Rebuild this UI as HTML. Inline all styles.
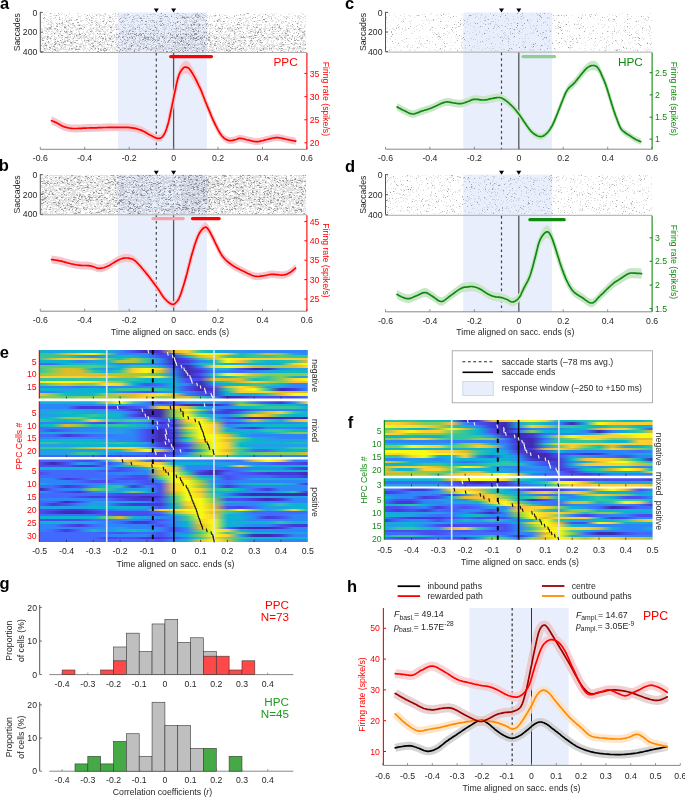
<!DOCTYPE html>
<html><head><meta charset="utf-8"><style>
html,body{margin:0;padding:0;background:#fff;width:685px;height:797px;overflow:hidden}
svg{display:block;font-family:"Liberation Sans",sans-serif;opacity:0.999}
</style></head><body><svg width="685" height="797" viewBox="0 0 685 797" font-family="Liberation Sans, sans-serif"><filter id="rb" x="-2%" y="-5%" width="104%" height="110%"><feGaussianBlur stdDeviation="0.4"/></filter><rect x="118.0" y="12.4" width="88.9" height="136.9" fill="#e8eefc"/><path d="M44 13.5h1m5 0h2m2 0h1m7 0h1m6 0h1m7 0h2m13 0h1m5 0h1m5 0h2m7 0h1m4 0h1m8 0h1m25 0h1m6 0h1m0 0h1m12 0h1m1 0h1m1 0h1m3 0h1m0 0h1m10 0h2m8 0h1m10 0h1m30 0h1m14 0h1m9 0h1m2 0h1m1 0h1m12 0h1m2 0h1m8 0h2M43 14.5h1m1 0h1m13 0h1m1 0h1m2 0h1m19 0h1m0 0h1m3 0h1m5 0h1m0 0h2m1 0h2m11 0h1m4 0h1m0 0h1m4 0h2m0 0h1m1 0h2m8 0h1m8 0h2m3 0h1m1 0h1m0 0h1m0 0h1m8 0h1m6 0h1m2 0h1m4 0h1m8 0h1m3 0h2m1 0h1m1 0h2m0 0h1m2 0h2m15 0h1m2 0h1m20 0h1m15 0h1m3 0h1m1 0h1m3 0h1m2 0h1m0 0h1m7 0h1m6 0h1m14 0h1M44 15.5h1m1 0h1m6 0h2m0 0h1m1 0h2m18 0h1m3 0h1m5 0h1m1 0h1m2 0h1m6 0h1m0 0h1m0 0h1m0 0h2m4 0h1m0 0h1m5 0h1m5 0h1m2 0h1m1 0h1m0 0h1m4 0h1m2 0h1m0 0h1m0 0h2m4 0h1m13 0h1m0 0h1m3 0h2m7 0h1m4 0h1m2 0h2m0 0h2m3 0h1m4 0h1m0 0h1m2 0h1m0 0h1m0 0h1m0 0h1m0 0h1m0 0h1m2 0h2m0 0h1m1 0h1m2 0h1m2 0h1m0 0h1m0 0h2m7 0h2m0 0h1m7 0h1m3 0h1m1 0h1m1 0h2m14 0h1m0 0h1m7 0h1m0 0h1m3 0h1m1 0h1m5 0h1m13 0h2m2 0h2m5 0h1M49 16.5h1m0 0h2m13 0h1m2 0h1m9 0h1m0 0h2m4 0h1m4 0h1m2 0h1m0 0h1m4 0h1m3 0h1m0 0h1m4 0h1m0 0h1m1 0h1m1 0h2m1 0h1m1 0h1m2 0h1m1 0h1m5 0h1m2 0h2m4 0h1m3 0h2m7 0h1m6 0h2m3 0h1m6 0h1m6 0h1m4 0h1m0 0h1m1 0h1m0 0h2m1 0h2m4 0h1m0 0h1m0 0h1m1 0h2m3 0h1m0 0h1m2 0h1m1 0h2m1 0h2m4 0h1m1 0h1m6 0h1m20 0h1m6 0h1m10 0h1m0 0h2m0 0h1m6 0h1m4 0h1m0 0h1m1 0h1m0 0h1m1 0h1m2 0h1m2 0h1m1 0h1m0 0h1m1 0h2m2 0h2M67 17.5h1m3 0h1m0 0h1m5 0h1m9 0h1m3 0h1m14 0h1m3 0h1m9 0h1m1 0h2m1 0h1m11 0h2m0 0h1m0 0h1m17 0h1m4 0h1m3 0h1m5 0h1m5 0h2m0 0h2m0 0h1m0 0h1m3 0h2m0 0h1m0 0h1m0 0h1m0 0h1m1 0h1m0 0h1m2 0h1m1 0h1m0 0h1m0 0h1m2 0h1m1 0h1m9 0h1m6 0h1m4 0h1m0 0h1m10 0h1m1 0h1m2 0h1m0 0h2m4 0h1m4 0h1m1 0h1m5 0h1m2 0h1m2 0h2m8 0h2m1 0h2m8 0h1m0 0h2m2 0h2M44 18.5h2m4 0h1m0 0h1m1 0h2m4 0h1m2 0h1m2 0h1m3 0h1m10 0h1m4 0h1m1 0h1m3 0h1m0 0h2m1 0h1m0 0h1m5 0h1m0 0h2m5 0h1m1 0h1m0 0h1m1 0h1m0 0h1m4 0h1m2 0h1m2 0h1m6 0h2m0 0h1m0 0h1m1 0h2m0 0h1m1 0h2m1 0h1m1 0h1m0 0h1m8 0h1m3 0h1m4 0h1m1 0h1m8 0h2m1 0h1m0 0h1m6 0h1m3 0h1m4 0h1m1 0h1m2 0h1m5 0h1m2 0h1m7 0h1m0 0h1m1 0h2m3 0h2m0 0h1m2 0h1m2 0h1m1 0h1m4 0h1m1 0h2m0 0h1m9 0h1m3 0h1m3 0h2m2 0h1m5 0h1m7 0h1m5 0h1m7 0h1m1 0h2m4 0h1M47 19.5h1m2 0h1m5 0h1m2 0h1m0 0h1m4 0h1m3 0h2m0 0h1m15 0h1m12 0h1m3 0h1m2 0h1m1 0h1m2 0h1m20 0h2m25 0h1m2 0h1m5 0h1m16 0h1m3 0h1m2 0h1m0 0h1m2 0h1m1 0h1m0 0h2m1 0h2m30 0h1m1 0h1m3 0h1m0 0h1m7 0h1m12 0h2m6 0h1m4 0h2m2 0h1m5 0h1m12 0h1m3 0h1M44 20.5h1m3 0h1m0 0h1m1 0h1m10 0h1m1 0h1m1 0h1m0 0h1m0 0h1m1 0h1m3 0h2m0 0h1m3 0h2m0 0h1m0 0h1m1 0h1m0 0h1m2 0h1m0 0h1m1 0h1m2 0h1m0 0h1m6 0h1m0 0h1m3 0h1m4 0h1m4 0h1m3 0h1m0 0h1m2 0h1m0 0h1m4 0h1m3 0h2m10 0h2m0 0h1m0 0h1m1 0h1m0 0h1m2 0h1m2 0h2m0 0h1m2 0h1m1 0h1m0 0h1m3 0h1m7 0h1m2 0h1m1 0h1m0 0h1m0 0h1m1 0h1m1 0h1m2 0h1m0 0h1m2 0h1m2 0h1m0 0h2m0 0h1m0 0h1m0 0h1m2 0h1m4 0h1m1 0h1m0 0h2m0 0h2m7 0h1m2 0h1m5 0h1m1 0h1m0 0h2m4 0h1m0 0h1m3 0h1m5 0h2m1 0h1m1 0h1m1 0h1m5 0h1m1 0h2m4 0h1m0 0h1m11 0h1m6 0h1M50 21.5h1m0 0h2m9 0h1m3 0h1m0 0h2m11 0h2m5 0h1m6 0h2m4 0h1m2 0h1m3 0h1m1 0h1m1 0h1m1 0h1m0 0h1m4 0h2m2 0h2m6 0h1m0 0h1m0 0h1m3 0h2m1 0h1m1 0h1m3 0h1m3 0h1m1 0h2m2 0h1m11 0h1m0 0h1m14 0h1m0 0h1m0 0h1m2 0h1m0 0h2m0 0h1m0 0h2m1 0h2m7 0h1m2 0h1m4 0h1m3 0h2m1 0h2m1 0h1m3 0h1m12 0h1m4 0h2m1 0h1m3 0h2m1 0h2m5 0h1m4 0h2m2 0h2m3 0h1m1 0h1m2 0h1m0 0h2m2 0h1m5 0h2m6 0h1m0 0h1m3 0h1M42 22.5h1m0 0h1m4 0h1m1 0h1m0 0h1m3 0h1m1 0h1m6 0h1m2 0h2m0 0h1m7 0h1m10 0h1m8 0h1m1 0h1m11 0h1m8 0h1m2 0h1m4 0h1m2 0h1m1 0h2m5 0h1m7 0h1m2 0h1m1 0h1m0 0h1m10 0h1m9 0h1m0 0h2m2 0h1m3 0h1m0 0h2m5 0h1m0 0h1m0 0h1m10 0h1m16 0h1m11 0h1m3 0h1m0 0h1m3 0h1m1 0h1m2 0h1m8 0h1m4 0h2m1 0h2m8 0h1m0 0h1m4 0h1m1 0h1m4 0h1m0 0h1m7 0h2m2 0h2M48 23.5h1m2 0h2m0 0h1m4 0h1m0 0h1m9 0h2m17 0h1m0 0h1m5 0h1m1 0h1m0 0h1m1 0h1m2 0h1m9 0h1m28 0h1m3 0h1m10 0h1m2 0h1m1 0h1m4 0h2m1 0h1m3 0h1m9 0h1m1 0h1m5 0h1m0 0h1m0 0h1m2 0h1m0 0h1m0 0h1m5 0h1m0 0h1m4 0h1m4 0h1m3 0h1m2 0h2m0 0h1m2 0h1m5 0h1m2 0h1m5 0h1m5 0h1m2 0h1m3 0h1m12 0h1m11 0h1m0 0h1m5 0h2m6 0h1m1 0h1M47 24.5h1m0 0h2m0 0h2m1 0h1m5 0h2m1 0h1m0 0h1m0 0h1m0 0h1m2 0h1m1 0h1m0 0h1m0 0h1m0 0h1m4 0h1m0 0h2m2 0h2m1 0h1m0 0h1m2 0h2m0 0h1m5 0h2m8 0h1m3 0h1m0 0h1m1 0h1m0 0h1m0 0h1m2 0h1m0 0h1m2 0h1m0 0h1m1 0h2m1 0h1m1 0h1m1 0h1m3 0h1m1 0h1m0 0h1m0 0h1m1 0h1m0 0h2m1 0h1m0 0h1m4 0h1m1 0h2m1 0h1m0 0h1m0 0h1m2 0h1m0 0h1m2 0h1m4 0h1m1 0h1m4 0h1m0 0h1m0 0h1m1 0h2m1 0h1m0 0h1m1 0h1m0 0h1m1 0h2m0 0h1m0 0h1m0 0h1m0 0h1m0 0h1m0 0h1m1 0h1m0 0h2m1 0h1m0 0h2m0 0h1m1 0h1m4 0h1m5 0h1m0 0h1m4 0h1m1 0h1m5 0h2m5 0h1m0 0h1m2 0h1m5 0h1m1 0h2m0 0h2m0 0h1m0 0h1m0 0h1m2 0h2m3 0h1m3 0h2m0 0h1m0 0h2m1 0h1m7 0h1m4 0h1m4 0h1m2 0h1m0 0h1m3 0h1M43 25.5h1m6 0h1m0 0h1m4 0h1m0 0h1m3 0h2m2 0h1m1 0h1m4 0h1m0 0h1m3 0h1m1 0h2m0 0h1m0 0h1m2 0h1m3 0h1m0 0h1m0 0h1m3 0h1m0 0h2m1 0h2m0 0h1m2 0h1m2 0h1m1 0h2m1 0h1m2 0h1m0 0h1m0 0h1m5 0h1m1 0h1m3 0h1m1 0h1m5 0h1m0 0h1m0 0h1m6 0h1m2 0h1m1 0h1m0 0h1m5 0h1m2 0h2m0 0h1m0 0h1m1 0h1m0 0h2m1 0h1m0 0h2m2 0h1m0 0h1m2 0h1m2 0h1m1 0h1m0 0h1m1 0h2m1 0h1m0 0h2m0 0h1m0 0h1m1 0h1m0 0h1m0 0h1m0 0h1m0 0h1m4 0h1m0 0h1m1 0h1m1 0h1m4 0h1m0 0h1m0 0h1m8 0h1m0 0h1m1 0h1m2 0h2m1 0h1m0 0h1m2 0h1m0 0h1m2 0h1m0 0h1m0 0h1m0 0h1m0 0h1m1 0h1m1 0h1m5 0h1m1 0h1m1 0h1m4 0h1m0 0h1m1 0h1m0 0h1m2 0h1m0 0h1m0 0h1m1 0h2m0 0h1m6 0h1m0 0h1m0 0h1m1 0h1m2 0h1m6 0h1m3 0h1M44 26.5h1m6 0h1m1 0h1m3 0h1m1 0h1m2 0h1m2 0h1m0 0h1m1 0h2m4 0h2m6 0h2m0 0h1m1 0h1m12 0h1m2 0h1m0 0h2m0 0h1m0 0h1m1 0h1m0 0h2m0 0h1m3 0h2m1 0h1m3 0h1m6 0h2m0 0h1m1 0h1m5 0h1m6 0h1m0 0h1m2 0h1m1 0h1m1 0h1m0 0h1m8 0h1m4 0h1m5 0h1m2 0h1m0 0h2m5 0h1m0 0h1m3 0h1m13 0h1m0 0h2m0 0h1m1 0h1m9 0h1m0 0h1m0 0h1m3 0h1m5 0h1m0 0h1m13 0h1m8 0h1m0 0h1m6 0h1m0 0h1m6 0h1m2 0h1m3 0h1m3 0h1m3 0h2m1 0h1m0 0h2m1 0h1m2 0h1m3 0h1m2 0h2M45 27.5h1m0 0h1m1 0h1m2 0h1m8 0h2m2 0h2m0 0h1m3 0h1m0 0h2m0 0h2m0 0h1m4 0h2m2 0h1m5 0h1m2 0h1m0 0h1m1 0h1m1 0h2m1 0h1m0 0h2m0 0h1m0 0h1m1 0h1m2 0h1m0 0h1m0 0h1m1 0h1m0 0h1m0 0h2m6 0h2m2 0h1m3 0h1m0 0h2m2 0h1m5 0h1m2 0h1m0 0h1m1 0h1m4 0h1m0 0h1m0 0h2m4 0h1m0 0h1m1 0h1m0 0h1m2 0h1m2 0h1m3 0h1m0 0h1m2 0h1m4 0h2m2 0h1m0 0h2m0 0h1m2 0h1m0 0h1m1 0h1m0 0h2m1 0h2m7 0h1m1 0h1m5 0h1m2 0h1m1 0h1m3 0h2m4 0h2m1 0h1m1 0h1m0 0h1m2 0h1m2 0h1m0 0h1m1 0h1m1 0h1m1 0h1m0 0h1m0 0h1m0 0h1m4 0h1m3 0h1m4 0h1m0 0h2m0 0h1m1 0h1m10 0h1m6 0h1m3 0h2m5 0h1M41 28.5h1m2 0h2m0 0h1m1 0h1m1 0h2m4 0h1m7 0h1m0 0h1m0 0h1m1 0h1m2 0h2m3 0h1m0 0h1m0 0h2m1 0h1m1 0h1m6 0h2m0 0h1m3 0h2m2 0h1m0 0h1m2 0h1m6 0h1m5 0h2m5 0h1m0 0h1m6 0h1m0 0h1m5 0h1m1 0h2m4 0h2m1 0h2m8 0h1m3 0h1m0 0h1m0 0h1m2 0h1m3 0h1m0 0h1m0 0h1m0 0h1m0 0h1m2 0h1m0 0h1m3 0h1m1 0h1m0 0h1m0 0h1m0 0h1m0 0h2m0 0h1m0 0h1m0 0h1m0 0h2m0 0h1m0 0h1m0 0h1m1 0h1m1 0h1m1 0h1m0 0h1m1 0h1m0 0h1m0 0h1m0 0h1m1 0h2m1 0h1m0 0h1m0 0h1m1 0h1m2 0h1m0 0h1m1 0h1m0 0h1m0 0h2m0 0h2m1 0h1m3 0h1m0 0h2m0 0h1m4 0h1m8 0h1m3 0h1m0 0h1m0 0h1m1 0h1m0 0h2m0 0h1m0 0h2m1 0h1m1 0h1m3 0h1m1 0h1m0 0h1m0 0h1m0 0h1m0 0h1m3 0h1m0 0h1m0 0h2m0 0h2m1 0h1m1 0h1m3 0h1m1 0h1m0 0h1m0 0h1M41 29.5h1m0 0h1m5 0h1m0 0h2m0 0h1m0 0h1m1 0h2m1 0h1m1 0h1m1 0h1m1 0h1m2 0h1m0 0h2m1 0h1m4 0h2m0 0h1m0 0h1m0 0h2m1 0h2m2 0h1m1 0h1m0 0h1m0 0h2m3 0h1m0 0h1m0 0h1m0 0h1m2 0h1m3 0h1m1 0h2m1 0h2m1 0h2m1 0h1m0 0h2m0 0h2m1 0h1m4 0h1m2 0h1m0 0h2m0 0h1m0 0h1m3 0h1m0 0h1m2 0h1m2 0h1m2 0h2m0 0h1m3 0h1m1 0h2m4 0h1m0 0h1m0 0h2m8 0h1m0 0h1m0 0h1m1 0h1m2 0h1m2 0h1m0 0h1m2 0h2m2 0h1m0 0h1m0 0h1m7 0h1m1 0h1m5 0h1m4 0h1m0 0h1m0 0h2m0 0h1m7 0h1m0 0h1m0 0h1m1 0h1m0 0h1m1 0h1m3 0h1m3 0h1m4 0h1m2 0h1m1 0h1m1 0h1m0 0h1m7 0h1m0 0h2m3 0h1m0 0h1m1 0h1m1 0h1m5 0h1m6 0h1m5 0h1m0 0h1m0 0h2m1 0h1M42 30.5h1m1 0h2m0 0h1m1 0h1m7 0h1m0 0h2m2 0h1m0 0h1m1 0h1m2 0h1m2 0h1m2 0h1m2 0h1m1 0h1m8 0h1m1 0h1m1 0h2m3 0h1m0 0h1m0 0h1m0 0h1m0 0h1m2 0h1m2 0h1m0 0h1m3 0h1m0 0h2m9 0h2m1 0h1m12 0h1m3 0h1m1 0h2m6 0h2m2 0h2m0 0h1m4 0h1m3 0h1m2 0h1m4 0h1m0 0h1m2 0h1m1 0h1m0 0h1m0 0h2m1 0h1m0 0h1m1 0h1m0 0h1m1 0h1m1 0h1m4 0h1m5 0h1m2 0h1m3 0h1m1 0h1m2 0h1m1 0h2m6 0h1m0 0h1m0 0h2m0 0h1m0 0h1m5 0h1m8 0h1m0 0h1m2 0h1m1 0h1m0 0h1m2 0h1m0 0h1m0 0h1m0 0h1m2 0h2m1 0h1m0 0h1m0 0h1m3 0h1m3 0h1m1 0h2m2 0h2m0 0h1m1 0h1m0 0h1m0 0h1m2 0h1m6 0h2m0 0h1m2 0h1M42 31.5h1m2 0h1m0 0h1m1 0h1m0 0h1m1 0h1m0 0h1m3 0h1m0 0h1m0 0h1m1 0h1m0 0h1m2 0h2m0 0h1m0 0h1m0 0h1m2 0h2m5 0h2m3 0h1m2 0h1m0 0h1m2 0h1m1 0h1m2 0h1m0 0h1m1 0h1m1 0h1m0 0h1m1 0h1m0 0h1m0 0h1m1 0h1m2 0h1m1 0h1m8 0h1m0 0h1m0 0h1m1 0h2m0 0h1m0 0h1m3 0h1m2 0h1m3 0h1m0 0h1m0 0h1m2 0h1m3 0h2m4 0h2m5 0h1m2 0h1m7 0h1m0 0h1m0 0h1m0 0h1m0 0h1m1 0h1m0 0h1m5 0h1m0 0h1m1 0h1m2 0h1m0 0h1m0 0h1m0 0h1m2 0h1m0 0h2m0 0h1m2 0h1m0 0h2m1 0h1m1 0h1m2 0h1m3 0h1m3 0h1m1 0h1m2 0h1m0 0h1m1 0h1m1 0h2m0 0h1m4 0h1m0 0h2m2 0h1m3 0h1m0 0h1m4 0h2m1 0h1m0 0h1m1 0h1m1 0h1m0 0h1m2 0h1m6 0h2m0 0h2m0 0h2m1 0h1m4 0h1m1 0h1m0 0h1m1 0h1m0 0h1m7 0h1m1 0h1m0 0h1m0 0h1m0 0h2m1 0h1M42 32.5h1m4 0h1m5 0h1m1 0h1m1 0h1m2 0h1m6 0h1m1 0h2m0 0h1m0 0h1m3 0h1m2 0h1m3 0h1m2 0h1m0 0h2m2 0h1m1 0h1m10 0h2m3 0h1m1 0h1m4 0h1m3 0h1m0 0h1m4 0h1m1 0h1m5 0h1m16 0h1m2 0h1m3 0h1m4 0h1m0 0h1m3 0h2m1 0h1m1 0h1m1 0h1m0 0h1m3 0h1m5 0h1m2 0h1m0 0h1m2 0h1m3 0h2m2 0h2m0 0h2m0 0h1m0 0h1m2 0h2m0 0h1m6 0h2m1 0h1m2 0h2m7 0h2m0 0h2m11 0h1m0 0h2m2 0h1m0 0h1m2 0h2m2 0h2m2 0h1m5 0h2m9 0h1m1 0h2m1 0h1m1 0h2m3 0h1m5 0h1m3 0h1M43 33.5h1m1 0h1m0 0h2m3 0h1m0 0h1m1 0h1m0 0h2m1 0h1m0 0h1m0 0h1m2 0h1m0 0h1m1 0h2m4 0h1m1 0h2m5 0h1m2 0h2m2 0h2m0 0h1m1 0h1m0 0h1m3 0h1m1 0h1m3 0h2m0 0h1m2 0h1m1 0h1m5 0h1m2 0h1m0 0h1m0 0h1m0 0h1m3 0h1m0 0h1m2 0h1m0 0h1m1 0h1m0 0h1m1 0h1m2 0h1m0 0h1m2 0h1m1 0h1m0 0h1m1 0h1m1 0h1m0 0h1m0 0h1m0 0h2m0 0h1m0 0h2m2 0h1m0 0h1m2 0h1m1 0h2m0 0h1m5 0h1m3 0h1m1 0h1m1 0h1m1 0h1m0 0h1m0 0h2m0 0h1m1 0h1m0 0h1m0 0h1m2 0h2m1 0h1m0 0h1m3 0h1m0 0h2m0 0h2m0 0h1m10 0h1m1 0h1m7 0h1m0 0h1m3 0h2m3 0h1m0 0h1m2 0h1m1 0h1m0 0h1m1 0h1m0 0h2m3 0h1m0 0h1m5 0h1m2 0h2m0 0h2m2 0h1m1 0h1m1 0h1m1 0h1m0 0h1m1 0h1m1 0h1m2 0h2m7 0h1m0 0h1m3 0h1m4 0h2m0 0h1M42 34.5h1m5 0h1m1 0h1m0 0h1m2 0h1m4 0h1m0 0h1m0 0h1m5 0h1m0 0h1m0 0h1m0 0h1m1 0h1m0 0h1m0 0h1m0 0h1m0 0h1m0 0h1m0 0h1m0 0h1m0 0h1m4 0h1m3 0h2m2 0h2m3 0h1m0 0h1m0 0h2m0 0h1m0 0h1m0 0h1m0 0h1m0 0h1m0 0h1m0 0h1m4 0h2m4 0h2m1 0h1m0 0h1m3 0h1m1 0h2m1 0h1m1 0h2m0 0h1m1 0h1m0 0h1m0 0h2m2 0h1m2 0h1m0 0h2m0 0h1m4 0h1m2 0h1m1 0h1m1 0h1m0 0h1m0 0h1m5 0h1m0 0h2m0 0h2m3 0h1m1 0h1m0 0h1m0 0h1m0 0h2m0 0h1m0 0h1m0 0h2m0 0h1m1 0h1m2 0h1m0 0h2m0 0h1m2 0h1m2 0h1m4 0h2m0 0h1m3 0h1m0 0h1m0 0h2m0 0h1m1 0h1m2 0h1m0 0h1m0 0h1m0 0h1m0 0h1m1 0h1m4 0h2m2 0h1m0 0h1m1 0h1m0 0h1m1 0h1m7 0h1m1 0h1m3 0h1m1 0h1m5 0h1m1 0h1m0 0h1m0 0h1m0 0h1m0 0h1m8 0h1m3 0h1m0 0h1m0 0h1m0 0h1m1 0h1m7 0h1m3 0h1m0 0h1m0 0h1M41 35.5h1m5 0h1m4 0h1m5 0h1m2 0h2m3 0h1m1 0h1m5 0h1m1 0h2m0 0h2m1 0h1m0 0h1m0 0h1m3 0h2m0 0h1m5 0h1m11 0h1m1 0h1m0 0h1m1 0h1m3 0h1m1 0h1m7 0h1m4 0h1m4 0h2m0 0h1m11 0h1m2 0h1m0 0h1m1 0h2m2 0h1m0 0h1m1 0h2m1 0h2m2 0h1m0 0h2m4 0h1m7 0h1m5 0h1m0 0h2m0 0h1m4 0h1m0 0h1m1 0h1m1 0h1m0 0h2m3 0h1m0 0h1m0 0h1m0 0h1m5 0h1m1 0h2m3 0h1m4 0h1m2 0h1m1 0h1m0 0h1m2 0h1m2 0h1m2 0h1m4 0h2m2 0h1m1 0h1m4 0h2m3 0h1m4 0h1m0 0h1m3 0h1m1 0h1m0 0h1m1 0h2m0 0h1m0 0h2m13 0h2m0 0h1m0 0h1m0 0h1m0 0h1M41 36.5h1m1 0h1m0 0h1m0 0h1m0 0h1m7 0h1m3 0h2m2 0h1m1 0h1m2 0h1m0 0h1m0 0h2m1 0h1m3 0h1m0 0h1m0 0h1m1 0h1m0 0h1m1 0h2m0 0h1m3 0h1m3 0h1m1 0h1m0 0h1m4 0h1m2 0h2m1 0h1m1 0h1m2 0h1m1 0h1m0 0h1m6 0h1m0 0h1m0 0h1m0 0h1m0 0h1m2 0h1m3 0h1m2 0h1m2 0h1m2 0h1m2 0h1m0 0h1m0 0h1m1 0h1m0 0h1m0 0h1m1 0h1m2 0h2m1 0h1m0 0h2m0 0h1m2 0h2m2 0h1m2 0h1m0 0h1m0 0h1m2 0h1m0 0h2m0 0h1m0 0h1m1 0h1m0 0h2m0 0h1m2 0h1m0 0h1m0 0h1m0 0h1m1 0h1m4 0h1m1 0h1m0 0h2m4 0h1m0 0h2m0 0h1m1 0h1m1 0h2m2 0h1m1 0h1m1 0h1m3 0h1m0 0h2m4 0h1m0 0h1m2 0h2m0 0h1m5 0h1m0 0h1m0 0h1m0 0h1m2 0h1m0 0h1m5 0h1m0 0h2m0 0h1m4 0h2m1 0h1m2 0h1m0 0h2m1 0h1m1 0h1m0 0h1m0 0h1m2 0h1m0 0h1m0 0h1m4 0h1m2 0h1m0 0h1m0 0h1m3 0h1m1 0h2m0 0h2M41 37.5h1m0 0h1m0 0h1m0 0h2m1 0h1m0 0h2m0 0h1m3 0h1m0 0h1m0 0h1m2 0h1m0 0h2m0 0h1m3 0h1m1 0h1m0 0h2m2 0h1m0 0h1m1 0h1m0 0h1m1 0h1m1 0h1m0 0h1m0 0h1m0 0h1m0 0h1m0 0h1m0 0h1m1 0h1m0 0h1m0 0h1m0 0h1m0 0h1m1 0h1m2 0h1m0 0h2m1 0h1m0 0h1m1 0h1m2 0h1m0 0h2m0 0h1m1 0h2m0 0h1m1 0h1m0 0h1m1 0h1m1 0h1m0 0h1m3 0h1m1 0h2m0 0h1m0 0h1m1 0h2m2 0h1m0 0h1m0 0h1m0 0h2m0 0h1m4 0h2m0 0h1m0 0h1m0 0h1m0 0h2m1 0h1m0 0h2m0 0h1m2 0h1m0 0h2m0 0h1m0 0h1m0 0h1m1 0h1m0 0h1m0 0h1m0 0h2m1 0h1m0 0h1m1 0h2m0 0h1m0 0h1m0 0h1m0 0h2m0 0h1m1 0h1m0 0h2m0 0h1m0 0h1m0 0h1m0 0h1m0 0h1m0 0h1m0 0h1m0 0h1m0 0h1m1 0h1m1 0h1m0 0h1m1 0h2m1 0h1m0 0h1m2 0h1m0 0h1m0 0h1m1 0h1m0 0h2m2 0h2m0 0h1m0 0h1m0 0h2m0 0h1m0 0h1m0 0h1m2 0h2m0 0h1m0 0h1m4 0h2m2 0h1m0 0h1m1 0h1m0 0h1m0 0h2m2 0h1m0 0h1m0 0h1m0 0h1m0 0h1m0 0h1m2 0h1m1 0h1m0 0h1m0 0h1m0 0h1m1 0h1m0 0h1m1 0h1m0 0h1m0 0h1m0 0h1m0 0h1m0 0h2m0 0h1m1 0h1m0 0h1m0 0h1m1 0h1m0 0h1m0 0h1m2 0h1m0 0h1m1 0h1m1 0h1m1 0h1m0 0h1m0 0h1m0 0h2m0 0h2M43 38.5h2m1 0h1m0 0h2m0 0h1m0 0h2m2 0h1m1 0h1m1 0h1m2 0h1m2 0h1m0 0h1m1 0h1m0 0h1m2 0h2m2 0h1m1 0h2m2 0h1m1 0h2m2 0h2m2 0h1m0 0h1m2 0h1m0 0h1m0 0h1m2 0h2m0 0h2m2 0h1m1 0h1m1 0h1m1 0h2m2 0h2m5 0h2m2 0h1m0 0h1m1 0h1m0 0h1m0 0h1m6 0h1m3 0h1m1 0h2m0 0h1m2 0h1m6 0h2m0 0h1m3 0h1m0 0h1m1 0h1m6 0h1m0 0h1m0 0h1m0 0h1m0 0h2m0 0h1m0 0h1m0 0h1m0 0h1m0 0h1m0 0h2m0 0h1m0 0h1m0 0h1m3 0h1m1 0h1m0 0h1m0 0h1m1 0h1m0 0h2m0 0h1m0 0h1m3 0h1m0 0h2m0 0h1m0 0h1m7 0h1m0 0h1m2 0h2m0 0h2m1 0h1m0 0h2m0 0h1m0 0h1m1 0h2m0 0h1m0 0h2m1 0h1m0 0h1m2 0h1m1 0h1m3 0h1m1 0h1m0 0h2m0 0h1m4 0h1m0 0h1m2 0h1m0 0h2m0 0h1m1 0h1m2 0h2m2 0h1m0 0h1m0 0h2m1 0h1m6 0h1m0 0h2m0 0h2m2 0h1m5 0h1m0 0h1m3 0h1M41 39.5h1m0 0h1m3 0h1m3 0h1m2 0h1m0 0h2m8 0h1m2 0h2m3 0h1m5 0h1m2 0h1m2 0h1m3 0h1m0 0h1m0 0h2m1 0h1m1 0h1m2 0h1m3 0h1m0 0h1m1 0h2m2 0h1m1 0h2m2 0h1m0 0h2m7 0h1m1 0h1m0 0h2m3 0h1m0 0h2m3 0h2m2 0h1m1 0h1m0 0h1m2 0h2m0 0h1m3 0h1m0 0h1m0 0h2m0 0h1m3 0h1m1 0h1m3 0h1m0 0h1m4 0h1m1 0h2m1 0h1m0 0h2m2 0h1m6 0h1m2 0h1m2 0h1m0 0h1m3 0h1m2 0h1m0 0h1m7 0h1m1 0h1m0 0h1m2 0h1m4 0h1m3 0h2m4 0h1m7 0h1m6 0h1m7 0h1m2 0h1m1 0h1m0 0h1m1 0h2m7 0h1m4 0h2m0 0h1m7 0h1m2 0h1m5 0h1m0 0h1M42 40.5h1m0 0h1m7 0h1m2 0h1m2 0h1m2 0h2m2 0h1m0 0h1m0 0h1m1 0h1m1 0h1m2 0h1m0 0h2m5 0h1m2 0h1m3 0h1m0 0h1m0 0h1m0 0h1m1 0h2m0 0h1m1 0h1m7 0h2m0 0h1m0 0h2m4 0h1m1 0h1m4 0h1m1 0h1m1 0h1m0 0h1m0 0h1m0 0h1m2 0h1m0 0h1m0 0h1m0 0h1m2 0h1m1 0h2m0 0h1m0 0h1m1 0h1m3 0h2m0 0h1m1 0h2m1 0h1m2 0h1m0 0h1m9 0h1m1 0h1m0 0h1m0 0h1m2 0h1m0 0h1m3 0h1m0 0h1m2 0h1m3 0h1m1 0h1m0 0h1m1 0h1m0 0h2m0 0h1m1 0h1m1 0h2m0 0h1m1 0h1m0 0h1m0 0h1m2 0h1m1 0h1m0 0h1m3 0h1m1 0h1m0 0h1m2 0h1m1 0h1m2 0h2m1 0h2m2 0h1m1 0h1m2 0h1m0 0h2m5 0h1m2 0h1m0 0h1m1 0h1m1 0h1m2 0h1m0 0h2m1 0h1m2 0h1m1 0h1m2 0h1m1 0h2m2 0h1m3 0h1m2 0h1m0 0h1m1 0h1m1 0h1m5 0h1m3 0h1m1 0h1m0 0h1m0 0h1m0 0h1M46 41.5h1m3 0h1m4 0h1m1 0h1m4 0h2m4 0h2m0 0h1m1 0h1m0 0h1m8 0h1m1 0h1m0 0h1m3 0h1m6 0h1m0 0h2m1 0h1m3 0h1m0 0h2m1 0h1m1 0h1m0 0h1m0 0h1m3 0h1m1 0h1m6 0h1m3 0h1m3 0h1m0 0h1m0 0h1m2 0h1m3 0h1m0 0h2m1 0h2m3 0h1m4 0h1m0 0h1m5 0h2m0 0h1m1 0h1m3 0h1m1 0h1m0 0h2m1 0h1m2 0h1m0 0h1m0 0h1m0 0h1m0 0h1m0 0h1m0 0h1m1 0h2m0 0h1m1 0h1m0 0h1m1 0h1m6 0h1m6 0h2m0 0h2m3 0h2m0 0h1m0 0h1m4 0h1m1 0h1m0 0h1m0 0h1m1 0h1m0 0h1m1 0h1m2 0h1m2 0h1m0 0h2m3 0h1m3 0h1m0 0h1m0 0h2m2 0h1m3 0h1m0 0h1m6 0h1m3 0h1m1 0h1m14 0h1m0 0h1m0 0h1m12 0h2m0 0h1M45 42.5h1m1 0h1m1 0h1m5 0h1m0 0h1m2 0h1m0 0h1m0 0h1m0 0h1m1 0h2m4 0h1m1 0h1m0 0h1m8 0h1m2 0h1m0 0h1m0 0h1m4 0h1m0 0h1m3 0h1m0 0h2m1 0h1m0 0h2m0 0h2m1 0h1m4 0h2m4 0h1m0 0h2m0 0h2m1 0h1m2 0h1m2 0h1m4 0h1m1 0h1m0 0h1m0 0h1m1 0h1m4 0h1m3 0h1m5 0h1m6 0h1m4 0h2m0 0h1m1 0h1m1 0h1m1 0h1m3 0h1m2 0h2m0 0h1m0 0h1m0 0h1m0 0h1m1 0h1m0 0h2m2 0h1m4 0h1m3 0h2m5 0h1m8 0h1m1 0h1m0 0h1m1 0h1m2 0h1m0 0h1m1 0h1m1 0h1m0 0h1m0 0h1m0 0h1m2 0h1m0 0h1m1 0h2m6 0h2m1 0h1m4 0h2m7 0h1m3 0h2m7 0h2m0 0h1m10 0h1m0 0h1m0 0h1m4 0h1m1 0h1m0 0h1m1 0h1M42 43.5h2m0 0h2m2 0h1m2 0h2m5 0h2m2 0h1m0 0h1m6 0h1m1 0h1m0 0h1m1 0h2m0 0h2m1 0h1m0 0h2m2 0h1m2 0h2m3 0h1m1 0h1m1 0h2m1 0h1m1 0h1m1 0h1m2 0h1m3 0h1m4 0h1m0 0h2m3 0h1m3 0h1m4 0h1m2 0h1m0 0h1m0 0h1m4 0h2m0 0h1m0 0h1m2 0h1m0 0h1m3 0h1m4 0h1m4 0h1m1 0h2m11 0h2m0 0h1m1 0h1m2 0h1m2 0h1m1 0h1m1 0h1m1 0h1m0 0h1m2 0h1m0 0h1m0 0h1m0 0h1m0 0h1m0 0h1m1 0h1m2 0h1m2 0h1m0 0h1m0 0h1m4 0h2m3 0h2m0 0h1m2 0h1m0 0h2m2 0h1m0 0h1m0 0h1m2 0h1m5 0h1m0 0h2m0 0h1m5 0h1m8 0h1m4 0h1m0 0h1m5 0h1m2 0h1m2 0h1m0 0h1m0 0h1m8 0h1m0 0h2m1 0h1m2 0h1m1 0h1m0 0h1m2 0h2M42 44.5h1m1 0h1m0 0h1m0 0h1m2 0h1m0 0h2m0 0h1m1 0h1m0 0h1m1 0h1m0 0h2m0 0h1m1 0h1m0 0h2m1 0h1m1 0h1m0 0h1m1 0h1m0 0h1m5 0h1m0 0h2m0 0h2m2 0h1m2 0h1m0 0h1m0 0h1m1 0h1m7 0h1m0 0h1m1 0h1m0 0h1m1 0h1m0 0h1m0 0h1m2 0h1m1 0h1m1 0h1m0 0h1m1 0h1m2 0h1m0 0h1m1 0h1m0 0h1m3 0h2m1 0h1m0 0h2m1 0h1m0 0h1m0 0h1m2 0h1m0 0h1m0 0h1m0 0h1m2 0h1m0 0h1m0 0h1m0 0h1m2 0h1m0 0h2m3 0h1m0 0h1m1 0h1m2 0h1m1 0h1m0 0h2m2 0h1m1 0h2m1 0h1m0 0h1m0 0h1m0 0h2m0 0h1m0 0h1m0 0h1m0 0h1m0 0h1m0 0h1m0 0h1m0 0h1m0 0h1m0 0h1m0 0h1m0 0h1m0 0h1m0 0h2m0 0h1m0 0h1m0 0h1m0 0h1m0 0h2m0 0h1m0 0h2m0 0h1m0 0h1m1 0h1m0 0h1m0 0h2m0 0h1m0 0h1m0 0h1m1 0h2m0 0h1m0 0h1m1 0h1m0 0h1m0 0h2m1 0h1m1 0h1m0 0h1m0 0h1m0 0h1m6 0h1m0 0h1m2 0h1m0 0h1m0 0h1m2 0h1m2 0h1m0 0h1m1 0h2m1 0h1m1 0h1m0 0h1m1 0h1m2 0h1m2 0h1m0 0h1m0 0h2m0 0h1m0 0h1m3 0h1m1 0h1m0 0h1m0 0h1m1 0h2m0 0h2m0 0h2m0 0h1m2 0h1m0 0h1m3 0h2m3 0h1m0 0h1m0 0h1m0 0h1M43 45.5h1m0 0h1m0 0h1m0 0h1m0 0h1m3 0h1m1 0h2m2 0h1m1 0h2m0 0h1m0 0h1m2 0h2m0 0h2m0 0h1m0 0h1m0 0h1m0 0h1m2 0h1m0 0h1m3 0h1m3 0h1m0 0h1m0 0h1m2 0h1m0 0h1m2 0h1m0 0h1m0 0h1m1 0h1m1 0h2m0 0h1m0 0h1m5 0h1m1 0h1m0 0h1m0 0h1m4 0h1m1 0h2m0 0h2m3 0h1m2 0h1m0 0h1m0 0h1m1 0h1m4 0h2m3 0h1m0 0h1m6 0h2m3 0h1m0 0h1m0 0h1m0 0h1m0 0h1m3 0h1m1 0h1m0 0h1m1 0h1m1 0h1m1 0h1m1 0h1m0 0h2m0 0h1m0 0h1m0 0h1m1 0h1m0 0h2m0 0h1m0 0h1m0 0h1m0 0h1m1 0h1m1 0h1m1 0h2m0 0h1m0 0h1m0 0h1m3 0h1m0 0h1m1 0h1m0 0h1m3 0h1m0 0h1m2 0h1m0 0h1m0 0h1m2 0h1m0 0h1m1 0h2m1 0h2m0 0h1m0 0h1m0 0h1m1 0h1m5 0h2m0 0h1m4 0h1m6 0h1m2 0h2m4 0h1m0 0h1m1 0h1m0 0h1m1 0h2m3 0h2m0 0h2m0 0h1m0 0h2m3 0h1m0 0h1m0 0h2m8 0h1m0 0h1m7 0h1m0 0h2m0 0h1M42 46.5h1m0 0h1m0 0h1m1 0h1m2 0h1m1 0h1m0 0h1m0 0h1m6 0h2m0 0h1m1 0h2m4 0h2m1 0h1m2 0h1m0 0h1m3 0h1m1 0h1m7 0h1m0 0h2m2 0h1m0 0h2m2 0h2m0 0h1m0 0h1m6 0h1m0 0h1m2 0h1m0 0h2m8 0h1m1 0h2m0 0h2m1 0h1m1 0h2m0 0h1m0 0h2m0 0h1m2 0h1m1 0h2m3 0h1m0 0h1m4 0h1m1 0h1m0 0h1m0 0h1m2 0h1m2 0h1m4 0h1m0 0h1m0 0h2m0 0h2m1 0h1m3 0h1m1 0h1m2 0h1m2 0h1m0 0h1m0 0h1m1 0h1m6 0h1m5 0h1m2 0h1m0 0h1m1 0h1m3 0h1m1 0h1m0 0h1m0 0h2m2 0h2m1 0h1m5 0h1m2 0h1m0 0h1m1 0h1m0 0h2m1 0h2m1 0h1m0 0h1m0 0h1m2 0h1m0 0h2m0 0h1m5 0h2m0 0h1m0 0h1m3 0h1m0 0h1m2 0h2m4 0h2m3 0h1m3 0h2m1 0h1m5 0h1m0 0h1m1 0h1M43 47.5h1m2 0h1m2 0h1m0 0h1m3 0h1m0 0h1m0 0h1m0 0h1m5 0h1m0 0h1m0 0h1m3 0h1m3 0h1m0 0h1m0 0h1m0 0h1m2 0h2m0 0h1m1 0h1m0 0h2m3 0h1m0 0h1m2 0h2m0 0h1m1 0h1m4 0h1m1 0h1m1 0h2m0 0h1m1 0h1m0 0h1m1 0h1m0 0h1m1 0h2m0 0h1m0 0h1m2 0h2m0 0h1m1 0h1m2 0h1m1 0h1m7 0h1m0 0h1m1 0h1m1 0h1m0 0h1m0 0h1m0 0h2m2 0h2m0 0h1m0 0h1m0 0h1m0 0h1m1 0h1m0 0h1m0 0h1m0 0h1m0 0h1m1 0h1m0 0h1m1 0h2m0 0h1m4 0h1m0 0h1m0 0h2m1 0h2m0 0h1m0 0h2m0 0h1m0 0h1m0 0h2m0 0h1m0 0h1m0 0h1m0 0h1m0 0h2m0 0h1m0 0h2m1 0h1m0 0h1m1 0h1m0 0h1m0 0h1m0 0h1m0 0h1m0 0h1m3 0h1m0 0h2m0 0h1m2 0h2m0 0h1m1 0h2m1 0h1m1 0h1m1 0h1m2 0h1m0 0h1m3 0h1m0 0h2m4 0h1m0 0h1m2 0h1m2 0h1m1 0h1m2 0h1m1 0h1m0 0h1m2 0h1m2 0h1m0 0h1m0 0h1m0 0h1m2 0h1m1 0h1m0 0h1m0 0h1m4 0h1m8 0h2m0 0h1m3 0h1m0 0h2m1 0h2m0 0h1m0 0h1m0 0h1m1 0h1M41 48.5h1m2 0h2m0 0h1m0 0h1m3 0h1m0 0h1m0 0h1m1 0h1m0 0h1m0 0h1m0 0h1m1 0h1m0 0h1m0 0h2m1 0h1m5 0h1m1 0h1m0 0h1m0 0h1m0 0h1m1 0h1m0 0h1m2 0h1m1 0h1m0 0h1m1 0h1m2 0h1m1 0h1m1 0h2m1 0h1m0 0h1m1 0h1m0 0h1m1 0h2m0 0h1m1 0h1m2 0h1m1 0h1m1 0h1m0 0h1m2 0h2m2 0h1m0 0h1m3 0h1m1 0h1m0 0h1m3 0h2m2 0h1m3 0h1m0 0h2m3 0h1m0 0h1m1 0h1m0 0h1m0 0h1m0 0h2m1 0h1m0 0h1m0 0h2m1 0h1m1 0h2m0 0h1m1 0h1m1 0h1m1 0h1m1 0h1m0 0h1m1 0h1m0 0h1m0 0h2m0 0h2m0 0h1m0 0h1m0 0h1m0 0h1m0 0h1m2 0h1m0 0h1m2 0h1m0 0h1m0 0h1m0 0h1m0 0h1m0 0h2m0 0h1m0 0h1m0 0h1m0 0h1m0 0h1m1 0h1m1 0h1m2 0h1m3 0h1m1 0h1m0 0h2m0 0h1m1 0h1m0 0h1m0 0h1m0 0h1m1 0h2m2 0h1m0 0h2m0 0h2m2 0h1m1 0h1m0 0h1m0 0h1m2 0h1m2 0h2m0 0h1m0 0h2m0 0h1m1 0h2m1 0h1m1 0h1m0 0h1m0 0h1m0 0h1m0 0h1m0 0h1m0 0h1m1 0h1m0 0h1m0 0h1m1 0h2m0 0h1m0 0h1m0 0h1m1 0h1m0 0h2m6 0h1m0 0h1m0 0h1m0 0h1m0 0h1m3 0h1m0 0h1m0 0h1m0 0h2m0 0h1m0 0h2m0 0h2M43 49.5h1m0 0h2m0 0h1m0 0h1m0 0h1m3 0h1m0 0h1m0 0h1m2 0h1m1 0h1m0 0h1m0 0h1m1 0h1m0 0h1m0 0h1m0 0h1m0 0h1m0 0h1m0 0h1m0 0h1m0 0h2m2 0h1m0 0h1m3 0h1m2 0h1m0 0h1m1 0h1m1 0h1m1 0h1m1 0h1m1 0h2m5 0h2m3 0h2m0 0h1m0 0h1m2 0h1m1 0h1m0 0h1m0 0h1m3 0h1m0 0h1m2 0h1m1 0h1m0 0h1m1 0h1m0 0h1m0 0h2m1 0h1m0 0h1m0 0h2m0 0h2m0 0h2m1 0h1m2 0h1m0 0h1m0 0h1m0 0h2m0 0h1m0 0h1m0 0h1m1 0h1m1 0h1m1 0h1m1 0h2m0 0h2m0 0h2m1 0h1m2 0h1m0 0h1m0 0h2m1 0h1m0 0h2m0 0h1m1 0h1m0 0h1m0 0h1m1 0h1m2 0h1m1 0h1m0 0h1m1 0h1m2 0h1m0 0h1m0 0h1m0 0h1m0 0h1m0 0h1m1 0h1m0 0h1m0 0h2m0 0h1m0 0h1m1 0h1m0 0h1m0 0h2m0 0h1m1 0h1m1 0h1m1 0h1m1 0h2m0 0h1m2 0h1m0 0h1m0 0h1m1 0h1m1 0h1m0 0h2m1 0h2m0 0h2m1 0h1m0 0h1m0 0h2m0 0h1m0 0h1m2 0h1m1 0h1m0 0h1m0 0h1m1 0h1m0 0h1m0 0h1m0 0h1m0 0h1m1 0h1m1 0h1m0 0h2m0 0h1m1 0h1m0 0h1m0 0h1m4 0h1m0 0h1m0 0h1m1 0h1m1 0h1m0 0h2m0 0h1m0 0h1m1 0h1m0 0h1m2 0h1m0 0h1m0 0h1m1 0h1m1 0h1m2 0h2m0 0h1m0 0h1M44 50.5h2m4 0h1m2 0h1m0 0h1m0 0h2m0 0h1m0 0h1m0 0h1m8 0h1m0 0h1m1 0h1m3 0h1m7 0h1m9 0h1m15 0h1m3 0h1m5 0h2m1 0h1m0 0h1m1 0h1m0 0h1m2 0h2m3 0h1m4 0h1m6 0h1m4 0h1m4 0h1m0 0h1m0 0h1m4 0h1m9 0h1m0 0h1m2 0h1m0 0h1m5 0h2m1 0h2m3 0h2m0 0h1m0 0h1m3 0h1m2 0h1m3 0h2m2 0h1m0 0h1m1 0h1m3 0h1m0 0h2m2 0h1m1 0h1m1 0h2m2 0h1m6 0h1m2 0h1m3 0h2m0 0h1m4 0h1m3 0h1m3 0h1m0 0h1m1 0h1m0 0h1m3 0h1m1 0h1m1 0h1m5 0h2m1 0h1m1 0h1m9 0h1m0 0h1m1 0h1m6 0h1M41 51.5h1m4 0h1m1 0h1m7 0h1m0 0h2m6 0h2m0 0h1m4 0h1m0 0h1m3 0h2m7 0h1m11 0h1m11 0h1m1 0h1m1 0h1m2 0h1m7 0h1m0 0h1m0 0h1m5 0h1m0 0h1m1 0h1m2 0h1m6 0h1m6 0h1m5 0h2m0 0h1m0 0h1m0 0h1m2 0h1m0 0h1m1 0h2m0 0h1m2 0h1m0 0h1m0 0h1m5 0h1m0 0h1m2 0h1m1 0h1m2 0h1m0 0h1m2 0h2m0 0h1m1 0h1m3 0h1m1 0h1m5 0h1m0 0h1m0 0h1m1 0h1m0 0h1m2 0h1m4 0h1m0 0h1m3 0h2m1 0h1m0 0h1m3 0h2m0 0h1m1 0h2m2 0h1m2 0h1m1 0h1m1 0h1m0 0h1m0 0h1m2 0h1m6 0h1m0 0h1m14 0h1m2 0h1m0 0h2m2 0h1m1 0h1m0 0h1m0 0h1m2 0h2m6 0h1" stroke="#000" stroke-opacity="0.12" stroke-width="1" fill="none" filter="url(#rb)"/><path d="M50 13.5h1m7 0h1m56 0h1m45 0h1m15 0h1m19 0h1m3 0h1m45 0h2M105 14.5h1m22 0h1m21 0h1m14 0h1m19 0h1m10 0h1m43 0h1m3 0h1m9 0h1m10 0h1M56 15.5h1m9 0h1m20 0h1m8 0h1m98 0h1m2 0h1m16 0h1m3 0h1m16 0h1M147 16.5h1m13 0h1m3 0h2m0 0h1m3 0h1m10 0h1m12 0h1m3 0h1m34 0h1m27 0h1M44 17.5h1m10 0h1m3 0h1m31 0h1m17 0h2m18 0h1m3 0h1m42 0h1m5 0h1m0 0h2m1 0h1m0 0h2m8 0h1m0 0h1m3 0h1m23 0h1m0 0h1m25 0h1m1 0h1M43 18.5h1m42 0h1m33 0h1m4 0h1m14 0h2m18 0h2m15 0h1m6 0h1m0 0h1m6 0h1m46 0h2m11 0h1m18 0h1m14 0h1m5 0h1M59 19.5h1m16 0h2m11 0h1m29 0h1m12 0h1m85 0h2m43 0h2M69 20.5h1m1 0h1m19 0h1m49 0h2m9 0h1m43 0h1m9 0h1m10 0h1m41 0h1M46 21.5h1m19 0h1m35 0h2m5 0h2m11 0h1m22 0h2m12 0h1m0 0h1m0 0h1m15 0h2m17 0h1m17 0h1m2 0h1m5 0h2m29 0h1m10 0h2m18 0h1m9 0h1M62 22.5h1m14 0h2m12 0h2m3 0h1m9 0h1m14 0h1m32 0h1m1 0h1m13 0h1m2 0h1m3 0h1m2 0h1m13 0h2m35 0h1m6 0h1M56 23.5h1m2 0h1m1 0h2m9 0h2m32 0h1m55 0h1m12 0h1m31 0h1m33 0h1m55 0h1M57 24.5h1m38 0h1m8 0h1m39 0h1m17 0h1m18 0h2m7 0h1m1 0h2m4 0h1m6 0h1m3 0h1m10 0h1m15 0h1m0 0h1m0 0h1m37 0h1m14 0h1M68 25.5h1m5 0h1m3 0h2m74 0h1m5 0h2m10 0h1m18 0h1m7 0h1m2 0h1m9 0h1m35 0h1M51 26.5h1m4 0h2m6 0h1m34 0h1m98 0h1m16 0h1m6 0h1m30 0h1m25 0h1m17 0h1M49 27.5h2m13 0h2m18 0h1m25 0h1m0 0h1m11 0h1m13 0h1m1 0h1m15 0h1m32 0h1m14 0h1m14 0h1m11 0h1m6 0h1m3 0h1m14 0h2m14 0h1m1 0h1m3 0h2M47 28.5h1m1 0h2m3 0h2m23 0h1m0 0h2m11 0h1m41 0h1m20 0h1m19 0h1m1 0h1m7 0h1m19 0h1m12 0h1m0 0h1m1 0h1m4 0h1m10 0h1m8 0h1m32 0h1m18 0h2M47 29.5h1m9 0h1m44 0h1m13 0h1m18 0h1m14 0h1m20 0h1m10 0h2m8 0h2m1 0h1m25 0h1m13 0h2m14 0h1m7 0h1m0 0h1m11 0h1m2 0h1m10 0h1m7 0h1m3 0h2M129 30.5h2m21 0h2m2 0h1m39 0h1m1 0h1m33 0h1m36 0h1m17 0h1M60 31.5h1m3 0h1m1 0h1m3 0h1m0 0h1m18 0h2m7 0h1m22 0h1m6 0h1m2 0h2m11 0h1m0 0h1m11 0h1m21 0h1m12 0h2m3 0h1m17 0h2m2 0h1m13 0h1m5 0h1m9 0h1m0 0h1m6 0h1m5 0h1m13 0h1m8 0h1m16 0h1M65 32.5h1m0 0h1m43 0h1m0 0h1m11 0h1m80 0h1m1 0h1m36 0h1m11 0h1m1 0h2m1 0h1m35 0h1m5 0h2M54 33.5h1m16 0h1m7 0h1m2 0h1m14 0h1m2 0h1m18 0h1m8 0h1m1 0h1m1 0h1m3 0h1m3 0h1m1 0h1m0 0h1m6 0h1m6 0h1m3 0h1m6 0h1m1 0h1m12 0h1m10 0h2m0 0h1m12 0h1m2 0h1m21 0h1m22 0h1m15 0h1m8 0h1m2 0h1m0 0h1m11 0h1M69 34.5h1m0 0h1m8 0h2m4 0h1m18 0h1m11 0h1m0 0h1m7 0h1m2 0h1m5 0h1m0 0h1m3 0h1m1 0h1m11 0h1m16 0h1m5 0h1m1 0h1m1 0h1m4 0h2m1 0h1m2 0h1m2 0h2m0 0h1m64 0h1m42 0h1M58 35.5h1m2 0h2m13 0h1m7 0h1m29 0h1m21 0h1m1 0h1m1 0h1m0 0h1m2 0h1m9 0h1m17 0h1m3 0h2m8 0h1m3 0h1m1 0h1m9 0h1m4 0h1m20 0h1m0 0h1m24 0h1m0 0h1m0 0h1m5 0h2m15 0h1m7 0h1m0 0h1m3 0h1m4 0h1M47 36.5h1m0 0h1m2 0h1m22 0h1m11 0h1m12 0h1m1 0h1m9 0h1m6 0h2m3 0h1m7 0h1m2 0h1m9 0h1m17 0h2m12 0h1m0 0h1m10 0h1m1 0h1m6 0h2m5 0h1m9 0h1m26 0h1m1 0h1m5 0h2m0 0h1m40 0h1m6 0h1M47 37.5h1m17 0h1m0 0h1m0 0h1m12 0h1m35 0h1m1 0h1m3 0h1m4 0h1m1 0h1m2 0h1m11 0h2m0 0h2m0 0h1m2 0h1m10 0h1m8 0h2m1 0h1m6 0h2m10 0h1m2 0h1m3 0h2m2 0h1m3 0h1m0 0h1m6 0h1m4 0h1m19 0h1m0 0h1m0 0h2m10 0h1m8 0h1m4 0h1m0 0h1m10 0h1m2 0h1m17 0h1M42 38.5h1m7 0h1m22 0h1m5 0h1m12 0h1m9 0h2m1 0h1m3 0h2m21 0h1m2 0h1m8 0h2m2 0h1m3 0h2m5 0h1m4 0h1m5 0h1m4 0h1m5 0h2m7 0h1m0 0h1m1 0h2m0 0h1m0 0h1m3 0h1m1 0h1m3 0h1m7 0h2m0 0h1m6 0h1m27 0h1m1 0h1m22 0h1m5 0h1m2 0h1m8 0h1m6 0h2M47 39.5h1m7 0h1m6 0h1m6 0h1m35 0h1m4 0h1m9 0h1m3 0h1m17 0h2m3 0h1m0 0h1m4 0h2m30 0h1m4 0h1m2 0h1m3 0h2m2 0h1m6 0h2m14 0h1m8 0h2m23 0h1m18 0h2m8 0h1m3 0h1m4 0h1M42 40.5h2m16 0h1m6 0h1m8 0h1m0 0h1m6 0h1m1 0h1m0 0h1m0 0h1m13 0h1m24 0h1m17 0h1m6 0h1m2 0h1m1 0h2m5 0h1m3 0h2m9 0h1m1 0h1m1 0h1m4 0h1m6 0h1m0 0h1m11 0h1m0 0h1m16 0h1m11 0h1m0 0h1m4 0h1m0 0h1m4 0h1m0 0h1m5 0h1m2 0h1m27 0h1m5 0h2m1 0h1m0 0h1M48 41.5h1m6 0h1m1 0h2m5 0h1m0 0h1m1 0h1m20 0h1m5 0h1m0 0h1m4 0h1m11 0h2m8 0h1m16 0h1m14 0h1m6 0h1m6 0h1m11 0h2m18 0h1m14 0h2m18 0h1m21 0h1M48 42.5h1m5 0h1m6 0h1m1 0h1m6 0h1m0 0h1m2 0h2m23 0h1m15 0h1m10 0h1m6 0h1m19 0h1m11 0h1m1 0h1m5 0h1m0 0h1m0 0h1m1 0h2m4 0h1m18 0h1m1 0h1m5 0h1m9 0h1m4 0h1m7 0h1m10 0h1m15 0h1m0 0h2m19 0h1m2 0h1M45 43.5h1m9 0h1m0 0h1m14 0h1m19 0h2m31 0h2m5 0h1m8 0h1m17 0h1m0 0h1m15 0h1m3 0h1m6 0h2m16 0h1m2 0h1m6 0h2m12 0h2m11 0h1m8 0h1m2 0h1m2 0h1m34 0h1m3 0h2M54 44.5h2m3 0h1m4 0h2m33 0h2m6 0h1m1 0h1m72 0h1m5 0h2m11 0h1m3 0h1m4 0h1m21 0h2m18 0h1m29 0h2m10 0h1m5 0h1m4 0h1M41 45.5h1m3 0h1m0 0h1m36 0h1m9 0h1m17 0h1m5 0h1m13 0h2m4 0h1m8 0h1m14 0h1m0 0h1m25 0h1m5 0h1m19 0h2m24 0h1m7 0h2m19 0h1M53 46.5h2m21 0h1m2 0h2m11 0h1m0 0h1m37 0h1m8 0h1m14 0h1m4 0h1m1 0h2m9 0h1m29 0h1m0 0h1m4 0h1m18 0h1m0 0h1m2 0h1m18 0h1m15 0h1m6 0h1m5 0h1m0 0h1m17 0h2M49 47.5h2m10 0h1m56 0h1m26 0h2m37 0h1m0 0h1m7 0h1m36 0h1m6 0h1m51 0h1M44 48.5h1m5 0h1m18 0h1m1 0h2m18 0h1m3 0h1m2 0h1m5 0h2m18 0h2m2 0h1m1 0h1m8 0h1m3 0h1m3 0h1m8 0h1m12 0h1m1 0h1m13 0h1m3 0h1m7 0h1m18 0h1m14 0h2m2 0h1m4 0h2m1 0h1m19 0h1m5 0h1m1 0h1m7 0h1m1 0h2m10 0h2m10 0h1M49 49.5h1m4 0h2m19 0h1m0 0h2m0 0h2m18 0h1m1 0h1m2 0h1m2 0h1m13 0h1m7 0h1m22 0h1m24 0h1m44 0h1m4 0h1m12 0h1m23 0h1M55 50.5h1m33 0h1m10 0h2m1 0h2m0 0h1m0 0h1m9 0h2m4 0h1m11 0h1m3 0h1m11 0h1m4 0h1m7 0h1m8 0h1m7 0h1m1 0h1m2 0h1m1 0h1m8 0h1m5 0h1m0 0h1m5 0h1m2 0h1m13 0h2m1 0h2m4 0h1m5 0h1m18 0h2m19 0h1m6 0h1m11 0h1M41 51.5h1m0 0h2m8 0h1m44 0h2m5 0h1m14 0h1m14 0h1m20 0h1m10 0h2m3 0h1m6 0h2m3 0h1m13 0h1m4 0h1m5 0h1m5 0h1m13 0h1m28 0h1m14 0h1m24 0h1m2 0h1m0 0h1" stroke="#000" stroke-opacity="0.30" stroke-width="1" fill="none" filter="url(#rb)"/><line x1="40.3" y1="11.9" x2="40.3" y2="52.0" stroke="#555" stroke-width="1.00" /><line x1="40.3" y1="52.5" x2="306.9" y2="52.5" stroke="#aaa" stroke-width="1.00" /><line x1="40.3" y1="12.4" x2="42.8" y2="12.4" stroke="#555" stroke-width="1.00" /><text x="37.3" y="15.5" font-size="8.70" text-anchor="end" fill="#262626" >0</text><line x1="40.3" y1="32.2" x2="42.8" y2="32.2" stroke="#555" stroke-width="1.00" /><text x="37.3" y="35.3" font-size="8.70" text-anchor="end" fill="#262626" >200</text><line x1="40.3" y1="52.0" x2="42.8" y2="52.0" stroke="#555" stroke-width="1.00" /><text x="37.3" y="55.1" font-size="8.70" text-anchor="end" fill="#262626" >400</text><text transform="translate(19.8 32.2) rotate(-90)" font-size="8.70" text-anchor="middle" fill="#262626">Saccades</text><path d="M153.8 8.6 h5 l-2.5 4z" fill="#000"/><path d="M171.1 8.6 h5 l-2.5 4z" fill="#000"/><line x1="156.3" y1="53.0" x2="156.3" y2="149.3" stroke="#444" stroke-width="1.20" stroke-dasharray="2.6 3"/><line x1="173.6" y1="53.0" x2="173.6" y2="149.3" stroke="#555" stroke-width="1.30" /><line x1="40.3" y1="149.3" x2="306.9" y2="149.3" stroke="#888" stroke-width="1.00" /><line x1="40.3" y1="149.3" x2="40.3" y2="146.8" stroke="#777" stroke-width="0.80" /><text x="40.3" y="161.0" font-size="8.70" text-anchor="middle" fill="#262626" >-0.6</text><line x1="84.7" y1="149.3" x2="84.7" y2="146.8" stroke="#777" stroke-width="0.80" /><text x="84.7" y="161.0" font-size="8.70" text-anchor="middle" fill="#262626" >-0.4</text><line x1="129.2" y1="149.3" x2="129.2" y2="146.8" stroke="#777" stroke-width="0.80" /><text x="129.2" y="161.0" font-size="8.70" text-anchor="middle" fill="#262626" >-0.2</text><line x1="173.6" y1="149.3" x2="173.6" y2="146.8" stroke="#777" stroke-width="0.80" /><text x="173.6" y="161.0" font-size="8.70" text-anchor="middle" fill="#262626" >0</text><line x1="218.0" y1="149.3" x2="218.0" y2="146.8" stroke="#777" stroke-width="0.80" /><text x="218.0" y="161.0" font-size="8.70" text-anchor="middle" fill="#262626" >0.2</text><line x1="262.5" y1="149.3" x2="262.5" y2="146.8" stroke="#777" stroke-width="0.80" /><text x="262.5" y="161.0" font-size="8.70" text-anchor="middle" fill="#262626" >0.4</text><line x1="306.9" y1="149.3" x2="306.9" y2="146.8" stroke="#777" stroke-width="0.80" /><text x="306.9" y="161.0" font-size="8.70" text-anchor="middle" fill="#262626" >0.6</text><line x1="306.9" y1="53.0" x2="306.9" y2="149.3" stroke="#ff0000" stroke-width="1.10" /><line x1="304.4" y1="73.4" x2="306.9" y2="73.4" stroke="#ff0000" stroke-width="1.00" /><text x="309.7" y="76.5" font-size="8.70" text-anchor="start" fill="#ff0000" >35</text><line x1="304.4" y1="96.7" x2="306.9" y2="96.7" stroke="#ff0000" stroke-width="1.00" /><text x="309.7" y="99.8" font-size="8.70" text-anchor="start" fill="#ff0000" >30</text><line x1="304.4" y1="119.8" x2="306.9" y2="119.8" stroke="#ff0000" stroke-width="1.00" /><text x="309.7" y="122.9" font-size="8.70" text-anchor="start" fill="#ff0000" >25</text><line x1="304.4" y1="142.8" x2="306.9" y2="142.8" stroke="#ff0000" stroke-width="1.00" /><text x="309.7" y="145.9" font-size="8.70" text-anchor="start" fill="#ff0000" >20</text><text transform="translate(323.0 98.9) rotate(90)" font-size="8.70" text-anchor="middle" fill="#ff0000">Firing rate (spike/s)</text><line x1="170.7" y1="56.6" x2="211.5" y2="56.6" stroke="#ff0000" stroke-width="3.20" stroke-linecap="round"/><path d="M51.5 116.4 L51.9 116.6 L52.5 116.8 L53.1 117.1 L53.9 117.4 L54.7 117.8 L55.5 118.2 L56.3 118.5 L57.0 118.9 L57.7 119.3 L58.4 119.7 L59.2 120.2 L59.9 120.6 L60.7 121.1 L61.4 121.6 L62.2 122.0 L63.0 122.3 L63.8 122.7 L64.7 123.0 L65.6 123.3 L66.4 123.5 L67.3 123.8 L68.2 124.0 L69.1 124.2 L70.0 124.3 L70.9 124.4 L71.7 124.5 L72.6 124.6 L73.4 124.6 L74.3 124.6 L75.2 124.6 L76.1 124.6 L77.0 124.6 L77.9 124.6 L78.9 124.6 L79.8 124.5 L80.8 124.5 L81.8 124.4 L82.8 124.3 L83.9 124.3 L85.0 124.2 L86.1 124.2 L87.2 124.1 L88.4 124.1 L89.6 124.0 L90.8 124.0 L92.1 124.0 L93.5 123.9 L95.0 123.9 L96.6 123.8 L98.3 123.8 L100.0 123.7 L101.9 123.7 L103.8 123.6 L105.8 123.5 L107.9 123.5 L110.0 123.5 L112.3 123.5 L114.8 123.4 L117.5 123.4 L120.2 123.4 L122.9 123.4 L125.5 123.4 L127.9 123.5 L130.0 123.7 L131.9 123.9 L133.5 124.2 L135.1 124.5 L136.5 124.9 L137.8 125.2 L139.0 125.7 L140.3 126.1 L141.5 126.6 L142.7 127.1 L143.9 127.7 L145.0 128.3 L146.0 129.0 L147.0 129.6 L148.0 130.2 L149.0 130.8 L150.0 131.4 L151.0 131.9 L152.0 132.5 L153.0 133.0 L153.9 133.5 L154.9 134.0 L155.8 134.4 L156.7 134.7 L157.5 134.8 L158.3 134.8 L159.0 134.8 L159.7 134.8 L160.4 134.6 L161.1 134.3 L161.7 133.9 L162.4 133.2 L163.0 132.4 L163.6 131.4 L164.3 130.4 L164.9 129.1 L165.5 127.7 L166.1 126.1 L166.7 124.3 L167.3 122.3 L168.0 119.9 L168.7 117.2 L169.4 114.1 L170.1 110.6 L170.8 106.9 L171.6 103.2 L172.3 99.6 L173.0 96.1 L173.6 92.9 L174.2 89.9 L174.8 87.0 L175.4 84.1 L175.9 81.4 L176.4 78.7 L177.0 76.3 L177.5 74.1 L178.0 72.1 L178.5 70.4 L179.0 68.9 L179.5 67.6 L180.0 66.5 L180.5 65.6 L181.0 64.7 L181.5 64.0 L182.0 63.3 L182.5 62.6 L183.0 62.1 L183.5 61.6 L183.9 61.3 L184.4 61.0 L184.9 60.9 L185.5 60.8 L186.0 60.9 L186.5 61.0 L187.1 61.1 L187.6 61.3 L188.2 61.6 L188.8 62.1 L189.4 62.7 L190.2 63.6 L191.0 64.8 L191.9 66.4 L193.0 68.3 L194.2 70.4 L195.4 72.8 L196.6 75.2 L197.8 77.7 L198.9 80.2 L200.0 82.5 L201.0 84.7 L201.9 87.0 L202.7 89.2 L203.6 91.5 L204.4 93.8 L205.2 96.1 L206.1 98.4 L207.0 100.7 L208.0 103.1 L209.0 105.6 L210.0 108.1 L211.0 110.7 L212.0 113.2 L213.0 115.6 L214.0 117.9 L215.0 119.9 L215.9 121.9 L216.8 123.7 L217.7 125.5 L218.6 127.1 L219.4 128.6 L220.3 130.0 L221.1 131.3 L222.0 132.4 L222.9 133.4 L223.8 134.3 L224.6 135.0 L225.5 135.6 L226.4 136.0 L227.2 136.4 L228.1 136.8 L229.0 137.0 L229.9 137.1 L230.8 137.1 L231.8 137.0 L232.7 136.9 L233.6 136.6 L234.5 136.4 L235.3 136.2 L236.0 136.0 L236.6 135.8 L237.1 135.6 L237.5 135.4 L237.9 135.2 L238.3 135.0 L238.8 134.9 L239.3 134.8 L240.0 134.8 L240.8 134.9 L241.7 135.0 L242.7 135.2 L243.7 135.5 L244.8 135.7 L245.8 136.0 L246.9 136.3 L248.0 136.5 L249.1 136.7 L250.2 137.0 L251.3 137.3 L252.4 137.6 L253.5 137.8 L254.7 138.0 L255.8 138.2 L257.0 138.2 L258.2 138.1 L259.4 137.9 L260.7 137.6 L261.9 137.3 L263.2 137.0 L264.5 136.6 L265.7 136.3 L267.0 136.0 L268.2 135.7 L269.5 135.4 L270.8 135.1 L272.0 134.8 L273.2 134.5 L274.5 134.3 L275.8 134.1 L277.0 134.1 L278.3 134.1 L279.5 134.3 L280.8 134.5 L282.1 134.8 L283.3 135.1 L284.6 135.4 L285.8 135.7 L287.0 136.0 L288.2 136.2 L289.5 136.5 L290.8 136.7 L292.0 137.0 L293.2 137.2 L294.2 137.4 L295.1 137.6 L295.8 137.7 L295.8 144.7 L295.1 144.6 L294.2 144.4 L293.2 144.2 L292.0 144.0 L290.8 143.7 L289.5 143.5 L288.2 143.2 L287.0 143.0 L285.8 142.7 L284.6 142.4 L283.3 142.1 L282.1 141.8 L280.8 141.5 L279.5 141.3 L278.3 141.2 L277.0 141.1 L275.8 141.2 L274.5 141.3 L273.2 141.5 L272.0 141.8 L270.8 142.1 L269.5 142.4 L268.2 142.7 L267.0 143.0 L265.7 143.3 L264.5 143.6 L263.2 144.0 L261.9 144.3 L260.7 144.6 L259.4 144.9 L258.2 145.1 L257.0 145.2 L255.8 145.2 L254.7 145.0 L253.5 144.8 L252.4 144.6 L251.3 144.3 L250.2 144.0 L249.1 143.7 L248.0 143.5 L246.9 143.3 L245.8 143.0 L244.8 142.7 L243.7 142.5 L242.7 142.2 L241.7 142.0 L240.8 141.9 L240.0 141.8 L239.3 141.8 L238.8 141.9 L238.3 142.0 L237.9 142.2 L237.5 142.4 L237.1 142.6 L236.6 142.8 L236.0 143.0 L235.3 143.2 L234.5 143.4 L233.6 143.6 L232.7 143.9 L231.8 144.0 L230.8 144.1 L229.9 144.1 L229.0 144.0 L228.1 143.8 L227.2 143.4 L226.4 143.0 L225.5 142.6 L224.6 142.0 L223.8 141.3 L222.9 140.5 L222.0 139.6 L221.1 138.5 L220.3 137.4 L219.4 136.1 L218.6 134.7 L217.7 133.2 L216.8 131.5 L215.9 129.8 L215.0 128.1 L214.0 126.1 L213.0 124.0 L212.0 121.8 L211.0 119.5 L210.0 117.2 L209.0 114.8 L208.0 112.5 L207.0 110.3 L206.1 108.2 L205.2 106.0 L204.4 103.9 L203.6 101.8 L202.7 99.7 L201.9 97.6 L201.0 95.6 L200.0 93.5 L198.9 91.4 L197.8 89.1 L196.6 86.8 L195.4 84.5 L194.2 82.4 L193.0 80.4 L191.9 78.6 L191.0 77.2 L190.2 76.1 L189.4 75.2 L188.8 74.6 L188.2 74.2 L187.6 73.9 L187.1 73.7 L186.5 73.6 L186.0 73.5 L185.5 73.5 L184.9 73.5 L184.4 73.7 L183.9 73.9 L183.5 74.2 L183.0 74.6 L182.5 75.1 L182.0 75.7 L181.5 76.4 L181.0 77.1 L180.5 77.9 L180.0 78.8 L179.5 79.8 L179.0 80.9 L178.5 82.3 L178.0 83.9 L177.5 85.7 L177.0 87.8 L176.4 90.0 L175.9 92.5 L175.4 95.0 L174.8 97.6 L174.2 100.3 L173.6 103.1 L173.0 106.0 L172.3 109.2 L171.6 112.6 L170.8 116.1 L170.1 119.4 L169.4 122.6 L168.7 125.5 L168.0 128.1 L167.3 130.2 L166.7 132.1 L166.1 133.8 L165.5 135.2 L164.9 136.5 L164.3 137.7 L163.6 138.7 L163.0 139.6 L162.4 140.3 L161.7 140.9 L161.1 141.3 L160.4 141.6 L159.7 141.8 L159.0 141.8 L158.3 141.8 L157.5 141.8 L156.7 141.7 L155.8 141.4 L154.9 141.0 L153.9 140.6 L153.0 140.1 L152.0 139.6 L151.0 139.1 L150.0 138.6 L149.0 138.1 L148.0 137.6 L147.0 137.0 L146.0 136.4 L145.0 135.8 L143.9 135.2 L142.7 134.7 L141.5 134.2 L140.3 133.8 L139.0 133.4 L137.8 133.0 L136.5 132.6 L135.1 132.3 L133.5 132.0 L131.9 131.7 L130.0 131.5 L127.9 131.4 L125.5 131.3 L122.9 131.2 L120.2 131.2 L117.5 131.2 L114.8 131.3 L112.3 131.3 L110.0 131.3 L107.9 131.3 L105.8 131.4 L103.8 131.4 L101.9 131.5 L100.0 131.5 L98.3 131.6 L96.6 131.7 L95.0 131.7 L93.5 131.7 L92.1 131.8 L90.8 131.8 L89.6 131.9 L88.4 131.9 L87.2 131.9 L86.1 132.0 L85.0 132.0 L83.9 132.0 L82.8 132.1 L81.8 132.2 L80.8 132.2 L79.8 132.3 L78.9 132.3 L77.9 132.4 L77.0 132.4 L76.1 132.4 L75.2 132.4 L74.3 132.4 L73.4 132.4 L72.6 132.3 L71.7 132.3 L70.9 132.2 L70.0 132.1 L69.1 131.9 L68.2 131.8 L67.3 131.6 L66.4 131.4 L65.6 131.1 L64.7 130.9 L63.8 130.6 L63.0 130.3 L62.2 129.9 L61.4 129.6 L60.7 129.1 L59.9 128.7 L59.2 128.3 L58.4 127.9 L57.7 127.5 L57.0 127.1 L56.3 126.8 L55.5 126.4 L54.7 126.1 L53.9 125.7 L53.1 125.5 L52.5 125.2 L51.9 125.0 L51.5 124.8 Z" fill="#f7c5cb" fill-opacity="1.00"/><path d="M51.5 120.6 L51.9 120.8 L52.5 121.0 L53.1 121.3 L53.9 121.6 L54.7 121.9 L55.5 122.3 L56.3 122.6 L57.0 123.0 L57.7 123.4 L58.4 123.8 L59.2 124.2 L59.9 124.7 L60.7 125.1 L61.4 125.6 L62.2 125.9 L63.0 126.3 L63.8 126.6 L64.7 126.9 L65.6 127.2 L66.4 127.4 L67.3 127.7 L68.2 127.9 L69.1 128.0 L70.0 128.2 L70.9 128.3 L71.7 128.4 L72.6 128.5 L73.4 128.5 L74.3 128.5 L75.2 128.5 L76.1 128.5 L77.0 128.5 L77.9 128.5 L78.9 128.4 L79.8 128.4 L80.8 128.3 L81.8 128.3 L82.8 128.2 L83.9 128.2 L85.0 128.1 L86.1 128.1 L87.2 128.0 L88.4 128.0 L89.6 127.9 L90.8 127.9 L92.1 127.9 L93.5 127.8 L95.0 127.8 L96.6 127.8 L98.3 127.7 L100.0 127.6 L101.9 127.6 L103.8 127.5 L105.8 127.5 L107.9 127.4 L110.0 127.4 L112.3 127.4 L114.8 127.3 L117.5 127.3 L120.2 127.3 L122.9 127.3 L125.5 127.4 L127.9 127.4 L130.0 127.6 L131.9 127.8 L133.5 128.1 L135.1 128.4 L136.5 128.7 L137.8 129.1 L139.0 129.5 L140.3 129.9 L141.5 130.4 L142.7 130.9 L143.9 131.5 L145.0 132.1 L146.0 132.7 L147.0 133.3 L148.0 133.9 L149.0 134.5 L150.0 135.0 L151.0 135.5 L152.0 136.0 L153.0 136.6 L153.9 137.1 L154.9 137.5 L155.8 137.9 L156.7 138.2 L157.5 138.3 L158.3 138.3 L159.0 138.3 L159.7 138.3 L160.4 138.1 L161.1 137.8 L161.7 137.4 L162.4 136.8 L163.0 136.0 L163.6 135.1 L164.3 134.0 L164.9 132.8 L165.5 131.5 L166.1 130.0 L166.7 128.2 L167.3 126.2 L168.0 124.0 L168.7 121.4 L169.4 118.3 L170.1 115.0 L170.8 111.5 L171.6 107.9 L172.3 104.4 L173.0 101.1 L173.6 98.0 L174.2 95.1 L174.8 92.3 L175.4 89.6 L175.9 86.9 L176.4 84.4 L177.0 82.1 L177.5 79.9 L178.0 78.0 L178.5 76.3 L179.0 74.9 L179.5 73.7 L180.0 72.6 L180.5 71.7 L181.0 70.9 L181.5 70.2 L182.0 69.5 L182.5 68.9 L183.0 68.3 L183.5 67.9 L183.9 67.6 L184.4 67.3 L184.9 67.2 L185.5 67.2 L186.0 67.2 L186.5 67.3 L187.1 67.4 L187.6 67.6 L188.2 67.9 L188.8 68.3 L189.4 69.0 L190.2 69.9 L191.0 71.0 L191.9 72.5 L193.0 74.3 L194.2 76.4 L195.4 78.6 L196.6 81.0 L197.8 83.4 L198.9 85.8 L200.0 88.0 L201.0 90.2 L201.9 92.3 L202.7 94.5 L203.6 96.7 L204.4 98.8 L205.2 101.0 L206.1 103.3 L207.0 105.5 L208.0 107.8 L209.0 110.2 L210.0 112.6 L211.0 115.1 L212.0 117.5 L213.0 119.8 L214.0 122.0 L215.0 124.0 L215.9 125.9 L216.8 127.6 L217.7 129.3 L218.6 130.9 L219.4 132.3 L220.3 133.7 L221.1 134.9 L222.0 136.0 L222.9 137.0 L223.8 137.8 L224.6 138.5 L225.5 139.1 L226.4 139.5 L227.2 139.9 L228.1 140.3 L229.0 140.5 L229.9 140.6 L230.8 140.6 L231.8 140.5 L232.7 140.4 L233.6 140.1 L234.5 139.9 L235.3 139.7 L236.0 139.5 L236.6 139.3 L237.1 139.1 L237.5 138.9 L237.9 138.7 L238.3 138.5 L238.8 138.4 L239.3 138.3 L240.0 138.3 L240.8 138.4 L241.7 138.5 L242.7 138.7 L243.7 139.0 L244.8 139.2 L245.8 139.5 L246.9 139.8 L248.0 140.0 L249.1 140.2 L250.2 140.5 L251.3 140.8 L252.4 141.1 L253.5 141.3 L254.7 141.5 L255.8 141.7 L257.0 141.7 L258.2 141.6 L259.4 141.4 L260.7 141.1 L261.9 140.8 L263.2 140.5 L264.5 140.1 L265.7 139.8 L267.0 139.5 L268.2 139.2 L269.5 138.9 L270.8 138.6 L272.0 138.3 L273.2 138.0 L274.5 137.8 L275.8 137.7 L277.0 137.6 L278.3 137.7 L279.5 137.8 L280.8 138.0 L282.1 138.3 L283.3 138.6 L284.6 138.9 L285.8 139.2 L287.0 139.5 L288.2 139.7 L289.5 140.0 L290.8 140.2 L292.0 140.5 L293.2 140.7 L294.2 140.9 L295.1 141.1 L295.8 141.2" fill="none" stroke="#f7c5cb" stroke-opacity="1.00" stroke-width="4.00" stroke-linejoin="round"/><path d="M51.5 120.6 L51.9 120.8 L52.5 121.0 L53.1 121.3 L53.9 121.6 L54.7 121.9 L55.5 122.3 L56.3 122.6 L57.0 123.0 L57.7 123.4 L58.4 123.8 L59.2 124.2 L59.9 124.7 L60.7 125.1 L61.4 125.6 L62.2 125.9 L63.0 126.3 L63.8 126.6 L64.7 126.9 L65.6 127.2 L66.4 127.4 L67.3 127.7 L68.2 127.9 L69.1 128.0 L70.0 128.2 L70.9 128.3 L71.7 128.4 L72.6 128.5 L73.4 128.5 L74.3 128.5 L75.2 128.5 L76.1 128.5 L77.0 128.5 L77.9 128.5 L78.9 128.4 L79.8 128.4 L80.8 128.3 L81.8 128.3 L82.8 128.2 L83.9 128.2 L85.0 128.1 L86.1 128.1 L87.2 128.0 L88.4 128.0 L89.6 127.9 L90.8 127.9 L92.1 127.9 L93.5 127.8 L95.0 127.8 L96.6 127.8 L98.3 127.7 L100.0 127.6 L101.9 127.6 L103.8 127.5 L105.8 127.5 L107.9 127.4 L110.0 127.4 L112.3 127.4 L114.8 127.3 L117.5 127.3 L120.2 127.3 L122.9 127.3 L125.5 127.4 L127.9 127.4 L130.0 127.6 L131.9 127.8 L133.5 128.1 L135.1 128.4 L136.5 128.7 L137.8 129.1 L139.0 129.5 L140.3 129.9 L141.5 130.4 L142.7 130.9 L143.9 131.5 L145.0 132.1 L146.0 132.7 L147.0 133.3 L148.0 133.9 L149.0 134.5 L150.0 135.0 L151.0 135.5 L152.0 136.0 L153.0 136.6 L153.9 137.1 L154.9 137.5 L155.8 137.9 L156.7 138.2 L157.5 138.3 L158.3 138.3 L159.0 138.3 L159.7 138.3 L160.4 138.1 L161.1 137.8 L161.7 137.4 L162.4 136.8 L163.0 136.0 L163.6 135.1 L164.3 134.0 L164.9 132.8 L165.5 131.5 L166.1 130.0 L166.7 128.2 L167.3 126.2 L168.0 124.0 L168.7 121.4 L169.4 118.3 L170.1 115.0 L170.8 111.5 L171.6 107.9 L172.3 104.4 L173.0 101.1 L173.6 98.0 L174.2 95.1 L174.8 92.3 L175.4 89.6 L175.9 86.9 L176.4 84.4 L177.0 82.1 L177.5 79.9 L178.0 78.0 L178.5 76.3 L179.0 74.9 L179.5 73.7 L180.0 72.6 L180.5 71.7 L181.0 70.9 L181.5 70.2 L182.0 69.5 L182.5 68.9 L183.0 68.3 L183.5 67.9 L183.9 67.6 L184.4 67.3 L184.9 67.2 L185.5 67.2 L186.0 67.2 L186.5 67.3 L187.1 67.4 L187.6 67.6 L188.2 67.9 L188.8 68.3 L189.4 69.0 L190.2 69.9 L191.0 71.0 L191.9 72.5 L193.0 74.3 L194.2 76.4 L195.4 78.6 L196.6 81.0 L197.8 83.4 L198.9 85.8 L200.0 88.0 L201.0 90.2 L201.9 92.3 L202.7 94.5 L203.6 96.7 L204.4 98.8 L205.2 101.0 L206.1 103.3 L207.0 105.5 L208.0 107.8 L209.0 110.2 L210.0 112.6 L211.0 115.1 L212.0 117.5 L213.0 119.8 L214.0 122.0 L215.0 124.0 L215.9 125.9 L216.8 127.6 L217.7 129.3 L218.6 130.9 L219.4 132.3 L220.3 133.7 L221.1 134.9 L222.0 136.0 L222.9 137.0 L223.8 137.8 L224.6 138.5 L225.5 139.1 L226.4 139.5 L227.2 139.9 L228.1 140.3 L229.0 140.5 L229.9 140.6 L230.8 140.6 L231.8 140.5 L232.7 140.4 L233.6 140.1 L234.5 139.9 L235.3 139.7 L236.0 139.5 L236.6 139.3 L237.1 139.1 L237.5 138.9 L237.9 138.7 L238.3 138.5 L238.8 138.4 L239.3 138.3 L240.0 138.3 L240.8 138.4 L241.7 138.5 L242.7 138.7 L243.7 139.0 L244.8 139.2 L245.8 139.5 L246.9 139.8 L248.0 140.0 L249.1 140.2 L250.2 140.5 L251.3 140.8 L252.4 141.1 L253.5 141.3 L254.7 141.5 L255.8 141.7 L257.0 141.7 L258.2 141.6 L259.4 141.4 L260.7 141.1 L261.9 140.8 L263.2 140.5 L264.5 140.1 L265.7 139.8 L267.0 139.5 L268.2 139.2 L269.5 138.9 L270.8 138.6 L272.0 138.3 L273.2 138.0 L274.5 137.8 L275.8 137.7 L277.0 137.6 L278.3 137.7 L279.5 137.8 L280.8 138.0 L282.1 138.3 L283.3 138.6 L284.6 138.9 L285.8 139.2 L287.0 139.5 L288.2 139.7 L289.5 140.0 L290.8 140.2 L292.0 140.5 L293.2 140.7 L294.2 140.9 L295.1 141.1 L295.8 141.2" fill="none" stroke="#ff0000" stroke-width="1.70" stroke-linejoin="round" stroke-linecap="round"/><text x="297.7" y="65.8" font-size="11.80" text-anchor="end" fill="#ff0000" >PPC</text><text x="0.0" y="9.0" font-size="16.50" text-anchor="start" fill="#000" font-weight="bold">a</text><rect x="118.0" y="174.6" width="88.9" height="136.6" fill="#e8eefc"/><path d="M41 175.5h1m1 0h1m1 0h1m0 0h2m1 0h1m0 0h2m0 0h2m0 0h2m0 0h2m0 0h1m0 0h2m0 0h2m1 0h1m1 0h1m0 0h1m0 0h1m0 0h1m1 0h1m0 0h2m0 0h1m0 0h1m0 0h1m1 0h1m0 0h2m4 0h1m1 0h2m1 0h1m1 0h1m2 0h2m0 0h1m1 0h2m0 0h1m0 0h1m0 0h2m0 0h1m0 0h1m0 0h1m1 0h2m0 0h1m1 0h2m1 0h1m0 0h2m1 0h1m0 0h1m0 0h1m1 0h2m5 0h2m0 0h2m0 0h2m0 0h2m0 0h1m0 0h1m0 0h1m0 0h2m1 0h1m0 0h2m0 0h2m0 0h2m1 0h2m0 0h2m1 0h2m0 0h1m1 0h1m2 0h2m2 0h1m1 0h2m0 0h1m1 0h1m0 0h2m0 0h2m0 0h2m0 0h2m0 0h1m0 0h1m0 0h2m1 0h2m0 0h2m0 0h1m0 0h1m0 0h2m0 0h1m0 0h2m1 0h2m1 0h1m0 0h1m0 0h2m0 0h2m0 0h1m1 0h2m0 0h1m0 0h2m1 0h1m0 0h2m1 0h1m0 0h2m1 0h1m4 0h1m0 0h2m1 0h1m0 0h2m1 0h1m2 0h1m0 0h1m0 0h1m0 0h1m0 0h1m1 0h1m0 0h1m0 0h1m0 0h1m0 0h1m0 0h1m1 0h2m0 0h1m0 0h1m1 0h2m0 0h1m0 0h2m0 0h1m0 0h1m0 0h1m1 0h2m0 0h1m0 0h1m1 0h1m0 0h2m0 0h2m0 0h2m2 0h2m0 0h1m0 0h1m3 0h1m3 0h1m0 0h1m0 0h2m0 0h2m0 0h1m0 0h1m0 0h2m0 0h2M44 176.5h1m0 0h2m2 0h1m3 0h1m5 0h1m0 0h2m0 0h1m2 0h2m2 0h1m0 0h2m0 0h1m2 0h1m0 0h2m2 0h2m0 0h1m1 0h2m0 0h1m0 0h1m2 0h1m0 0h1m6 0h2m4 0h1m1 0h2m0 0h1m3 0h2m0 0h2m1 0h1m2 0h2m0 0h2m0 0h2m2 0h1m0 0h1m1 0h1m9 0h2m2 0h1m2 0h2m0 0h2m5 0h1m3 0h1m0 0h1m0 0h1m2 0h1m8 0h1m2 0h2m0 0h1m1 0h2m0 0h2m0 0h1m1 0h1m0 0h2m1 0h2m1 0h1m1 0h2m2 0h1m0 0h1m0 0h2m3 0h1m1 0h2m2 0h1m0 0h1m0 0h2m3 0h2m0 0h2m5 0h2m7 0h1m0 0h1m3 0h1m2 0h1m2 0h1m0 0h1m1 0h1m0 0h1m0 0h2m0 0h2m2 0h1m12 0h2m1 0h2m2 0h1m8 0h1m2 0h1m2 0h1m1 0h1m0 0h1m1 0h1m1 0h1M41 177.5h1m0 0h1m3 0h1m0 0h1m2 0h2m0 0h2m1 0h2m1 0h1m0 0h1m1 0h2m0 0h1m0 0h1m1 0h2m1 0h2m0 0h1m3 0h2m0 0h2m0 0h2m1 0h1m0 0h1m1 0h2m0 0h1m0 0h2m0 0h1m0 0h1m3 0h1m0 0h1m3 0h2m0 0h1m0 0h2m1 0h2m1 0h2m0 0h1m0 0h1m0 0h1m0 0h1m0 0h2m0 0h1m1 0h1m1 0h1m0 0h2m1 0h1m0 0h1m1 0h1m0 0h2m2 0h1m0 0h1m1 0h1m2 0h2m0 0h2m0 0h2m0 0h1m1 0h1m1 0h1m0 0h1m1 0h2m2 0h1m0 0h1m0 0h1m2 0h2m0 0h2m1 0h1m0 0h2m0 0h2m1 0h1m0 0h2m3 0h2m0 0h1m0 0h2m0 0h2m0 0h2m1 0h2m1 0h1m1 0h2m0 0h2m0 0h2m1 0h1m1 0h2m0 0h1m1 0h1m1 0h1m0 0h1m1 0h2m0 0h1m2 0h1m1 0h1m2 0h2m0 0h2m3 0h2m1 0h1m0 0h2m2 0h1m0 0h2m0 0h2m0 0h1m0 0h1m0 0h1m0 0h1m1 0h2m1 0h1m1 0h1m0 0h2m0 0h2m0 0h1m0 0h1m0 0h2m0 0h2m1 0h1m0 0h1m0 0h1m1 0h1m0 0h2m0 0h2m0 0h2m0 0h1m4 0h1m1 0h2m0 0h2m0 0h2m4 0h2m1 0h1m4 0h1m0 0h1m1 0h2m0 0h2M41 178.5h2m0 0h2m1 0h2m1 0h2m1 0h1m1 0h2m2 0h1m0 0h1m1 0h1m0 0h1m0 0h2m0 0h1m0 0h1m0 0h1m0 0h1m0 0h2m3 0h1m0 0h2m0 0h1m1 0h2m3 0h1m0 0h2m0 0h1m3 0h1m1 0h1m2 0h2m0 0h2m1 0h1m2 0h1m2 0h1m1 0h2m3 0h2m1 0h1m0 0h2m0 0h2m4 0h2m3 0h1m2 0h2m1 0h1m0 0h1m0 0h1m0 0h1m1 0h1m2 0h2m0 0h1m3 0h2m0 0h1m0 0h1m1 0h2m5 0h1m0 0h2m0 0h1m0 0h1m0 0h1m0 0h1m2 0h1m1 0h1m4 0h2m1 0h1m0 0h2m0 0h1m0 0h1m0 0h2m1 0h1m0 0h1m0 0h1m1 0h1m0 0h1m1 0h1m0 0h2m1 0h2m2 0h1m0 0h2m0 0h2m0 0h2m1 0h1m3 0h1m0 0h1m0 0h1m1 0h2m1 0h1m0 0h2m0 0h2m0 0h1m0 0h2m2 0h2m0 0h1m2 0h1m2 0h1m0 0h1m1 0h2m0 0h1m0 0h2m0 0h2m0 0h1m0 0h1m0 0h1m0 0h1m3 0h1m5 0h2m0 0h2m3 0h1m1 0h1m0 0h1m1 0h2m0 0h2m0 0h2m0 0h1m1 0h1m0 0h1m3 0h2m2 0h1m0 0h2m1 0h2m0 0h2m0 0h2M41 179.5h1m1 0h1m6 0h1m0 0h1m4 0h1m1 0h2m3 0h1m0 0h2m0 0h1m0 0h2m1 0h2m0 0h2m4 0h1m0 0h1m1 0h1m3 0h1m1 0h2m1 0h1m1 0h1m3 0h1m0 0h2m0 0h1m0 0h2m0 0h1m0 0h1m0 0h1m0 0h1m0 0h2m1 0h1m0 0h1m0 0h2m0 0h2m6 0h2m0 0h1m0 0h1m2 0h1m0 0h1m2 0h2m4 0h1m0 0h1m0 0h2m0 0h2m1 0h1m1 0h1m3 0h2m1 0h2m3 0h1m3 0h1m0 0h1m0 0h1m0 0h2m5 0h2m1 0h1m4 0h1m0 0h1m1 0h2m3 0h2m0 0h1m0 0h2m0 0h2m1 0h1m2 0h1m3 0h1m2 0h2m3 0h2m6 0h1m0 0h2m3 0h2m1 0h2m4 0h1m0 0h1m0 0h1m1 0h1m0 0h1m1 0h1m0 0h2m2 0h1m0 0h1m0 0h2m3 0h1m1 0h1m0 0h1m1 0h1m0 0h1m2 0h1m0 0h2m4 0h1m0 0h1m1 0h1m1 0h2m1 0h1m1 0h1m8 0h1m1 0h1m1 0h1m1 0h2m1 0h1m1 0h2m0 0h2m2 0h1M43 180.5h1m2 0h2m0 0h1m2 0h2m0 0h1m0 0h1m0 0h2m0 0h1m1 0h2m0 0h2m1 0h1m1 0h2m3 0h2m0 0h1m3 0h2m1 0h2m0 0h1m0 0h2m0 0h1m1 0h1m1 0h1m0 0h2m0 0h1m0 0h1m2 0h1m2 0h2m0 0h2m0 0h1m0 0h2m1 0h2m5 0h1m0 0h1m3 0h1m0 0h1m1 0h1m2 0h2m0 0h2m1 0h1m1 0h1m0 0h1m1 0h1m2 0h2m0 0h1m1 0h1m4 0h1m1 0h1m3 0h1m2 0h1m3 0h1m0 0h2m0 0h1m3 0h1m0 0h1m0 0h1m0 0h1m0 0h1m0 0h2m3 0h1m3 0h1m0 0h1m0 0h2m1 0h2m0 0h1m0 0h2m0 0h2m0 0h1m0 0h1m0 0h1m0 0h1m0 0h2m0 0h2m0 0h1m0 0h2m1 0h1m0 0h1m0 0h2m2 0h2m1 0h2m0 0h1m1 0h1m0 0h2m0 0h1m1 0h1m0 0h2m2 0h2m3 0h2m0 0h2m2 0h2m0 0h2m3 0h1m0 0h2m2 0h2m1 0h1m0 0h2m0 0h1m0 0h1m0 0h1m3 0h2m0 0h2m4 0h2m0 0h1m0 0h1m0 0h1m3 0h1m2 0h1m0 0h1m0 0h1m2 0h2m0 0h1m1 0h2m0 0h2m1 0h2m0 0h1m0 0h1m0 0h1m0 0h2m0 0h1m0 0h2M41 181.5h1m0 0h2m0 0h2m4 0h1m0 0h1m1 0h1m1 0h1m0 0h1m1 0h1m1 0h1m3 0h1m2 0h1m2 0h1m0 0h2m1 0h1m1 0h1m0 0h2m0 0h2m0 0h1m0 0h2m2 0h1m1 0h1m0 0h2m2 0h1m3 0h2m0 0h2m0 0h2m0 0h1m4 0h1m0 0h1m0 0h1m0 0h2m1 0h2m0 0h2m0 0h1m2 0h1m4 0h2m1 0h1m1 0h2m0 0h2m1 0h2m1 0h1m2 0h2m0 0h1m4 0h2m2 0h2m0 0h2m0 0h2m2 0h2m0 0h2m0 0h2m1 0h2m0 0h2m1 0h2m2 0h2m0 0h2m0 0h2m1 0h2m1 0h2m2 0h1m0 0h2m2 0h2m0 0h2m2 0h2m0 0h1m2 0h1m0 0h1m0 0h1m0 0h1m1 0h2m0 0h2m0 0h1m0 0h1m2 0h1m1 0h1m1 0h2m1 0h2m0 0h1m2 0h1m0 0h1m1 0h1m0 0h1m3 0h1m0 0h2m0 0h2m0 0h1m3 0h1m0 0h1m3 0h2m1 0h1m2 0h1m0 0h1m1 0h1m2 0h1m3 0h2m0 0h1m2 0h2m0 0h1m2 0h1m0 0h2m0 0h2m0 0h1m0 0h2m0 0h2m0 0h1m3 0h1m0 0h1m0 0h1m3 0h1m1 0h1m0 0h2M43 182.5h2m0 0h1m3 0h2m0 0h2m4 0h1m0 0h2m0 0h1m1 0h2m0 0h2m0 0h1m0 0h1m1 0h1m0 0h1m0 0h2m0 0h1m0 0h1m0 0h1m0 0h2m0 0h2m0 0h2m0 0h1m0 0h2m0 0h2m0 0h2m1 0h2m2 0h1m3 0h1m0 0h2m1 0h1m1 0h2m1 0h1m0 0h1m0 0h1m0 0h2m1 0h1m2 0h1m0 0h2m0 0h1m0 0h1m0 0h1m0 0h1m0 0h2m0 0h1m0 0h1m1 0h2m0 0h1m0 0h1m1 0h1m3 0h2m0 0h1m0 0h2m0 0h2m0 0h2m0 0h2m0 0h2m0 0h1m0 0h1m0 0h1m3 0h2m0 0h1m0 0h1m0 0h1m3 0h2m0 0h1m0 0h2m0 0h2m3 0h1m1 0h2m0 0h1m1 0h1m0 0h1m3 0h2m1 0h1m0 0h1m0 0h2m0 0h2m1 0h1m0 0h1m0 0h1m1 0h1m0 0h1m1 0h1m1 0h1m1 0h1m0 0h2m0 0h1m0 0h2m0 0h1m0 0h2m1 0h2m0 0h2m0 0h1m1 0h2m0 0h2m1 0h2m0 0h1m0 0h2m0 0h2m0 0h1m0 0h1m1 0h1m3 0h1m0 0h1m0 0h1m1 0h2m1 0h1m1 0h1m0 0h2m0 0h1m2 0h1m1 0h2m2 0h2m0 0h2m0 0h1m0 0h2m2 0h1m1 0h2m0 0h1m0 0h2m0 0h2m0 0h1m1 0h1m1 0h2m0 0h2m0 0h1m0 0h1m0 0h1m0 0h2m1 0h1m0 0h1m1 0h1m0 0h2m0 0h1m0 0h2m2 0h1M45 183.5h1m1 0h2m3 0h2m0 0h1m1 0h1m2 0h1m0 0h1m0 0h1m0 0h1m0 0h1m0 0h1m0 0h1m1 0h1m1 0h1m1 0h1m1 0h2m0 0h1m2 0h2m0 0h1m2 0h1m2 0h1m0 0h1m3 0h1m2 0h2m0 0h1m0 0h2m2 0h1m0 0h1m1 0h2m2 0h1m0 0h2m1 0h2m0 0h2m0 0h1m0 0h2m2 0h1m0 0h1m3 0h2m1 0h2m2 0h1m1 0h1m0 0h1m6 0h2m1 0h2m4 0h2m0 0h2m2 0h1m0 0h2m0 0h1m1 0h2m1 0h2m3 0h2m2 0h2m6 0h1m0 0h1m1 0h1m0 0h1m0 0h2m1 0h2m0 0h2m0 0h2m1 0h1m0 0h2m0 0h1m0 0h1m0 0h2m1 0h2m0 0h2m0 0h2m0 0h1m0 0h2m0 0h2m0 0h2m0 0h2m0 0h1m0 0h1m4 0h1m6 0h1m0 0h1m0 0h2m0 0h1m0 0h1m0 0h1m0 0h2m0 0h2m1 0h1m2 0h1m0 0h2m0 0h1m0 0h1m0 0h1m1 0h2m1 0h2m0 0h2m2 0h2m1 0h2m1 0h1m1 0h1m1 0h1m3 0h1m0 0h2m1 0h2m0 0h2m0 0h2m0 0h1m0 0h2m1 0h1m2 0h2m0 0h2m0 0h2m3 0h1M45 184.5h1m7 0h2m1 0h1m1 0h2m5 0h2m5 0h1m0 0h2m3 0h1m0 0h1m8 0h1m0 0h2m0 0h1m4 0h2m0 0h1m0 0h1m1 0h2m0 0h1m2 0h1m0 0h2m1 0h2m1 0h1m1 0h2m0 0h1m1 0h2m1 0h2m0 0h1m0 0h1m1 0h2m0 0h1m0 0h1m5 0h1m0 0h1m0 0h1m2 0h1m6 0h1m0 0h2m0 0h1m0 0h2m0 0h1m3 0h1m4 0h2m4 0h2m0 0h1m0 0h1m1 0h2m3 0h1m0 0h1m0 0h2m0 0h2m0 0h1m0 0h1m2 0h1m0 0h2m0 0h1m0 0h1m2 0h1m0 0h1m0 0h1m0 0h1m1 0h2m0 0h2m0 0h1m2 0h2m0 0h1m0 0h2m0 0h1m0 0h2m0 0h2m0 0h2m4 0h1m1 0h1m2 0h1m2 0h1m0 0h1m1 0h1m0 0h2m0 0h2m0 0h1m0 0h1m1 0h2m0 0h1m2 0h1m0 0h1m4 0h1m2 0h2m4 0h1m0 0h1m4 0h2m1 0h2m2 0h2m2 0h1m1 0h2m1 0h2m0 0h1m0 0h1m1 0h1m1 0h1m0 0h1m2 0h2m2 0h1m4 0h1M41 185.5h2m0 0h1m1 0h1m0 0h2m1 0h1m0 0h1m2 0h2m0 0h2m0 0h1m0 0h2m5 0h1m0 0h2m2 0h2m0 0h1m1 0h1m3 0h2m1 0h2m0 0h1m0 0h2m0 0h2m2 0h1m0 0h2m0 0h1m0 0h1m0 0h2m0 0h2m1 0h1m0 0h2m0 0h1m0 0h1m0 0h1m3 0h2m0 0h2m2 0h1m3 0h1m0 0h1m0 0h1m1 0h1m2 0h2m1 0h1m0 0h1m2 0h1m1 0h1m0 0h1m1 0h2m1 0h2m2 0h1m1 0h2m1 0h2m0 0h1m0 0h1m1 0h2m0 0h2m3 0h1m7 0h2m2 0h1m1 0h1m2 0h2m0 0h1m0 0h1m0 0h2m0 0h1m0 0h1m0 0h1m0 0h2m0 0h2m1 0h2m1 0h1m0 0h2m0 0h2m0 0h1m0 0h1m2 0h1m0 0h1m1 0h1m2 0h2m1 0h2m2 0h2m5 0h1m2 0h2m0 0h2m1 0h2m0 0h1m3 0h1m6 0h1m2 0h2m1 0h1m1 0h2m0 0h2m0 0h2m1 0h2m2 0h1m2 0h1m3 0h1m4 0h1m1 0h1m0 0h1m1 0h1m0 0h2m0 0h2m4 0h2m0 0h1m1 0h2m1 0h2m1 0h1m3 0h1M41 186.5h2m1 0h2m0 0h1m2 0h2m0 0h1m1 0h1m1 0h1m0 0h1m1 0h1m0 0h2m0 0h1m0 0h2m0 0h1m1 0h2m0 0h2m0 0h1m0 0h1m0 0h1m0 0h2m0 0h2m0 0h2m0 0h2m1 0h2m2 0h1m0 0h2m2 0h2m0 0h1m2 0h2m0 0h1m1 0h1m1 0h1m0 0h1m0 0h2m0 0h1m0 0h1m1 0h1m0 0h1m4 0h1m0 0h1m0 0h2m0 0h1m0 0h1m0 0h2m0 0h2m0 0h1m0 0h2m1 0h1m1 0h2m0 0h2m0 0h1m0 0h1m0 0h1m0 0h1m0 0h2m0 0h1m0 0h1m0 0h1m0 0h1m0 0h2m2 0h1m0 0h2m0 0h2m0 0h2m0 0h1m1 0h1m1 0h2m0 0h1m0 0h2m0 0h1m1 0h2m0 0h2m1 0h2m0 0h1m0 0h1m0 0h1m0 0h1m0 0h1m0 0h2m0 0h2m0 0h2m0 0h1m0 0h2m0 0h1m0 0h1m0 0h2m0 0h1m2 0h2m0 0h1m1 0h2m0 0h1m0 0h1m1 0h1m0 0h2m0 0h2m0 0h1m0 0h2m1 0h2m0 0h1m0 0h1m1 0h2m2 0h2m0 0h2m0 0h1m0 0h2m0 0h1m0 0h1m0 0h1m0 0h1m0 0h1m0 0h2m0 0h2m1 0h2m0 0h2m0 0h1m0 0h2m0 0h1m0 0h2m0 0h2m0 0h2m1 0h1m0 0h2m2 0h1m0 0h1m0 0h2m0 0h2m0 0h1m0 0h1m1 0h2m3 0h1m0 0h1m0 0h1m0 0h2m0 0h2m2 0h2m0 0h1m0 0h1m1 0h2m1 0h2m0 0h2m0 0h1m1 0h1m0 0h2m0 0h1m0 0h2m1 0h1m1 0h1M41 187.5h1m0 0h1m0 0h2m3 0h2m0 0h2m1 0h1m7 0h1m0 0h2m0 0h2m2 0h2m3 0h1m2 0h2m1 0h2m1 0h2m1 0h1m1 0h2m0 0h1m0 0h1m1 0h2m1 0h1m5 0h2m0 0h2m2 0h1m0 0h1m0 0h1m0 0h2m2 0h2m0 0h2m0 0h1m1 0h1m0 0h1m3 0h2m0 0h1m0 0h1m0 0h1m1 0h2m0 0h1m1 0h2m0 0h1m0 0h2m0 0h1m1 0h1m2 0h2m0 0h1m7 0h2m1 0h1m4 0h2m1 0h1m3 0h1m3 0h2m0 0h1m0 0h1m2 0h2m2 0h2m1 0h1m0 0h1m0 0h1m0 0h1m0 0h2m0 0h1m0 0h2m0 0h1m0 0h2m3 0h2m0 0h1m0 0h1m0 0h1m0 0h1m1 0h2m2 0h1m4 0h1m2 0h1m1 0h2m0 0h2m0 0h1m1 0h1m0 0h1m2 0h1m1 0h1m1 0h2m0 0h1m1 0h1m0 0h2m1 0h2m1 0h2m0 0h1m1 0h1m1 0h1m1 0h1m2 0h1m0 0h2m1 0h1m1 0h1m0 0h1m1 0h1m0 0h1m1 0h1m3 0h1m0 0h1m0 0h1m0 0h2m1 0h2m1 0h1m1 0h1m1 0h2m0 0h1m1 0h2m4 0h2m0 0h1m0 0h2m0 0h2M44 188.5h2m0 0h2m0 0h2m0 0h1m1 0h1m0 0h2m3 0h1m2 0h2m0 0h2m5 0h2m0 0h1m3 0h2m5 0h2m2 0h1m0 0h2m0 0h2m0 0h1m0 0h1m3 0h1m0 0h2m6 0h1m0 0h2m5 0h1m0 0h2m0 0h1m0 0h2m0 0h1m0 0h1m0 0h2m1 0h1m2 0h1m8 0h1m0 0h1m3 0h1m4 0h1m6 0h2m0 0h2m4 0h2m0 0h2m0 0h1m1 0h1m2 0h1m2 0h2m6 0h2m0 0h2m0 0h1m0 0h2m0 0h1m0 0h1m1 0h2m2 0h1m0 0h2m0 0h2m1 0h2m1 0h2m0 0h2m3 0h2m0 0h2m0 0h2m3 0h2m1 0h1m4 0h1m2 0h2m2 0h1m1 0h2m0 0h2m0 0h2m3 0h1m5 0h1m8 0h1m1 0h1m1 0h1m0 0h2m2 0h1m0 0h2m0 0h2m3 0h1m0 0h2m2 0h2m0 0h2m0 0h2m0 0h2m0 0h1m5 0h1m1 0h1m0 0h2m0 0h1m0 0h1M42 189.5h1m1 0h2m0 0h1m1 0h1m1 0h2m0 0h1m0 0h1m0 0h1m0 0h2m3 0h1m0 0h2m1 0h2m0 0h2m0 0h1m0 0h1m1 0h1m0 0h2m1 0h2m0 0h2m2 0h1m4 0h2m0 0h1m3 0h2m1 0h1m0 0h1m0 0h1m0 0h1m1 0h2m1 0h2m3 0h2m2 0h2m3 0h2m1 0h2m0 0h1m0 0h1m0 0h1m1 0h1m1 0h2m0 0h1m2 0h2m2 0h1m0 0h2m0 0h1m0 0h1m0 0h1m1 0h1m0 0h1m0 0h1m1 0h1m1 0h1m0 0h2m0 0h2m0 0h1m0 0h1m2 0h2m0 0h2m0 0h1m0 0h2m5 0h2m0 0h2m0 0h2m1 0h1m0 0h2m0 0h1m1 0h2m0 0h1m1 0h2m0 0h2m3 0h1m0 0h2m1 0h1m2 0h2m0 0h2m0 0h2m0 0h1m0 0h2m0 0h1m3 0h1m0 0h1m0 0h2m2 0h1m0 0h2m0 0h1m6 0h2m3 0h1m0 0h2m0 0h2m0 0h1m0 0h1m1 0h1m0 0h2m1 0h1m2 0h2m1 0h1m1 0h1m0 0h1m0 0h1m0 0h2m0 0h1m2 0h1m0 0h1m3 0h1m0 0h1m0 0h1m0 0h1m1 0h2m0 0h2m3 0h2m0 0h2m2 0h2m0 0h2m0 0h2m0 0h2m0 0h2m0 0h2m0 0h2m0 0h2m2 0h2M44 190.5h2m0 0h1m0 0h2m0 0h2m0 0h1m0 0h2m0 0h2m0 0h2m2 0h1m0 0h2m0 0h2m0 0h1m0 0h1m0 0h1m0 0h1m1 0h2m0 0h2m0 0h2m0 0h1m0 0h1m1 0h2m0 0h1m0 0h1m0 0h1m0 0h1m1 0h2m1 0h1m0 0h2m0 0h1m2 0h2m0 0h1m1 0h1m0 0h2m1 0h1m0 0h1m0 0h1m1 0h1m0 0h1m1 0h2m0 0h1m0 0h2m1 0h2m1 0h1m1 0h1m0 0h2m0 0h1m0 0h2m1 0h1m0 0h1m0 0h2m0 0h1m0 0h1m1 0h1m0 0h2m0 0h1m0 0h1m0 0h2m0 0h1m0 0h2m0 0h2m0 0h1m0 0h1m0 0h1m0 0h1m0 0h1m0 0h2m1 0h1m1 0h2m1 0h2m0 0h1m4 0h1m3 0h1m0 0h1m0 0h1m3 0h1m1 0h1m0 0h1m0 0h2m0 0h1m0 0h2m0 0h2m0 0h1m0 0h1m1 0h1m0 0h2m0 0h1m1 0h2m0 0h1m0 0h2m0 0h2m0 0h2m0 0h2m1 0h1m0 0h2m0 0h2m0 0h1m0 0h2m2 0h1m0 0h1m0 0h1m0 0h1m0 0h2m0 0h2m0 0h1m0 0h1m0 0h2m2 0h1m0 0h2m1 0h1m0 0h2m0 0h1m0 0h1m1 0h2m1 0h2m0 0h2m0 0h1m0 0h1m2 0h2m0 0h2m0 0h1m1 0h2m1 0h1m2 0h2m0 0h2m1 0h1m0 0h1m2 0h1m0 0h2m0 0h1m0 0h1m0 0h2m1 0h2m0 0h1m1 0h2m0 0h1m0 0h1m0 0h2m0 0h1m0 0h1m0 0h1m2 0h1m0 0h1m0 0h2m1 0h1m0 0h1m1 0h1M45 191.5h1m0 0h1m2 0h1m4 0h2m1 0h1m5 0h2m0 0h2m5 0h1m0 0h1m0 0h2m5 0h2m2 0h2m0 0h2m1 0h1m1 0h2m1 0h2m4 0h1m2 0h1m1 0h1m2 0h1m0 0h1m3 0h1m1 0h2m1 0h2m0 0h2m1 0h2m5 0h2m0 0h2m1 0h2m2 0h2m4 0h2m3 0h1m4 0h1m7 0h2m7 0h1m0 0h2m6 0h1m2 0h2m3 0h1m1 0h1m2 0h2m1 0h2m2 0h2m4 0h2m6 0h1m1 0h2m3 0h2m0 0h2m3 0h2m0 0h1m1 0h2m1 0h1m3 0h1m0 0h2m2 0h1m0 0h2m3 0h2m2 0h1m2 0h1m6 0h2m0 0h1m0 0h1m11 0h2m2 0h2m0 0h2m2 0h1m3 0h1m0 0h1m2 0h2M41 192.5h1m0 0h1m0 0h1m0 0h1m1 0h1m4 0h1m0 0h2m2 0h2m0 0h2m1 0h2m0 0h2m2 0h2m1 0h1m1 0h1m0 0h1m0 0h2m1 0h2m0 0h1m2 0h2m0 0h2m7 0h2m1 0h1m0 0h1m0 0h2m1 0h1m2 0h2m0 0h2m0 0h1m0 0h1m1 0h1m1 0h1m1 0h2m0 0h1m0 0h1m1 0h2m0 0h1m0 0h2m0 0h2m0 0h1m5 0h2m4 0h1m0 0h1m0 0h1m4 0h2m3 0h1m0 0h2m1 0h1m1 0h1m4 0h2m0 0h1m4 0h2m3 0h1m2 0h1m3 0h1m0 0h1m0 0h1m0 0h1m1 0h2m0 0h1m1 0h1m0 0h2m1 0h2m1 0h1m0 0h2m0 0h1m0 0h2m0 0h2m1 0h1m0 0h2m1 0h2m2 0h1m0 0h1m1 0h1m0 0h1m1 0h2m0 0h1m0 0h2m2 0h1m1 0h2m2 0h2m0 0h1m6 0h1m1 0h1m0 0h1m0 0h1m1 0h1m0 0h2m1 0h2m0 0h1m0 0h1m0 0h2m0 0h1m0 0h2m2 0h1m0 0h2m1 0h1m0 0h2m1 0h1m1 0h2m1 0h1m0 0h2m1 0h1m1 0h2m1 0h1m0 0h1m1 0h1m0 0h2m0 0h2m1 0h1m0 0h1m0 0h2m1 0h2m2 0h1m1 0h1M41 193.5h1m0 0h1m0 0h2m1 0h2m0 0h2m1 0h2m0 0h1m1 0h1m2 0h1m0 0h2m5 0h1m1 0h2m1 0h1m0 0h1m0 0h1m0 0h2m1 0h1m1 0h2m13 0h1m1 0h1m1 0h2m0 0h2m2 0h1m0 0h2m1 0h2m0 0h1m1 0h2m1 0h2m0 0h1m0 0h2m3 0h2m5 0h2m0 0h1m2 0h1m1 0h1m0 0h1m0 0h2m0 0h1m1 0h2m0 0h1m1 0h2m0 0h1m0 0h1m0 0h2m1 0h1m1 0h2m3 0h2m0 0h1m9 0h2m1 0h2m3 0h2m0 0h1m0 0h2m1 0h1m0 0h1m0 0h1m0 0h1m1 0h1m0 0h2m0 0h2m3 0h1m0 0h2m0 0h2m0 0h1m1 0h1m1 0h1m0 0h1m1 0h1m0 0h1m1 0h1m0 0h1m1 0h2m1 0h2m0 0h1m2 0h1m7 0h2m0 0h1m0 0h1m3 0h1m0 0h2m0 0h1m0 0h2m3 0h2m3 0h1m2 0h2m4 0h1m6 0h2m1 0h1m0 0h2m1 0h2m0 0h1m1 0h1m0 0h1m5 0h1m2 0h2m0 0h2m0 0h2m3 0h1m0 0h1m2 0h1M41 194.5h2m0 0h2m4 0h2m0 0h2m0 0h1m0 0h2m1 0h1m6 0h1m0 0h1m0 0h1m0 0h2m1 0h1m0 0h2m0 0h2m1 0h2m3 0h2m0 0h1m5 0h2m1 0h2m1 0h1m7 0h1m0 0h1m8 0h2m0 0h1m0 0h1m1 0h2m0 0h1m0 0h2m3 0h1m4 0h2m1 0h1m0 0h1m1 0h2m1 0h1m0 0h2m2 0h1m1 0h2m0 0h1m2 0h1m1 0h2m3 0h2m0 0h2m5 0h1m6 0h2m1 0h2m0 0h1m0 0h1m1 0h1m0 0h1m2 0h2m0 0h1m0 0h2m1 0h1m1 0h1m0 0h2m5 0h1m0 0h1m2 0h1m1 0h2m2 0h2m1 0h2m1 0h2m5 0h1m7 0h2m0 0h2m0 0h2m1 0h2m2 0h1m2 0h1m1 0h1m1 0h2m1 0h1m0 0h2m1 0h2m0 0h1m0 0h1m0 0h1m0 0h1m1 0h1m0 0h2m1 0h2m5 0h2m2 0h1m0 0h1m5 0h1m3 0h2m7 0h1m2 0h2M44 195.5h2m1 0h1m5 0h2m0 0h2m0 0h2m0 0h1m0 0h2m1 0h1m0 0h1m0 0h2m1 0h2m1 0h2m0 0h1m0 0h2m0 0h2m3 0h2m0 0h2m2 0h2m0 0h1m0 0h1m0 0h1m0 0h1m0 0h1m0 0h2m0 0h1m0 0h1m0 0h2m0 0h1m0 0h1m1 0h1m5 0h2m1 0h1m1 0h1m0 0h2m0 0h1m0 0h2m0 0h2m1 0h1m3 0h1m2 0h2m2 0h2m0 0h2m1 0h1m0 0h1m0 0h1m2 0h1m0 0h2m2 0h1m2 0h1m0 0h1m0 0h2m1 0h1m0 0h2m0 0h2m0 0h1m0 0h1m1 0h2m1 0h2m0 0h1m2 0h2m0 0h2m1 0h2m1 0h1m0 0h2m1 0h1m2 0h1m0 0h2m0 0h2m1 0h1m0 0h1m2 0h2m0 0h1m0 0h1m0 0h1m0 0h2m0 0h2m0 0h2m0 0h1m0 0h1m0 0h2m2 0h2m0 0h1m0 0h2m1 0h2m0 0h2m1 0h2m0 0h1m0 0h2m0 0h1m0 0h1m3 0h1m1 0h2m0 0h2m0 0h1m0 0h2m0 0h2m1 0h1m0 0h1m0 0h1m1 0h2m0 0h1m1 0h1m2 0h1m0 0h1m1 0h1m1 0h2m0 0h1m0 0h2m1 0h1m0 0h1m1 0h1m1 0h1m0 0h1m0 0h1m0 0h1m0 0h1m1 0h1m2 0h2m0 0h1m0 0h2m0 0h2m0 0h1m1 0h2m1 0h1m0 0h1m1 0h2m1 0h1m0 0h2m0 0h1M43 196.5h2m0 0h1m1 0h2m1 0h1m0 0h2m1 0h2m1 0h1m1 0h1m0 0h2m0 0h2m6 0h2m1 0h2m3 0h1m0 0h1m2 0h2m4 0h2m0 0h1m2 0h1m1 0h2m0 0h1m1 0h1m2 0h1m1 0h1m4 0h2m1 0h2m3 0h1m1 0h2m2 0h2m1 0h2m2 0h2m3 0h1m1 0h1m3 0h1m0 0h2m3 0h2m0 0h1m1 0h1m0 0h1m1 0h2m0 0h1m0 0h2m9 0h2m3 0h2m0 0h1m3 0h1m1 0h2m0 0h2m0 0h2m1 0h1m0 0h2m0 0h1m3 0h1m1 0h2m2 0h1m1 0h1m0 0h2m0 0h2m2 0h2m1 0h2m4 0h1m3 0h1m0 0h1m0 0h1m3 0h1m0 0h2m0 0h1m0 0h2m0 0h2m2 0h1m0 0h2m0 0h2m0 0h2m0 0h2m0 0h2m1 0h1m2 0h1m0 0h1m0 0h1m1 0h2m3 0h1m0 0h2m1 0h1m1 0h2m0 0h1m1 0h2m0 0h1m2 0h1m1 0h1m1 0h2m0 0h2m1 0h1m0 0h2m0 0h1m4 0h2m0 0h1m3 0h1m3 0h1M41 197.5h2m0 0h1m0 0h1m1 0h1m1 0h2m0 0h1m1 0h2m0 0h2m0 0h2m0 0h1m2 0h2m0 0h1m0 0h1m0 0h1m0 0h2m0 0h1m0 0h2m0 0h1m0 0h1m0 0h2m0 0h2m1 0h1m0 0h1m1 0h1m0 0h2m0 0h2m1 0h2m1 0h2m0 0h2m0 0h1m1 0h1m1 0h2m0 0h2m0 0h1m0 0h2m0 0h1m1 0h1m1 0h1m2 0h1m1 0h2m0 0h2m1 0h1m1 0h1m1 0h2m0 0h2m1 0h2m1 0h1m0 0h1m0 0h2m1 0h1m0 0h1m0 0h1m0 0h1m0 0h2m0 0h2m0 0h2m0 0h2m1 0h1m1 0h2m5 0h2m1 0h2m1 0h1m0 0h2m3 0h1m0 0h1m1 0h1m0 0h2m0 0h1m1 0h1m2 0h2m1 0h1m0 0h1m0 0h1m0 0h1m0 0h1m0 0h1m0 0h2m0 0h1m1 0h2m0 0h1m0 0h2m0 0h2m0 0h2m0 0h2m0 0h2m0 0h2m0 0h1m0 0h2m0 0h2m0 0h1m1 0h2m0 0h1m0 0h1m0 0h1m0 0h2m0 0h2m0 0h2m1 0h2m0 0h2m1 0h1m0 0h1m0 0h1m0 0h1m1 0h2m2 0h1m2 0h1m3 0h2m1 0h1m0 0h2m0 0h1m0 0h1m0 0h2m0 0h1m0 0h1m0 0h2m1 0h1m0 0h1m0 0h2m0 0h1m1 0h1m0 0h1m0 0h2m0 0h1m1 0h1m0 0h2m1 0h1m0 0h1m0 0h1m0 0h2m0 0h2m0 0h2m0 0h1m0 0h1m0 0h1m1 0h2m0 0h1m1 0h1m0 0h2m1 0h2m1 0h1m0 0h1M42 198.5h2m0 0h2m0 0h2m0 0h2m2 0h1m0 0h2m1 0h2m4 0h1m2 0h2m1 0h2m0 0h1m0 0h1m2 0h2m0 0h1m1 0h2m1 0h2m2 0h1m3 0h1m1 0h2m3 0h1m0 0h1m0 0h1m4 0h2m1 0h1m4 0h2m1 0h2m1 0h2m4 0h1m4 0h2m0 0h1m0 0h1m3 0h1m1 0h1m4 0h2m0 0h1m2 0h2m6 0h2m0 0h1m0 0h2m4 0h2m0 0h2m2 0h1m4 0h2m0 0h1m1 0h2m1 0h2m0 0h1m1 0h2m0 0h1m1 0h2m0 0h2m0 0h2m0 0h1m2 0h2m0 0h1m0 0h1m0 0h1m1 0h1m0 0h2m0 0h1m3 0h2m1 0h1m0 0h1m4 0h1m0 0h2m2 0h1m0 0h1m0 0h2m0 0h2m2 0h2m0 0h2m0 0h2m0 0h2m1 0h1m2 0h1m1 0h1m1 0h2m0 0h1m1 0h1m4 0h2m0 0h1m1 0h2m3 0h2m1 0h1m1 0h1m0 0h2m3 0h1m1 0h1m0 0h2m0 0h2m0 0h2m0 0h2m2 0h1m0 0h1m1 0h1m4 0h1m0 0h1m1 0h2M41 199.5h1m0 0h2m1 0h1m0 0h1m1 0h2m1 0h1m1 0h2m2 0h1m0 0h2m0 0h1m0 0h1m3 0h1m0 0h1m1 0h1m0 0h2m2 0h2m0 0h2m3 0h2m0 0h2m0 0h2m0 0h2m2 0h2m0 0h1m2 0h1m0 0h1m0 0h1m1 0h1m0 0h1m0 0h2m0 0h1m0 0h2m0 0h1m3 0h2m0 0h2m3 0h1m1 0h1m0 0h2m0 0h1m2 0h1m0 0h2m0 0h1m0 0h2m1 0h2m0 0h2m0 0h1m0 0h1m0 0h1m1 0h1m0 0h1m3 0h1m1 0h1m0 0h1m2 0h1m2 0h1m2 0h1m1 0h1m2 0h1m2 0h2m0 0h2m0 0h2m1 0h2m0 0h1m1 0h1m0 0h2m0 0h1m2 0h1m0 0h1m0 0h2m0 0h2m0 0h1m0 0h2m0 0h1m0 0h1m0 0h2m0 0h1m1 0h1m0 0h1m0 0h2m0 0h1m0 0h2m0 0h2m0 0h2m2 0h1m1 0h2m0 0h1m0 0h2m0 0h1m0 0h2m0 0h2m1 0h2m1 0h1m0 0h2m0 0h1m4 0h2m0 0h2m0 0h2m1 0h2m1 0h2m0 0h1m0 0h2m0 0h1m0 0h2m1 0h1m0 0h2m1 0h2m0 0h1m0 0h2m0 0h1m0 0h2m0 0h2m2 0h1m0 0h1m0 0h1m0 0h1m0 0h1m0 0h2m0 0h1m1 0h1m3 0h2m0 0h1m1 0h2m3 0h1m0 0h2m0 0h1m1 0h1m0 0h1m0 0h2m1 0h1m0 0h1m1 0h1M41 200.5h1m0 0h1m0 0h1m0 0h1m1 0h2m2 0h2m0 0h1m0 0h1m0 0h1m0 0h1m3 0h2m0 0h2m0 0h1m0 0h1m0 0h2m0 0h2m0 0h2m0 0h2m0 0h2m0 0h1m0 0h2m0 0h1m2 0h2m0 0h2m0 0h1m0 0h1m0 0h2m0 0h2m1 0h1m1 0h2m0 0h1m0 0h1m0 0h2m0 0h2m0 0h1m1 0h1m1 0h1m0 0h1m1 0h2m0 0h1m1 0h2m1 0h2m1 0h1m0 0h1m1 0h2m1 0h2m0 0h1m0 0h1m1 0h1m0 0h1m0 0h2m0 0h1m1 0h1m0 0h2m0 0h1m0 0h2m0 0h2m1 0h2m1 0h1m1 0h2m1 0h2m0 0h1m0 0h1m0 0h1m0 0h2m3 0h1m0 0h1m3 0h1m2 0h1m3 0h1m1 0h1m1 0h1m0 0h2m1 0h2m0 0h1m0 0h2m0 0h2m0 0h2m1 0h1m0 0h2m0 0h2m0 0h2m0 0h1m1 0h2m0 0h2m0 0h1m0 0h1m0 0h2m0 0h1m1 0h1m1 0h1m0 0h2m0 0h1m1 0h1m0 0h1m0 0h2m0 0h1m3 0h1m0 0h2m3 0h1m1 0h2m0 0h1m1 0h1m0 0h1m0 0h2m1 0h1m0 0h1m0 0h2m0 0h1m0 0h1m0 0h2m0 0h1m0 0h2m1 0h2m1 0h1m3 0h2m1 0h1m0 0h1m0 0h1m2 0h1m0 0h1m0 0h2m1 0h1m0 0h2m1 0h1m1 0h2m0 0h1m1 0h1m1 0h2m1 0h2m0 0h1m1 0h1m0 0h2m0 0h1m0 0h2m0 0h1m0 0h1m0 0h2m0 0h1M41 201.5h1m3 0h2m1 0h1m0 0h2m4 0h1m0 0h1m1 0h1m0 0h1m0 0h1m1 0h2m1 0h1m0 0h1m1 0h2m0 0h1m0 0h1m0 0h2m1 0h1m1 0h1m0 0h1m0 0h1m0 0h1m1 0h1m3 0h1m0 0h2m1 0h1m4 0h1m0 0h1m0 0h1m0 0h1m2 0h1m0 0h1m4 0h2m0 0h1m0 0h1m0 0h1m1 0h2m0 0h2m1 0h2m0 0h1m0 0h1m2 0h1m0 0h1m2 0h2m5 0h1m0 0h2m0 0h1m0 0h2m2 0h2m2 0h1m0 0h1m1 0h1m0 0h1m0 0h2m1 0h2m0 0h2m5 0h1m1 0h2m2 0h1m4 0h1m1 0h1m3 0h2m0 0h1m0 0h2m0 0h2m2 0h1m0 0h1m0 0h2m0 0h2m0 0h1m1 0h1m0 0h2m0 0h1m1 0h1m0 0h2m0 0h2m0 0h2m1 0h1m4 0h2m0 0h1m0 0h1m1 0h2m1 0h2m2 0h1m0 0h2m1 0h1m1 0h2m0 0h2m0 0h1m0 0h1m0 0h2m5 0h1m1 0h1m1 0h1m1 0h1m0 0h1m0 0h1m0 0h2m1 0h1m0 0h1m0 0h1m0 0h2m0 0h2m0 0h2m0 0h2m1 0h2m1 0h1m0 0h1m1 0h2m1 0h1m0 0h1m0 0h1m0 0h1m0 0h2m0 0h1m2 0h1m0 0h2m0 0h1m0 0h1m1 0h2m2 0h2m0 0h2m0 0h2M41 202.5h1m1 0h2m0 0h2m0 0h1m0 0h2m0 0h2m0 0h2m0 0h1m1 0h2m0 0h2m0 0h2m0 0h2m0 0h2m1 0h2m3 0h1m1 0h1m0 0h1m0 0h2m0 0h1m3 0h2m0 0h2m0 0h2m0 0h1m1 0h1m0 0h1m0 0h1m4 0h2m1 0h2m1 0h2m1 0h2m0 0h2m0 0h1m2 0h1m1 0h1m0 0h2m0 0h1m0 0h1m1 0h1m2 0h2m1 0h1m1 0h2m0 0h2m1 0h1m5 0h1m2 0h2m0 0h1m1 0h2m1 0h1m6 0h2m1 0h1m1 0h2m2 0h2m10 0h1m4 0h1m0 0h2m0 0h2m2 0h2m1 0h1m1 0h2m0 0h1m0 0h2m0 0h2m2 0h2m0 0h2m0 0h2m1 0h2m1 0h2m1 0h1m0 0h2m2 0h2m0 0h1m2 0h2m1 0h1m2 0h2m2 0h1m1 0h2m2 0h1m0 0h2m3 0h1m0 0h2m4 0h1m3 0h1m3 0h1m1 0h1m1 0h1m1 0h1m0 0h1m3 0h1m3 0h2m1 0h1m0 0h2m4 0h2m2 0h1m1 0h1m0 0h1m0 0h1m0 0h1m1 0h2m0 0h2m1 0h1M41 203.5h2m0 0h1m3 0h1m3 0h1m0 0h1m0 0h2m0 0h2m1 0h2m0 0h1m1 0h1m1 0h1m1 0h1m0 0h2m2 0h1m2 0h1m0 0h1m0 0h1m0 0h1m0 0h2m1 0h1m0 0h1m0 0h2m1 0h1m2 0h2m2 0h2m1 0h2m0 0h1m0 0h2m0 0h2m1 0h1m0 0h2m0 0h2m0 0h2m0 0h1m0 0h1m0 0h1m3 0h2m3 0h2m0 0h1m0 0h1m0 0h2m0 0h1m0 0h1m1 0h2m0 0h1m0 0h1m0 0h2m0 0h1m2 0h2m1 0h1m0 0h1m0 0h1m0 0h2m1 0h2m0 0h2m3 0h2m3 0h1m0 0h2m0 0h2m0 0h1m0 0h2m4 0h1m1 0h1m0 0h2m0 0h1m2 0h2m0 0h2m1 0h1m0 0h1m2 0h1m0 0h2m0 0h2m0 0h2m0 0h1m1 0h1m0 0h1m2 0h1m0 0h2m0 0h1m0 0h1m0 0h1m0 0h2m0 0h1m2 0h2m0 0h1m0 0h1m1 0h1m2 0h1m1 0h1m0 0h2m1 0h1m2 0h1m0 0h1m2 0h1m0 0h2m0 0h1m0 0h2m0 0h2m1 0h1m0 0h2m0 0h2m0 0h1m2 0h1m1 0h1m0 0h1m0 0h1m0 0h2m0 0h2m0 0h1m1 0h1m0 0h1m1 0h1m0 0h1m0 0h2m0 0h1m0 0h1m2 0h1m0 0h1m0 0h2m0 0h1m1 0h1m1 0h1m2 0h2m2 0h2m1 0h2m1 0h1m1 0h1m0 0h1m0 0h1m0 0h2m1 0h2m0 0h1M41 204.5h2m1 0h2m2 0h1m0 0h1m0 0h2m0 0h2m0 0h2m0 0h1m1 0h1m0 0h2m0 0h1m0 0h1m3 0h1m0 0h1m1 0h1m0 0h1m0 0h1m1 0h1m1 0h2m1 0h1m1 0h2m4 0h2m1 0h1m0 0h1m0 0h2m1 0h1m1 0h2m0 0h1m1 0h1m1 0h1m2 0h1m0 0h2m0 0h1m1 0h1m0 0h2m0 0h1m0 0h2m0 0h2m1 0h1m1 0h2m0 0h1m0 0h1m0 0h2m1 0h2m2 0h2m0 0h1m2 0h2m2 0h2m0 0h1m0 0h2m0 0h2m10 0h1m3 0h1m0 0h1m4 0h2m0 0h2m3 0h1m1 0h2m0 0h1m2 0h1m0 0h1m1 0h1m0 0h1m2 0h1m1 0h1m0 0h2m1 0h1m0 0h1m4 0h2m5 0h2m0 0h1m0 0h2m1 0h1m2 0h1m1 0h1m0 0h1m3 0h1m0 0h1m0 0h1m0 0h1m0 0h1m0 0h2m1 0h1m1 0h2m1 0h1m1 0h2m0 0h1m0 0h1m0 0h2m2 0h1m0 0h1m3 0h2m1 0h1m0 0h2m0 0h2m0 0h1m0 0h1m0 0h1m1 0h1m0 0h1m1 0h2m0 0h1m0 0h1m2 0h2m0 0h1m0 0h2m2 0h1m1 0h2m3 0h2m0 0h2m2 0h2m0 0h2m2 0h1m1 0h2m0 0h1M41 205.5h1m0 0h2m2 0h1m0 0h1m0 0h1m2 0h2m1 0h1m0 0h2m1 0h2m0 0h1m2 0h2m0 0h1m0 0h2m1 0h2m0 0h2m1 0h1m1 0h2m0 0h2m1 0h1m3 0h2m0 0h1m2 0h1m0 0h1m2 0h1m2 0h2m2 0h1m1 0h2m0 0h2m1 0h1m0 0h2m2 0h1m0 0h1m4 0h2m0 0h1m0 0h2m3 0h2m4 0h1m3 0h1m3 0h1m0 0h1m5 0h1m1 0h2m5 0h2m0 0h2m0 0h1m2 0h1m0 0h2m4 0h1m6 0h2m0 0h1m1 0h1m1 0h1m0 0h2m0 0h2m0 0h1m1 0h1m0 0h1m0 0h2m0 0h2m0 0h1m2 0h2m3 0h1m1 0h2m1 0h2m1 0h1m1 0h2m0 0h2m0 0h1m0 0h1m0 0h2m2 0h1m3 0h1m1 0h1m1 0h2m1 0h2m6 0h1m0 0h2m0 0h2m1 0h2m1 0h1m0 0h2m0 0h1m0 0h1m1 0h2m0 0h1m0 0h1m0 0h1m1 0h2m6 0h1m1 0h2m1 0h2m5 0h1m0 0h1m1 0h1m1 0h1m5 0h2m0 0h2m1 0h1m0 0h1m1 0h1M42 206.5h1m7 0h1m2 0h2m1 0h2m0 0h2m0 0h2m1 0h1m1 0h2m2 0h1m0 0h2m0 0h1m4 0h1m4 0h2m3 0h1m0 0h1m1 0h1m0 0h1m3 0h1m1 0h1m1 0h1m0 0h1m0 0h1m1 0h1m0 0h2m0 0h1m3 0h1m1 0h2m2 0h2m6 0h2m0 0h1m0 0h2m1 0h1m1 0h2m2 0h2m3 0h2m2 0h2m14 0h1m1 0h2m0 0h2m8 0h1m1 0h1m4 0h2m0 0h1m0 0h2m0 0h2m0 0h2m4 0h2m2 0h2m1 0h2m5 0h1m1 0h1m5 0h1m1 0h1m0 0h1m2 0h1m4 0h2m1 0h1m1 0h2m0 0h1m0 0h2m0 0h2m1 0h1m4 0h2m2 0h2m0 0h1m0 0h2m0 0h1m4 0h2m0 0h1m0 0h1m0 0h2m1 0h2m0 0h1m4 0h1m2 0h2m0 0h1m1 0h1m5 0h1m0 0h2m1 0h1m9 0h1m0 0h2m1 0h1M42 207.5h1m3 0h2m1 0h2m0 0h1m0 0h1m5 0h2m0 0h2m2 0h1m2 0h1m0 0h2m0 0h1m1 0h2m0 0h2m0 0h1m0 0h1m0 0h1m6 0h1m0 0h1m4 0h2m2 0h1m0 0h1m1 0h2m3 0h1m3 0h1m1 0h2m10 0h2m1 0h2m0 0h1m1 0h1m0 0h2m3 0h1m1 0h1m1 0h2m0 0h2m3 0h1m2 0h1m1 0h2m4 0h1m0 0h1m0 0h2m0 0h2m8 0h1m0 0h1m0 0h1m0 0h2m2 0h2m0 0h1m2 0h2m1 0h2m0 0h1m3 0h1m0 0h2m3 0h2m0 0h1m1 0h1m2 0h1m0 0h1m1 0h2m0 0h2m3 0h2m1 0h2m2 0h2m3 0h1m2 0h1m0 0h1m3 0h1m3 0h2m0 0h2m2 0h2m3 0h2m3 0h1m0 0h2m0 0h1m2 0h1m1 0h2m1 0h2m1 0h1m2 0h1m4 0h2m1 0h1m0 0h2m1 0h1m4 0h2m2 0h2m0 0h2m1 0h1m0 0h2m4 0h1M41 208.5h1m1 0h2m0 0h2m3 0h1m1 0h1m0 0h2m0 0h1m0 0h1m1 0h2m1 0h2m0 0h1m0 0h2m0 0h2m1 0h1m0 0h1m1 0h1m0 0h2m1 0h1m1 0h2m0 0h2m1 0h2m0 0h1m0 0h2m0 0h1m0 0h1m0 0h2m0 0h2m0 0h2m0 0h2m0 0h2m2 0h2m0 0h2m1 0h1m0 0h2m1 0h2m0 0h2m0 0h1m1 0h1m0 0h1m0 0h2m0 0h2m1 0h1m0 0h2m2 0h2m0 0h1m0 0h1m1 0h2m1 0h2m0 0h1m0 0h1m0 0h2m2 0h2m3 0h1m1 0h2m2 0h1m0 0h2m0 0h1m0 0h2m0 0h1m0 0h1m1 0h1m1 0h1m0 0h1m0 0h1m1 0h2m0 0h2m0 0h2m5 0h2m0 0h2m0 0h2m0 0h1m0 0h1m0 0h1m1 0h2m0 0h2m0 0h2m0 0h2m0 0h2m0 0h2m0 0h2m0 0h1m0 0h2m0 0h2m0 0h2m0 0h2m0 0h1m0 0h2m2 0h2m0 0h1m0 0h1m3 0h1m1 0h1m1 0h2m0 0h1m0 0h1m0 0h2m0 0h2m0 0h2m0 0h2m0 0h1m0 0h2m2 0h1m1 0h1m0 0h2m1 0h1m0 0h2m0 0h1m1 0h2m0 0h1m2 0h1m0 0h2m0 0h2m0 0h1m1 0h1m2 0h2m0 0h2m0 0h1m0 0h2m2 0h1m0 0h2m1 0h1m0 0h2m1 0h1m1 0h1m0 0h1m1 0h2m0 0h1m0 0h2m0 0h1m1 0h2m0 0h1M41 209.5h1m0 0h1m2 0h1m2 0h2m2 0h1m0 0h2m1 0h2m0 0h2m1 0h1m4 0h2m0 0h1m0 0h1m2 0h1m2 0h2m1 0h1m0 0h2m3 0h1m0 0h2m2 0h1m0 0h1m0 0h2m1 0h1m0 0h2m2 0h2m0 0h1m0 0h1m1 0h2m0 0h2m0 0h1m0 0h1m0 0h1m1 0h2m0 0h2m0 0h1m0 0h2m0 0h2m1 0h2m0 0h1m1 0h2m0 0h2m3 0h1m0 0h2m0 0h2m4 0h2m0 0h1m0 0h1m0 0h2m0 0h2m1 0h1m0 0h1m1 0h1m0 0h2m0 0h1m1 0h2m0 0h2m0 0h1m0 0h2m2 0h1m2 0h1m0 0h1m0 0h1m1 0h2m0 0h1m1 0h1m0 0h2m0 0h1m1 0h1m3 0h2m1 0h1m0 0h1m0 0h1m0 0h2m0 0h2m0 0h2m0 0h2m0 0h1m3 0h2m0 0h2m2 0h1m0 0h1m2 0h1m3 0h2m1 0h2m0 0h1m1 0h1m1 0h2m0 0h2m3 0h2m0 0h1m1 0h2m0 0h2m1 0h1m0 0h1m3 0h1m4 0h1m1 0h1m1 0h2m1 0h1m1 0h1m2 0h2m0 0h2m1 0h1m2 0h2m1 0h1m1 0h1m1 0h1m0 0h1m1 0h1m0 0h1m2 0h1m1 0h2m0 0h2m0 0h2m2 0h1m0 0h2m1 0h1m1 0h1M41 210.5h1m0 0h1m9 0h2m2 0h2m0 0h1m1 0h1m1 0h2m1 0h1m0 0h1m1 0h2m1 0h2m2 0h2m2 0h2m2 0h1m1 0h1m3 0h1m8 0h1m4 0h1m1 0h2m3 0h1m0 0h1m0 0h1m1 0h1m0 0h1m0 0h2m1 0h1m10 0h1m7 0h1m0 0h1m2 0h1m0 0h2m2 0h2m0 0h2m1 0h1m2 0h1m0 0h1m7 0h1m0 0h1m1 0h2m0 0h1m2 0h1m1 0h2m1 0h2m2 0h2m2 0h1m0 0h1m1 0h1m2 0h2m5 0h1m0 0h1m2 0h1m0 0h1m0 0h2m1 0h1m1 0h1m1 0h1m1 0h1m0 0h1m0 0h2m3 0h2m2 0h1m3 0h1m0 0h1m2 0h1m2 0h1m3 0h2m3 0h1m5 0h1m1 0h1m0 0h1m1 0h1m10 0h2m2 0h1m3 0h2m0 0h1m0 0h1m5 0h2m1 0h1m0 0h1m1 0h1m0 0h2m3 0h2m0 0h1m3 0h1m0 0h2m1 0h1M41 211.5h1m2 0h1m0 0h1m0 0h1m3 0h2m0 0h1m2 0h2m0 0h1m1 0h1m3 0h2m0 0h1m6 0h2m2 0h1m0 0h1m0 0h1m11 0h1m3 0h1m2 0h1m0 0h2m2 0h2m1 0h2m2 0h1m1 0h2m0 0h1m3 0h1m1 0h1m4 0h1m3 0h2m0 0h2m0 0h2m0 0h2m1 0h2m0 0h1m0 0h1m1 0h1m1 0h1m7 0h2m2 0h1m2 0h1m7 0h1m1 0h2m0 0h2m0 0h2m1 0h2m2 0h1m2 0h1m0 0h2m2 0h2m1 0h1m0 0h1m1 0h1m0 0h1m2 0h1m1 0h1m0 0h1m0 0h2m1 0h2m1 0h1m0 0h2m3 0h1m2 0h1m1 0h1m1 0h2m1 0h1m1 0h1m0 0h1m1 0h2m4 0h2m5 0h1m2 0h1m0 0h1m3 0h2m1 0h1m2 0h2m1 0h1m11 0h1m1 0h1m2 0h2m3 0h1m2 0h2m1 0h2m0 0h2m0 0h1m2 0h2m1 0h1m1 0h1m1 0h2m0 0h2M41 212.5h2m1 0h1m0 0h1m0 0h1m3 0h1m0 0h1m0 0h1m1 0h2m0 0h1m6 0h1m2 0h1m0 0h1m2 0h2m0 0h2m0 0h2m1 0h2m0 0h2m4 0h1m0 0h2m3 0h1m0 0h2m1 0h1m2 0h1m4 0h1m0 0h2m0 0h1m0 0h1m1 0h1m8 0h1m0 0h1m4 0h1m4 0h1m0 0h1m0 0h2m0 0h1m4 0h1m1 0h1m2 0h2m1 0h1m11 0h2m4 0h1m3 0h1m2 0h2m0 0h2m5 0h2m1 0h2m1 0h1m1 0h1m1 0h2m0 0h2m10 0h2m0 0h1m6 0h2m1 0h1m4 0h1m2 0h2m0 0h1m1 0h1m0 0h2m1 0h2m4 0h1m5 0h2m1 0h1m4 0h2m2 0h1m0 0h2m3 0h2m2 0h1m2 0h1m0 0h2m0 0h2m3 0h1m1 0h1m4 0h2m2 0h2m2 0h1m5 0h1m1 0h2m3 0h1M42 213.5h1m0 0h2m0 0h1m0 0h2m2 0h1m1 0h1m3 0h1m0 0h1m0 0h2m1 0h1m0 0h2m1 0h2m6 0h1m1 0h2m1 0h1m0 0h2m4 0h1m0 0h1m3 0h2m0 0h1m0 0h2m0 0h1m0 0h2m1 0h2m0 0h1m3 0h1m2 0h2m0 0h1m0 0h1m0 0h2m3 0h2m2 0h1m5 0h1m0 0h1m0 0h1m2 0h1m0 0h2m2 0h1m0 0h2m0 0h2m0 0h1m0 0h1m1 0h2m0 0h1m4 0h1m1 0h2m0 0h1m0 0h1m0 0h1m7 0h2m1 0h1m2 0h1m0 0h1m5 0h1m0 0h2m0 0h2m0 0h2m2 0h2m0 0h2m0 0h1m0 0h1m0 0h1m3 0h1m0 0h1m1 0h2m1 0h1m1 0h1m1 0h2m1 0h1m0 0h2m2 0h2m0 0h1m1 0h1m0 0h1m0 0h2m0 0h2m1 0h1m0 0h1m3 0h2m1 0h1m1 0h1m1 0h1m0 0h1m2 0h1m1 0h2m0 0h1m3 0h1m2 0h1m0 0h2m0 0h1m2 0h2m5 0h1m0 0h1m0 0h1m4 0h1m0 0h1m5 0h2m0 0h2m2 0h1m0 0h1m0 0h1m0 0h1m0 0h2m0 0h2m0 0h1m8 0h2" stroke="#000" stroke-opacity="0.12" stroke-width="1" fill="none" filter="url(#rb)"/><path d="M47 175.5h1m23 0h2m38 0h2m0 0h1m3 0h1m12 0h1m6 0h2m4 0h1m2 0h1m2 0h2m1 0h1m4 0h1m1 0h1m22 0h2m5 0h1m0 0h2m3 0h1m3 0h2m0 0h1m20 0h2m0 0h1m0 0h1m3 0h2m9 0h1m1 0h2m3 0h1m0 0h2m9 0h2m3 0h1m7 0h1m17 0h2m11 0h1m1 0h1M78 176.5h2m5 0h2m4 0h1m1 0h1m4 0h2m19 0h2m3 0h1m13 0h2m4 0h1m30 0h1m12 0h1m7 0h2m11 0h2m13 0h2m0 0h1m13 0h2m18 0h1m4 0h1m10 0h1m9 0h1M45 177.5h1m9 0h2m2 0h2m13 0h1m0 0h1m12 0h1m28 0h2m3 0h2m3 0h1m1 0h2m1 0h2m13 0h1m26 0h1m0 0h1m2 0h2m8 0h2m10 0h2m4 0h1m7 0h2m0 0h1m21 0h1m10 0h1m2 0h1m12 0h1m1 0h2M59 178.5h1m7 0h2m4 0h2m12 0h1m1 0h1m7 0h1m15 0h1m20 0h1m6 0h2m16 0h2m17 0h1m5 0h2m26 0h1m5 0h1m21 0h1m1 0h1m4 0h1m20 0h2m4 0h2m9 0h2m8 0h1M51 179.5h1m12 0h2m11 0h2m13 0h1m13 0h2m6 0h2m6 0h1m1 0h1m23 0h1m35 0h2m2 0h1m1 0h2m3 0h2m0 0h1m3 0h1m2 0h1m2 0h2m6 0h1m17 0h2m3 0h1m37 0h1m9 0h1m7 0h1m0 0h1M44 180.5h1m21 0h1m0 0h1m2 0h2m7 0h1m1 0h1m3 0h1m22 0h1m5 0h1m19 0h1m0 0h1m9 0h2m29 0h1m19 0h1m0 0h1m5 0h1m0 0h1m0 0h2m0 0h1m8 0h2m6 0h2m11 0h1m8 0h2m1 0h2m11 0h1m11 0h1m4 0h2m1 0h1m0 0h1m2 0h2m2 0h1m0 0h2m5 0h1m0 0h2M41 181.5h2m4 0h2m12 0h2m4 0h1m34 0h1m8 0h2m2 0h1m20 0h2m34 0h1m0 0h1m0 0h1m8 0h2m0 0h1m3 0h1m2 0h1m10 0h2m1 0h1m1 0h1m8 0h2m13 0h2m1 0h2m1 0h1m15 0h1m1 0h2m7 0h1m11 0h1m5 0h1m17 0h2m1 0h1m0 0h1M46 182.5h2m9 0h1m4 0h2m13 0h2m1 0h1m9 0h1m0 0h2m1 0h1m0 0h1m12 0h1m0 0h2m2 0h1m3 0h2m10 0h1m3 0h1m15 0h1m1 0h1m5 0h1m2 0h1m13 0h1m6 0h1m7 0h1m11 0h2m5 0h2m33 0h2m6 0h1m1 0h2m4 0h1m5 0h1m12 0h1m7 0h1m4 0h2m3 0h2M42 183.5h2m0 0h2m1 0h2m1 0h2m2 0h2m1 0h1m9 0h2m10 0h1m25 0h1m0 0h2m9 0h1m3 0h1m0 0h2m22 0h1m6 0h1m0 0h2m2 0h2m1 0h1m33 0h2m2 0h1m4 0h1m12 0h2m2 0h1m2 0h1m11 0h2m10 0h1m10 0h2M46 184.5h1m2 0h1m18 0h2m1 0h2m2 0h1m11 0h1m24 0h2m1 0h1m2 0h1m6 0h1m5 0h2m2 0h1m6 0h1m8 0h1m4 0h2m15 0h2m15 0h1m0 0h1m2 0h2m5 0h1m4 0h2m4 0h1m0 0h2m5 0h2m0 0h2m5 0h2m4 0h1m15 0h1m20 0h1m3 0h1m4 0h1m3 0h1m2 0h1m2 0h1M73 185.5h1m6 0h2m6 0h1m8 0h1m17 0h1m5 0h2m13 0h1m1 0h1m2 0h2m1 0h1m25 0h2m1 0h2m0 0h1m3 0h2m1 0h2m3 0h2m9 0h1m5 0h1m2 0h2m8 0h2m4 0h1m4 0h1m1 0h2m1 0h1m10 0h2m4 0h1m6 0h1m0 0h2m10 0h2m1 0h1m2 0h2m3 0h1m4 0h1m6 0h1m2 0h1m7 0h2M52 186.5h1m24 0h1m9 0h1m52 0h1m11 0h1m7 0h1m7 0h1m23 0h2m2 0h1m0 0h1m16 0h2m11 0h1m13 0h1m24 0h1m4 0h2m6 0h1m16 0h1M84 187.5h2m0 0h1m0 0h2m5 0h2m12 0h2m12 0h2m9 0h2m15 0h1m7 0h2m33 0h2m2 0h2m4 0h2m6 0h2m0 0h1m14 0h1m4 0h1m2 0h1m0 0h1m2 0h1m0 0h2m6 0h1m9 0h2m0 0h1m21 0h1m15 0h1m0 0h2M59 188.5h2m3 0h2m1 0h2m0 0h2m0 0h1m6 0h2m1 0h1m0 0h1m18 0h2m6 0h2m4 0h1m25 0h1m2 0h1m4 0h2m7 0h1m5 0h2m3 0h2m20 0h1m1 0h1m7 0h1m1 0h1m5 0h2m9 0h1m31 0h1m0 0h2m9 0h2m4 0h2m22 0h2m8 0h1M59 189.5h2m7 0h1m36 0h1m36 0h1m7 0h2m28 0h2m11 0h2m2 0h2m4 0h2m13 0h2m81 0h2M45 190.5h2m9 0h1m26 0h2m14 0h2m4 0h2m8 0h1m3 0h1m13 0h1m9 0h2m2 0h2m7 0h1m3 0h1m8 0h2m2 0h1m9 0h1m3 0h1m12 0h2m1 0h1m4 0h1m18 0h1m14 0h2m8 0h1m14 0h2m36 0h1M42 191.5h2m6 0h2m11 0h2m31 0h1m11 0h1m0 0h1m15 0h2m5 0h1m12 0h2m12 0h2m3 0h1m3 0h2m0 0h1m30 0h2m0 0h1m1 0h1m0 0h2m2 0h1m4 0h2m1 0h2m0 0h1m4 0h2m5 0h2m0 0h2m2 0h1m3 0h2m8 0h1m3 0h2m6 0h2m4 0h2m2 0h1m8 0h2m17 0h2m1 0h1M45 192.5h1m3 0h1m19 0h1m20 0h1m2 0h2m20 0h1m11 0h1m0 0h2m2 0h1m0 0h2m1 0h1m9 0h1m4 0h1m6 0h2m9 0h2m17 0h2m14 0h1m2 0h1m17 0h1m3 0h1m5 0h2m15 0h2m9 0h1m5 0h1m4 0h2m14 0h2m5 0h2m2 0h1M42 193.5h2m8 0h1m10 0h1m29 0h1m4 0h1m0 0h1m1 0h2m4 0h1m12 0h1m3 0h1m7 0h2m13 0h1m29 0h1m7 0h2m10 0h2m4 0h1m13 0h1m10 0h1m8 0h1m2 0h1m1 0h2m4 0h1m2 0h1m4 0h1m7 0h1m1 0h2m1 0h2m6 0h2m5 0h1m17 0h1M48 194.5h2m2 0h2m7 0h2m1 0h1m11 0h1m2 0h2m7 0h2m20 0h1m0 0h2m3 0h1m1 0h1m3 0h2m12 0h2m2 0h2m16 0h2m3 0h2m5 0h1m0 0h1m5 0h1m3 0h2m3 0h2m4 0h2m0 0h1m3 0h1m0 0h1m6 0h1m4 0h1m2 0h2m0 0h1m6 0h1m1 0h2m11 0h2m3 0h2m7 0h2m10 0h1m2 0h1m0 0h1m5 0h1m3 0h1m2 0h1m0 0h1m6 0h2m11 0h2M66 195.5h1m10 0h1m1 0h2m20 0h2m17 0h1m1 0h1m18 0h2m0 0h2m17 0h1m26 0h2m2 0h2m9 0h1m25 0h1m42 0h1m15 0h1m4 0h1M42 196.5h1m4 0h1m31 0h1m1 0h2m1 0h2m2 0h2m9 0h2m24 0h2m50 0h1m14 0h1m10 0h1m34 0h1m9 0h1m21 0h1m11 0h2m7 0h1m7 0h1m0 0h2M45 197.5h2m9 0h2m3 0h2m10 0h2m0 0h1m5 0h1m7 0h2m0 0h2m2 0h1m2 0h2m4 0h2m7 0h2m16 0h1m16 0h2m13 0h1m4 0h1m2 0h1m6 0h1m14 0h1m14 0h2m1 0h2m1 0h2m2 0h1m15 0h2m0 0h2m12 0h1m8 0h1m3 0h2m2 0h1m11 0h1m1 0h1m7 0h1m0 0h2m13 0h1M44 198.5h2m9 0h2m21 0h1m6 0h2m2 0h1m16 0h2m8 0h1m44 0h2m7 0h1m25 0h2m18 0h1m2 0h2m4 0h2m5 0h1m0 0h2m1 0h1m1 0h2m8 0h2m10 0h1m12 0h2m9 0h1m13 0h2M41 199.5h2m0 0h2m19 0h1m3 0h1m4 0h2m4 0h2m7 0h2m6 0h2m3 0h1m10 0h2m7 0h1m1 0h2m11 0h1m12 0h2m14 0h2m1 0h2m12 0h1m4 0h1m15 0h2m0 0h2m2 0h2m6 0h2m8 0h1m1 0h2m9 0h2m12 0h2m2 0h2m2 0h1m14 0h2m15 0h1M42 200.5h1m16 0h1m18 0h1m7 0h2m2 0h2m1 0h1m15 0h1m5 0h2m2 0h1m0 0h1m0 0h2m13 0h1m33 0h1m1 0h1m25 0h1m4 0h2m4 0h1m9 0h1m3 0h2m8 0h1m6 0h1m1 0h2m15 0h1m10 0h2m5 0h2m2 0h1m19 0h2M45 201.5h1m26 0h2m3 0h1m10 0h1m12 0h2m17 0h2m6 0h2m26 0h1m28 0h1m1 0h1m3 0h1m7 0h2m8 0h1m4 0h1m12 0h2m29 0h2m2 0h2m4 0h1m1 0h1m12 0h2m13 0h1M43 202.5h1m9 0h2m0 0h1m2 0h1m17 0h1m38 0h1m2 0h2m2 0h2m5 0h2m46 0h1m7 0h2m7 0h1m0 0h2m1 0h1m12 0h1m2 0h2m3 0h1m4 0h1m11 0h1m14 0h2m7 0h1m9 0h2m0 0h2m22 0h1m0 0h2M41 203.5h2m4 0h1m10 0h2m2 0h1m6 0h1m11 0h2m17 0h1m6 0h2m8 0h1m0 0h2m9 0h2m17 0h2m15 0h1m2 0h1m4 0h1m18 0h1m3 0h1m0 0h1m1 0h1m5 0h2m11 0h2m11 0h1m2 0h1m42 0h1m1 0h2m15 0h2m2 0h2M56 204.5h1m10 0h1m2 0h2m29 0h1m15 0h1m11 0h1m1 0h1m1 0h2m8 0h1m6 0h2m6 0h1m7 0h1m0 0h2m3 0h2m2 0h2m0 0h2m5 0h1m11 0h2m3 0h1m7 0h1m18 0h2m8 0h1m1 0h1m5 0h1m5 0h2m3 0h2m1 0h1m3 0h1m13 0h2m21 0h1M57 205.5h1m0 0h1m4 0h1m3 0h2m38 0h1m6 0h1m18 0h1m8 0h1m36 0h2m2 0h2m4 0h1m45 0h2m3 0h2m24 0h1m14 0h2m15 0h1m3 0h1M47 206.5h1m22 0h2m0 0h2m20 0h2m10 0h1m1 0h1m5 0h1m0 0h2m11 0h1m5 0h2m1 0h1m1 0h2m5 0h2m1 0h1m11 0h2m7 0h2m0 0h2m25 0h2m7 0h2m1 0h1m13 0h2m7 0h1m14 0h1m0 0h2m23 0h2m15 0h2M50 207.5h1m9 0h1m4 0h1m5 0h1m3 0h1m7 0h2m2 0h1m35 0h1m6 0h1m5 0h2m10 0h2m1 0h1m2 0h2m22 0h2m2 0h2m0 0h1m0 0h2m5 0h2m15 0h1m22 0h1m25 0h1m10 0h2m14 0h2m5 0h2M64 208.5h2m10 0h2m5 0h1m35 0h1m9 0h2m0 0h2m2 0h1m2 0h2m36 0h2m1 0h2m5 0h1m0 0h2m2 0h1m6 0h2m3 0h2m4 0h2m2 0h1m9 0h1m10 0h2m7 0h1m14 0h2m0 0h1m10 0h1m2 0h1m2 0h1m3 0h1m4 0h2M41 209.5h1m4 0h1m2 0h1m0 0h1m10 0h2m6 0h1m2 0h1m3 0h1m7 0h1m1 0h1m5 0h1m10 0h2m4 0h1m10 0h1m0 0h1m0 0h1m5 0h1m4 0h1m14 0h1m14 0h1m1 0h2m2 0h2m11 0h2m1 0h2m0 0h1m4 0h1m1 0h1m12 0h2m2 0h2m9 0h1m3 0h2m1 0h1m1 0h2m2 0h1m21 0h1m2 0h2m6 0h2m3 0h1m3 0h1m20 0h2m0 0h1m0 0h1M63 210.5h1m11 0h1m25 0h2m0 0h2m22 0h2m4 0h1m1 0h1m10 0h1m8 0h1m5 0h2m3 0h2m0 0h1m5 0h2m5 0h1m10 0h1m1 0h1m0 0h2m1 0h1m0 0h1m4 0h1m25 0h1m28 0h1m3 0h1m10 0h2m10 0h2m6 0h2m0 0h2m2 0h2M55 211.5h1m24 0h1m9 0h1m9 0h2m7 0h2m5 0h2m5 0h1m10 0h2m4 0h1m8 0h2m4 0h1m8 0h1m24 0h1m8 0h1m6 0h2m2 0h1m11 0h2m2 0h1m12 0h1m3 0h1m6 0h1m23 0h1m9 0h1m17 0h1M78 212.5h2m9 0h1m6 0h2m0 0h2m8 0h1m5 0h1m22 0h2m19 0h1m32 0h2m0 0h2m20 0h2m5 0h1m35 0h1m36 0h2M74 213.5h1m0 0h2m14 0h1m37 0h2m7 0h2m23 0h2m11 0h1m0 0h1m21 0h1m2 0h1m15 0h1m20 0h1m12 0h1m2 0h2m11 0h1m3 0h1m30 0h2" stroke="#000" stroke-opacity="0.30" stroke-width="1" fill="none" filter="url(#rb)"/><line x1="40.3" y1="174.1" x2="40.3" y2="214.3" stroke="#555" stroke-width="1.00" /><line x1="40.3" y1="214.8" x2="306.9" y2="214.8" stroke="#aaa" stroke-width="1.00" /><line x1="40.3" y1="174.6" x2="42.8" y2="174.6" stroke="#555" stroke-width="1.00" /><text x="37.3" y="177.7" font-size="8.70" text-anchor="end" fill="#262626" >0</text><line x1="40.3" y1="194.4" x2="42.8" y2="194.4" stroke="#555" stroke-width="1.00" /><text x="37.3" y="197.5" font-size="8.70" text-anchor="end" fill="#262626" >200</text><line x1="40.3" y1="214.3" x2="42.8" y2="214.3" stroke="#555" stroke-width="1.00" /><text x="37.3" y="217.4" font-size="8.70" text-anchor="end" fill="#262626" >400</text><text transform="translate(19.8 194.4) rotate(-90)" font-size="8.70" text-anchor="middle" fill="#262626">Saccades</text><path d="M153.8 170.8 h5 l-2.5 4z" fill="#000"/><path d="M171.1 170.8 h5 l-2.5 4z" fill="#000"/><line x1="156.3" y1="215.3" x2="156.3" y2="311.2" stroke="#444" stroke-width="1.20" stroke-dasharray="2.6 3"/><line x1="173.6" y1="215.3" x2="173.6" y2="311.2" stroke="#555" stroke-width="1.30" /><line x1="40.3" y1="311.2" x2="306.9" y2="311.2" stroke="#888" stroke-width="1.00" /><line x1="40.3" y1="311.2" x2="40.3" y2="308.7" stroke="#777" stroke-width="0.80" /><text x="40.3" y="322.9" font-size="8.70" text-anchor="middle" fill="#262626" >-0.6</text><line x1="84.7" y1="311.2" x2="84.7" y2="308.7" stroke="#777" stroke-width="0.80" /><text x="84.7" y="322.9" font-size="8.70" text-anchor="middle" fill="#262626" >-0.4</text><line x1="129.2" y1="311.2" x2="129.2" y2="308.7" stroke="#777" stroke-width="0.80" /><text x="129.2" y="322.9" font-size="8.70" text-anchor="middle" fill="#262626" >-0.2</text><line x1="173.6" y1="311.2" x2="173.6" y2="308.7" stroke="#777" stroke-width="0.80" /><text x="173.6" y="322.9" font-size="8.70" text-anchor="middle" fill="#262626" >0</text><line x1="218.0" y1="311.2" x2="218.0" y2="308.7" stroke="#777" stroke-width="0.80" /><text x="218.0" y="322.9" font-size="8.70" text-anchor="middle" fill="#262626" >0.2</text><line x1="262.5" y1="311.2" x2="262.5" y2="308.7" stroke="#777" stroke-width="0.80" /><text x="262.5" y="322.9" font-size="8.70" text-anchor="middle" fill="#262626" >0.4</text><line x1="306.9" y1="311.2" x2="306.9" y2="308.7" stroke="#777" stroke-width="0.80" /><text x="306.9" y="322.9" font-size="8.70" text-anchor="middle" fill="#262626" >0.6</text><text x="170.1" y="334.7" font-size="8.70" text-anchor="middle" fill="#262626" >Time aligned on sacc. ends (s)</text><line x1="306.9" y1="215.3" x2="306.9" y2="311.2" stroke="#ff0000" stroke-width="1.10" /><line x1="304.4" y1="221.6" x2="306.9" y2="221.6" stroke="#ff0000" stroke-width="1.00" /><text x="309.7" y="224.7" font-size="8.70" text-anchor="start" fill="#ff0000" >45</text><line x1="304.4" y1="240.8" x2="306.9" y2="240.8" stroke="#ff0000" stroke-width="1.00" /><text x="309.7" y="243.9" font-size="8.70" text-anchor="start" fill="#ff0000" >40</text><line x1="304.4" y1="260.2" x2="306.9" y2="260.2" stroke="#ff0000" stroke-width="1.00" /><text x="309.7" y="263.3" font-size="8.70" text-anchor="start" fill="#ff0000" >35</text><line x1="304.4" y1="279.6" x2="306.9" y2="279.6" stroke="#ff0000" stroke-width="1.00" /><text x="309.7" y="282.7" font-size="8.70" text-anchor="start" fill="#ff0000" >30</text><line x1="304.4" y1="299.0" x2="306.9" y2="299.0" stroke="#ff0000" stroke-width="1.00" /><text x="309.7" y="302.1" font-size="8.70" text-anchor="start" fill="#ff0000" >25</text><text transform="translate(323.0 260.5) rotate(90)" font-size="8.70" text-anchor="middle" fill="#ff0000">Firing rate (spike/s)</text><line x1="152.9" y1="218.6" x2="183.2" y2="218.6" stroke="#f4a3a8" stroke-width="3.20" stroke-linecap="round"/><line x1="192.5" y1="218.6" x2="219.2" y2="218.6" stroke="#ff0000" stroke-width="3.20" stroke-linecap="round"/><path d="M51.5 255.5 L52.1 255.6 L53.0 255.7 L54.0 255.8 L55.1 256.0 L56.3 256.2 L57.6 256.4 L58.8 256.6 L60.0 256.8 L61.2 257.1 L62.4 257.4 L63.6 257.8 L64.9 258.2 L66.2 258.5 L67.5 258.9 L68.7 259.3 L70.0 259.6 L71.2 259.9 L72.5 260.1 L73.8 260.4 L75.0 260.6 L76.2 260.9 L77.5 261.1 L78.8 261.2 L80.0 261.4 L81.3 261.5 L82.5 261.6 L83.8 261.6 L85.0 261.6 L86.3 261.6 L87.5 261.7 L88.8 261.8 L90.0 261.9 L91.2 262.2 L92.4 262.5 L93.6 263.0 L94.8 263.4 L96.0 263.9 L97.1 264.2 L98.3 264.5 L99.4 264.6 L100.5 264.5 L101.6 264.4 L102.6 264.2 L103.7 263.9 L104.7 263.5 L105.8 263.1 L106.9 262.6 L108.0 262.1 L109.2 261.5 L110.5 260.8 L111.8 260.0 L113.1 259.1 L114.4 258.3 L115.7 257.5 L116.9 256.8 L118.0 256.2 L119.0 255.7 L120.0 255.3 L120.8 255.0 L121.7 254.6 L122.5 254.4 L123.3 254.2 L124.1 254.1 L125.0 254.0 L125.9 253.9 L126.8 253.9 L127.7 254.0 L128.6 254.1 L129.5 254.3 L130.4 254.5 L131.2 254.7 L132.0 255.0 L132.7 255.3 L133.3 255.5 L133.8 255.9 L134.4 256.2 L134.9 256.7 L135.5 257.2 L136.2 257.8 L137.0 258.7 L137.9 259.6 L138.9 260.7 L140.0 262.0 L141.1 263.3 L142.3 264.7 L143.5 266.2 L144.8 267.7 L146.0 269.3 L147.3 270.9 L148.6 272.6 L150.0 274.5 L151.4 276.4 L152.8 278.3 L154.2 280.1 L155.5 281.9 L156.7 283.6 L157.9 285.3 L159.0 286.9 L160.0 288.6 L161.0 290.2 L162.0 291.7 L163.0 293.1 L163.9 294.4 L164.9 295.6 L165.9 296.6 L166.8 297.6 L167.7 298.4 L168.7 299.1 L169.5 299.8 L170.4 300.3 L171.2 300.7 L171.9 301.0 L172.6 301.2 L173.1 301.2 L173.7 301.1 L174.1 300.9 L174.6 300.6 L175.1 300.2 L175.5 299.8 L176.0 299.3 L176.5 298.8 L177.0 298.3 L177.4 297.8 L177.9 297.1 L178.4 296.4 L178.9 295.4 L179.4 294.2 L180.0 292.7 L180.7 290.9 L181.4 288.9 L182.1 286.6 L182.9 284.1 L183.7 281.5 L184.5 278.8 L185.2 276.0 L186.0 273.3 L186.8 270.6 L187.5 267.6 L188.2 264.6 L189.0 261.5 L189.8 258.5 L190.5 255.5 L191.2 252.6 L192.0 249.9 L192.8 247.3 L193.5 244.7 L194.2 242.2 L195.0 239.8 L195.8 237.5 L196.5 235.3 L197.2 233.3 L198.0 231.5 L198.8 229.9 L199.5 228.5 L200.3 227.2 L201.1 226.1 L201.9 225.1 L202.6 224.3 L203.3 223.6 L204.0 223.1 L204.6 222.7 L205.1 222.5 L205.6 222.5 L206.1 222.6 L206.5 222.9 L207.0 223.3 L207.5 223.8 L208.0 224.4 L208.5 225.1 L209.1 225.9 L209.6 226.9 L210.2 227.9 L210.8 229.1 L211.4 230.5 L212.2 231.9 L213.0 233.6 L213.9 235.4 L214.9 237.6 L216.0 240.0 L217.2 242.5 L218.4 244.9 L219.6 247.3 L220.8 249.5 L222.0 251.4 L223.2 253.0 L224.4 254.5 L225.5 255.8 L226.8 256.9 L228.0 258.0 L229.3 259.0 L230.6 260.1 L232.0 261.1 L233.5 262.1 L235.1 263.1 L236.8 264.1 L238.5 265.0 L240.2 265.9 L241.9 266.7 L243.5 267.5 L245.0 268.2 L246.4 269.0 L247.8 269.7 L249.1 270.3 L250.4 270.9 L251.7 271.5 L252.9 272.0 L254.2 272.3 L255.4 272.6 L256.7 272.8 L257.9 272.8 L259.2 272.7 L260.4 272.6 L261.6 272.4 L262.8 272.2 L263.9 272.0 L265.0 271.8 L266.0 271.7 L266.8 271.5 L267.6 271.3 L268.4 271.1 L269.2 270.9 L270.0 270.8 L271.0 270.6 L272.0 270.6 L273.2 270.6 L274.6 270.7 L276.0 270.9 L277.5 271.0 L279.0 271.2 L280.4 271.3 L281.8 271.4 L283.0 271.3 L284.1 271.2 L285.1 270.9 L286.0 270.7 L286.8 270.4 L287.7 270.0 L288.4 269.6 L289.2 269.2 L290.0 268.8 L290.8 268.2 L291.6 267.6 L292.4 267.0 L293.2 266.3 L294.0 265.6 L294.6 265.0 L295.2 264.5 L295.6 264.2 L295.6 271.8 L295.2 272.2 L294.6 272.7 L294.0 273.3 L293.2 273.9 L292.4 274.5 L291.6 275.2 L290.8 275.8 L290.0 276.2 L289.2 276.7 L288.4 277.1 L287.7 277.5 L286.8 277.8 L286.0 278.1 L285.1 278.4 L284.1 278.6 L283.0 278.7 L281.8 278.8 L280.4 278.7 L279.0 278.6 L277.5 278.4 L276.0 278.3 L274.6 278.1 L273.2 278.0 L272.0 278.0 L271.0 278.1 L270.0 278.2 L269.2 278.3 L268.4 278.5 L267.6 278.7 L266.8 278.9 L266.0 279.0 L265.0 279.2 L263.9 279.3 L262.8 279.5 L261.6 279.7 L260.4 279.9 L259.2 280.1 L257.9 280.1 L256.7 280.1 L255.4 280.0 L254.2 279.7 L252.9 279.3 L251.7 278.9 L250.4 278.3 L249.1 277.8 L247.8 277.1 L246.4 276.4 L245.0 275.8 L243.5 275.0 L241.9 274.3 L240.2 273.5 L238.5 272.6 L236.8 271.8 L235.1 270.8 L233.5 269.9 L232.0 268.9 L230.6 267.9 L229.3 266.9 L228.0 265.9 L226.8 264.9 L225.5 263.8 L224.4 262.5 L223.2 261.1 L222.0 259.6 L220.8 257.8 L219.6 255.7 L218.4 253.4 L217.2 251.0 L216.0 248.6 L214.9 246.3 L213.9 244.2 L213.0 242.4 L212.2 240.9 L211.4 239.5 L210.8 238.2 L210.2 237.0 L209.6 236.0 L209.1 235.1 L208.5 234.3 L208.0 233.6 L207.5 233.0 L207.0 232.6 L206.5 232.2 L206.1 231.9 L205.6 231.8 L205.1 231.8 L204.6 232.0 L204.0 232.3 L203.3 232.8 L202.6 233.5 L201.9 234.3 L201.1 235.2 L200.3 236.3 L199.5 237.6 L198.8 238.9 L198.0 240.5 L197.2 242.2 L196.5 244.1 L195.8 246.2 L195.0 248.4 L194.2 250.7 L193.5 253.1 L192.8 255.6 L192.0 258.1 L191.2 260.7 L190.5 263.5 L189.8 266.4 L189.0 269.3 L188.2 272.3 L187.5 275.2 L186.8 278.0 L186.0 280.7 L185.2 283.3 L184.5 285.9 L183.7 288.5 L182.9 291.0 L182.1 293.4 L181.4 295.6 L180.7 297.6 L180.0 299.3 L179.4 300.7 L178.9 301.8 L178.4 302.8 L177.9 303.5 L177.4 304.2 L177.0 304.7 L176.5 305.2 L176.0 305.7 L175.5 306.2 L175.1 306.6 L174.6 307.0 L174.1 307.3 L173.7 307.5 L173.1 307.6 L172.6 307.6 L171.9 307.4 L171.2 307.1 L170.4 306.7 L169.5 306.2 L168.7 305.5 L167.7 304.8 L166.8 304.0 L165.9 303.0 L164.9 302.0 L163.9 300.9 L163.0 299.6 L162.0 298.3 L161.0 296.8 L160.0 295.3 L159.0 293.7 L157.9 292.1 L156.7 290.6 L155.5 288.9 L154.2 287.2 L152.8 285.4 L151.4 283.6 L150.0 281.8 L148.6 280.0 L147.3 278.3 L146.0 276.7 L144.8 275.2 L143.5 273.8 L142.3 272.4 L141.1 271.0 L140.0 269.7 L138.9 268.5 L137.9 267.5 L137.0 266.5 L136.2 265.8 L135.5 265.1 L134.9 264.6 L134.4 264.2 L133.8 263.9 L133.3 263.6 L132.7 263.3 L132.0 263.0 L131.2 262.8 L130.4 262.5 L129.5 262.3 L128.6 262.2 L127.7 262.1 L126.8 262.0 L125.9 262.0 L125.0 262.0 L124.1 262.1 L123.3 262.3 L122.5 262.5 L121.7 262.7 L120.8 263.0 L120.0 263.3 L119.0 263.7 L118.0 264.2 L116.9 264.8 L115.7 265.4 L114.4 266.2 L113.1 267.0 L111.8 267.8 L110.5 268.6 L109.2 269.3 L108.0 269.9 L106.9 270.4 L105.8 270.8 L104.7 271.2 L103.7 271.6 L102.6 271.9 L101.6 272.1 L100.5 272.2 L99.4 272.2 L98.3 272.1 L97.1 271.9 L96.0 271.5 L94.8 271.1 L93.6 270.7 L92.4 270.3 L91.2 269.9 L90.0 269.7 L88.8 269.5 L87.5 269.4 L86.3 269.4 L85.0 269.4 L83.8 269.4 L82.5 269.4 L81.3 269.3 L80.0 269.2 L78.8 269.0 L77.5 268.9 L76.2 268.7 L75.0 268.4 L73.8 268.2 L72.5 268.0 L71.2 267.7 L70.0 267.4 L68.7 267.1 L67.5 266.8 L66.2 266.4 L64.9 266.1 L63.6 265.7 L62.4 265.4 L61.2 265.1 L60.0 264.8 L58.8 264.6 L57.6 264.3 L56.3 264.1 L55.1 264.0 L54.0 263.8 L53.0 263.7 L52.1 263.6 L51.5 263.5 Z" fill="#f7c5cb" fill-opacity="1.00"/><path d="M51.5 259.5 L52.1 259.6 L53.0 259.7 L54.0 259.8 L55.1 260.0 L56.3 260.2 L57.6 260.3 L58.8 260.6 L60.0 260.8 L61.2 261.1 L62.4 261.4 L63.6 261.7 L64.9 262.1 L66.2 262.5 L67.5 262.9 L68.7 263.2 L70.0 263.5 L71.2 263.8 L72.5 264.0 L73.8 264.3 L75.0 264.5 L76.2 264.8 L77.5 265.0 L78.8 265.1 L80.0 265.3 L81.3 265.4 L82.5 265.5 L83.8 265.5 L85.0 265.5 L86.3 265.5 L87.5 265.6 L88.8 265.6 L90.0 265.8 L91.2 266.1 L92.4 266.4 L93.6 266.8 L94.8 267.3 L96.0 267.7 L97.1 268.1 L98.3 268.3 L99.4 268.4 L100.5 268.4 L101.6 268.2 L102.6 268.0 L103.7 267.7 L104.7 267.4 L105.8 267.0 L106.9 266.5 L108.0 266.0 L109.2 265.4 L110.5 264.7 L111.8 263.9 L113.1 263.1 L114.4 262.3 L115.7 261.5 L116.9 260.8 L118.0 260.2 L119.0 259.7 L120.0 259.3 L120.8 259.0 L121.7 258.7 L122.5 258.4 L123.3 258.2 L124.1 258.1 L125.0 258.0 L125.9 258.0 L126.8 258.0 L127.7 258.0 L128.6 258.1 L129.5 258.3 L130.4 258.5 L131.2 258.7 L132.0 259.0 L132.7 259.3 L133.3 259.6 L133.8 259.9 L134.4 260.2 L134.9 260.6 L135.5 261.2 L136.2 261.8 L137.0 262.6 L137.9 263.5 L138.9 264.6 L140.0 265.8 L141.1 267.1 L142.3 268.5 L143.5 270.0 L144.8 271.5 L146.0 273.0 L147.3 274.6 L148.6 276.3 L150.0 278.1 L151.4 280.0 L152.8 281.8 L154.2 283.7 L155.5 285.4 L156.7 287.1 L157.9 288.7 L159.0 290.3 L160.0 291.9 L161.0 293.5 L162.0 295.0 L163.0 296.4 L163.9 297.7 L164.9 298.8 L165.9 299.8 L166.8 300.8 L167.7 301.6 L168.7 302.3 L169.5 303.0 L170.4 303.5 L171.2 303.9 L171.9 304.2 L172.6 304.4 L173.1 304.4 L173.7 304.3 L174.1 304.1 L174.6 303.8 L175.1 303.4 L175.5 303.0 L176.0 302.5 L176.5 302.0 L177.0 301.5 L177.4 301.0 L177.9 300.3 L178.4 299.6 L178.9 298.6 L179.4 297.4 L180.0 296.0 L180.7 294.3 L181.4 292.2 L182.1 290.0 L182.9 287.5 L183.7 285.0 L184.5 282.3 L185.2 279.7 L186.0 277.0 L186.8 274.3 L187.5 271.4 L188.2 268.4 L189.0 265.4 L189.8 262.4 L190.5 259.5 L191.2 256.7 L192.0 254.0 L192.8 251.4 L193.5 248.9 L194.2 246.5 L195.0 244.1 L195.8 241.8 L196.5 239.7 L197.2 237.8 L198.0 236.0 L198.8 234.4 L199.5 233.0 L200.3 231.8 L201.1 230.6 L201.9 229.7 L202.6 228.9 L203.3 228.2 L204.0 227.7 L204.6 227.4 L205.1 227.2 L205.6 227.1 L206.1 227.3 L206.5 227.5 L207.0 227.9 L207.5 228.4 L208.0 229.0 L208.5 229.7 L209.1 230.5 L209.6 231.4 L210.2 232.5 L210.8 233.7 L211.4 235.0 L212.2 236.4 L213.0 238.0 L213.9 239.8 L214.9 242.0 L216.0 244.3 L217.2 246.7 L218.4 249.1 L219.6 251.5 L220.8 253.6 L222.0 255.5 L223.2 257.1 L224.4 258.5 L225.5 259.8 L226.8 260.9 L228.0 262.0 L229.3 263.0 L230.6 264.0 L232.0 265.0 L233.5 266.0 L235.1 267.0 L236.8 267.9 L238.5 268.8 L240.2 269.7 L241.9 270.5 L243.5 271.3 L245.0 272.0 L246.4 272.7 L247.8 273.4 L249.1 274.0 L250.4 274.6 L251.7 275.2 L252.9 275.6 L254.2 276.0 L255.4 276.3 L256.7 276.4 L257.9 276.5 L259.2 276.4 L260.4 276.2 L261.6 276.1 L262.8 275.8 L263.9 275.7 L265.0 275.5 L266.0 275.4 L266.8 275.2 L267.6 275.0 L268.4 274.8 L269.2 274.6 L270.0 274.5 L271.0 274.4 L272.0 274.3 L273.2 274.3 L274.6 274.4 L276.0 274.6 L277.5 274.7 L279.0 274.9 L280.4 275.0 L281.8 275.1 L283.0 275.0 L284.1 274.9 L285.1 274.6 L286.0 274.4 L286.8 274.1 L287.7 273.7 L288.4 273.3 L289.2 272.9 L290.0 272.5 L290.8 272.0 L291.6 271.4 L292.4 270.8 L293.2 270.1 L294.0 269.4 L294.6 268.9 L295.2 268.4 L295.6 268.0" fill="none" stroke="#f7c5cb" stroke-opacity="1.00" stroke-width="4.00" stroke-linejoin="round"/><path d="M51.5 259.5 L52.1 259.6 L53.0 259.7 L54.0 259.8 L55.1 260.0 L56.3 260.2 L57.6 260.3 L58.8 260.6 L60.0 260.8 L61.2 261.1 L62.4 261.4 L63.6 261.7 L64.9 262.1 L66.2 262.5 L67.5 262.9 L68.7 263.2 L70.0 263.5 L71.2 263.8 L72.5 264.0 L73.8 264.3 L75.0 264.5 L76.2 264.8 L77.5 265.0 L78.8 265.1 L80.0 265.3 L81.3 265.4 L82.5 265.5 L83.8 265.5 L85.0 265.5 L86.3 265.5 L87.5 265.6 L88.8 265.6 L90.0 265.8 L91.2 266.1 L92.4 266.4 L93.6 266.8 L94.8 267.3 L96.0 267.7 L97.1 268.1 L98.3 268.3 L99.4 268.4 L100.5 268.4 L101.6 268.2 L102.6 268.0 L103.7 267.7 L104.7 267.4 L105.8 267.0 L106.9 266.5 L108.0 266.0 L109.2 265.4 L110.5 264.7 L111.8 263.9 L113.1 263.1 L114.4 262.3 L115.7 261.5 L116.9 260.8 L118.0 260.2 L119.0 259.7 L120.0 259.3 L120.8 259.0 L121.7 258.7 L122.5 258.4 L123.3 258.2 L124.1 258.1 L125.0 258.0 L125.9 258.0 L126.8 258.0 L127.7 258.0 L128.6 258.1 L129.5 258.3 L130.4 258.5 L131.2 258.7 L132.0 259.0 L132.7 259.3 L133.3 259.6 L133.8 259.9 L134.4 260.2 L134.9 260.6 L135.5 261.2 L136.2 261.8 L137.0 262.6 L137.9 263.5 L138.9 264.6 L140.0 265.8 L141.1 267.1 L142.3 268.5 L143.5 270.0 L144.8 271.5 L146.0 273.0 L147.3 274.6 L148.6 276.3 L150.0 278.1 L151.4 280.0 L152.8 281.8 L154.2 283.7 L155.5 285.4 L156.7 287.1 L157.9 288.7 L159.0 290.3 L160.0 291.9 L161.0 293.5 L162.0 295.0 L163.0 296.4 L163.9 297.7 L164.9 298.8 L165.9 299.8 L166.8 300.8 L167.7 301.6 L168.7 302.3 L169.5 303.0 L170.4 303.5 L171.2 303.9 L171.9 304.2 L172.6 304.4 L173.1 304.4 L173.7 304.3 L174.1 304.1 L174.6 303.8 L175.1 303.4 L175.5 303.0 L176.0 302.5 L176.5 302.0 L177.0 301.5 L177.4 301.0 L177.9 300.3 L178.4 299.6 L178.9 298.6 L179.4 297.4 L180.0 296.0 L180.7 294.3 L181.4 292.2 L182.1 290.0 L182.9 287.5 L183.7 285.0 L184.5 282.3 L185.2 279.7 L186.0 277.0 L186.8 274.3 L187.5 271.4 L188.2 268.4 L189.0 265.4 L189.8 262.4 L190.5 259.5 L191.2 256.7 L192.0 254.0 L192.8 251.4 L193.5 248.9 L194.2 246.5 L195.0 244.1 L195.8 241.8 L196.5 239.7 L197.2 237.8 L198.0 236.0 L198.8 234.4 L199.5 233.0 L200.3 231.8 L201.1 230.6 L201.9 229.7 L202.6 228.9 L203.3 228.2 L204.0 227.7 L204.6 227.4 L205.1 227.2 L205.6 227.1 L206.1 227.3 L206.5 227.5 L207.0 227.9 L207.5 228.4 L208.0 229.0 L208.5 229.7 L209.1 230.5 L209.6 231.4 L210.2 232.5 L210.8 233.7 L211.4 235.0 L212.2 236.4 L213.0 238.0 L213.9 239.8 L214.9 242.0 L216.0 244.3 L217.2 246.7 L218.4 249.1 L219.6 251.5 L220.8 253.6 L222.0 255.5 L223.2 257.1 L224.4 258.5 L225.5 259.8 L226.8 260.9 L228.0 262.0 L229.3 263.0 L230.6 264.0 L232.0 265.0 L233.5 266.0 L235.1 267.0 L236.8 267.9 L238.5 268.8 L240.2 269.7 L241.9 270.5 L243.5 271.3 L245.0 272.0 L246.4 272.7 L247.8 273.4 L249.1 274.0 L250.4 274.6 L251.7 275.2 L252.9 275.6 L254.2 276.0 L255.4 276.3 L256.7 276.4 L257.9 276.5 L259.2 276.4 L260.4 276.2 L261.6 276.1 L262.8 275.8 L263.9 275.7 L265.0 275.5 L266.0 275.4 L266.8 275.2 L267.6 275.0 L268.4 274.8 L269.2 274.6 L270.0 274.5 L271.0 274.4 L272.0 274.3 L273.2 274.3 L274.6 274.4 L276.0 274.6 L277.5 274.7 L279.0 274.9 L280.4 275.0 L281.8 275.1 L283.0 275.0 L284.1 274.9 L285.1 274.6 L286.0 274.4 L286.8 274.1 L287.7 273.7 L288.4 273.3 L289.2 272.9 L290.0 272.5 L290.8 272.0 L291.6 271.4 L292.4 270.8 L293.2 270.1 L294.0 269.4 L294.6 268.9 L295.2 268.4 L295.6 268.0" fill="none" stroke="#ff0000" stroke-width="1.70" stroke-linejoin="round" stroke-linecap="round"/><text x="-1.2" y="170.7" font-size="16.50" text-anchor="start" fill="#000" font-weight="bold">b</text><rect x="463.2" y="12.4" width="88.9" height="136.8" fill="#e8eefc"/><path d="M388 13.5h1m42 0h1m11 0h1m4 0h1m28 0h1m12 0h1m12 0h1m3 0h1m28 0h1m3 0h1m7 0h1m47 0h1m25 0h1m27 0h1M394 14.5h1m9 0h1m17 0h1m1 0h1m5 0h1m7 0h1m1 0h1m4 0h1m15 0h1m11 0h1m1 0h1m5 0h1m12 0h1m6 0h1m18 0h1m10 0h1m5 0h1m0 0h1m12 0h1m14 0h1m15 0h1m2 0h1m3 0h1m4 0h1m2 0h1m11 0h1m9 0h1M389 15.5h1m10 0h1m7 0h1m1 0h1m5 0h1m0 0h1m1 0h1m16 0h1m34 0h1m9 0h1m14 0h1m25 0h1m14 0h1m2 0h1m15 0h1m0 0h1m1 0h1m3 0h1m0 0h1m6 0h1m10 0h1m2 0h1m3 0h1m22 0h1m2 0h1M395 16.5h1m8 0h1m5 0h1m37 0h1m7 0h1m19 0h1m8 0h1m27 0h1m50 0h1m42 0h1m19 0h1m3 0h1m11 0h1m3 0h1M414 17.5h1m28 0h1m24 0h1m6 0h1m4 0h1m4 0h1m31 0h1m5 0h1m23 0h1m0 0h1m19 0h1m12 0h1m22 0h1M398 18.5h1m6 0h1m32 0h1m22 0h1m16 0h1m5 0h1m7 0h1m13 0h1m0 0h1m12 0h1m2 0h1m17 0h1m5 0h1m1 0h1m3 0h1m2 0h1m30 0h1m5 0h1m15 0h1m19 0h1m0 0h1m12 0h1m1 0h1M386 19.5h1m16 0h1m22 0h1m1 0h1m7 0h1m3 0h1m22 0h1m3 0h1m19 0h1m7 0h1m12 0h1m4 0h1m7 0h1m5 0h1m1 0h1m7 0h1m1 0h1m57 0h1m2 0h1m26 0h1m16 0h1m0 0h1m2 0h1M393 20.5h1m17 0h1m10 0h1m4 0h1m3 0h1m52 0h1m13 0h1m9 0h1m18 0h1m3 0h1m47 0h1m20 0h1m1 0h1m5 0h1m29 0h1m7 0h1m0 0h1m3 0h1M401 21.5h1m7 0h1m0 0h1m18 0h1m11 0h1m3 0h1m2 0h1m6 0h1m11 0h1m12 0h1m10 0h1m0 0h1m0 0h1m10 0h1m23 0h1m16 0h1m12 0h1m4 0h1m4 0h1m8 0h1m31 0h1m3 0h1m1 0h1m9 0h1m9 0h1m2 0h1M387 22.5h1m14 0h1m63 0h1m7 0h1m20 0h1m18 0h1m6 0h1m21 0h1m1 0h1m12 0h1m9 0h1m14 0h1m40 0h1m19 0h1M410 23.5h1m12 0h1m5 0h1m30 0h1m0 0h1m2 0h1m5 0h1m12 0h1m4 0h1m18 0h1m2 0h1m0 0h1m5 0h1m0 0h1m10 0h1m13 0h1m8 0h1m8 0h1m12 0h1m3 0h1m2 0h1m16 0h1m17 0h1m10 0h1m1 0h1M398 24.5h1m20 0h1m5 0h1m20 0h1m9 0h1m3 0h1m2 0h1m4 0h1m19 0h1m1 0h1m4 0h1m0 0h1m11 0h1m38 0h1m10 0h1m6 0h1m0 0h1m9 0h1m0 0h1m0 0h1m1 0h1m17 0h1m2 0h1m2 0h1m33 0h1M390 25.5h1m6 0h1m19 0h1m3 0h1m16 0h1m6 0h1m1 0h1m15 0h1m6 0h1m26 0h1m3 0h1m0 0h1m8 0h1m5 0h1m12 0h1m2 0h1m2 0h1m0 0h1m3 0h1m5 0h1m2 0h1m6 0h1m2 0h1m8 0h1m11 0h1m23 0h1m10 0h1m3 0h1m15 0h1m8 0h1M399 26.5h1m16 0h1m5 0h1m24 0h1m11 0h1m0 0h1m12 0h1m8 0h1m51 0h1m20 0h1m7 0h1m28 0h1m0 0h1m9 0h1m4 0h1m4 0h1m10 0h1m5 0h1m3 0h1m5 0h1M387 27.5h1m8 0h1m8 0h1m8 0h1m16 0h1m8 0h1m5 0h1m8 0h1m0 0h1m8 0h1m8 0h1m3 0h1m20 0h1m25 0h1m4 0h1m29 0h1m19 0h1m6 0h1m2 0h1m11 0h1m5 0h1m18 0h1m14 0h1m0 0h1m6 0h1M386 28.5h1m5 0h1m9 0h1m19 0h1m12 0h1m6 0h1m12 0h1m40 0h1m10 0h1m4 0h1m7 0h1m2 0h1m7 0h1m3 0h1m0 0h1m12 0h1m5 0h1m1 0h1m0 0h1m15 0h1m1 0h1m5 0h1m2 0h1m10 0h1m17 0h1m9 0h1m4 0h1m2 0h1m17 0h1M389 29.5h1m3 0h1m0 0h1m4 0h1m2 0h1m2 0h1m0 0h1m9 0h1m44 0h1m47 0h1m3 0h1m3 0h1m4 0h1m12 0h1m24 0h1m1 0h1m51 0h1m31 0h1m3 0h1M395 30.5h1m9 0h1m13 0h1m9 0h1m2 0h1m19 0h1m22 0h1m9 0h1m1 0h1m13 0h1m0 0h1m11 0h1m4 0h1m13 0h1m3 0h1m7 0h1m0 0h1m2 0h1m1 0h1m13 0h1m1 0h1m17 0h1m33 0h1m3 0h1m14 0h1m3 0h1m3 0h1m1 0h1M403 31.5h1m10 0h1m32 0h1m4 0h1m3 0h1m10 0h1m11 0h1m9 0h1m20 0h1m25 0h1m9 0h1m20 0h1m1 0h1m22 0h1m15 0h1m3 0h1m5 0h1m5 0h1m11 0h1m12 0h1M386 32.5h1m14 0h1m30 0h1m1 0h1m3 0h1m10 0h1m3 0h1m18 0h1m6 0h1m13 0h1m10 0h1m5 0h1m6 0h1m3 0h1m10 0h1m9 0h1m13 0h1m59 0h1m1 0h1m6 0h1m1 0h1m1 0h1m5 0h1m6 0h1m8 0h1M396 33.5h1m14 0h1m0 0h1m22 0h1m2 0h1m4 0h1m0 0h1m3 0h1m14 0h1m5 0h1m14 0h1m0 0h1m17 0h1m6 0h1m3 0h1m3 0h1m0 0h1m10 0h1m2 0h1m24 0h1m30 0h1m1 0h1m5 0h1m18 0h1m3 0h1m15 0h1m0 0h1m10 0h1m0 0h1M387 34.5h1m4 0h1m8 0h1m31 0h1m3 0h1m1 0h1m5 0h1m36 0h1m14 0h1m6 0h1m5 0h1m14 0h1m1 0h1m14 0h1m2 0h1m32 0h1m11 0h1m36 0h1m10 0h1M441 35.5h1m1 0h1m3 0h1m57 0h1m63 0h1m4 0h1m37 0h1m9 0h1m2 0h1m23 0h1m0 0h1M420 36.5h1m5 0h1m28 0h1m1 0h1m3 0h1m19 0h1m7 0h1m8 0h1m2 0h1m5 0h1m0 0h1m5 0h1m10 0h1m15 0h1m7 0h1m17 0h1m2 0h1m1 0h1m27 0h1m1 0h1m5 0h1M386 37.5h1m31 0h1m13 0h1m4 0h1m9 0h1m3 0h1m41 0h1m0 0h1m7 0h1m1 0h1m8 0h1m31 0h1m0 0h1m24 0h1m7 0h1m4 0h1m3 0h1m11 0h1m6 0h1m4 0h1m19 0h1m0 0h1m3 0h1m4 0h1M390 38.5h1m18 0h1m6 0h1m3 0h1m2 0h1m4 0h1m10 0h1m16 0h1m1 0h1m11 0h1m0 0h1m14 0h1m2 0h1m13 0h1m1 0h1m13 0h1m2 0h1m2 0h1m2 0h1m14 0h1m2 0h1m14 0h1m1 0h1m9 0h1m5 0h1m0 0h1m23 0h1m7 0h1m16 0h1m2 0h1m5 0h1m0 0h1m1 0h1m2 0h1m5 0h1M395 39.5h1m8 0h1m33 0h1m1 0h1m1 0h1m18 0h1m11 0h1m1 0h1m12 0h1m17 0h1m2 0h1m32 0h1m0 0h1m23 0h1m8 0h1m12 0h1m14 0h1m16 0h1m21 0h1M401 40.5h1m0 0h1m16 0h1m6 0h1m38 0h1m20 0h1m62 0h1m5 0h1m0 0h1m7 0h1m12 0h1m9 0h1m12 0h1m0 0h1m5 0h1m8 0h1m17 0h1m0 0h1m2 0h1m0 0h1M387 41.5h1m15 0h1m2 0h1m8 0h1m3 0h1m9 0h1m2 0h1m11 0h1m5 0h1m17 0h1m8 0h1m2 0h1m21 0h1m10 0h1m9 0h1m1 0h1m22 0h1m22 0h1m1 0h1m21 0h1m3 0h1m8 0h1m4 0h1m2 0h1m4 0h1M395 42.5h1m8 0h1m38 0h1m10 0h1m0 0h1m5 0h1m0 0h1m17 0h1m37 0h1m3 0h1m1 0h1m4 0h1m22 0h1m5 0h1m7 0h1m9 0h1m8 0h1m8 0h1m33 0h1m1 0h1m16 0h1m3 0h1M393 43.5h1m24 0h1m1 0h1m0 0h1m2 0h1m0 0h1m3 0h1m16 0h1m0 0h1m29 0h1m22 0h1m7 0h1m24 0h1m10 0h1m12 0h1m3 0h1m10 0h1m0 0h1m7 0h1m35 0h1m3 0h1m2 0h1m22 0h1m1 0h1m1 0h1M408 44.5h1m11 0h1m1 0h1m38 0h1m23 0h1m9 0h1m6 0h1m7 0h1m2 0h1m2 0h1m6 0h1m7 0h1m2 0h1m10 0h1m12 0h1m7 0h1m26 0h1m15 0h1m8 0h1m10 0h1m6 0h1M397 45.5h1m1 0h1m7 0h1m4 0h1m8 0h1m22 0h1m4 0h1m2 0h1m8 0h1m3 0h1m8 0h1m33 0h1m7 0h1m5 0h1m14 0h1m3 0h1m0 0h1m5 0h1m4 0h1m31 0h1m9 0h1m1 0h1m8 0h1m1 0h1m11 0h1m20 0h1M406 46.5h1m0 0h1m15 0h1m37 0h1m10 0h1m5 0h1m13 0h1m30 0h1m1 0h1m5 0h1m1 0h1m6 0h1m6 0h1m14 0h1m31 0h1m11 0h1m16 0h1M386 47.5h1m3 0h1m3 0h1m9 0h1m2 0h1m2 0h1m1 0h1m6 0h1m6 0h1m9 0h1m7 0h1m17 0h1m2 0h1m8 0h1m12 0h1m11 0h1m24 0h1m0 0h1m6 0h1m17 0h1m8 0h1m8 0h1m0 0h1m0 0h1m0 0h1m0 0h1m29 0h1m1 0h1m1 0h1m16 0h1m2 0h1m5 0h1m7 0h1m6 0h1m3 0h1M417 48.5h1m24 0h1m7 0h1m4 0h1m3 0h1m2 0h1m2 0h1m12 0h1m6 0h1m3 0h1m2 0h1m0 0h1m56 0h1m18 0h1m10 0h1m3 0h1m9 0h1m10 0h1m18 0h1m5 0h1m15 0h1M390 49.5h1m0 0h1m3 0h1m14 0h1m3 0h1m14 0h1m4 0h1m4 0h1m0 0h1m3 0h1m6 0h1m19 0h1m10 0h1m18 0h1m1 0h1m0 0h1m5 0h1m1 0h1m8 0h1m2 0h1m4 0h1m0 0h1m2 0h1m3 0h1m2 0h1m14 0h1m14 0h1m19 0h1m0 0h1m7 0h1m6 0h1m2 0h1m4 0h1m1 0h1m0 0h1m17 0h1m8 0h1m3 0h1m1 0h1M400 50.5h1m8 0h1m5 0h1m20 0h1m4 0h1m2 0h1m4 0h1m11 0h1m9 0h1m19 0h1m3 0h1m1 0h1m9 0h1m1 0h1m21 0h1m1 0h1m10 0h1m29 0h1m10 0h1m7 0h1m5 0h1m4 0h1m10 0h1m5 0h1m11 0h1m12 0h1m0 0h1m1 0h1" stroke="#000" stroke-opacity="0.12" stroke-width="1" fill="none" filter="url(#rb)"/><path d="M517 13.5h1m4 0h1m21 0h1M443 14.5h1m147 0h1m35 0h1M418 15.5h1m22 0h1m27 0h1m0 0h1m22 0h1m11 0h1m33 0h1m13 0h1m4 0h1m2 0h1m4 0h1m28 0h1M425 16.5h1m27 0h1m46 0h1m20 0h1m18 0h1m49 0h1m25 0h1m24 0h1M386 17.5h1m63 0h1m90 0h1m36 0h1m23 0h1m45 0h1M581 18.5h1M433 19.5h1m54 0h1m119 0h1m4 0h1m0 0h1m12 0h1M433 20.5h1m26 0h1m3 0h1m20 0h1m41 0h1m26 0h1M403 21.5h1m36 0h1m96 0h1m98 0h1M458 22.5h1m100 0h1M475 23.5h1m1 0h1m12 0h1m26 0h1m6 0h1M454 24.5h1m5 0h1m24 0h1m80 0h1m7 0h1M517 25.5h1m4 0h1M410 26.5h1m47 0h1m21 0h1m13 0h1m3 0h1m6 0h1m52 0h1m24 0h1m43 0h1m21 0h1M398 27.5h1m33 0h1m19 0h1m63 0h1m42 0h1m0 0h1M396 28.5h1m11 0h1m35 0h1m43 0h1m4 0h1m16 0h1m68 0h1m62 0h1M430 29.5h1m20 0h1m62 0h1M561 30.5h1m31 0h1m31 0h1M391 31.5h1m127 0h1m17 0h1m12 0h1m33 0h1m22 0h1m6 0h1M391 32.5h1m151 0h1M464 33.5h1m19 0h1m27 0h1m27 0h1m17 0h1m3 0h1m39 0h1m9 0h1M392 34.5h1m43 0h1m19 0h1m19 0h1m154 0h1M459 35.5h1m78 0h1m40 0h1m49 0h1M391 36.5h1m46 0h1m0 0h1m74 0h1M440 37.5h1m22 0h1m36 0h1m43 0h1m1 0h1m88 0h1m2 0h1M406 38.5h1m55 0h1m45 0h1m52 0h1m14 0h1m14 0h1m3 0h1m43 0h1M464 39.5h1m107 0h1M427 40.5h1m29 0h1m44 0h1m112 0h1m6 0h1M392 41.5h1m89 0h1m25 0h1m56 0h1m4 0h1M559 42.5h1m17 0h1m28 0h1M398 43.5h1m45 0h1m46 0h1m43 0h1m16 0h1m59 0h1m25 0h1m8 0h1M435 44.5h1m97 0h1m105 0h1m10 0h1M469 45.5h1m71 0h1m28 0h1m69 0h1M445 46.5h1m87 0h1M417 47.5h1m101 0h1m5 0h1m42 0h1m54 0h1M440 48.5h1m68 0h1m1 0h1m35 0h1m6 0h1m71 0h1M540 49.5h1m78 0h1M389 50.5h1m67 0h1m50 0h1m96 0h1m10 0h1m0 0h1m19 0h1" stroke="#000" stroke-opacity="0.30" stroke-width="1" fill="none" filter="url(#rb)"/><line x1="385.5" y1="11.9" x2="385.5" y2="51.6" stroke="#555" stroke-width="1.00" /><line x1="385.5" y1="52.1" x2="652.1" y2="52.1" stroke="#aaa" stroke-width="1.00" /><line x1="385.5" y1="12.4" x2="388.0" y2="12.4" stroke="#555" stroke-width="1.00" /><text x="382.5" y="15.5" font-size="8.70" text-anchor="end" fill="#262626" >0</text><line x1="385.5" y1="32.0" x2="388.0" y2="32.0" stroke="#555" stroke-width="1.00" /><text x="382.5" y="35.1" font-size="8.70" text-anchor="end" fill="#262626" >200</text><line x1="385.5" y1="51.6" x2="388.0" y2="51.6" stroke="#555" stroke-width="1.00" /><text x="382.5" y="54.7" font-size="8.70" text-anchor="end" fill="#262626" >400</text><text transform="translate(365.5 32.0) rotate(-90)" font-size="8.70" text-anchor="middle" fill="#262626">Saccades</text><path d="M499.0 8.6 h5 l-2.5 4z" fill="#000"/><path d="M516.3 8.6 h5 l-2.5 4z" fill="#000"/><line x1="501.5" y1="52.6" x2="501.5" y2="149.2" stroke="#444" stroke-width="1.20" stroke-dasharray="2.6 3"/><line x1="518.8" y1="52.6" x2="518.8" y2="149.2" stroke="#555" stroke-width="1.30" /><line x1="385.5" y1="149.2" x2="652.1" y2="149.2" stroke="#888" stroke-width="1.00" /><line x1="385.5" y1="149.2" x2="385.5" y2="146.7" stroke="#777" stroke-width="0.80" /><text x="385.5" y="160.9" font-size="8.70" text-anchor="middle" fill="#262626" >-0.6</text><line x1="429.9" y1="149.2" x2="429.9" y2="146.7" stroke="#777" stroke-width="0.80" /><text x="429.9" y="160.9" font-size="8.70" text-anchor="middle" fill="#262626" >-0.4</text><line x1="474.4" y1="149.2" x2="474.4" y2="146.7" stroke="#777" stroke-width="0.80" /><text x="474.4" y="160.9" font-size="8.70" text-anchor="middle" fill="#262626" >-0.2</text><line x1="518.8" y1="149.2" x2="518.8" y2="146.7" stroke="#777" stroke-width="0.80" /><text x="518.8" y="160.9" font-size="8.70" text-anchor="middle" fill="#262626" >0</text><line x1="563.2" y1="149.2" x2="563.2" y2="146.7" stroke="#777" stroke-width="0.80" /><text x="563.2" y="160.9" font-size="8.70" text-anchor="middle" fill="#262626" >0.2</text><line x1="607.7" y1="149.2" x2="607.7" y2="146.7" stroke="#777" stroke-width="0.80" /><text x="607.7" y="160.9" font-size="8.70" text-anchor="middle" fill="#262626" >0.4</text><line x1="652.1" y1="149.2" x2="652.1" y2="146.7" stroke="#777" stroke-width="0.80" /><text x="652.1" y="160.9" font-size="8.70" text-anchor="middle" fill="#262626" >0.6</text><line x1="652.1" y1="52.6" x2="652.1" y2="149.2" stroke="#0e8a0e" stroke-width="1.10" /><line x1="649.6" y1="72.7" x2="652.1" y2="72.7" stroke="#0e8a0e" stroke-width="1.00" /><text x="654.9" y="75.8" font-size="8.70" text-anchor="start" fill="#0e8a0e" >2.5</text><line x1="649.6" y1="94.9" x2="652.1" y2="94.9" stroke="#0e8a0e" stroke-width="1.00" /><text x="654.9" y="98.0" font-size="8.70" text-anchor="start" fill="#0e8a0e" >2</text><line x1="649.6" y1="117.2" x2="652.1" y2="117.2" stroke="#0e8a0e" stroke-width="1.00" /><text x="654.9" y="120.3" font-size="8.70" text-anchor="start" fill="#0e8a0e" >1.5</text><line x1="649.6" y1="139.1" x2="652.1" y2="139.1" stroke="#0e8a0e" stroke-width="1.00" /><text x="654.9" y="142.2" font-size="8.70" text-anchor="start" fill="#0e8a0e" >1</text><text transform="translate(671.2 98.8) rotate(90)" font-size="8.70" text-anchor="middle" fill="#0e8a0e">Firing rate (spike/s)</text><line x1="523.0" y1="56.6" x2="554.5" y2="56.6" stroke="#8fd08f" stroke-width="3.20" stroke-linecap="round"/><path d="M397.1 103.0 L397.7 103.4 L398.5 103.8 L399.5 104.3 L400.6 104.9 L401.7 105.6 L402.8 106.2 L404.0 106.7 L405.0 107.2 L406.0 107.7 L406.9 108.2 L407.9 108.7 L408.8 109.2 L409.8 109.6 L410.8 110.0 L411.8 110.2 L412.8 110.3 L413.9 110.2 L415.0 109.9 L416.1 109.6 L417.3 109.1 L418.5 108.6 L419.6 108.1 L420.8 107.6 L422.0 107.2 L423.2 106.8 L424.4 106.5 L425.6 106.1 L426.8 105.8 L428.0 105.4 L429.2 105.0 L430.4 104.6 L431.5 104.2 L432.6 103.7 L433.7 103.2 L434.8 102.6 L435.9 102.1 L437.0 101.5 L438.0 101.0 L439.0 100.5 L440.0 100.1 L440.9 99.7 L441.8 99.3 L442.7 99.0 L443.5 98.7 L444.3 98.4 L445.1 98.2 L445.9 98.0 L446.8 97.9 L447.7 97.9 L448.6 98.0 L449.5 98.1 L450.4 98.3 L451.3 98.5 L452.2 98.7 L453.1 98.9 L454.0 99.1 L454.9 99.2 L455.8 99.3 L456.6 99.4 L457.5 99.6 L458.4 99.7 L459.3 99.7 L460.1 99.7 L461.0 99.7 L461.9 99.5 L462.8 99.3 L463.7 99.1 L464.6 98.8 L465.4 98.5 L466.3 98.1 L467.2 97.8 L468.0 97.5 L468.8 97.2 L469.5 96.9 L470.2 96.6 L470.9 96.2 L471.6 95.9 L472.4 95.6 L473.3 95.4 L474.2 95.3 L475.3 95.2 L476.4 95.3 L477.7 95.4 L479.0 95.6 L480.3 95.8 L481.6 95.9 L482.8 96.0 L484.0 96.0 L485.1 95.9 L486.1 95.8 L487.2 95.6 L488.2 95.3 L489.1 95.1 L490.1 94.9 L491.0 94.7 L492.0 94.5 L493.0 94.3 L493.9 94.1 L494.9 93.9 L495.8 93.7 L496.7 93.5 L497.6 93.4 L498.5 93.4 L499.3 93.5 L500.1 93.6 L500.8 93.8 L501.5 94.0 L502.2 94.3 L502.8 94.6 L503.5 95.0 L504.2 95.5 L505.0 96.0 L505.8 96.6 L506.7 97.2 L507.5 97.9 L508.4 98.7 L509.3 99.5 L510.2 100.4 L511.1 101.2 L512.0 102.1 L512.9 103.0 L513.7 104.0 L514.6 105.0 L515.5 106.0 L516.3 107.1 L517.1 108.1 L518.0 109.2 L518.8 110.3 L519.6 111.4 L520.4 112.6 L521.2 113.7 L522.0 114.9 L522.8 116.1 L523.5 117.3 L524.3 118.4 L525.0 119.5 L525.7 120.5 L526.3 121.4 L527.0 122.4 L527.6 123.3 L528.2 124.2 L528.8 125.0 L529.4 125.8 L530.0 126.6 L530.6 127.3 L531.2 128.0 L531.8 128.6 L532.5 129.2 L533.1 129.8 L533.7 130.3 L534.3 130.8 L535.0 131.2 L535.7 131.6 L536.4 132.0 L537.1 132.4 L537.8 132.7 L538.6 133.0 L539.3 133.2 L540.0 133.3 L540.7 133.3 L541.4 133.3 L542.0 133.1 L542.7 132.9 L543.3 132.6 L544.0 132.3 L544.6 131.8 L545.3 131.3 L546.0 130.7 L546.7 130.0 L547.5 129.2 L548.2 128.3 L549.0 127.3 L549.7 126.3 L550.5 125.1 L551.2 123.9 L552.0 122.5 L552.8 121.0 L553.5 119.4 L554.3 117.6 L555.0 115.8 L555.8 113.9 L556.5 112.0 L557.3 110.1 L558.0 108.2 L558.7 106.4 L559.5 104.4 L560.2 102.5 L561.0 100.5 L561.7 98.6 L562.4 96.7 L563.1 95.0 L563.7 93.5 L564.3 92.1 L564.8 90.8 L565.3 89.6 L565.8 88.5 L566.3 87.5 L566.8 86.6 L567.4 85.7 L568.0 84.8 L568.7 83.9 L569.4 83.2 L570.1 82.5 L570.8 81.9 L571.6 81.2 L572.4 80.6 L573.1 79.8 L573.9 79.1 L574.6 78.2 L575.4 77.3 L576.1 76.4 L576.9 75.4 L577.6 74.5 L578.4 73.5 L579.2 72.5 L580.0 71.5 L580.8 70.5 L581.7 69.4 L582.6 68.3 L583.5 67.1 L584.4 66.0 L585.3 65.0 L586.2 64.1 L587.0 63.4 L587.8 62.7 L588.6 62.2 L589.4 61.8 L590.1 61.4 L590.9 61.1 L591.6 61.0 L592.3 60.8 L593.0 60.8 L593.7 60.8 L594.3 60.9 L594.9 61.1 L595.6 61.3 L596.2 61.6 L596.8 62.1 L597.4 62.6 L598.0 63.4 L598.6 64.3 L599.3 65.4 L599.9 66.6 L600.6 68.0 L601.2 69.4 L601.8 70.8 L602.4 72.2 L603.0 73.6 L603.5 74.8 L604.0 76.0 L604.5 77.1 L604.9 78.3 L605.4 79.6 L605.9 80.9 L606.4 82.5 L607.0 84.3 L607.6 86.3 L608.3 88.6 L609.1 91.1 L609.8 93.7 L610.6 96.3 L611.4 99.0 L612.2 101.6 L613.0 104.2 L613.8 106.7 L614.7 109.3 L615.6 112.0 L616.6 114.7 L617.5 117.2 L618.4 119.6 L619.2 121.7 L620.0 123.4 L620.7 124.8 L621.4 125.9 L622.0 126.7 L622.6 127.3 L623.2 127.8 L623.8 128.2 L624.4 128.6 L625.0 129.2 L625.6 129.7 L626.2 130.2 L626.9 130.6 L627.5 131.0 L628.1 131.4 L628.8 131.7 L629.4 132.1 L630.0 132.5 L630.6 132.9 L631.2 133.4 L631.8 133.8 L632.4 134.2 L633.1 134.6 L633.7 135.0 L634.3 135.4 L635.0 135.8 L635.7 136.2 L636.5 136.6 L637.4 137.0 L638.2 137.4 L639.0 137.7 L639.7 138.0 L640.3 138.3 L640.8 138.5 L640.8 144.9 L640.3 144.7 L639.7 144.4 L639.0 144.1 L638.2 143.8 L637.4 143.4 L636.5 143.0 L635.7 142.6 L635.0 142.2 L634.3 141.9 L633.7 141.5 L633.1 141.1 L632.4 140.7 L631.8 140.3 L631.2 139.9 L630.6 139.5 L630.0 139.1 L629.4 138.7 L628.8 138.3 L628.1 138.0 L627.5 137.6 L626.9 137.2 L626.2 136.8 L625.6 136.4 L625.0 135.8 L624.4 135.4 L623.8 134.9 L623.2 134.5 L622.6 134.1 L622.0 133.5 L621.4 132.7 L620.7 131.7 L620.0 130.4 L619.2 128.7 L618.4 126.7 L617.5 124.4 L616.6 122.0 L615.6 119.4 L614.7 116.8 L613.8 114.3 L613.0 111.8 L612.2 109.4 L611.4 106.9 L610.6 104.3 L609.8 101.8 L609.1 99.3 L608.3 96.9 L607.6 94.7 L607.0 92.7 L606.4 91.0 L605.9 89.5 L605.4 88.2 L604.9 87.0 L604.5 85.9 L604.0 84.8 L603.5 83.6 L603.0 82.4 L602.4 81.1 L601.8 79.8 L601.2 78.4 L600.6 77.0 L599.9 75.8 L599.3 74.6 L598.6 73.5 L598.0 72.6 L597.4 71.9 L596.8 71.4 L596.2 71.0 L595.6 70.6 L594.9 70.4 L594.3 70.3 L593.7 70.2 L593.0 70.2 L592.3 70.2 L591.6 70.3 L590.9 70.5 L590.1 70.8 L589.4 71.1 L588.6 71.5 L587.8 72.0 L587.0 72.6 L586.2 73.4 L585.3 74.2 L584.4 75.2 L583.5 76.3 L582.6 77.3 L581.7 78.4 L580.8 79.5 L580.0 80.5 L579.2 81.4 L578.4 82.4 L577.6 83.3 L576.9 84.3 L576.1 85.2 L575.4 86.1 L574.6 86.9 L573.9 87.7 L573.1 88.5 L572.4 89.2 L571.6 89.8 L570.8 90.4 L570.1 91.0 L569.4 91.7 L568.7 92.4 L568.0 93.2 L567.4 94.1 L566.8 95.0 L566.3 95.9 L565.8 96.8 L565.3 97.9 L564.8 99.0 L564.3 100.2 L563.7 101.5 L563.1 103.0 L562.4 104.7 L561.7 106.5 L561.0 108.3 L560.2 110.2 L559.5 112.1 L558.7 114.0 L558.0 115.8 L557.3 117.5 L556.5 119.4 L555.8 121.2 L555.0 123.0 L554.3 124.8 L553.5 126.5 L552.8 128.0 L552.0 129.5 L551.2 130.8 L550.5 132.0 L549.7 133.1 L549.0 134.1 L548.2 135.0 L547.5 135.9 L546.7 136.6 L546.0 137.3 L545.3 137.9 L544.6 138.4 L544.0 138.9 L543.3 139.2 L542.7 139.5 L542.0 139.7 L541.4 139.8 L540.7 139.9 L540.0 139.8 L539.3 139.7 L538.6 139.5 L537.8 139.3 L537.1 139.0 L536.4 138.6 L535.7 138.2 L535.0 137.8 L534.3 137.4 L533.7 136.9 L533.1 136.4 L532.5 135.9 L531.8 135.3 L531.2 134.7 L530.6 134.1 L530.0 133.4 L529.4 132.7 L528.8 131.9 L528.2 131.1 L527.6 130.2 L527.0 129.4 L526.3 128.5 L525.7 127.5 L525.0 126.5 L524.3 125.5 L523.5 124.4 L522.8 123.3 L522.0 122.2 L521.2 121.0 L520.4 119.9 L519.6 118.8 L518.8 117.7 L518.0 116.7 L517.1 115.6 L516.3 114.6 L515.5 113.6 L514.6 112.6 L513.7 111.7 L512.9 110.8 L512.0 109.9 L511.1 109.0 L510.2 108.2 L509.3 107.4 L508.4 106.6 L507.5 105.9 L506.7 105.2 L505.8 104.6 L505.0 104.0 L504.2 103.5 L503.5 103.1 L502.8 102.7 L502.2 102.3 L501.5 102.1 L500.8 101.8 L500.1 101.7 L499.3 101.5 L498.5 101.5 L497.6 101.5 L496.7 101.6 L495.8 101.8 L494.9 102.0 L493.9 102.2 L493.0 102.4 L492.0 102.5 L491.0 102.7 L490.1 102.9 L489.1 103.1 L488.2 103.4 L487.2 103.6 L486.1 103.8 L485.1 103.9 L484.0 104.0 L482.8 104.0 L481.6 103.9 L480.3 103.8 L479.0 103.6 L477.7 103.5 L476.4 103.3 L475.3 103.3 L474.2 103.3 L473.3 103.4 L472.4 103.7 L471.6 103.9 L470.9 104.2 L470.2 104.5 L469.5 104.9 L468.8 105.2 L468.0 105.5 L467.2 105.8 L466.3 106.1 L465.4 106.4 L464.6 106.7 L463.7 107.0 L462.8 107.2 L461.9 107.4 L461.0 107.5 L460.1 107.6 L459.3 107.6 L458.4 107.5 L457.5 107.4 L456.6 107.3 L455.8 107.2 L454.9 107.1 L454.0 106.9 L453.1 106.8 L452.2 106.6 L451.3 106.4 L450.4 106.2 L449.5 106.1 L448.6 105.9 L447.7 105.9 L446.8 105.9 L445.9 106.0 L445.1 106.1 L444.3 106.3 L443.5 106.6 L442.7 106.9 L441.8 107.2 L440.9 107.6 L440.0 107.9 L439.0 108.3 L438.0 108.8 L437.0 109.3 L435.9 109.8 L434.8 110.4 L433.7 110.9 L432.6 111.4 L431.5 111.8 L430.4 112.3 L429.2 112.6 L428.0 113.0 L426.8 113.4 L425.6 113.7 L424.4 114.1 L423.2 114.4 L422.0 114.8 L420.8 115.2 L419.6 115.7 L418.5 116.1 L417.3 116.6 L416.1 117.0 L415.0 117.4 L413.9 117.6 L412.8 117.7 L411.8 117.6 L410.8 117.4 L409.8 117.1 L408.8 116.7 L407.9 116.2 L406.9 115.7 L406.0 115.2 L405.0 114.8 L404.0 114.3 L402.8 113.8 L401.7 113.2 L400.6 112.6 L399.5 112.0 L398.5 111.5 L397.7 111.1 L397.1 110.8 Z" fill="#c9e6c9" fill-opacity="1.00"/><path d="M397.1 106.9 L397.7 107.2 L398.5 107.7 L399.5 108.2 L400.6 108.8 L401.7 109.4 L402.8 110.0 L404.0 110.5 L405.0 111.0 L406.0 111.5 L406.9 112.0 L407.9 112.5 L408.8 112.9 L409.8 113.4 L410.8 113.7 L411.8 113.9 L412.8 114.0 L413.9 113.9 L415.0 113.7 L416.1 113.3 L417.3 112.9 L418.5 112.4 L419.6 111.9 L420.8 111.4 L422.0 111.0 L423.2 110.6 L424.4 110.3 L425.6 109.9 L426.8 109.6 L428.0 109.2 L429.2 108.8 L430.4 108.4 L431.5 108.0 L432.6 107.5 L433.7 107.0 L434.8 106.5 L435.9 105.9 L437.0 105.4 L438.0 104.9 L439.0 104.4 L440.0 104.0 L440.9 103.6 L441.8 103.3 L442.7 102.9 L443.5 102.6 L444.3 102.4 L445.1 102.2 L445.9 102.0 L446.8 101.9 L447.7 101.9 L448.6 102.0 L449.5 102.1 L450.4 102.3 L451.3 102.5 L452.2 102.7 L453.1 102.9 L454.0 103.0 L454.9 103.1 L455.8 103.2 L456.6 103.4 L457.5 103.5 L458.4 103.6 L459.3 103.7 L460.1 103.7 L461.0 103.6 L461.9 103.5 L462.8 103.3 L463.7 103.0 L464.6 102.7 L465.4 102.4 L466.3 102.1 L467.2 101.8 L468.0 101.5 L468.8 101.2 L469.5 100.9 L470.2 100.6 L470.9 100.2 L471.6 99.9 L472.4 99.6 L473.3 99.4 L474.2 99.3 L475.3 99.3 L476.4 99.3 L477.7 99.4 L479.0 99.6 L480.3 99.8 L481.6 99.9 L482.8 100.0 L484.0 100.0 L485.1 99.9 L486.1 99.8 L487.2 99.6 L488.2 99.4 L489.1 99.1 L490.1 98.9 L491.0 98.7 L492.0 98.5 L493.0 98.3 L493.9 98.1 L494.9 97.9 L495.8 97.8 L496.7 97.6 L497.6 97.5 L498.5 97.5 L499.3 97.5 L500.1 97.6 L500.8 97.8 L501.5 98.0 L502.2 98.3 L502.8 98.7 L503.5 99.0 L504.2 99.5 L505.0 100.0 L505.8 100.6 L506.7 101.2 L507.5 101.9 L508.4 102.7 L509.3 103.4 L510.2 104.3 L511.1 105.1 L512.0 106.0 L512.9 106.9 L513.7 107.8 L514.6 108.8 L515.5 109.8 L516.3 110.8 L517.1 111.9 L518.0 112.9 L518.8 114.0 L519.6 115.1 L520.4 116.2 L521.2 117.4 L522.0 118.6 L522.8 119.7 L523.5 120.9 L524.3 122.0 L525.0 123.0 L525.7 124.0 L526.3 124.9 L527.0 125.9 L527.6 126.8 L528.2 127.6 L528.8 128.5 L529.4 129.3 L530.0 130.0 L530.6 130.7 L531.2 131.4 L531.8 132.0 L532.5 132.6 L533.1 133.1 L533.7 133.6 L534.3 134.1 L535.0 134.5 L535.7 134.9 L536.4 135.3 L537.1 135.7 L537.8 136.0 L538.6 136.3 L539.3 136.5 L540.0 136.6 L540.7 136.6 L541.4 136.5 L542.0 136.4 L542.7 136.2 L543.3 135.9 L544.0 135.6 L544.6 135.1 L545.3 134.6 L546.0 134.0 L546.7 133.3 L547.5 132.5 L548.2 131.7 L549.0 130.7 L549.7 129.7 L550.5 128.5 L551.2 127.3 L552.0 126.0 L552.8 124.5 L553.5 122.9 L554.3 121.2 L555.0 119.4 L555.8 117.6 L556.5 115.7 L557.3 113.8 L558.0 112.0 L558.7 110.2 L559.5 108.3 L560.2 106.3 L561.0 104.4 L561.7 102.5 L562.4 100.7 L563.1 99.0 L563.7 97.5 L564.3 96.1 L564.8 94.9 L565.3 93.7 L565.8 92.7 L566.3 91.7 L566.8 90.8 L567.4 89.9 L568.0 89.0 L568.7 88.2 L569.4 87.4 L570.1 86.8 L570.8 86.1 L571.6 85.5 L572.4 84.9 L573.1 84.2 L573.9 83.4 L574.6 82.6 L575.4 81.7 L576.1 80.8 L576.9 79.9 L577.6 78.9 L578.4 77.9 L579.2 77.0 L580.0 76.0 L580.8 75.0 L581.7 73.9 L582.6 72.8 L583.5 71.7 L584.4 70.6 L585.3 69.6 L586.2 68.7 L587.0 68.0 L587.8 67.4 L588.6 66.9 L589.4 66.4 L590.1 66.1 L590.9 65.8 L591.6 65.6 L592.3 65.5 L593.0 65.5 L593.7 65.5 L594.3 65.6 L594.9 65.7 L595.6 66.0 L596.2 66.3 L596.8 66.7 L597.4 67.3 L598.0 68.0 L598.6 68.9 L599.3 70.0 L599.9 71.2 L600.6 72.5 L601.2 73.9 L601.8 75.3 L602.4 76.7 L603.0 78.0 L603.5 79.2 L604.0 80.4 L604.5 81.5 L604.9 82.7 L605.4 83.9 L605.9 85.2 L606.4 86.8 L607.0 88.5 L607.6 90.5 L608.3 92.8 L609.1 95.2 L609.8 97.7 L610.6 100.3 L611.4 103.0 L612.2 105.5 L613.0 108.0 L613.8 110.5 L614.7 113.1 L615.6 115.7 L616.6 118.3 L617.5 120.8 L618.4 123.1 L619.2 125.2 L620.0 126.9 L620.7 128.3 L621.4 129.3 L622.0 130.1 L622.6 130.7 L623.2 131.2 L623.8 131.6 L624.4 132.0 L625.0 132.5 L625.6 133.0 L626.2 133.5 L626.9 133.9 L627.5 134.3 L628.1 134.7 L628.8 135.0 L629.4 135.4 L630.0 135.8 L630.6 136.2 L631.2 136.6 L631.8 137.0 L632.4 137.4 L633.1 137.8 L633.7 138.2 L634.3 138.6 L635.0 139.0 L635.7 139.4 L636.5 139.8 L637.4 140.2 L638.2 140.6 L639.0 140.9 L639.7 141.2 L640.3 141.5 L640.8 141.7" fill="none" stroke="#c9e6c9" stroke-opacity="1.00" stroke-width="3.60" stroke-linejoin="round"/><path d="M397.1 106.9 L397.7 107.2 L398.5 107.7 L399.5 108.2 L400.6 108.8 L401.7 109.4 L402.8 110.0 L404.0 110.5 L405.0 111.0 L406.0 111.5 L406.9 112.0 L407.9 112.5 L408.8 112.9 L409.8 113.4 L410.8 113.7 L411.8 113.9 L412.8 114.0 L413.9 113.9 L415.0 113.7 L416.1 113.3 L417.3 112.9 L418.5 112.4 L419.6 111.9 L420.8 111.4 L422.0 111.0 L423.2 110.6 L424.4 110.3 L425.6 109.9 L426.8 109.6 L428.0 109.2 L429.2 108.8 L430.4 108.4 L431.5 108.0 L432.6 107.5 L433.7 107.0 L434.8 106.5 L435.9 105.9 L437.0 105.4 L438.0 104.9 L439.0 104.4 L440.0 104.0 L440.9 103.6 L441.8 103.3 L442.7 102.9 L443.5 102.6 L444.3 102.4 L445.1 102.2 L445.9 102.0 L446.8 101.9 L447.7 101.9 L448.6 102.0 L449.5 102.1 L450.4 102.3 L451.3 102.5 L452.2 102.7 L453.1 102.9 L454.0 103.0 L454.9 103.1 L455.8 103.2 L456.6 103.4 L457.5 103.5 L458.4 103.6 L459.3 103.7 L460.1 103.7 L461.0 103.6 L461.9 103.5 L462.8 103.3 L463.7 103.0 L464.6 102.7 L465.4 102.4 L466.3 102.1 L467.2 101.8 L468.0 101.5 L468.8 101.2 L469.5 100.9 L470.2 100.6 L470.9 100.2 L471.6 99.9 L472.4 99.6 L473.3 99.4 L474.2 99.3 L475.3 99.3 L476.4 99.3 L477.7 99.4 L479.0 99.6 L480.3 99.8 L481.6 99.9 L482.8 100.0 L484.0 100.0 L485.1 99.9 L486.1 99.8 L487.2 99.6 L488.2 99.4 L489.1 99.1 L490.1 98.9 L491.0 98.7 L492.0 98.5 L493.0 98.3 L493.9 98.1 L494.9 97.9 L495.8 97.8 L496.7 97.6 L497.6 97.5 L498.5 97.5 L499.3 97.5 L500.1 97.6 L500.8 97.8 L501.5 98.0 L502.2 98.3 L502.8 98.7 L503.5 99.0 L504.2 99.5 L505.0 100.0 L505.8 100.6 L506.7 101.2 L507.5 101.9 L508.4 102.7 L509.3 103.4 L510.2 104.3 L511.1 105.1 L512.0 106.0 L512.9 106.9 L513.7 107.8 L514.6 108.8 L515.5 109.8 L516.3 110.8 L517.1 111.9 L518.0 112.9 L518.8 114.0 L519.6 115.1 L520.4 116.2 L521.2 117.4 L522.0 118.6 L522.8 119.7 L523.5 120.9 L524.3 122.0 L525.0 123.0 L525.7 124.0 L526.3 124.9 L527.0 125.9 L527.6 126.8 L528.2 127.6 L528.8 128.5 L529.4 129.3 L530.0 130.0 L530.6 130.7 L531.2 131.4 L531.8 132.0 L532.5 132.6 L533.1 133.1 L533.7 133.6 L534.3 134.1 L535.0 134.5 L535.7 134.9 L536.4 135.3 L537.1 135.7 L537.8 136.0 L538.6 136.3 L539.3 136.5 L540.0 136.6 L540.7 136.6 L541.4 136.5 L542.0 136.4 L542.7 136.2 L543.3 135.9 L544.0 135.6 L544.6 135.1 L545.3 134.6 L546.0 134.0 L546.7 133.3 L547.5 132.5 L548.2 131.7 L549.0 130.7 L549.7 129.7 L550.5 128.5 L551.2 127.3 L552.0 126.0 L552.8 124.5 L553.5 122.9 L554.3 121.2 L555.0 119.4 L555.8 117.6 L556.5 115.7 L557.3 113.8 L558.0 112.0 L558.7 110.2 L559.5 108.3 L560.2 106.3 L561.0 104.4 L561.7 102.5 L562.4 100.7 L563.1 99.0 L563.7 97.5 L564.3 96.1 L564.8 94.9 L565.3 93.7 L565.8 92.7 L566.3 91.7 L566.8 90.8 L567.4 89.9 L568.0 89.0 L568.7 88.2 L569.4 87.4 L570.1 86.8 L570.8 86.1 L571.6 85.5 L572.4 84.9 L573.1 84.2 L573.9 83.4 L574.6 82.6 L575.4 81.7 L576.1 80.8 L576.9 79.9 L577.6 78.9 L578.4 77.9 L579.2 77.0 L580.0 76.0 L580.8 75.0 L581.7 73.9 L582.6 72.8 L583.5 71.7 L584.4 70.6 L585.3 69.6 L586.2 68.7 L587.0 68.0 L587.8 67.4 L588.6 66.9 L589.4 66.4 L590.1 66.1 L590.9 65.8 L591.6 65.6 L592.3 65.5 L593.0 65.5 L593.7 65.5 L594.3 65.6 L594.9 65.7 L595.6 66.0 L596.2 66.3 L596.8 66.7 L597.4 67.3 L598.0 68.0 L598.6 68.9 L599.3 70.0 L599.9 71.2 L600.6 72.5 L601.2 73.9 L601.8 75.3 L602.4 76.7 L603.0 78.0 L603.5 79.2 L604.0 80.4 L604.5 81.5 L604.9 82.7 L605.4 83.9 L605.9 85.2 L606.4 86.8 L607.0 88.5 L607.6 90.5 L608.3 92.8 L609.1 95.2 L609.8 97.7 L610.6 100.3 L611.4 103.0 L612.2 105.5 L613.0 108.0 L613.8 110.5 L614.7 113.1 L615.6 115.7 L616.6 118.3 L617.5 120.8 L618.4 123.1 L619.2 125.2 L620.0 126.9 L620.7 128.3 L621.4 129.3 L622.0 130.1 L622.6 130.7 L623.2 131.2 L623.8 131.6 L624.4 132.0 L625.0 132.5 L625.6 133.0 L626.2 133.5 L626.9 133.9 L627.5 134.3 L628.1 134.7 L628.8 135.0 L629.4 135.4 L630.0 135.8 L630.6 136.2 L631.2 136.6 L631.8 137.0 L632.4 137.4 L633.1 137.8 L633.7 138.2 L634.3 138.6 L635.0 139.0 L635.7 139.4 L636.5 139.8 L637.4 140.2 L638.2 140.6 L639.0 140.9 L639.7 141.2 L640.3 141.5 L640.8 141.7" fill="none" stroke="#0e8a0e" stroke-width="1.70" stroke-linejoin="round" stroke-linecap="round"/><text x="642.9" y="66.0" font-size="11.80" text-anchor="end" fill="#0e8a0e" >HPC</text><text x="345.0" y="9.1" font-size="16.50" text-anchor="start" fill="#000" font-weight="bold">c</text><rect x="463.2" y="174.6" width="88.9" height="137.2" fill="#e8eefc"/><path d="M387 175.5h1m21 0h1m8 0h1m3 0h1m2 0h1m7 0h1m4 0h1m1 0h1m5 0h1m2 0h1m20 0h1m11 0h1m4 0h1m39 0h1m22 0h1m13 0h1m8 0h1m4 0h1m0 0h1m22 0h1m20 0h1m5 0h1m13 0h1m1 0h1m1 0h1M387 176.5h1m14 0h1m2 0h1m1 0h1m2 0h1m1 0h1m5 0h1m1 0h1m9 0h1m4 0h1m2 0h1m13 0h1m5 0h1m0 0h1m24 0h1m0 0h1m6 0h1m0 0h1m0 0h1m8 0h1m42 0h1m2 0h1m7 0h1m0 0h1m4 0h1m20 0h1m0 0h1m0 0h1m4 0h1m6 0h1m8 0h1m3 0h1m9 0h1m0 0h1m1 0h1m2 0h1m3 0h1m8 0h1m4 0h1M386 177.5h1m1 0h1m1 0h1m0 0h1m1 0h1m24 0h1m10 0h1m1 0h1m5 0h1m11 0h1m0 0h1m0 0h1m7 0h1m3 0h1m15 0h1m1 0h1m12 0h1m9 0h1m18 0h1m3 0h1m2 0h1m14 0h1m4 0h1m0 0h1m0 0h1m1 0h1m7 0h1m3 0h1m7 0h1m31 0h1m0 0h1m5 0h1m1 0h1m2 0h1m10 0h1m21 0h1M389 178.5h1m5 0h1m1 0h1m16 0h1m19 0h1m2 0h1m2 0h1m4 0h1m1 0h1m15 0h1m1 0h1m1 0h1m0 0h1m0 0h1m9 0h1m13 0h1m9 0h1m7 0h1m4 0h1m1 0h1m4 0h1m2 0h1m0 0h1m2 0h1m0 0h1m3 0h1m1 0h1m3 0h1m2 0h1m3 0h1m1 0h1m1 0h1m9 0h1m7 0h1m0 0h1m16 0h1m7 0h1m6 0h1m1 0h1m4 0h1m7 0h1m1 0h1m3 0h1m5 0h1m8 0h1m0 0h1M388 179.5h1m1 0h1m35 0h1m25 0h1m14 0h1m17 0h1m1 0h1m13 0h1m8 0h1m1 0h1m0 0h1m4 0h1m14 0h1m17 0h1m7 0h1m6 0h1m4 0h1m5 0h1m6 0h1m5 0h1m14 0h1m3 0h1m9 0h1m18 0h1m5 0h1M387 180.5h1m12 0h1m2 0h1m2 0h1m0 0h1m8 0h1m3 0h1m7 0h1m2 0h1m6 0h1m7 0h1m8 0h1m1 0h1m0 0h1m25 0h1m8 0h1m14 0h1m0 0h1m0 0h1m6 0h1m2 0h1m12 0h1m0 0h1m0 0h1m0 0h1m0 0h1m1 0h1m3 0h1m4 0h1m4 0h1m2 0h1m0 0h1m0 0h1m6 0h1m9 0h1m4 0h1m7 0h1m11 0h1m1 0h1m11 0h1m1 0h1m2 0h1m4 0h1m1 0h1m5 0h1m0 0h1M387 181.5h1m12 0h1m8 0h1m0 0h1m22 0h1m14 0h1m15 0h1m0 0h1m18 0h1m7 0h1m15 0h1m19 0h1m1 0h1m3 0h1m9 0h1m5 0h1m7 0h1m15 0h1m6 0h1m16 0h1m2 0h1m13 0h1m21 0h1M386 182.5h1m8 0h1m21 0h1m4 0h1m8 0h1m7 0h1m0 0h1m3 0h1m4 0h1m0 0h1m7 0h1m10 0h1m3 0h1m1 0h1m2 0h1m5 0h1m5 0h1m5 0h1m18 0h1m0 0h1m5 0h1m28 0h1m3 0h1m14 0h1m3 0h1m5 0h1m4 0h1m7 0h1m13 0h1m8 0h1m13 0h1M391 183.5h1m39 0h1m48 0h1m14 0h1m9 0h1m4 0h1m0 0h1m12 0h1m54 0h1m26 0h1m13 0h1m11 0h1m0 0h1m17 0h1M390 184.5h1m12 0h1m15 0h1m1 0h1m17 0h1m23 0h1m14 0h1m11 0h1m2 0h1m2 0h1m2 0h1m9 0h1m0 0h1m71 0h1m10 0h1m1 0h1m8 0h1m4 0h1m1 0h1m1 0h1m2 0h1m5 0h1m11 0h1m5 0h1m10 0h1M398 185.5h1m3 0h1m8 0h1m14 0h1m5 0h1m1 0h1m6 0h1m0 0h1m1 0h1m5 0h1m10 0h1m0 0h1m16 0h1m12 0h1m0 0h1m6 0h1m19 0h1m9 0h1m12 0h1m3 0h1m10 0h1m0 0h1m47 0h1m1 0h1m1 0h1m4 0h1m8 0h1m0 0h1m1 0h1m9 0h1M405 186.5h1m35 0h1m5 0h1m24 0h1m2 0h1m9 0h1m23 0h1m8 0h1m5 0h1m0 0h1m5 0h1m6 0h1m11 0h1m19 0h1m6 0h1m10 0h1m2 0h1m18 0h1m12 0h1M413 187.5h1m4 0h1m9 0h1m2 0h1m2 0h1m31 0h1m2 0h1m14 0h1m8 0h1m12 0h1m18 0h1m34 0h1m0 0h1m1 0h1m1 0h1m5 0h1m4 0h1m13 0h1m2 0h1m5 0h1m17 0h1m10 0h1m17 0h1m1 0h1m2 0h1M388 188.5h1m2 0h1m1 0h1m1 0h1m22 0h1m9 0h1m5 0h1m5 0h1m6 0h1m0 0h1m23 0h1m12 0h1m12 0h1m19 0h1m8 0h1m3 0h1m0 0h1m1 0h1m11 0h1m20 0h1m4 0h1m8 0h1m17 0h1m6 0h1m35 0h1M395 189.5h1m4 0h1m0 0h1m1 0h1m2 0h1m0 0h1m0 0h1m1 0h1m1 0h1m0 0h1m2 0h1m6 0h1m3 0h1m15 0h1m6 0h1m9 0h1m4 0h1m1 0h1m2 0h1m7 0h1m0 0h1m3 0h1m5 0h1m3 0h1m1 0h1m2 0h1m3 0h1m25 0h1m3 0h1m0 0h1m1 0h1m5 0h1m9 0h1m4 0h1m1 0h1m1 0h1m9 0h1m16 0h1m10 0h1m0 0h1m4 0h1m15 0h1m5 0h1m15 0h1m1 0h1m3 0h1M401 190.5h1m8 0h1m6 0h1m2 0h1m2 0h1m14 0h1m1 0h1m1 0h1m1 0h1m1 0h1m11 0h1m0 0h1m28 0h1m11 0h1m8 0h1m0 0h1m1 0h1m3 0h1m4 0h1m16 0h1m6 0h1m7 0h1m2 0h1m3 0h1m48 0h1m4 0h1m4 0h1m2 0h1m9 0h1m5 0h1m1 0h1m2 0h1M386 191.5h1m2 0h1m4 0h1m8 0h1m4 0h1m3 0h1m3 0h1m14 0h1m7 0h1m1 0h1m5 0h1m2 0h1m4 0h1m3 0h1m4 0h1m5 0h1m9 0h1m4 0h1m3 0h1m4 0h1m8 0h1m17 0h1m4 0h1m7 0h1m20 0h1m3 0h1m7 0h1m6 0h1m1 0h1m6 0h1m11 0h1m18 0h1m2 0h1m2 0h1m1 0h1m0 0h1m4 0h1m5 0h1m2 0h1m2 0h1m7 0h1m0 0h1M387 192.5h1m2 0h1m18 0h1m3 0h1m17 0h1m21 0h1m1 0h1m1 0h1m20 0h1m8 0h1m3 0h1m0 0h1m2 0h1m1 0h1m11 0h1m16 0h1m1 0h1m5 0h1m5 0h1m0 0h1m1 0h1m14 0h1m13 0h1m6 0h1m1 0h1m5 0h1m4 0h1m9 0h1m4 0h1m26 0h1m10 0h1M394 193.5h1m1 0h1m0 0h1m1 0h1m31 0h1m16 0h1m42 0h1m5 0h1m5 0h1m4 0h1m6 0h1m5 0h1m4 0h1m12 0h1m3 0h1m7 0h1m19 0h1m7 0h1m4 0h1m4 0h1m6 0h1m11 0h1m8 0h1m15 0h1m0 0h1m7 0h1m3 0h1M391 194.5h1m7 0h1m0 0h1m5 0h1m3 0h1m7 0h1m3 0h1m7 0h1m12 0h1m15 0h1m11 0h1m23 0h1m16 0h1m3 0h1m14 0h1m3 0h1m9 0h1m0 0h1m1 0h1m20 0h1m1 0h1m4 0h1m0 0h1m1 0h1m31 0h1M389 195.5h1m2 0h1m9 0h1m1 0h1m4 0h1m9 0h1m5 0h1m4 0h1m0 0h1m2 0h1m9 0h1m3 0h1m24 0h1m15 0h1m6 0h1m24 0h1m18 0h1m13 0h1m0 0h1m21 0h1m1 0h1m2 0h1m18 0h1m1 0h1m8 0h1m2 0h1m26 0h1m8 0h1M407 196.5h1m8 0h1m10 0h1m2 0h1m12 0h1m7 0h1m26 0h1m0 0h1m10 0h1m0 0h1m2 0h1m4 0h1m5 0h1m6 0h1m11 0h1m2 0h1m49 0h1m8 0h1m1 0h1m13 0h1m0 0h1m14 0h1m7 0h1m21 0h1M400 197.5h1m0 0h1m41 0h1m18 0h1m6 0h1m15 0h1m51 0h1m14 0h1m3 0h1m11 0h1m22 0h1m10 0h1m3 0h1m3 0h1m15 0h1M396 198.5h1m1 0h1m4 0h1m1 0h1m0 0h1m12 0h1m3 0h1m7 0h1m6 0h1m13 0h1m15 0h1m2 0h1m3 0h1m2 0h1m0 0h1m4 0h1m30 0h1m2 0h1m0 0h1m33 0h1m0 0h1m6 0h1m2 0h1m15 0h1m4 0h1m8 0h1m0 0h1m6 0h1m11 0h1m11 0h1m6 0h1M387 199.5h1m7 0h1m11 0h1m4 0h1m0 0h1m15 0h1m2 0h1m2 0h1m3 0h1m9 0h1m4 0h1m14 0h1m4 0h1m5 0h1m5 0h1m5 0h1m0 0h1m0 0h1m1 0h1m1 0h1m8 0h1m3 0h1m6 0h1m27 0h1m0 0h1m13 0h1m20 0h1m14 0h1m31 0h1m14 0h1m6 0h1M386 200.5h1m2 0h1m8 0h1m4 0h1m11 0h1m0 0h1m2 0h1m1 0h1m3 0h1m0 0h1m0 0h1m10 0h1m2 0h1m8 0h1m14 0h1m0 0h1m1 0h1m11 0h1m14 0h1m5 0h1m4 0h1m2 0h1m3 0h1m2 0h1m1 0h1m4 0h1m4 0h1m1 0h1m6 0h1m2 0h1m29 0h1m6 0h1m9 0h1m0 0h1m2 0h1m2 0h1m2 0h1m2 0h1m5 0h1m10 0h1m6 0h1m11 0h1m6 0h1m1 0h1m0 0h1M388 201.5h1m1 0h1m5 0h1m4 0h1m3 0h1m5 0h1m2 0h1m10 0h1m3 0h1m11 0h1m2 0h1m5 0h1m16 0h1m6 0h1m1 0h1m26 0h1m7 0h1m1 0h1m22 0h1m2 0h1m0 0h1m1 0h1m1 0h1m9 0h1m12 0h1m6 0h1m1 0h1m3 0h1m5 0h1m45 0h1m8 0h1M395 202.5h1m3 0h1m17 0h1m13 0h1m4 0h1m0 0h1m8 0h1m10 0h1m19 0h1m6 0h1m4 0h1m4 0h1m12 0h1m30 0h1m5 0h1m5 0h1m4 0h1m4 0h1m7 0h1m3 0h1m7 0h1m7 0h1m14 0h1m15 0h1m2 0h1m8 0h1m2 0h1m1 0h1m0 0h1m1 0h1M390 203.5h1m2 0h1m14 0h1m13 0h1m10 0h1m26 0h1m3 0h1m0 0h1m4 0h1m19 0h1m11 0h1m29 0h1m4 0h1m17 0h1m8 0h1m20 0h1m4 0h1m15 0h1m3 0h1m2 0h1m1 0h1m14 0h1M416 204.5h1m7 0h1m18 0h1m9 0h1m4 0h1m13 0h1m5 0h1m0 0h1m6 0h1m2 0h1m10 0h1m12 0h1m13 0h1m0 0h1m3 0h1m12 0h1m20 0h1m13 0h1m4 0h1m1 0h1m11 0h1m0 0h1m3 0h1m11 0h1m10 0h1m3 0h1m0 0h1m10 0h1m2 0h1M420 205.5h1m7 0h1m0 0h1m0 0h1m1 0h1m5 0h1m6 0h1m2 0h1m3 0h1m0 0h1m61 0h1m2 0h1m2 0h1m14 0h1m9 0h1m22 0h1m10 0h1m22 0h1m6 0h1m10 0h1m2 0h1m6 0h1m7 0h1m4 0h1M396 206.5h1m0 0h1m3 0h1m6 0h1m5 0h1m8 0h1m22 0h1m0 0h1m12 0h1m26 0h1m3 0h1m4 0h1m0 0h1m9 0h1m6 0h1m10 0h1m4 0h1m7 0h1m0 0h1m22 0h1m1 0h1m0 0h1m2 0h1m13 0h1m2 0h1m2 0h1m12 0h1m1 0h1m11 0h1m0 0h1m4 0h1m2 0h1M390 207.5h1m20 0h1m4 0h1m3 0h1m35 0h1m27 0h1m2 0h1m0 0h1m3 0h1m13 0h1m4 0h1m16 0h1m17 0h1m16 0h1m34 0h1m0 0h1m22 0h1m0 0h1m0 0h1m3 0h1m14 0h1m7 0h1M392 208.5h1m9 0h1m24 0h1m1 0h1m16 0h1m5 0h1m6 0h1m12 0h1m1 0h1m7 0h1m13 0h1m8 0h1m0 0h1m1 0h1m12 0h1m0 0h1m26 0h1m30 0h1m1 0h1m5 0h1m5 0h1m4 0h1m1 0h1m6 0h1m0 0h1m3 0h1m7 0h1m6 0h1m0 0h1m1 0h1m1 0h1m9 0h1m6 0h1M390 209.5h1m16 0h1m3 0h1m20 0h1m6 0h1m13 0h1m30 0h1m2 0h1m7 0h1m23 0h1m2 0h1m0 0h1m5 0h1m0 0h1m9 0h1m38 0h1m11 0h1m6 0h1m8 0h1m0 0h1m15 0h1m21 0h1m0 0h1m3 0h1M389 210.5h1m8 0h1m1 0h1m0 0h1m4 0h1m0 0h1m0 0h1m6 0h1m8 0h1m1 0h1m26 0h1m10 0h1m13 0h1m20 0h1m8 0h1m9 0h1m16 0h1m2 0h1m2 0h1m0 0h1m1 0h1m7 0h1m7 0h1m1 0h1m1 0h1m6 0h1m7 0h1m0 0h1m0 0h1m0 0h1m10 0h1m6 0h1m6 0h1m7 0h1m17 0h1M387 211.5h1m12 0h1m2 0h1m5 0h1m10 0h1m6 0h1m0 0h1m15 0h1m16 0h1m3 0h1m19 0h1m10 0h1m13 0h1m7 0h1m7 0h1m1 0h1m18 0h1m1 0h1m8 0h1m35 0h1M409 212.5h1m3 0h1m6 0h1m19 0h1m0 0h1m4 0h1m0 0h1m1 0h1m4 0h1m13 0h1m0 0h1m1 0h1m2 0h1m9 0h1m6 0h1m1 0h1m5 0h1m9 0h1m3 0h1m3 0h1m14 0h1m18 0h1m8 0h1m6 0h1m7 0h1m21 0h1m1 0h1m7 0h1m1 0h1M388 213.5h1m2 0h1m1 0h1m23 0h1m3 0h1m12 0h1m4 0h1m6 0h1m11 0h1m1 0h1m18 0h1m1 0h1m20 0h1m18 0h1m12 0h1m9 0h1m1 0h1m1 0h1m2 0h1m17 0h1m26 0h1m2 0h1m5 0h1m3 0h1m8 0h1m12 0h1m1 0h1m7 0h1" stroke="#000" stroke-opacity="0.12" stroke-width="1" fill="none" filter="url(#rb)"/><path d="M407 175.5h1m43 0h1m0 0h1m98 0h1m29 0h1m57 0h1M393 176.5h1m63 0h1m61 0h1m79 0h1M460 177.5h1m3 0h1m3 0h1m87 0h1m45 0h1M416 178.5h1m9 0h1m26 0h1m20 0h1m26 0h1m8 0h1m112 0h1m20 0h1M447 179.5h1m40 0h1m25 0h1m34 0h1m23 0h1m48 0h1m18 0h1M407 180.5h1m45 0h1m97 0h1m88 0h1M394 181.5h1m74 0h1m152 0h1M533 182.5h1M427 183.5h1m62 0h1m3 0h1m107 0h1M396 184.5h1m4 0h1m69 0h1m14 0h1m17 0h1m28 0h1m53 0h1m11 0h1m12 0h1M397 185.5h1m34 0h1m65 0h1m0 0h1m114 0h1M407 186.5h1m63 0h1m79 0h1M411 187.5h1m54 0h1m4 0h1m47 0h1m6 0h1m82 0h1M474 188.5h1m17 0h1m19 0h1m79 0h1m34 0h1M408 189.5h1m1 0h1m37 0h1m36 0h1m6 0h1m50 0h1m27 0h1M404 190.5h1m98 0h1m26 0h1m13 0h1m5 0h1m74 0h1M393 191.5h1m53 0h1m110 0h1m15 0h1m64 0h1M390 192.5h1m170 0h1m41 0h1M435 193.5h1m78 0h1m73 0h1m26 0h1M403 194.5h1m48 0h1m54 0h1m31 0h1m42 0h1m7 0h1m8 0h1M606 195.5h1M436 196.5h1m10 0h1m14 0h1m4 0h1m43 0h1M445 197.5h1m38 0h1m21 0h1m7 0h1m13 0h1m72 0h1m4 0h1M389 198.5h1m2 0h1m156 0h1m21 0h1m75 0h1M422 199.5h1m40 0h1m104 0h1M386 200.5h1m0 0h1m68 0h1m159 0h1M412 201.5h1m8 0h1m14 0h1m1 0h1m93 0h1m20 0h1m4 0h1m53 0h1m19 0h1M477 202.5h1m50 0h1m93 0h1M528 203.5h1m0 0h1m101 0h1M428 204.5h1m33 0h1m32 0h1m55 0h1M423 205.5h1m47 0h1m133 0h1M386 206.5h1m63 0h1m8 0h1m7 0h1m55 0h1m62 0h1m29 0h1M388 207.5h1m18 0h1m1 0h1m25 0h1m66 0h1m17 0h1m22 0h1m26 0h1m21 0h1m33 0h1m7 0h1M502 208.5h1m45 0h1m9 0h1M417 209.5h1m33 0h1m35 0h1m11 0h1m82 0h1m13 0h1m6 0h1M447 210.5h1m34 0h1m15 0h1m3 0h1m13 0h1m115 0h1m16 0h1M426 211.5h1m15 0h1m9 0h1m1 0h1m168 0h1m1 0h1m10 0h1M387 212.5h1m176 0h1m7 0h1m66 0h1m4 0h1M493 213.5h1m30 0h1m20 0h1m6 0h1m69 0h1m6 0h1" stroke="#000" stroke-opacity="0.30" stroke-width="1" fill="none" filter="url(#rb)"/><line x1="385.5" y1="174.1" x2="385.5" y2="214.8" stroke="#555" stroke-width="1.00" /><line x1="385.5" y1="215.3" x2="652.1" y2="215.3" stroke="#aaa" stroke-width="1.00" /><line x1="385.5" y1="174.6" x2="388.0" y2="174.6" stroke="#555" stroke-width="1.00" /><text x="382.5" y="177.7" font-size="8.70" text-anchor="end" fill="#262626" >0</text><line x1="385.5" y1="194.7" x2="388.0" y2="194.7" stroke="#555" stroke-width="1.00" /><text x="382.5" y="197.8" font-size="8.70" text-anchor="end" fill="#262626" >200</text><line x1="385.5" y1="214.8" x2="388.0" y2="214.8" stroke="#555" stroke-width="1.00" /><text x="382.5" y="217.9" font-size="8.70" text-anchor="end" fill="#262626" >400</text><text transform="translate(365.5 194.7) rotate(-90)" font-size="8.70" text-anchor="middle" fill="#262626">Saccades</text><path d="M499.0 170.8 h5 l-2.5 4z" fill="#000"/><path d="M516.3 170.8 h5 l-2.5 4z" fill="#000"/><line x1="501.5" y1="215.8" x2="501.5" y2="311.8" stroke="#444" stroke-width="1.20" stroke-dasharray="2.6 3"/><line x1="518.8" y1="215.8" x2="518.8" y2="311.8" stroke="#555" stroke-width="1.30" /><line x1="385.5" y1="311.8" x2="652.1" y2="311.8" stroke="#888" stroke-width="1.00" /><line x1="385.5" y1="311.8" x2="385.5" y2="309.3" stroke="#777" stroke-width="0.80" /><text x="385.5" y="323.5" font-size="8.70" text-anchor="middle" fill="#262626" >-0.6</text><line x1="429.9" y1="311.8" x2="429.9" y2="309.3" stroke="#777" stroke-width="0.80" /><text x="429.9" y="323.5" font-size="8.70" text-anchor="middle" fill="#262626" >-0.4</text><line x1="474.4" y1="311.8" x2="474.4" y2="309.3" stroke="#777" stroke-width="0.80" /><text x="474.4" y="323.5" font-size="8.70" text-anchor="middle" fill="#262626" >-0.2</text><line x1="518.8" y1="311.8" x2="518.8" y2="309.3" stroke="#777" stroke-width="0.80" /><text x="518.8" y="323.5" font-size="8.70" text-anchor="middle" fill="#262626" >0</text><line x1="563.2" y1="311.8" x2="563.2" y2="309.3" stroke="#777" stroke-width="0.80" /><text x="563.2" y="323.5" font-size="8.70" text-anchor="middle" fill="#262626" >0.2</text><line x1="607.7" y1="311.8" x2="607.7" y2="309.3" stroke="#777" stroke-width="0.80" /><text x="607.7" y="323.5" font-size="8.70" text-anchor="middle" fill="#262626" >0.4</text><line x1="652.1" y1="311.8" x2="652.1" y2="309.3" stroke="#777" stroke-width="0.80" /><text x="652.1" y="323.5" font-size="8.70" text-anchor="middle" fill="#262626" >0.6</text><text x="515.3" y="335.3" font-size="8.70" text-anchor="middle" fill="#262626" >Time aligned on sacc. ends (s)</text><line x1="652.1" y1="215.8" x2="652.1" y2="311.8" stroke="#0e8a0e" stroke-width="1.10" /><line x1="649.6" y1="237.8" x2="652.1" y2="237.8" stroke="#0e8a0e" stroke-width="1.00" /><text x="654.9" y="240.9" font-size="8.70" text-anchor="start" fill="#0e8a0e" >3</text><line x1="649.6" y1="261.3" x2="652.1" y2="261.3" stroke="#0e8a0e" stroke-width="1.00" /><text x="654.9" y="264.4" font-size="8.70" text-anchor="start" fill="#0e8a0e" >2.5</text><line x1="649.6" y1="285.1" x2="652.1" y2="285.1" stroke="#0e8a0e" stroke-width="1.00" /><text x="654.9" y="288.2" font-size="8.70" text-anchor="start" fill="#0e8a0e" >2</text><line x1="649.6" y1="308.6" x2="652.1" y2="308.6" stroke="#0e8a0e" stroke-width="1.00" /><text x="654.9" y="311.7" font-size="8.70" text-anchor="start" fill="#0e8a0e" >1.5</text><text transform="translate(671.2 262.0) rotate(90)" font-size="8.70" text-anchor="middle" fill="#0e8a0e">Firing rate (spike/s)</text><line x1="529.9" y1="219.7" x2="564.2" y2="219.7" stroke="#0e8a0e" stroke-width="3.20" stroke-linecap="round"/><path d="M397.0 289.8 L397.4 290.1 L397.9 290.4 L398.4 290.7 L399.1 291.1 L399.8 291.5 L400.5 291.9 L401.3 292.3 L402.0 292.6 L402.7 292.9 L403.5 293.2 L404.3 293.5 L405.1 293.8 L405.9 294.1 L406.8 294.3 L407.6 294.4 L408.5 294.4 L409.4 294.2 L410.3 294.0 L411.2 293.7 L412.1 293.3 L413.0 292.9 L414.0 292.4 L415.0 292.0 L416.0 291.6 L417.1 291.1 L418.2 290.6 L419.3 290.0 L420.5 289.4 L421.6 288.8 L422.8 288.4 L423.9 288.1 L424.9 288.0 L425.9 288.1 L426.8 288.3 L427.6 288.7 L428.4 289.2 L429.3 289.8 L430.1 290.4 L431.0 291.0 L432.0 291.6 L433.1 292.3 L434.2 293.1 L435.4 294.1 L436.6 295.0 L437.8 295.9 L439.0 296.6 L440.2 297.0 L441.3 297.2 L442.4 297.1 L443.5 296.6 L444.5 296.0 L445.5 295.3 L446.6 294.4 L447.7 293.4 L448.8 292.5 L450.0 291.6 L451.3 290.7 L452.7 289.6 L454.2 288.5 L455.7 287.4 L457.1 286.3 L458.5 285.3 L459.8 284.4 L461.0 283.8 L462.0 283.3 L462.9 282.9 L463.6 282.7 L464.3 282.6 L465.0 282.5 L465.6 282.4 L466.3 282.4 L467.0 282.3 L467.7 282.2 L468.5 282.1 L469.2 282.0 L469.9 281.9 L470.7 281.8 L471.4 281.8 L472.2 281.8 L473.0 281.9 L473.8 282.1 L474.7 282.3 L475.6 282.5 L476.4 282.8 L477.3 283.2 L478.2 283.5 L479.1 283.9 L480.0 284.4 L480.9 284.9 L481.8 285.4 L482.6 286.0 L483.5 286.6 L484.4 287.3 L485.3 287.9 L486.1 288.5 L487.0 289.0 L487.9 289.5 L488.7 289.9 L489.6 290.4 L490.4 290.8 L491.3 291.1 L492.1 291.5 L493.0 291.8 L493.9 292.1 L494.8 292.3 L495.8 292.5 L496.8 292.6 L497.8 292.7 L498.8 292.8 L499.7 292.9 L500.6 293.1 L501.5 293.2 L502.3 293.4 L503.0 293.6 L503.7 293.9 L504.4 294.1 L505.0 294.4 L505.7 294.6 L506.3 294.9 L507.0 295.2 L507.7 295.5 L508.4 295.9 L509.0 296.4 L509.7 296.8 L510.4 297.2 L511.1 297.5 L511.8 297.7 L512.5 297.7 L513.3 297.6 L514.0 297.3 L514.9 296.9 L515.7 296.5 L516.5 295.9 L517.3 295.3 L518.1 294.5 L518.8 293.6 L519.5 292.7 L520.2 291.6 L520.8 290.3 L521.4 289.0 L522.0 287.6 L522.7 286.2 L523.3 284.8 L524.0 283.3 L524.7 281.9 L525.5 280.5 L526.2 279.0 L527.0 277.5 L527.8 275.9 L528.6 274.3 L529.3 272.5 L530.0 270.7 L530.7 268.7 L531.3 266.5 L531.9 264.3 L532.6 261.9 L533.2 259.5 L533.8 257.1 L534.4 254.8 L535.0 252.4 L535.6 250.1 L536.2 247.6 L536.8 245.1 L537.4 242.6 L538.0 240.1 L538.6 237.8 L539.3 235.7 L540.0 233.9 L540.8 232.3 L541.6 230.8 L542.4 229.5 L543.3 228.3 L544.1 227.3 L545.0 226.5 L545.8 225.9 L546.5 225.6 L547.2 225.4 L547.8 225.5 L548.3 225.8 L548.8 226.2 L549.4 226.9 L549.9 227.7 L550.4 228.7 L551.0 229.8 L551.6 231.1 L552.2 232.7 L552.9 234.5 L553.5 236.4 L554.2 238.4 L554.8 240.4 L555.4 242.4 L556.0 244.2 L556.5 245.9 L557.0 247.6 L557.5 249.3 L558.0 250.9 L558.5 252.6 L559.0 254.2 L559.5 255.9 L560.0 257.6 L560.6 259.3 L561.2 261.2 L561.8 263.0 L562.5 264.9 L563.2 266.7 L563.8 268.5 L564.4 270.1 L565.0 271.6 L565.5 272.9 L566.0 274.2 L566.5 275.3 L567.0 276.3 L567.5 277.3 L568.0 278.3 L568.5 279.3 L569.0 280.2 L569.5 281.2 L570.1 282.2 L570.6 283.1 L571.2 284.0 L571.8 284.9 L572.4 285.8 L573.1 286.6 L573.9 287.5 L574.7 288.2 L575.7 289.0 L576.6 289.7 L577.6 290.4 L578.7 291.1 L579.8 291.7 L580.9 292.4 L582.0 293.1 L583.2 293.9 L584.4 294.8 L585.6 295.8 L586.9 296.7 L588.2 297.6 L589.4 298.2 L590.6 298.6 L591.8 298.7 L592.9 298.5 L593.9 297.9 L594.8 297.2 L595.8 296.3 L596.7 295.2 L597.7 294.0 L598.8 292.8 L600.0 291.6 L601.4 290.3 L602.9 288.8 L604.5 287.1 L606.1 285.4 L607.8 283.8 L609.4 282.2 L610.9 280.8 L612.2 279.5 L613.4 278.5 L614.4 277.7 L615.4 277.0 L616.3 276.4 L617.2 275.8 L618.1 275.3 L619.0 274.7 L620.0 274.1 L621.1 273.3 L622.2 272.6 L623.3 271.8 L624.5 271.0 L625.6 270.2 L626.8 269.5 L627.8 269.0 L628.8 268.5 L629.7 268.2 L630.5 268.0 L631.3 267.9 L632.0 267.9 L632.8 268.0 L633.5 268.0 L634.2 268.1 L635.0 268.1 L635.9 268.1 L636.8 268.2 L637.7 268.2 L638.7 268.3 L639.6 268.3 L640.4 268.4 L641.1 268.5 L641.6 268.5 L641.6 278.7 L641.1 278.7 L640.4 278.6 L639.6 278.5 L638.7 278.5 L637.7 278.4 L636.8 278.4 L635.9 278.3 L635.0 278.3 L634.2 278.3 L633.5 278.2 L632.8 278.2 L632.0 278.1 L631.3 278.2 L630.5 278.2 L629.7 278.4 L628.8 278.7 L627.8 279.1 L626.8 279.7 L625.6 280.3 L624.5 281.0 L623.3 281.8 L622.2 282.5 L621.1 283.2 L620.0 283.9 L619.0 284.5 L618.1 285.1 L617.2 285.6 L616.3 286.1 L615.4 286.7 L614.4 287.4 L613.4 288.1 L612.2 289.1 L610.9 290.2 L609.4 291.6 L607.8 293.1 L606.1 294.6 L604.5 296.2 L602.9 297.8 L601.4 299.2 L600.0 300.4 L598.8 301.6 L597.7 302.7 L596.7 303.8 L595.8 304.9 L594.8 305.8 L593.9 306.5 L592.9 307.1 L591.8 307.3 L590.6 307.2 L589.4 306.8 L588.2 306.2 L586.9 305.3 L585.6 304.4 L584.4 303.5 L583.2 302.6 L582.0 301.9 L580.9 301.2 L579.8 300.6 L578.7 299.9 L577.6 299.3 L576.6 298.6 L575.7 298.0 L574.7 297.3 L573.9 296.5 L573.1 295.8 L572.4 295.0 L571.8 294.2 L571.2 293.3 L570.6 292.5 L570.1 291.6 L569.5 290.7 L569.0 289.8 L568.5 288.8 L568.0 287.9 L567.5 287.0 L567.0 286.1 L566.5 285.1 L566.0 284.0 L565.5 282.9 L565.0 281.6 L564.4 280.2 L563.8 278.6 L563.2 277.0 L562.5 275.3 L561.8 273.5 L561.2 271.8 L560.6 270.1 L560.0 268.4 L559.5 266.8 L559.0 265.2 L558.5 263.7 L558.0 262.1 L557.5 260.6 L557.0 259.0 L556.5 257.4 L556.0 255.8 L555.4 254.1 L554.8 252.2 L554.2 250.4 L553.5 248.5 L552.9 246.7 L552.2 245.0 L551.6 243.5 L551.0 242.2 L550.4 241.2 L549.9 240.3 L549.4 239.5 L548.8 238.9 L548.3 238.4 L547.8 238.2 L547.2 238.1 L546.5 238.2 L545.8 238.6 L545.0 239.2 L544.1 239.9 L543.3 240.8 L542.4 241.9 L541.6 243.2 L540.8 244.6 L540.0 246.1 L539.3 247.8 L538.6 249.8 L538.0 252.0 L537.4 254.2 L536.8 256.6 L536.2 259.0 L535.6 261.3 L535.0 263.6 L534.4 265.8 L533.8 268.0 L533.2 270.2 L532.6 272.5 L531.9 274.7 L531.3 276.8 L530.7 278.8 L530.0 280.7 L529.3 282.5 L528.6 284.1 L527.8 285.7 L527.0 287.2 L526.2 288.6 L525.5 290.0 L524.7 291.3 L524.0 292.7 L523.3 294.0 L522.7 295.4 L522.0 296.7 L521.4 298.0 L520.8 299.2 L520.2 300.4 L519.5 301.4 L518.8 302.4 L518.1 303.2 L517.3 303.9 L516.5 304.5 L515.7 305.1 L514.9 305.5 L514.0 305.9 L513.3 306.2 L512.5 306.3 L511.8 306.3 L511.1 306.1 L510.4 305.8 L509.7 305.4 L509.0 305.0 L508.4 304.5 L507.7 304.1 L507.0 303.8 L506.3 303.6 L505.7 303.3 L505.0 303.0 L504.4 302.8 L503.7 302.6 L503.0 302.4 L502.3 302.2 L501.5 302.0 L500.6 301.8 L499.7 301.7 L498.8 301.6 L497.8 301.5 L496.8 301.4 L495.8 301.3 L494.8 301.1 L493.9 300.9 L493.0 300.6 L492.1 300.3 L491.3 300.0 L490.4 299.7 L489.6 299.3 L488.7 298.9 L487.9 298.4 L487.0 298.0 L486.1 297.5 L485.3 297.0 L484.4 296.4 L483.5 295.8 L482.6 295.2 L481.8 294.6 L480.9 294.1 L480.0 293.6 L479.1 293.2 L478.2 292.8 L477.3 292.5 L476.4 292.2 L475.6 291.9 L474.7 291.6 L473.8 291.4 L473.0 291.3 L472.2 291.2 L471.4 291.2 L470.7 291.2 L469.9 291.3 L469.2 291.4 L468.5 291.5 L467.7 291.6 L467.0 291.7 L466.3 291.8 L465.6 291.8 L465.0 291.9 L464.3 291.9 L463.6 292.1 L462.9 292.3 L462.0 292.6 L461.0 293.0 L459.8 293.7 L458.5 294.5 L457.1 295.5 L455.7 296.5 L454.2 297.5 L452.7 298.6 L451.3 299.6 L450.0 300.4 L448.8 301.3 L447.7 302.1 L446.6 303.0 L445.5 303.9 L444.5 304.6 L443.5 305.2 L442.4 305.7 L441.3 305.8 L440.2 305.6 L439.0 305.2 L437.8 304.5 L436.6 303.6 L435.4 302.7 L434.2 301.9 L433.1 301.1 L432.0 300.4 L431.0 299.9 L430.1 299.3 L429.3 298.7 L428.4 298.2 L427.6 297.7 L426.8 297.4 L425.9 297.1 L424.9 297.0 L423.9 297.1 L422.8 297.4 L421.6 297.8 L420.5 298.3 L419.3 298.9 L418.2 299.5 L417.1 300.0 L416.0 300.4 L415.0 300.8 L414.0 301.2 L413.0 301.6 L412.1 302.0 L411.2 302.4 L410.3 302.7 L409.4 302.9 L408.5 303.0 L407.6 303.0 L406.8 302.9 L405.9 302.8 L405.1 302.5 L404.3 302.3 L403.5 302.0 L402.7 301.7 L402.0 301.4 L401.3 301.1 L400.5 300.7 L399.8 300.4 L399.1 300.0 L398.4 299.6 L397.9 299.3 L397.4 299.0 L397.0 298.8 Z" fill="#c9e6c9" fill-opacity="1.00"/><path d="M397.0 294.3 L397.4 294.5 L397.9 294.8 L398.4 295.2 L399.1 295.5 L399.8 295.9 L400.5 296.3 L401.3 296.7 L402.0 297.0 L402.7 297.3 L403.5 297.6 L404.3 297.9 L405.1 298.2 L405.9 298.4 L406.8 298.6 L407.6 298.7 L408.5 298.7 L409.4 298.6 L410.3 298.4 L411.2 298.0 L412.1 297.7 L413.0 297.3 L414.0 296.8 L415.0 296.4 L416.0 296.0 L417.1 295.6 L418.2 295.0 L419.3 294.4 L420.5 293.9 L421.6 293.3 L422.8 292.9 L423.9 292.6 L424.9 292.5 L425.9 292.6 L426.8 292.8 L427.6 293.2 L428.4 293.7 L429.3 294.2 L430.1 294.8 L431.0 295.4 L432.0 296.0 L433.1 296.7 L434.2 297.5 L435.4 298.4 L436.6 299.3 L437.8 300.2 L439.0 300.9 L440.2 301.3 L441.3 301.5 L442.4 301.4 L443.5 300.9 L444.5 300.3 L445.5 299.6 L446.6 298.7 L447.7 297.8 L448.8 296.9 L450.0 296.0 L451.3 295.1 L452.7 294.1 L454.2 293.0 L455.7 291.9 L457.1 290.9 L458.5 289.9 L459.8 289.1 L461.0 288.4 L462.0 287.9 L462.9 287.6 L463.6 287.4 L464.3 287.2 L465.0 287.2 L465.6 287.1 L466.3 287.1 L467.0 287.0 L467.7 286.9 L468.5 286.8 L469.2 286.7 L469.9 286.6 L470.7 286.5 L471.4 286.5 L472.2 286.5 L473.0 286.6 L473.8 286.8 L474.7 287.0 L475.6 287.2 L476.4 287.5 L477.3 287.8 L478.2 288.2 L479.1 288.6 L480.0 289.0 L480.9 289.5 L481.8 290.0 L482.6 290.6 L483.5 291.2 L484.4 291.8 L485.3 292.4 L486.1 293.0 L487.0 293.5 L487.9 294.0 L488.7 294.4 L489.6 294.8 L490.4 295.2 L491.3 295.6 L492.1 295.9 L493.0 296.2 L493.9 296.5 L494.8 296.7 L495.8 296.9 L496.8 297.0 L497.8 297.1 L498.8 297.2 L499.7 297.3 L500.6 297.4 L501.5 297.6 L502.3 297.8 L503.0 298.0 L503.7 298.2 L504.4 298.5 L505.0 298.7 L505.7 299.0 L506.3 299.2 L507.0 299.5 L507.7 299.8 L508.4 300.2 L509.0 300.7 L509.7 301.1 L510.4 301.5 L511.1 301.8 L511.8 302.0 L512.5 302.0 L513.3 301.9 L514.0 301.6 L514.9 301.2 L515.7 300.8 L516.5 300.2 L517.3 299.6 L518.1 298.8 L518.8 298.0 L519.5 297.1 L520.2 296.0 L520.8 294.8 L521.4 293.5 L522.0 292.2 L522.7 290.8 L523.3 289.4 L524.0 288.0 L524.7 286.6 L525.5 285.2 L526.2 283.8 L527.0 282.3 L527.8 280.8 L528.6 279.2 L529.3 277.5 L530.0 275.7 L530.7 273.7 L531.3 271.7 L531.9 269.5 L532.6 267.2 L533.2 264.9 L533.8 262.6 L534.4 260.3 L535.0 258.0 L535.6 255.7 L536.2 253.3 L536.8 250.8 L537.4 248.4 L538.0 246.0 L538.6 243.8 L539.3 241.8 L540.0 240.0 L540.8 238.4 L541.6 237.0 L542.4 235.7 L543.3 234.6 L544.1 233.6 L545.0 232.8 L545.8 232.3 L546.5 231.9 L547.2 231.8 L547.8 231.8 L548.3 232.1 L548.8 232.6 L549.4 233.2 L549.9 234.0 L550.4 234.9 L551.0 236.0 L551.6 237.3 L552.2 238.8 L552.9 240.6 L553.5 242.4 L554.2 244.4 L554.8 246.3 L555.4 248.2 L556.0 250.0 L556.5 251.7 L557.0 253.3 L557.5 254.9 L558.0 256.5 L558.5 258.1 L559.0 259.7 L559.5 261.4 L560.0 263.0 L560.6 264.7 L561.2 266.5 L561.8 268.3 L562.5 270.1 L563.2 271.9 L563.8 273.6 L564.4 275.1 L565.0 276.6 L565.5 277.9 L566.0 279.1 L566.5 280.2 L567.0 281.2 L567.5 282.2 L568.0 283.1 L568.5 284.1 L569.0 285.0 L569.5 286.0 L570.1 286.9 L570.6 287.8 L571.2 288.7 L571.8 289.5 L572.4 290.4 L573.1 291.2 L573.9 292.0 L574.7 292.8 L575.7 293.5 L576.6 294.2 L577.6 294.8 L578.7 295.5 L579.8 296.2 L580.9 296.8 L582.0 297.5 L583.2 298.3 L584.4 299.2 L585.6 300.1 L586.9 301.0 L588.2 301.9 L589.4 302.5 L590.6 302.9 L591.8 303.0 L592.9 302.8 L593.9 302.2 L594.8 301.5 L595.8 300.6 L596.7 299.5 L597.7 298.4 L598.8 297.2 L600.0 296.0 L601.4 294.7 L602.9 293.3 L604.5 291.7 L606.1 290.0 L607.8 288.4 L609.4 286.9 L610.9 285.5 L612.2 284.3 L613.4 283.3 L614.4 282.5 L615.4 281.8 L616.3 281.3 L617.2 280.7 L618.1 280.2 L619.0 279.6 L620.0 279.0 L621.1 278.3 L622.2 277.5 L623.3 276.8 L624.5 276.0 L625.6 275.3 L626.8 274.6 L627.8 274.0 L628.8 273.6 L629.7 273.3 L630.5 273.1 L631.3 273.0 L632.0 273.0 L632.8 273.1 L633.5 273.1 L634.2 273.2 L635.0 273.2 L635.9 273.2 L636.8 273.3 L637.7 273.3 L638.7 273.4 L639.6 273.4 L640.4 273.5 L641.1 273.6 L641.6 273.6" fill="none" stroke="#c9e6c9" stroke-opacity="1.00" stroke-width="4.40" stroke-linejoin="round"/><path d="M397.0 294.3 L397.4 294.5 L397.9 294.8 L398.4 295.2 L399.1 295.5 L399.8 295.9 L400.5 296.3 L401.3 296.7 L402.0 297.0 L402.7 297.3 L403.5 297.6 L404.3 297.9 L405.1 298.2 L405.9 298.4 L406.8 298.6 L407.6 298.7 L408.5 298.7 L409.4 298.6 L410.3 298.4 L411.2 298.0 L412.1 297.7 L413.0 297.3 L414.0 296.8 L415.0 296.4 L416.0 296.0 L417.1 295.6 L418.2 295.0 L419.3 294.4 L420.5 293.9 L421.6 293.3 L422.8 292.9 L423.9 292.6 L424.9 292.5 L425.9 292.6 L426.8 292.8 L427.6 293.2 L428.4 293.7 L429.3 294.2 L430.1 294.8 L431.0 295.4 L432.0 296.0 L433.1 296.7 L434.2 297.5 L435.4 298.4 L436.6 299.3 L437.8 300.2 L439.0 300.9 L440.2 301.3 L441.3 301.5 L442.4 301.4 L443.5 300.9 L444.5 300.3 L445.5 299.6 L446.6 298.7 L447.7 297.8 L448.8 296.9 L450.0 296.0 L451.3 295.1 L452.7 294.1 L454.2 293.0 L455.7 291.9 L457.1 290.9 L458.5 289.9 L459.8 289.1 L461.0 288.4 L462.0 287.9 L462.9 287.6 L463.6 287.4 L464.3 287.2 L465.0 287.2 L465.6 287.1 L466.3 287.1 L467.0 287.0 L467.7 286.9 L468.5 286.8 L469.2 286.7 L469.9 286.6 L470.7 286.5 L471.4 286.5 L472.2 286.5 L473.0 286.6 L473.8 286.8 L474.7 287.0 L475.6 287.2 L476.4 287.5 L477.3 287.8 L478.2 288.2 L479.1 288.6 L480.0 289.0 L480.9 289.5 L481.8 290.0 L482.6 290.6 L483.5 291.2 L484.4 291.8 L485.3 292.4 L486.1 293.0 L487.0 293.5 L487.9 294.0 L488.7 294.4 L489.6 294.8 L490.4 295.2 L491.3 295.6 L492.1 295.9 L493.0 296.2 L493.9 296.5 L494.8 296.7 L495.8 296.9 L496.8 297.0 L497.8 297.1 L498.8 297.2 L499.7 297.3 L500.6 297.4 L501.5 297.6 L502.3 297.8 L503.0 298.0 L503.7 298.2 L504.4 298.5 L505.0 298.7 L505.7 299.0 L506.3 299.2 L507.0 299.5 L507.7 299.8 L508.4 300.2 L509.0 300.7 L509.7 301.1 L510.4 301.5 L511.1 301.8 L511.8 302.0 L512.5 302.0 L513.3 301.9 L514.0 301.6 L514.9 301.2 L515.7 300.8 L516.5 300.2 L517.3 299.6 L518.1 298.8 L518.8 298.0 L519.5 297.1 L520.2 296.0 L520.8 294.8 L521.4 293.5 L522.0 292.2 L522.7 290.8 L523.3 289.4 L524.0 288.0 L524.7 286.6 L525.5 285.2 L526.2 283.8 L527.0 282.3 L527.8 280.8 L528.6 279.2 L529.3 277.5 L530.0 275.7 L530.7 273.7 L531.3 271.7 L531.9 269.5 L532.6 267.2 L533.2 264.9 L533.8 262.6 L534.4 260.3 L535.0 258.0 L535.6 255.7 L536.2 253.3 L536.8 250.8 L537.4 248.4 L538.0 246.0 L538.6 243.8 L539.3 241.8 L540.0 240.0 L540.8 238.4 L541.6 237.0 L542.4 235.7 L543.3 234.6 L544.1 233.6 L545.0 232.8 L545.8 232.3 L546.5 231.9 L547.2 231.8 L547.8 231.8 L548.3 232.1 L548.8 232.6 L549.4 233.2 L549.9 234.0 L550.4 234.9 L551.0 236.0 L551.6 237.3 L552.2 238.8 L552.9 240.6 L553.5 242.4 L554.2 244.4 L554.8 246.3 L555.4 248.2 L556.0 250.0 L556.5 251.7 L557.0 253.3 L557.5 254.9 L558.0 256.5 L558.5 258.1 L559.0 259.7 L559.5 261.4 L560.0 263.0 L560.6 264.7 L561.2 266.5 L561.8 268.3 L562.5 270.1 L563.2 271.9 L563.8 273.6 L564.4 275.1 L565.0 276.6 L565.5 277.9 L566.0 279.1 L566.5 280.2 L567.0 281.2 L567.5 282.2 L568.0 283.1 L568.5 284.1 L569.0 285.0 L569.5 286.0 L570.1 286.9 L570.6 287.8 L571.2 288.7 L571.8 289.5 L572.4 290.4 L573.1 291.2 L573.9 292.0 L574.7 292.8 L575.7 293.5 L576.6 294.2 L577.6 294.8 L578.7 295.5 L579.8 296.2 L580.9 296.8 L582.0 297.5 L583.2 298.3 L584.4 299.2 L585.6 300.1 L586.9 301.0 L588.2 301.9 L589.4 302.5 L590.6 302.9 L591.8 303.0 L592.9 302.8 L593.9 302.2 L594.8 301.5 L595.8 300.6 L596.7 299.5 L597.7 298.4 L598.8 297.2 L600.0 296.0 L601.4 294.7 L602.9 293.3 L604.5 291.7 L606.1 290.0 L607.8 288.4 L609.4 286.9 L610.9 285.5 L612.2 284.3 L613.4 283.3 L614.4 282.5 L615.4 281.8 L616.3 281.3 L617.2 280.7 L618.1 280.2 L619.0 279.6 L620.0 279.0 L621.1 278.3 L622.2 277.5 L623.3 276.8 L624.5 276.0 L625.6 275.3 L626.8 274.6 L627.8 274.0 L628.8 273.6 L629.7 273.3 L630.5 273.1 L631.3 273.0 L632.0 273.0 L632.8 273.1 L633.5 273.1 L634.2 273.2 L635.0 273.2 L635.9 273.2 L636.8 273.3 L637.7 273.3 L638.7 273.4 L639.6 273.4 L640.4 273.5 L641.1 273.6 L641.6 273.6" fill="none" stroke="#0e8a0e" stroke-width="1.70" stroke-linejoin="round" stroke-linecap="round"/><text x="345.1" y="171.8" font-size="16.50" text-anchor="start" fill="#000" font-weight="bold">d</text><line x1="39.7" y1="605.0" x2="39.7" y2="674.6" stroke="#555" stroke-width="1.00" /><line x1="39.7" y1="674.6" x2="42.0" y2="674.6" stroke="#555" stroke-width="0.80" /><text x="37.0" y="677.7" font-size="8.70" text-anchor="end" fill="#262626" >0</text><line x1="39.7" y1="641.0" x2="42.0" y2="641.0" stroke="#555" stroke-width="0.80" /><text x="37.0" y="644.1" font-size="8.70" text-anchor="end" fill="#262626" >10</text><line x1="39.7" y1="607.4" x2="42.0" y2="607.4" stroke="#555" stroke-width="0.80" /><text x="37.0" y="610.5" font-size="8.70" text-anchor="end" fill="#262626" >20</text><line x1="49.3" y1="674.6" x2="293.4" y2="674.6" stroke="#888" stroke-width="1.00" /><line x1="62.1" y1="674.6" x2="62.1" y2="672.6" stroke="#777" stroke-width="0.70" /><text x="62.1" y="686.6" font-size="8.70" text-anchor="middle" fill="#262626" >-0.4</text><line x1="87.8" y1="674.6" x2="87.8" y2="672.6" stroke="#777" stroke-width="0.70" /><text x="87.8" y="686.6" font-size="8.70" text-anchor="middle" fill="#262626" >-0.3</text><line x1="113.5" y1="674.6" x2="113.5" y2="672.6" stroke="#777" stroke-width="0.70" /><text x="113.5" y="686.6" font-size="8.70" text-anchor="middle" fill="#262626" >-0.2</text><line x1="139.2" y1="674.6" x2="139.2" y2="672.6" stroke="#777" stroke-width="0.70" /><text x="139.2" y="686.6" font-size="8.70" text-anchor="middle" fill="#262626" >-0.1</text><line x1="164.9" y1="674.6" x2="164.9" y2="672.6" stroke="#777" stroke-width="0.70" /><text x="164.9" y="686.6" font-size="8.70" text-anchor="middle" fill="#262626" >0</text><line x1="190.6" y1="674.6" x2="190.6" y2="672.6" stroke="#777" stroke-width="0.70" /><text x="190.6" y="686.6" font-size="8.70" text-anchor="middle" fill="#262626" >0.1</text><line x1="216.3" y1="674.6" x2="216.3" y2="672.6" stroke="#777" stroke-width="0.70" /><text x="216.3" y="686.6" font-size="8.70" text-anchor="middle" fill="#262626" >0.2</text><line x1="242.0" y1="674.6" x2="242.0" y2="672.6" stroke="#777" stroke-width="0.70" /><text x="242.0" y="686.6" font-size="8.70" text-anchor="middle" fill="#262626" >0.3</text><line x1="267.7" y1="674.6" x2="267.7" y2="672.6" stroke="#777" stroke-width="0.70" /><text x="267.7" y="686.6" font-size="8.70" text-anchor="middle" fill="#262626" >0.4</text><rect x="62.14" y="670.00" width="12.84" height="4.60" fill="#ff4848" stroke="#3a3a3a" stroke-width="0.6"/><rect x="100.68" y="670.00" width="12.84" height="4.60" fill="#ff4848" stroke="#3a3a3a" stroke-width="0.6"/><rect x="113.52" y="646.98" width="12.84" height="27.62" fill="#bfbfbf" stroke="#3a3a3a" stroke-width="0.6"/><rect x="113.52" y="660.79" width="12.84" height="13.81" fill="#ff4848" stroke="#3a3a3a" stroke-width="0.6"/><rect x="126.37" y="633.17" width="12.84" height="41.43" fill="#bfbfbf" stroke="#3a3a3a" stroke-width="0.6"/><rect x="139.21" y="651.58" width="12.84" height="23.02" fill="#bfbfbf" stroke="#3a3a3a" stroke-width="0.6"/><rect x="152.06" y="623.96" width="12.84" height="50.64" fill="#bfbfbf" stroke="#3a3a3a" stroke-width="0.6"/><rect x="164.90" y="619.36" width="12.84" height="55.24" fill="#bfbfbf" stroke="#3a3a3a" stroke-width="0.6"/><rect x="177.75" y="642.38" width="12.84" height="32.22" fill="#bfbfbf" stroke="#3a3a3a" stroke-width="0.6"/><rect x="190.59" y="637.77" width="12.84" height="36.83" fill="#bfbfbf" stroke="#3a3a3a" stroke-width="0.6"/><rect x="203.44" y="651.58" width="12.84" height="23.02" fill="#bfbfbf" stroke="#3a3a3a" stroke-width="0.6"/><rect x="203.44" y="656.19" width="12.84" height="18.41" fill="#ff4848" stroke="#3a3a3a" stroke-width="0.6"/><rect x="216.28" y="656.19" width="12.84" height="18.41" fill="#ff4848" stroke="#3a3a3a" stroke-width="0.6"/><rect x="229.12" y="670.00" width="12.84" height="4.60" fill="#ff4848" stroke="#3a3a3a" stroke-width="0.6"/><rect x="241.97" y="660.79" width="12.84" height="13.81" fill="#ff4848" stroke="#3a3a3a" stroke-width="0.6"/><text transform="translate(12.3 640.6) rotate(-90)" font-size="8.70" text-anchor="middle" fill="#262626">Proportion</text><text transform="translate(24.4 640.6) rotate(-90)" font-size="8.70" text-anchor="middle" fill="#262626">of cells (%)</text><text x="289.0" y="609.0" font-size="11.70" text-anchor="end" fill="#ff0000" >PPC</text><text x="289.0" y="621.2" font-size="11.70" text-anchor="end" fill="#ff0000" >N=73</text><line x1="39.7" y1="702.0" x2="39.7" y2="771.2" stroke="#555" stroke-width="1.00" /><line x1="39.7" y1="771.2" x2="42.0" y2="771.2" stroke="#555" stroke-width="0.80" /><text x="37.0" y="774.3" font-size="8.70" text-anchor="end" fill="#262626" >0</text><line x1="39.7" y1="738.1" x2="42.0" y2="738.1" stroke="#555" stroke-width="0.80" /><text x="37.0" y="741.2" font-size="8.70" text-anchor="end" fill="#262626" >10</text><line x1="39.7" y1="704.9" x2="42.0" y2="704.9" stroke="#555" stroke-width="0.80" /><text x="37.0" y="708.0" font-size="8.70" text-anchor="end" fill="#262626" >20</text><line x1="49.3" y1="771.2" x2="293.4" y2="771.2" stroke="#888" stroke-width="1.00" /><line x1="62.1" y1="771.2" x2="62.1" y2="769.2" stroke="#777" stroke-width="0.70" /><text x="62.1" y="783.2" font-size="8.70" text-anchor="middle" fill="#262626" >-0.4</text><line x1="87.8" y1="771.2" x2="87.8" y2="769.2" stroke="#777" stroke-width="0.70" /><text x="87.8" y="783.2" font-size="8.70" text-anchor="middle" fill="#262626" >-0.3</text><line x1="113.5" y1="771.2" x2="113.5" y2="769.2" stroke="#777" stroke-width="0.70" /><text x="113.5" y="783.2" font-size="8.70" text-anchor="middle" fill="#262626" >-0.2</text><line x1="139.2" y1="771.2" x2="139.2" y2="769.2" stroke="#777" stroke-width="0.70" /><text x="139.2" y="783.2" font-size="8.70" text-anchor="middle" fill="#262626" >-0.1</text><line x1="164.9" y1="771.2" x2="164.9" y2="769.2" stroke="#777" stroke-width="0.70" /><text x="164.9" y="783.2" font-size="8.70" text-anchor="middle" fill="#262626" >0</text><line x1="190.6" y1="771.2" x2="190.6" y2="769.2" stroke="#777" stroke-width="0.70" /><text x="190.6" y="783.2" font-size="8.70" text-anchor="middle" fill="#262626" >0.1</text><line x1="216.3" y1="771.2" x2="216.3" y2="769.2" stroke="#777" stroke-width="0.70" /><text x="216.3" y="783.2" font-size="8.70" text-anchor="middle" fill="#262626" >0.2</text><line x1="242.0" y1="771.2" x2="242.0" y2="769.2" stroke="#777" stroke-width="0.70" /><text x="242.0" y="783.2" font-size="8.70" text-anchor="middle" fill="#262626" >0.3</text><line x1="267.7" y1="771.2" x2="267.7" y2="769.2" stroke="#777" stroke-width="0.70" /><text x="267.7" y="783.2" font-size="8.70" text-anchor="middle" fill="#262626" >0.4</text><rect x="74.99" y="763.91" width="12.84" height="7.29" fill="#45aa45" stroke="#3a3a3a" stroke-width="0.6"/><rect x="87.83" y="756.28" width="12.84" height="14.92" fill="#45aa45" stroke="#3a3a3a" stroke-width="0.6"/><rect x="100.68" y="763.91" width="12.84" height="7.29" fill="#45aa45" stroke="#3a3a3a" stroke-width="0.6"/><rect x="113.52" y="741.37" width="12.84" height="29.84" fill="#45aa45" stroke="#3a3a3a" stroke-width="0.6"/><rect x="126.37" y="733.74" width="12.84" height="37.46" fill="#bfbfbf" stroke="#3a3a3a" stroke-width="0.6"/><rect x="139.21" y="756.28" width="12.84" height="14.92" fill="#bfbfbf" stroke="#3a3a3a" stroke-width="0.6"/><rect x="152.06" y="702.25" width="12.84" height="68.95" fill="#bfbfbf" stroke="#3a3a3a" stroke-width="0.6"/><rect x="164.90" y="725.45" width="12.84" height="45.75" fill="#bfbfbf" stroke="#3a3a3a" stroke-width="0.6"/><rect x="177.75" y="725.45" width="12.84" height="45.75" fill="#bfbfbf" stroke="#3a3a3a" stroke-width="0.6"/><rect x="190.59" y="748.33" width="12.84" height="22.87" fill="#bfbfbf" stroke="#3a3a3a" stroke-width="0.6"/><rect x="203.44" y="748.33" width="12.84" height="22.87" fill="#45aa45" stroke="#3a3a3a" stroke-width="0.6"/><rect x="229.12" y="756.28" width="12.84" height="14.92" fill="#45aa45" stroke="#3a3a3a" stroke-width="0.6"/><text transform="translate(12.3 737.2) rotate(-90)" font-size="8.70" text-anchor="middle" fill="#262626">Proportion</text><text transform="translate(24.4 737.2) rotate(-90)" font-size="8.70" text-anchor="middle" fill="#262626">of cells (%)</text><text x="289.0" y="706.1" font-size="11.70" text-anchor="end" fill="#1f9a1f" >HPC</text><text x="289.0" y="718.0" font-size="11.70" text-anchor="end" fill="#1f9a1f" >N=45</text><text x="162.5" y="794.6" font-size="8.70" text-anchor="middle" fill="#262626" >Correlation coefficients (<tspan font-style="italic">r</tspan>)</text><text x="-0.5" y="588.5" font-size="16.50" text-anchor="start" fill="#000" font-weight="bold">g</text><rect x="469.5" y="608" width="99.2" height="157.4" fill="#e8eefc"/><line x1="512.2" y1="608.0" x2="512.2" y2="765.0" stroke="#555" stroke-width="1.50" stroke-dasharray="2.6 2.6"/><line x1="531.5" y1="608.0" x2="531.5" y2="765.0" stroke="#333" stroke-width="1.00" /><line x1="383.4" y1="608.0" x2="383.4" y2="765.4" stroke="#ff0000" stroke-width="1.10" /><line x1="383.4" y1="751.5" x2="386.0" y2="751.5" stroke="#ff0000" stroke-width="1.00" /><text x="379.8" y="754.6" font-size="8.70" text-anchor="end" fill="#ff0000" >10</text><line x1="383.4" y1="720.7" x2="386.0" y2="720.7" stroke="#ff0000" stroke-width="1.00" /><text x="379.8" y="723.8" font-size="8.70" text-anchor="end" fill="#ff0000" >20</text><line x1="383.4" y1="689.9" x2="386.0" y2="689.9" stroke="#ff0000" stroke-width="1.00" /><text x="379.8" y="693.0" font-size="8.70" text-anchor="end" fill="#ff0000" >30</text><line x1="383.4" y1="659.1" x2="386.0" y2="659.1" stroke="#ff0000" stroke-width="1.00" /><text x="379.8" y="662.2" font-size="8.70" text-anchor="end" fill="#ff0000" >40</text><line x1="383.4" y1="628.3" x2="386.0" y2="628.3" stroke="#ff0000" stroke-width="1.00" /><text x="379.8" y="631.4" font-size="8.70" text-anchor="end" fill="#ff0000" >50</text><text transform="translate(365.0 694.5) rotate(-90)" font-size="8.70" text-anchor="middle" fill="#ff0000">Firing rate (spike/s)</text><line x1="383.4" y1="765.4" x2="680.3" y2="765.4" stroke="#888" stroke-width="1.00" /><line x1="382.7" y1="765.4" x2="382.7" y2="763.0" stroke="#777" stroke-width="0.70" /><text x="382.7" y="779.0" font-size="8.70" text-anchor="middle" fill="#262626" >-0.6</text><line x1="407.5" y1="765.4" x2="407.5" y2="763.0" stroke="#777" stroke-width="0.70" /><text x="407.5" y="779.0" font-size="8.70" text-anchor="middle" fill="#262626" >-0.5</text><line x1="432.3" y1="765.4" x2="432.3" y2="763.0" stroke="#777" stroke-width="0.70" /><text x="432.3" y="779.0" font-size="8.70" text-anchor="middle" fill="#262626" >-0.4</text><line x1="457.1" y1="765.4" x2="457.1" y2="763.0" stroke="#777" stroke-width="0.70" /><text x="457.1" y="779.0" font-size="8.70" text-anchor="middle" fill="#262626" >-0.3</text><line x1="481.9" y1="765.4" x2="481.9" y2="763.0" stroke="#777" stroke-width="0.70" /><text x="481.9" y="779.0" font-size="8.70" text-anchor="middle" fill="#262626" >-0.2</text><line x1="506.7" y1="765.4" x2="506.7" y2="763.0" stroke="#777" stroke-width="0.70" /><text x="506.7" y="779.0" font-size="8.70" text-anchor="middle" fill="#262626" >-0.1</text><line x1="531.5" y1="765.4" x2="531.5" y2="763.0" stroke="#777" stroke-width="0.70" /><text x="531.5" y="779.0" font-size="8.70" text-anchor="middle" fill="#262626" >0</text><line x1="556.3" y1="765.4" x2="556.3" y2="763.0" stroke="#777" stroke-width="0.70" /><text x="556.3" y="779.0" font-size="8.70" text-anchor="middle" fill="#262626" >0.1</text><line x1="581.1" y1="765.4" x2="581.1" y2="763.0" stroke="#777" stroke-width="0.70" /><text x="581.1" y="779.0" font-size="8.70" text-anchor="middle" fill="#262626" >0.2</text><line x1="605.9" y1="765.4" x2="605.9" y2="763.0" stroke="#777" stroke-width="0.70" /><text x="605.9" y="779.0" font-size="8.70" text-anchor="middle" fill="#262626" >0.3</text><line x1="630.7" y1="765.4" x2="630.7" y2="763.0" stroke="#777" stroke-width="0.70" /><text x="630.7" y="779.0" font-size="8.70" text-anchor="middle" fill="#262626" >0.4</text><line x1="655.5" y1="765.4" x2="655.5" y2="763.0" stroke="#777" stroke-width="0.70" /><text x="655.5" y="779.0" font-size="8.70" text-anchor="middle" fill="#262626" >0.5</text><line x1="680.3" y1="765.4" x2="680.3" y2="763.0" stroke="#777" stroke-width="0.70" /><text x="680.3" y="779.0" font-size="8.70" text-anchor="middle" fill="#262626" >0.6</text><text x="521.5" y="791.2" font-size="8.70" text-anchor="middle" fill="#262626" >Time aligned on sacc. ends (s)</text><path d="M395.2 747.9 L395.7 747.8 L396.4 747.6 L397.2 747.4 L398.1 747.2 L399.0 747.0 L400.0 746.8 L401.0 746.7 L402.0 746.5 L403.0 746.4 L404.0 746.2 L405.1 746.1 L406.2 745.9 L407.2 745.8 L408.3 745.8 L409.4 745.7 L410.4 745.8 L411.4 745.9 L412.4 746.1 L413.3 746.4 L414.3 746.7 L415.2 747.0 L416.2 747.3 L417.1 747.7 L418.0 748.0 L418.9 748.3 L419.8 748.7 L420.7 749.1 L421.6 749.5 L422.5 749.9 L423.4 750.3 L424.2 750.6 L425.0 750.8 L425.7 751.0 L426.4 751.1 L427.0 751.2 L427.5 751.3 L428.1 751.3 L428.8 751.3 L429.4 751.2 L430.2 751.1 L431.0 750.9 L431.9 750.7 L432.9 750.4 L433.9 750.0 L434.9 749.6 L435.9 749.1 L436.9 748.6 L438.0 748.0 L439.1 747.3 L440.1 746.5 L441.2 745.6 L442.4 744.7 L443.5 743.8 L444.6 742.8 L445.8 741.9 L447.0 741.0 L448.2 740.2 L449.4 739.3 L450.7 738.5 L451.9 737.7 L453.2 736.8 L454.5 736.0 L455.8 735.2 L457.1 734.3 L458.4 733.4 L459.7 732.5 L461.1 731.6 L462.4 730.6 L463.8 729.7 L465.2 728.8 L466.6 727.9 L468.0 727.0 L469.5 726.1 L471.1 725.1 L472.8 724.0 L474.4 723.0 L476.0 722.1 L477.6 721.3 L479.1 720.7 L480.4 720.3 L481.6 720.2 L482.6 720.3 L483.5 720.6 L484.4 721.0 L485.3 721.6 L486.1 722.2 L487.0 722.8 L488.0 723.5 L489.1 724.2 L490.2 725.1 L491.3 726.1 L492.4 727.1 L493.6 728.1 L494.7 729.1 L495.8 730.0 L496.8 730.8 L497.8 731.5 L498.7 732.2 L499.6 732.8 L500.5 733.4 L501.3 734.0 L502.2 734.5 L503.1 735.0 L504.0 735.5 L505.0 736.0 L505.9 736.5 L506.9 736.9 L507.9 737.4 L509.0 737.7 L510.0 738.0 L511.0 738.2 L512.0 738.3 L513.0 738.2 L514.0 738.1 L515.0 737.8 L516.0 737.4 L517.0 737.0 L518.0 736.6 L519.0 736.0 L520.0 735.5 L521.0 734.9 L522.0 734.2 L523.1 733.4 L524.1 732.6 L525.1 731.8 L526.1 731.0 L527.1 730.2 L528.0 729.5 L528.8 728.8 L529.6 728.1 L530.4 727.4 L531.1 726.8 L531.8 726.1 L532.5 725.6 L533.3 725.0 L534.0 724.5 L534.8 724.0 L535.5 723.6 L536.2 723.2 L537.0 722.8 L537.8 722.5 L538.5 722.3 L539.2 722.1 L540.0 722.0 L540.8 722.0 L541.5 722.1 L542.2 722.2 L543.0 722.5 L543.8 722.7 L544.5 723.1 L545.2 723.4 L546.0 723.8 L546.8 724.2 L547.5 724.7 L548.2 725.3 L549.0 725.8 L549.8 726.4 L550.5 727.0 L551.2 727.6 L552.0 728.2 L552.7 728.7 L553.4 729.2 L554.0 729.7 L554.7 730.2 L555.4 730.8 L556.1 731.4 L557.0 732.0 L558.0 732.8 L559.1 733.7 L560.4 734.7 L561.7 735.8 L563.1 736.9 L564.6 738.1 L566.1 739.2 L567.6 740.3 L569.0 741.3 L570.4 742.3 L571.8 743.2 L573.1 744.1 L574.5 745.0 L575.9 745.9 L577.4 746.7 L579.0 747.5 L580.7 748.3 L582.5 749.0 L584.4 749.7 L586.3 750.4 L588.3 751.0 L590.4 751.6 L592.6 752.1 L594.8 752.6 L597.1 753.0 L599.5 753.4 L602.1 753.7 L604.7 754.0 L607.5 754.2 L610.2 754.4 L612.9 754.5 L615.6 754.6 L618.1 754.6 L620.6 754.6 L623.0 754.5 L625.4 754.3 L627.7 754.1 L630.1 753.9 L632.3 753.6 L634.6 753.3 L636.8 753.0 L639.0 752.6 L641.1 752.2 L643.2 751.8 L645.2 751.3 L647.3 750.8 L649.2 750.4 L651.2 749.9 L653.1 749.5 L655.1 749.1 L657.1 748.7 L659.2 748.3 L661.2 747.9 L663.0 747.5 L664.7 747.2 L666.1 746.9 L667.2 746.7" fill="none" stroke="#c8c8c8" stroke-opacity="0.80" stroke-width="8.00" stroke-linejoin="round" stroke-linecap="butt"/><path d="M395.2 713.8 L395.9 714.5 L396.9 715.5 L398.0 716.6 L399.3 717.9 L400.7 719.2 L402.1 720.6 L403.6 721.9 L405.0 723.0 L406.4 724.1 L408.0 725.3 L409.5 726.4 L411.2 727.6 L412.8 728.6 L414.4 729.5 L415.9 730.3 L417.4 730.8 L418.8 731.1 L420.1 731.1 L421.4 731.0 L422.7 730.8 L424.0 730.5 L425.2 730.1 L426.6 729.8 L428.0 729.5 L429.5 729.3 L431.1 729.0 L432.8 728.7 L434.4 728.5 L436.1 728.2 L437.7 727.9 L439.3 727.6 L440.7 727.3 L442.0 727.0 L443.2 726.7 L444.3 726.4 L445.4 726.2 L446.5 725.9 L447.6 725.6 L448.7 725.3 L450.0 725.0 L451.3 724.7 L452.7 724.4 L454.0 724.1 L455.5 723.8 L456.9 723.5 L458.5 723.2 L460.1 722.9 L461.8 722.6 L463.7 722.3 L465.7 721.9 L467.9 721.6 L470.1 721.3 L472.3 720.9 L474.4 720.7 L476.3 720.4 L478.1 720.3 L479.7 720.2 L481.1 720.2 L482.3 720.3 L483.5 720.4 L484.6 720.5 L485.8 720.7 L486.9 720.8 L488.0 721.0 L489.2 721.1 L490.3 721.3 L491.4 721.5 L492.5 721.7 L493.6 721.9 L494.7 722.1 L495.7 722.3 L496.8 722.6 L497.9 722.9 L498.9 723.2 L499.9 723.6 L500.9 723.9 L502.0 724.3 L503.0 724.7 L504.0 725.1 L505.0 725.5 L506.0 726.0 L507.1 726.5 L508.1 727.1 L509.1 727.7 L510.2 728.2 L511.2 728.6 L512.1 728.9 L513.1 728.9 L514.0 728.8 L514.8 728.6 L515.6 728.2 L516.4 727.8 L517.2 727.1 L518.0 726.3 L518.9 725.3 L520.0 724.0 L521.2 722.3 L522.6 720.3 L524.2 718.0 L525.7 715.5 L527.3 712.9 L528.7 710.5 L530.1 708.2 L531.2 706.3 L532.1 704.7 L532.9 703.2 L533.5 701.8 L534.0 700.6 L534.5 699.5 L535.0 698.4 L535.5 697.5 L536.0 696.5 L536.6 695.6 L537.1 694.8 L537.7 694.0 L538.3 693.3 L538.8 692.7 L539.4 692.1 L539.9 691.6 L540.5 691.2 L541.1 690.9 L541.6 690.6 L542.2 690.4 L542.7 690.2 L543.3 690.2 L543.8 690.2 L544.4 690.3 L545.0 690.4 L545.6 690.6 L546.2 690.9 L546.8 691.3 L547.5 691.7 L548.1 692.3 L548.7 692.8 L549.4 693.4 L550.0 694.0 L550.6 694.6 L551.0 695.2 L551.5 695.8 L551.9 696.4 L552.5 697.1 L553.1 698.0 L553.9 699.1 L555.0 700.4 L556.3 702.0 L557.9 703.9 L559.7 706.1 L561.6 708.3 L563.5 710.6 L565.5 712.9 L567.3 715.0 L569.0 716.8 L570.6 718.4 L572.1 719.9 L573.7 721.3 L575.1 722.6 L576.6 723.8 L578.0 725.0 L579.4 726.1 L580.7 727.3 L582.0 728.5 L583.2 729.6 L584.4 730.8 L585.5 731.9 L586.6 733.0 L587.7 733.9 L588.8 734.8 L590.0 735.5 L591.1 736.1 L592.1 736.5 L593.1 736.8 L594.1 737.1 L595.2 737.3 L596.4 737.4 L597.8 737.6 L599.4 737.8 L601.4 738.0 L603.6 738.2 L606.1 738.4 L608.7 738.6 L611.3 738.8 L613.8 738.9 L616.1 739.0 L618.1 739.0 L619.8 739.0 L621.2 738.9 L622.5 738.7 L623.7 738.5 L624.8 738.3 L625.8 738.1 L626.9 737.8 L628.0 737.5 L629.2 737.1 L630.3 736.7 L631.5 736.2 L632.6 735.6 L633.7 735.1 L634.8 734.7 L635.8 734.4 L636.8 734.3 L637.7 734.3 L638.5 734.5 L639.2 734.8 L640.0 735.1 L640.7 735.5 L641.4 736.0 L642.2 736.5 L643.0 737.0 L643.8 737.6 L644.6 738.2 L645.4 738.9 L646.3 739.7 L647.2 740.4 L648.2 741.2 L649.4 741.9 L650.8 742.5 L652.6 743.1 L654.7 743.7 L657.0 744.4 L659.5 744.9 L661.9 745.5 L664.1 746.0 L665.9 746.4 L667.2 746.7" fill="none" stroke="#fde0bf" stroke-opacity="0.80" stroke-width="8.00" stroke-linejoin="round" stroke-linecap="butt"/><path d="M395.2 693.4 L396.0 693.8 L397.0 694.4 L398.1 695.1 L399.5 695.9 L400.9 696.7 L402.3 697.5 L403.7 698.3 L405.0 699.0 L406.2 699.7 L407.5 700.3 L408.8 700.9 L410.1 701.6 L411.3 702.2 L412.6 702.8 L413.8 703.4 L415.0 704.0 L416.2 704.6 L417.3 705.2 L418.5 705.9 L419.6 706.5 L420.7 707.1 L421.8 707.6 L422.9 708.1 L424.0 708.5 L425.1 708.8 L426.2 709.1 L427.3 709.3 L428.3 709.5 L429.4 709.6 L430.5 709.7 L431.5 709.8 L432.6 709.8 L433.7 709.8 L434.7 709.6 L435.7 709.5 L436.8 709.3 L437.8 709.1 L438.9 708.8 L439.9 708.6 L441.0 708.5 L442.1 708.4 L443.3 708.2 L444.4 708.1 L445.6 708.0 L446.7 707.9 L447.9 707.8 L449.0 707.8 L450.0 707.9 L451.0 708.1 L451.9 708.3 L452.8 708.6 L453.6 708.9 L454.5 709.3 L455.3 709.7 L456.1 710.1 L457.0 710.5 L457.9 710.9 L458.7 711.4 L459.6 711.9 L460.5 712.4 L461.4 712.9 L462.3 713.5 L463.2 714.0 L464.1 714.5 L465.0 715.0 L466.0 715.5 L467.0 716.0 L468.0 716.6 L469.0 717.1 L470.0 717.6 L471.0 718.0 L472.0 718.5 L473.0 719.0 L474.1 719.4 L475.1 719.9 L476.2 720.4 L477.3 720.8 L478.3 721.2 L479.4 721.4 L480.4 721.5 L481.4 721.5 L482.3 721.3 L483.3 721.1 L484.2 720.7 L485.1 720.3 L486.0 719.9 L487.0 719.4 L488.0 719.0 L489.0 718.5 L490.1 718.0 L491.2 717.3 L492.4 716.7 L493.5 716.1 L494.6 715.5 L495.7 715.0 L496.8 714.5 L497.9 714.1 L498.9 713.8 L500.0 713.5 L501.0 713.3 L502.0 713.1 L503.0 712.9 L504.0 712.7 L505.0 712.5 L505.9 712.4 L506.8 712.3 L507.7 712.3 L508.5 712.2 L509.3 712.2 L510.2 712.1 L511.1 712.0 L512.0 711.7 L513.0 711.4 L514.0 711.1 L515.1 710.7 L516.2 710.3 L517.3 709.8 L518.4 709.2 L519.3 708.4 L520.2 707.5 L521.0 706.4 L521.6 705.1 L522.3 703.8 L522.8 702.2 L523.4 700.6 L523.9 698.8 L524.4 697.0 L525.0 695.0 L525.6 692.9 L526.1 690.7 L526.7 688.4 L527.2 685.9 L527.8 683.3 L528.3 680.7 L528.9 677.9 L529.5 675.0 L530.1 671.9 L530.8 668.5 L531.6 664.9 L532.3 661.3 L533.0 657.7 L533.7 654.2 L534.4 650.9 L535.0 648.0 L535.6 645.4 L536.1 642.9 L536.6 640.6 L537.1 638.4 L537.6 636.5 L538.0 634.6 L538.5 633.0 L539.0 631.5 L539.5 630.2 L540.0 629.1 L540.5 628.2 L541.0 627.4 L541.5 626.7 L542.0 626.2 L542.5 625.8 L543.0 625.5 L543.5 625.3 L543.9 625.1 L544.3 625.0 L544.8 625.1 L545.2 625.3 L545.7 625.7 L546.3 626.2 L547.0 627.0 L547.8 628.0 L548.6 629.1 L549.4 630.5 L550.4 632.0 L551.4 633.7 L552.5 635.5 L553.7 637.5 L555.0 639.7 L556.5 642.1 L558.1 644.8 L559.9 647.8 L561.8 650.8 L563.7 654.0 L565.5 657.1 L567.3 660.1 L569.0 663.0 L570.6 665.8 L572.1 668.7 L573.7 671.6 L575.1 674.4 L576.6 677.1 L578.0 679.7 L579.4 682.0 L580.7 684.1 L582.0 685.9 L583.2 687.5 L584.4 688.9 L585.5 690.1 L586.6 691.2 L587.7 692.1 L588.8 692.8 L590.0 693.4 L591.1 693.8 L592.2 693.9 L593.3 693.8 L594.4 693.6 L595.5 693.3 L596.7 692.9 L598.0 692.6 L599.4 692.3 L600.9 692.0 L602.5 691.7 L604.2 691.3 L606.0 690.9 L607.8 690.5 L609.6 690.2 L611.5 690.0 L613.4 689.9 L615.3 689.9 L617.3 690.1 L619.4 690.3 L621.5 690.6 L623.6 690.9 L625.7 691.3 L627.7 691.8 L629.8 692.3 L631.9 692.9 L634.0 693.6 L636.1 694.4 L638.2 695.2 L640.3 696.0 L642.4 696.8 L644.3 697.5 L646.1 698.1 L647.8 698.6 L649.4 699.1 L650.9 699.5 L652.4 699.8 L653.8 700.1 L655.1 700.3 L656.5 700.4 L657.8 700.4 L659.1 700.2 L660.5 699.9 L661.9 699.4 L663.2 698.8 L664.5 698.2 L665.6 697.7 L666.5 697.2 L667.2 696.9" fill="none" stroke="#e3c4c6" stroke-opacity="0.80" stroke-width="9.00" stroke-linejoin="round" stroke-linecap="butt"/><path d="M395.2 673.6 L395.9 673.7 L396.8 673.8 L397.9 673.9 L399.1 674.0 L400.3 674.1 L401.6 674.3 L402.8 674.4 L404.0 674.5 L405.1 674.6 L406.2 674.8 L407.2 675.0 L408.3 675.2 L409.4 675.4 L410.5 675.4 L411.6 675.4 L412.7 675.2 L413.8 674.8 L415.0 674.3 L416.1 673.6 L417.2 672.9 L418.4 672.1 L419.6 671.3 L420.8 670.6 L422.0 670.0 L423.3 669.4 L424.5 668.7 L425.8 668.0 L427.2 667.4 L428.5 666.8 L429.9 666.4 L431.2 666.1 L432.6 666.1 L434.0 666.3 L435.4 666.7 L436.7 667.3 L438.1 668.1 L439.6 668.9 L441.0 669.8 L442.5 670.6 L444.0 671.5 L445.6 672.4 L447.2 673.4 L448.9 674.5 L450.6 675.6 L452.3 676.7 L453.9 677.7 L455.6 678.6 L457.1 679.4 L458.6 680.0 L459.9 680.5 L461.3 680.9 L462.6 681.3 L463.9 681.6 L465.2 681.9 L466.6 682.2 L468.0 682.5 L469.5 682.9 L471.0 683.2 L472.6 683.6 L474.1 684.0 L475.7 684.3 L477.3 684.6 L478.9 685.0 L480.4 685.3 L481.9 685.6 L483.3 685.8 L484.7 686.0 L486.1 686.2 L487.6 686.4 L489.0 686.7 L490.5 687.1 L492.1 687.6 L493.8 688.3 L495.6 689.1 L497.5 690.1 L499.5 691.1 L501.3 692.1 L503.1 693.1 L504.7 693.9 L506.1 694.6 L507.2 695.1 L508.1 695.5 L508.9 695.8 L509.6 696.0 L510.2 696.1 L510.7 696.2 L511.3 696.4 L512.0 696.5 L512.7 696.7 L513.4 696.8 L514.2 696.9 L514.9 697.1 L515.6 697.1 L516.3 697.1 L517.1 697.1 L517.8 696.9 L518.6 696.7 L519.3 696.3 L520.1 696.0 L520.9 695.5 L521.7 695.0 L522.5 694.4 L523.3 693.8 L524.0 693.0 L524.7 692.2 L525.4 691.3 L526.1 690.4 L526.8 689.4 L527.5 688.3 L528.1 687.1 L528.8 685.7 L529.5 684.1 L530.2 682.3 L530.9 680.2 L531.5 677.9 L532.2 675.6 L532.9 673.1 L533.6 670.7 L534.3 668.3 L535.0 666.0 L535.7 663.8 L536.5 661.4 L537.3 659.1 L538.0 656.8 L538.8 654.6 L539.6 652.5 L540.3 650.6 L541.0 649.0 L541.7 647.6 L542.3 646.4 L542.9 645.4 L543.5 644.6 L544.1 643.8 L544.7 643.2 L545.4 642.6 L546.0 642.0 L546.7 641.5 L547.3 641.0 L548.0 640.6 L548.7 640.3 L549.3 640.0 L550.0 639.8 L550.8 639.7 L551.5 639.7 L552.3 639.7 L553.0 639.8 L553.8 639.9 L554.7 640.1 L555.5 640.4 L556.3 640.8 L557.2 641.4 L558.0 642.0 L558.8 642.7 L559.7 643.5 L560.5 644.4 L561.4 645.5 L562.2 646.6 L563.1 647.9 L564.0 649.4 L565.0 651.0 L566.0 652.9 L567.0 655.1 L568.1 657.4 L569.2 659.9 L570.3 662.5 L571.4 665.0 L572.6 667.6 L573.7 670.0 L574.9 672.4 L576.1 675.0 L577.3 677.6 L578.5 680.2 L579.7 682.7 L580.9 685.0 L582.0 687.1 L583.1 688.8 L584.1 690.2 L584.9 691.4 L585.8 692.3 L586.5 693.0 L587.3 693.6 L588.2 694.0 L589.0 694.4 L590.0 694.6 L591.1 694.7 L592.2 694.6 L593.3 694.3 L594.5 694.0 L595.8 693.5 L597.0 693.1 L598.2 692.6 L599.4 692.3 L600.6 692.0 L601.8 691.6 L603.0 691.2 L604.2 690.8 L605.4 690.4 L606.5 690.1 L607.7 689.9 L608.8 689.9 L609.9 690.0 L610.9 690.3 L612.0 690.7 L613.0 691.1 L614.0 691.6 L615.0 692.1 L616.0 692.6 L617.0 693.0 L618.0 693.4 L619.1 693.9 L620.1 694.3 L621.1 694.8 L622.2 695.2 L623.2 695.5 L624.1 695.7 L625.1 695.8 L626.0 695.7 L626.9 695.5 L627.8 695.2 L628.6 694.8 L629.5 694.3 L630.3 693.9 L631.1 693.4 L632.0 693.0 L632.9 692.6 L633.8 692.3 L634.7 691.9 L635.6 691.5 L636.4 691.1 L637.3 690.7 L638.2 690.3 L639.1 689.9 L640.0 689.5 L640.9 689.0 L641.7 688.6 L642.6 688.1 L643.5 687.6 L644.3 687.2 L645.2 686.8 L646.0 686.5 L646.8 686.2 L647.5 686.0 L648.2 685.7 L648.9 685.5 L649.6 685.4 L650.4 685.3 L651.2 685.2 L652.0 685.3 L652.9 685.4 L653.9 685.7 L654.9 686.0 L655.9 686.3 L657.0 686.7 L658.0 687.1 L659.0 687.6 L660.0 688.0 L661.0 688.5 L662.0 689.1 L663.1 689.7 L664.1 690.3 L665.1 690.9 L665.9 691.5 L666.6 692.0 L667.2 692.3" fill="none" stroke="#f7c9cd" stroke-opacity="0.80" stroke-width="9.00" stroke-linejoin="round" stroke-linecap="butt"/><path d="M395.2 747.9 L395.7 747.8 L396.4 747.6 L397.2 747.4 L398.1 747.2 L399.0 747.0 L400.0 746.8 L401.0 746.7 L402.0 746.5 L403.0 746.4 L404.0 746.2 L405.1 746.1 L406.2 745.9 L407.2 745.8 L408.3 745.8 L409.4 745.7 L410.4 745.8 L411.4 745.9 L412.4 746.1 L413.3 746.4 L414.3 746.7 L415.2 747.0 L416.2 747.3 L417.1 747.7 L418.0 748.0 L418.9 748.3 L419.8 748.7 L420.7 749.1 L421.6 749.5 L422.5 749.9 L423.4 750.3 L424.2 750.6 L425.0 750.8 L425.7 751.0 L426.4 751.1 L427.0 751.2 L427.5 751.3 L428.1 751.3 L428.8 751.3 L429.4 751.2 L430.2 751.1 L431.0 750.9 L431.9 750.7 L432.9 750.4 L433.9 750.0 L434.9 749.6 L435.9 749.1 L436.9 748.6 L438.0 748.0 L439.1 747.3 L440.1 746.5 L441.2 745.6 L442.4 744.7 L443.5 743.8 L444.6 742.8 L445.8 741.9 L447.0 741.0 L448.2 740.2 L449.4 739.3 L450.7 738.5 L451.9 737.7 L453.2 736.8 L454.5 736.0 L455.8 735.2 L457.1 734.3 L458.4 733.4 L459.7 732.5 L461.1 731.6 L462.4 730.6 L463.8 729.7 L465.2 728.8 L466.6 727.9 L468.0 727.0 L469.5 726.1 L471.1 725.1 L472.8 724.0 L474.4 723.0 L476.0 722.1 L477.6 721.3 L479.1 720.7 L480.4 720.3 L481.6 720.2 L482.6 720.3 L483.5 720.6 L484.4 721.0 L485.3 721.6 L486.1 722.2 L487.0 722.8 L488.0 723.5 L489.1 724.2 L490.2 725.1 L491.3 726.1 L492.4 727.1 L493.6 728.1 L494.7 729.1 L495.8 730.0 L496.8 730.8 L497.8 731.5 L498.7 732.2 L499.6 732.8 L500.5 733.4 L501.3 734.0 L502.2 734.5 L503.1 735.0 L504.0 735.5 L505.0 736.0 L505.9 736.5 L506.9 736.9 L507.9 737.4 L509.0 737.7 L510.0 738.0 L511.0 738.2 L512.0 738.3 L513.0 738.2 L514.0 738.1 L515.0 737.8 L516.0 737.4 L517.0 737.0 L518.0 736.6 L519.0 736.0 L520.0 735.5 L521.0 734.9 L522.0 734.2 L523.1 733.4 L524.1 732.6 L525.1 731.8 L526.1 731.0 L527.1 730.2 L528.0 729.5 L528.8 728.8 L529.6 728.1 L530.4 727.4 L531.1 726.8 L531.8 726.1 L532.5 725.6 L533.3 725.0 L534.0 724.5 L534.8 724.0 L535.5 723.6 L536.2 723.2 L537.0 722.8 L537.8 722.5 L538.5 722.3 L539.2 722.1 L540.0 722.0 L540.8 722.0 L541.5 722.1 L542.2 722.2 L543.0 722.5 L543.8 722.7 L544.5 723.1 L545.2 723.4 L546.0 723.8 L546.8 724.2 L547.5 724.7 L548.2 725.3 L549.0 725.8 L549.8 726.4 L550.5 727.0 L551.2 727.6 L552.0 728.2 L552.7 728.7 L553.4 729.2 L554.0 729.7 L554.7 730.2 L555.4 730.8 L556.1 731.4 L557.0 732.0 L558.0 732.8 L559.1 733.7 L560.4 734.7 L561.7 735.8 L563.1 736.9 L564.6 738.1 L566.1 739.2 L567.6 740.3 L569.0 741.3 L570.4 742.3 L571.8 743.2 L573.1 744.1 L574.5 745.0 L575.9 745.9 L577.4 746.7 L579.0 747.5 L580.7 748.3 L582.5 749.0 L584.4 749.7 L586.3 750.4 L588.3 751.0 L590.4 751.6 L592.6 752.1 L594.8 752.6 L597.1 753.0 L599.5 753.4 L602.1 753.7 L604.7 754.0 L607.5 754.2 L610.2 754.4 L612.9 754.5 L615.6 754.6 L618.1 754.6 L620.6 754.6 L623.0 754.5 L625.4 754.3 L627.7 754.1 L630.1 753.9 L632.3 753.6 L634.6 753.3 L636.8 753.0 L639.0 752.6 L641.1 752.2 L643.2 751.8 L645.2 751.3 L647.3 750.8 L649.2 750.4 L651.2 749.9 L653.1 749.5 L655.1 749.1 L657.1 748.7 L659.2 748.3 L661.2 747.9 L663.0 747.5 L664.7 747.2 L666.1 746.9 L667.2 746.7" fill="none" stroke="#000" stroke-width="1.70" stroke-linejoin="round" stroke-linecap="round"/><path d="M395.2 713.8 L395.9 714.5 L396.9 715.5 L398.0 716.6 L399.3 717.9 L400.7 719.2 L402.1 720.6 L403.6 721.9 L405.0 723.0 L406.4 724.1 L408.0 725.3 L409.5 726.4 L411.2 727.6 L412.8 728.6 L414.4 729.5 L415.9 730.3 L417.4 730.8 L418.8 731.1 L420.1 731.1 L421.4 731.0 L422.7 730.8 L424.0 730.5 L425.2 730.1 L426.6 729.8 L428.0 729.5 L429.5 729.3 L431.1 729.0 L432.8 728.7 L434.4 728.5 L436.1 728.2 L437.7 727.9 L439.3 727.6 L440.7 727.3 L442.0 727.0 L443.2 726.7 L444.3 726.4 L445.4 726.2 L446.5 725.9 L447.6 725.6 L448.7 725.3 L450.0 725.0 L451.3 724.7 L452.7 724.4 L454.0 724.1 L455.5 723.8 L456.9 723.5 L458.5 723.2 L460.1 722.9 L461.8 722.6 L463.7 722.3 L465.7 721.9 L467.9 721.6 L470.1 721.3 L472.3 720.9 L474.4 720.7 L476.3 720.4 L478.1 720.3 L479.7 720.2 L481.1 720.2 L482.3 720.3 L483.5 720.4 L484.6 720.5 L485.8 720.7 L486.9 720.8 L488.0 721.0 L489.2 721.1 L490.3 721.3 L491.4 721.5 L492.5 721.7 L493.6 721.9 L494.7 722.1 L495.7 722.3 L496.8 722.6 L497.9 722.9 L498.9 723.2 L499.9 723.6 L500.9 723.9 L502.0 724.3 L503.0 724.7 L504.0 725.1 L505.0 725.5 L506.0 726.0 L507.1 726.5 L508.1 727.1 L509.1 727.7 L510.2 728.2 L511.2 728.6 L512.1 728.9 L513.1 728.9 L514.0 728.8 L514.8 728.6 L515.6 728.2 L516.4 727.8 L517.2 727.1 L518.0 726.3 L518.9 725.3 L520.0 724.0 L521.2 722.3 L522.6 720.3 L524.2 718.0 L525.7 715.5 L527.3 712.9 L528.7 710.5 L530.1 708.2 L531.2 706.3 L532.1 704.7 L532.9 703.2 L533.5 701.8 L534.0 700.6 L534.5 699.5 L535.0 698.4 L535.5 697.5 L536.0 696.5 L536.6 695.6 L537.1 694.8 L537.7 694.0 L538.3 693.3 L538.8 692.7 L539.4 692.1 L539.9 691.6 L540.5 691.2 L541.1 690.9 L541.6 690.6 L542.2 690.4 L542.7 690.2 L543.3 690.2 L543.8 690.2 L544.4 690.3 L545.0 690.4 L545.6 690.6 L546.2 690.9 L546.8 691.3 L547.5 691.7 L548.1 692.3 L548.7 692.8 L549.4 693.4 L550.0 694.0 L550.6 694.6 L551.0 695.2 L551.5 695.8 L551.9 696.4 L552.5 697.1 L553.1 698.0 L553.9 699.1 L555.0 700.4 L556.3 702.0 L557.9 703.9 L559.7 706.1 L561.6 708.3 L563.5 710.6 L565.5 712.9 L567.3 715.0 L569.0 716.8 L570.6 718.4 L572.1 719.9 L573.7 721.3 L575.1 722.6 L576.6 723.8 L578.0 725.0 L579.4 726.1 L580.7 727.3 L582.0 728.5 L583.2 729.6 L584.4 730.8 L585.5 731.9 L586.6 733.0 L587.7 733.9 L588.8 734.8 L590.0 735.5 L591.1 736.1 L592.1 736.5 L593.1 736.8 L594.1 737.1 L595.2 737.3 L596.4 737.4 L597.8 737.6 L599.4 737.8 L601.4 738.0 L603.6 738.2 L606.1 738.4 L608.7 738.6 L611.3 738.8 L613.8 738.9 L616.1 739.0 L618.1 739.0 L619.8 739.0 L621.2 738.9 L622.5 738.7 L623.7 738.5 L624.8 738.3 L625.8 738.1 L626.9 737.8 L628.0 737.5 L629.2 737.1 L630.3 736.7 L631.5 736.2 L632.6 735.6 L633.7 735.1 L634.8 734.7 L635.8 734.4 L636.8 734.3 L637.7 734.3 L638.5 734.5 L639.2 734.8 L640.0 735.1 L640.7 735.5 L641.4 736.0 L642.2 736.5 L643.0 737.0 L643.8 737.6 L644.6 738.2 L645.4 738.9 L646.3 739.7 L647.2 740.4 L648.2 741.2 L649.4 741.9 L650.8 742.5 L652.6 743.1 L654.7 743.7 L657.0 744.4 L659.5 744.9 L661.9 745.5 L664.1 746.0 L665.9 746.4 L667.2 746.7" fill="none" stroke="#ff8c00" stroke-width="1.70" stroke-linejoin="round" stroke-linecap="round"/><path d="M395.2 693.4 L396.0 693.8 L397.0 694.4 L398.1 695.1 L399.5 695.9 L400.9 696.7 L402.3 697.5 L403.7 698.3 L405.0 699.0 L406.2 699.7 L407.5 700.3 L408.8 700.9 L410.1 701.6 L411.3 702.2 L412.6 702.8 L413.8 703.4 L415.0 704.0 L416.2 704.6 L417.3 705.2 L418.5 705.9 L419.6 706.5 L420.7 707.1 L421.8 707.6 L422.9 708.1 L424.0 708.5 L425.1 708.8 L426.2 709.1 L427.3 709.3 L428.3 709.5 L429.4 709.6 L430.5 709.7 L431.5 709.8 L432.6 709.8 L433.7 709.8 L434.7 709.6 L435.7 709.5 L436.8 709.3 L437.8 709.1 L438.9 708.8 L439.9 708.6 L441.0 708.5 L442.1 708.4 L443.3 708.2 L444.4 708.1 L445.6 708.0 L446.7 707.9 L447.9 707.8 L449.0 707.8 L450.0 707.9 L451.0 708.1 L451.9 708.3 L452.8 708.6 L453.6 708.9 L454.5 709.3 L455.3 709.7 L456.1 710.1 L457.0 710.5 L457.9 710.9 L458.7 711.4 L459.6 711.9 L460.5 712.4 L461.4 712.9 L462.3 713.5 L463.2 714.0 L464.1 714.5 L465.0 715.0 L466.0 715.5 L467.0 716.0 L468.0 716.6 L469.0 717.1 L470.0 717.6 L471.0 718.0 L472.0 718.5 L473.0 719.0 L474.1 719.4 L475.1 719.9 L476.2 720.4 L477.3 720.8 L478.3 721.2 L479.4 721.4 L480.4 721.5 L481.4 721.5 L482.3 721.3 L483.3 721.1 L484.2 720.7 L485.1 720.3 L486.0 719.9 L487.0 719.4 L488.0 719.0 L489.0 718.5 L490.1 718.0 L491.2 717.3 L492.4 716.7 L493.5 716.1 L494.6 715.5 L495.7 715.0 L496.8 714.5 L497.9 714.1 L498.9 713.8 L500.0 713.5 L501.0 713.3 L502.0 713.1 L503.0 712.9 L504.0 712.7 L505.0 712.5 L505.9 712.4 L506.8 712.3 L507.7 712.3 L508.5 712.2 L509.3 712.2 L510.2 712.1 L511.1 712.0 L512.0 711.7 L513.0 711.4 L514.0 711.1 L515.1 710.7 L516.2 710.3 L517.3 709.8 L518.4 709.2 L519.3 708.4 L520.2 707.5 L521.0 706.4 L521.6 705.1 L522.3 703.8 L522.8 702.2 L523.4 700.6 L523.9 698.8 L524.4 697.0 L525.0 695.0 L525.6 692.9 L526.1 690.7 L526.7 688.4 L527.2 685.9 L527.8 683.3 L528.3 680.7 L528.9 677.9 L529.5 675.0 L530.1 671.9 L530.8 668.5 L531.6 664.9 L532.3 661.3 L533.0 657.7 L533.7 654.2 L534.4 650.9 L535.0 648.0 L535.6 645.4 L536.1 642.9 L536.6 640.6 L537.1 638.4 L537.6 636.5 L538.0 634.6 L538.5 633.0 L539.0 631.5 L539.5 630.2 L540.0 629.1 L540.5 628.2 L541.0 627.4 L541.5 626.7 L542.0 626.2 L542.5 625.8 L543.0 625.5 L543.5 625.3 L543.9 625.1 L544.3 625.0 L544.8 625.1 L545.2 625.3 L545.7 625.7 L546.3 626.2 L547.0 627.0 L547.8 628.0 L548.6 629.1 L549.4 630.5 L550.4 632.0 L551.4 633.7 L552.5 635.5 L553.7 637.5 L555.0 639.7 L556.5 642.1 L558.1 644.8 L559.9 647.8 L561.8 650.8 L563.7 654.0 L565.5 657.1 L567.3 660.1 L569.0 663.0 L570.6 665.8 L572.1 668.7 L573.7 671.6 L575.1 674.4 L576.6 677.1 L578.0 679.7 L579.4 682.0 L580.7 684.1 L582.0 685.9 L583.2 687.5 L584.4 688.9 L585.5 690.1 L586.6 691.2 L587.7 692.1 L588.8 692.8 L590.0 693.4 L591.1 693.8 L592.2 693.9 L593.3 693.8 L594.4 693.6 L595.5 693.3 L596.7 692.9 L598.0 692.6 L599.4 692.3 L600.9 692.0 L602.5 691.7 L604.2 691.3 L606.0 690.9 L607.8 690.5 L609.6 690.2 L611.5 690.0 L613.4 689.9 L615.3 689.9 L617.3 690.1 L619.4 690.3 L621.5 690.6 L623.6 690.9 L625.7 691.3 L627.7 691.8 L629.8 692.3 L631.9 692.9 L634.0 693.6 L636.1 694.4 L638.2 695.2 L640.3 696.0 L642.4 696.8 L644.3 697.5 L646.1 698.1 L647.8 698.6 L649.4 699.1 L650.9 699.5 L652.4 699.8 L653.8 700.1 L655.1 700.3 L656.5 700.4 L657.8 700.4 L659.1 700.2 L660.5 699.9 L661.9 699.4 L663.2 698.8 L664.5 698.2 L665.6 697.7 L666.5 697.2 L667.2 696.9" fill="none" stroke="#990000" stroke-width="1.70" stroke-linejoin="round" stroke-linecap="round"/><path d="M395.2 673.6 L395.9 673.7 L396.8 673.8 L397.9 673.9 L399.1 674.0 L400.3 674.1 L401.6 674.3 L402.8 674.4 L404.0 674.5 L405.1 674.6 L406.2 674.8 L407.2 675.0 L408.3 675.2 L409.4 675.4 L410.5 675.4 L411.6 675.4 L412.7 675.2 L413.8 674.8 L415.0 674.3 L416.1 673.6 L417.2 672.9 L418.4 672.1 L419.6 671.3 L420.8 670.6 L422.0 670.0 L423.3 669.4 L424.5 668.7 L425.8 668.0 L427.2 667.4 L428.5 666.8 L429.9 666.4 L431.2 666.1 L432.6 666.1 L434.0 666.3 L435.4 666.7 L436.7 667.3 L438.1 668.1 L439.6 668.9 L441.0 669.8 L442.5 670.6 L444.0 671.5 L445.6 672.4 L447.2 673.4 L448.9 674.5 L450.6 675.6 L452.3 676.7 L453.9 677.7 L455.6 678.6 L457.1 679.4 L458.6 680.0 L459.9 680.5 L461.3 680.9 L462.6 681.3 L463.9 681.6 L465.2 681.9 L466.6 682.2 L468.0 682.5 L469.5 682.9 L471.0 683.2 L472.6 683.6 L474.1 684.0 L475.7 684.3 L477.3 684.6 L478.9 685.0 L480.4 685.3 L481.9 685.6 L483.3 685.8 L484.7 686.0 L486.1 686.2 L487.6 686.4 L489.0 686.7 L490.5 687.1 L492.1 687.6 L493.8 688.3 L495.6 689.1 L497.5 690.1 L499.5 691.1 L501.3 692.1 L503.1 693.1 L504.7 693.9 L506.1 694.6 L507.2 695.1 L508.1 695.5 L508.9 695.8 L509.6 696.0 L510.2 696.1 L510.7 696.2 L511.3 696.4 L512.0 696.5 L512.7 696.7 L513.4 696.8 L514.2 696.9 L514.9 697.1 L515.6 697.1 L516.3 697.1 L517.1 697.1 L517.8 696.9 L518.6 696.7 L519.3 696.3 L520.1 696.0 L520.9 695.5 L521.7 695.0 L522.5 694.4 L523.3 693.8 L524.0 693.0 L524.7 692.2 L525.4 691.3 L526.1 690.4 L526.8 689.4 L527.5 688.3 L528.1 687.1 L528.8 685.7 L529.5 684.1 L530.2 682.3 L530.9 680.2 L531.5 677.9 L532.2 675.6 L532.9 673.1 L533.6 670.7 L534.3 668.3 L535.0 666.0 L535.7 663.8 L536.5 661.4 L537.3 659.1 L538.0 656.8 L538.8 654.6 L539.6 652.5 L540.3 650.6 L541.0 649.0 L541.7 647.6 L542.3 646.4 L542.9 645.4 L543.5 644.6 L544.1 643.8 L544.7 643.2 L545.4 642.6 L546.0 642.0 L546.7 641.5 L547.3 641.0 L548.0 640.6 L548.7 640.3 L549.3 640.0 L550.0 639.8 L550.8 639.7 L551.5 639.7 L552.3 639.7 L553.0 639.8 L553.8 639.9 L554.7 640.1 L555.5 640.4 L556.3 640.8 L557.2 641.4 L558.0 642.0 L558.8 642.7 L559.7 643.5 L560.5 644.4 L561.4 645.5 L562.2 646.6 L563.1 647.9 L564.0 649.4 L565.0 651.0 L566.0 652.9 L567.0 655.1 L568.1 657.4 L569.2 659.9 L570.3 662.5 L571.4 665.0 L572.6 667.6 L573.7 670.0 L574.9 672.4 L576.1 675.0 L577.3 677.6 L578.5 680.2 L579.7 682.7 L580.9 685.0 L582.0 687.1 L583.1 688.8 L584.1 690.2 L584.9 691.4 L585.8 692.3 L586.5 693.0 L587.3 693.6 L588.2 694.0 L589.0 694.4 L590.0 694.6 L591.1 694.7 L592.2 694.6 L593.3 694.3 L594.5 694.0 L595.8 693.5 L597.0 693.1 L598.2 692.6 L599.4 692.3 L600.6 692.0 L601.8 691.6 L603.0 691.2 L604.2 690.8 L605.4 690.4 L606.5 690.1 L607.7 689.9 L608.8 689.9 L609.9 690.0 L610.9 690.3 L612.0 690.7 L613.0 691.1 L614.0 691.6 L615.0 692.1 L616.0 692.6 L617.0 693.0 L618.0 693.4 L619.1 693.9 L620.1 694.3 L621.1 694.8 L622.2 695.2 L623.2 695.5 L624.1 695.7 L625.1 695.8 L626.0 695.7 L626.9 695.5 L627.8 695.2 L628.6 694.8 L629.5 694.3 L630.3 693.9 L631.1 693.4 L632.0 693.0 L632.9 692.6 L633.8 692.3 L634.7 691.9 L635.6 691.5 L636.4 691.1 L637.3 690.7 L638.2 690.3 L639.1 689.9 L640.0 689.5 L640.9 689.0 L641.7 688.6 L642.6 688.1 L643.5 687.6 L644.3 687.2 L645.2 686.8 L646.0 686.5 L646.8 686.2 L647.5 686.0 L648.2 685.7 L648.9 685.5 L649.6 685.4 L650.4 685.3 L651.2 685.2 L652.0 685.3 L652.9 685.4 L653.9 685.7 L654.9 686.0 L655.9 686.3 L657.0 686.7 L658.0 687.1 L659.0 687.6 L660.0 688.0 L661.0 688.5 L662.0 689.1 L663.1 689.7 L664.1 690.3 L665.1 690.9 L665.9 691.5 L666.6 692.0 L667.2 692.3" fill="none" stroke="#ff0000" stroke-width="1.70" stroke-linejoin="round" stroke-linecap="round"/><line x1="397.6" y1="586.2" x2="420.1" y2="586.2" stroke="#000" stroke-width="1.80" /><text x="427.4" y="589.4" font-size="8.70" text-anchor="start" fill="#262626" >inbound paths</text><line x1="397.6" y1="596.1" x2="420.1" y2="596.1" stroke="#ff0000" stroke-width="1.80" /><text x="427.4" y="599.3" font-size="8.70" text-anchor="start" fill="#262626" >rewarded path</text><line x1="541.9" y1="586.0" x2="564.4" y2="586.0" stroke="#990000" stroke-width="1.80" /><text x="571.7" y="589.2" font-size="8.70" text-anchor="start" fill="#262626" >centre</text><line x1="541.9" y1="596.0" x2="564.4" y2="596.0" stroke="#ff8c00" stroke-width="1.80" /><text x="571.7" y="599.2" font-size="8.70" text-anchor="start" fill="#262626" >outbound paths</text><text x="394.1" y="617.3" font-size="8.90" text-anchor="start" fill="#262626" ><tspan font-style="italic">F</tspan><tspan font-size="6.8" dy="2.3">basl.</tspan><tspan dy="-2.3">= 49.14</tspan></text><text x="394.1" y="629.6" font-size="8.90" text-anchor="start" fill="#262626" ><tspan font-style="italic">p</tspan><tspan font-size="6.8" dy="2.3">basl.</tspan><tspan dy="-2.3">= 1.57E</tspan><tspan font-size="6.6" dy="-3.3">-28</tspan></text><text x="575.9" y="617.6" font-size="8.90" text-anchor="start" fill="#262626" ><tspan font-style="italic">F</tspan><tspan font-size="6.8" dy="2.3">ampl.</tspan><tspan dy="-2.3">= 14.67</tspan></text><text x="575.9" y="628.9" font-size="8.90" text-anchor="start" fill="#262626" ><tspan font-style="italic">p</tspan><tspan font-size="6.8" dy="2.3">ampl.</tspan><tspan dy="-2.3">= 3.05E</tspan><tspan font-size="6.6" dy="-3.3">-9</tspan></text><text x="668.2" y="620.2" font-size="12.30" text-anchor="end" fill="#ff0000" >PPC</text><text x="346.9" y="591.8" font-size="16.50" text-anchor="start" fill="#000" font-weight="bold">h</text><filter id="hb" x="-5%" y="-5%" width="110%" height="110%"><feGaussianBlur stdDeviation="0.9 0.45"/></filter><clipPath id="c1"><rect x="39.70" y="350.10" width="268.10" height="48.40"/></clipPath><g clip-path="url(#c1)"><g filter="url(#hb)"><linearGradient id="g2" gradientUnits="userSpaceOnUse" x1="39.7" x2="307.8" y1="0" y2="0"><stop offset=".00" stop-color="#0ab4d2"/><stop offset=".05" stop-color="#249fe6"/><stop offset=".10" stop-color="#0ab4d2"/><stop offset=".15" stop-color="#0ab4d2"/><stop offset=".20" stop-color="#0ab4d2"/><stop offset=".25" stop-color="#0ab4d2"/><stop offset=".30" stop-color="#2e85f8"/><stop offset=".35" stop-color="#484ef1"/><stop offset=".40" stop-color="#3f29b0"/><stop offset=".45" stop-color="#4539d9"/><stop offset=".50" stop-color="#debd29"/><stop offset=".55" stop-color="#fcd030"/><stop offset=".60" stop-color="#33c69d"/><stop offset=".65" stop-color="#0ab4d2"/><stop offset=".70" stop-color="#249fe6"/><stop offset=".75" stop-color="#2a92ee"/><stop offset=".80" stop-color="#2e85f8"/><stop offset=".85" stop-color="#2e85f8"/><stop offset=".90" stop-color="#2e85f8"/><stop offset=".95" stop-color="#2e85f8"/><stop offset="1.00" stop-color="#2e85f8"/></linearGradient><rect x="36.70" y="348.10" width="274.10" height="5.15" fill="url(#g2)" shape-rendering="crispEdges"/><linearGradient id="g3" gradientUnits="userSpaceOnUse" x1="39.7" x2="307.8" y1="0" y2="0"><stop offset=".00" stop-color="#33c69d"/><stop offset=".05" stop-color="#33c69d"/><stop offset=".10" stop-color="#debd29"/><stop offset=".15" stop-color="#fcd030"/><stop offset=".20" stop-color="#f9fb15"/><stop offset=".25" stop-color="#84cc56"/><stop offset=".30" stop-color="#2e85f8"/><stop offset=".35" stop-color="#2e85f8"/><stop offset=".40" stop-color="#2e85f8"/><stop offset=".45" stop-color="#4539d9"/><stop offset=".50" stop-color="#4369fe"/><stop offset=".55" stop-color="#debd29"/><stop offset=".60" stop-color="#f9fb15"/><stop offset=".65" stop-color="#f9fb15"/><stop offset=".70" stop-color="#fcd030"/><stop offset=".75" stop-color="#12beb9"/><stop offset=".80" stop-color="#33c69d"/><stop offset=".85" stop-color="#debd29"/><stop offset=".90" stop-color="#84cc56"/><stop offset=".95" stop-color="#249fe6"/><stop offset="1.00" stop-color="#2e85f8"/></linearGradient><rect x="36.70" y="352.65" width="274.10" height="3.15" fill="url(#g3)" shape-rendering="crispEdges"/><linearGradient id="g4" gradientUnits="userSpaceOnUse" x1="39.7" x2="307.8" y1="0" y2="0"><stop offset=".00" stop-color="#33c69d"/><stop offset=".05" stop-color="#33c69d"/><stop offset=".10" stop-color="#33c69d"/><stop offset=".15" stop-color="#0ab4d2"/><stop offset=".20" stop-color="#2e85f8"/><stop offset=".25" stop-color="#249fe6"/><stop offset=".30" stop-color="#0ab4d2"/><stop offset=".35" stop-color="#0ab4d2"/><stop offset=".40" stop-color="#2e85f8"/><stop offset=".45" stop-color="#484ef1"/><stop offset=".50" stop-color="#4539d9"/><stop offset=".55" stop-color="#0ab4d2"/><stop offset=".60" stop-color="#debd29"/><stop offset=".65" stop-color="#fcd030"/><stop offset=".70" stop-color="#33c69d"/><stop offset=".75" stop-color="#12beb9"/><stop offset=".80" stop-color="#33c69d"/><stop offset=".85" stop-color="#33c69d"/><stop offset=".90" stop-color="#54cc7d"/><stop offset=".95" stop-color="#33c69d"/><stop offset="1.00" stop-color="#33c69d"/></linearGradient><rect x="36.70" y="355.19" width="274.10" height="3.15" fill="url(#g4)" shape-rendering="crispEdges"/><linearGradient id="g5" gradientUnits="userSpaceOnUse" x1="39.7" x2="307.8" y1="0" y2="0"><stop offset=".00" stop-color="#33c69d"/><stop offset=".05" stop-color="#debd29"/><stop offset=".10" stop-color="#fcd030"/><stop offset=".15" stop-color="#fcd030"/><stop offset=".20" stop-color="#fcd030"/><stop offset=".25" stop-color="#54cc7d"/><stop offset=".30" stop-color="#12beb9"/><stop offset=".35" stop-color="#b4c533"/><stop offset=".40" stop-color="#33c69d"/><stop offset=".45" stop-color="#2e85f8"/><stop offset=".50" stop-color="#3f29b0"/><stop offset=".55" stop-color="#484ef1"/><stop offset=".60" stop-color="#33c69d"/><stop offset=".65" stop-color="#debd29"/><stop offset=".70" stop-color="#f9fb15"/><stop offset=".75" stop-color="#f5e626"/><stop offset=".80" stop-color="#fcd030"/><stop offset=".85" stop-color="#fcd030"/><stop offset=".90" stop-color="#fcd030"/><stop offset=".95" stop-color="#fcd030"/><stop offset="1.00" stop-color="#fcd030"/></linearGradient><rect x="36.70" y="357.74" width="274.10" height="3.15" fill="url(#g5)" shape-rendering="crispEdges"/><linearGradient id="g6" gradientUnits="userSpaceOnUse" x1="39.7" x2="307.8" y1="0" y2="0"><stop offset=".00" stop-color="#0ab4d2"/><stop offset=".05" stop-color="#0ab4d2"/><stop offset=".10" stop-color="#0ab4d2"/><stop offset=".15" stop-color="#2e85f8"/><stop offset=".20" stop-color="#249fe6"/><stop offset=".25" stop-color="#0ab4d2"/><stop offset=".30" stop-color="#b4c533"/><stop offset=".35" stop-color="#b4c533"/><stop offset=".40" stop-color="#33c69d"/><stop offset=".45" stop-color="#2e85f8"/><stop offset=".50" stop-color="#4330c5"/><stop offset=".55" stop-color="#4539d9"/><stop offset=".60" stop-color="#2e85f8"/><stop offset=".65" stop-color="#0ab4d2"/><stop offset=".70" stop-color="#f9fb15"/><stop offset=".75" stop-color="#fcbc3d"/><stop offset=".80" stop-color="#33c69d"/><stop offset=".85" stop-color="#0ab4d2"/><stop offset=".90" stop-color="#12beb9"/><stop offset=".95" stop-color="#33c69d"/><stop offset="1.00" stop-color="#debd29"/></linearGradient><rect x="36.70" y="360.29" width="274.10" height="3.15" fill="url(#g6)" shape-rendering="crispEdges"/><linearGradient id="g7" gradientUnits="userSpaceOnUse" x1="39.7" x2="307.8" y1="0" y2="0"><stop offset=".00" stop-color="#4369fe"/><stop offset=".05" stop-color="#4369fe"/><stop offset=".10" stop-color="#0ab4d2"/><stop offset=".15" stop-color="#12beb9"/><stop offset=".20" stop-color="#12beb9"/><stop offset=".25" stop-color="#1caadf"/><stop offset=".30" stop-color="#2e85f8"/><stop offset=".35" stop-color="#2e85f8"/><stop offset=".40" stop-color="#2e85f8"/><stop offset=".45" stop-color="#4369fe"/><stop offset=".50" stop-color="#4330c5"/><stop offset=".55" stop-color="#484ef1"/><stop offset=".60" stop-color="#12beb9"/><stop offset=".65" stop-color="#33c69d"/><stop offset=".70" stop-color="#0ab4d2"/><stop offset=".75" stop-color="#1caadf"/><stop offset=".80" stop-color="#0ab4d2"/><stop offset=".85" stop-color="#249fe6"/><stop offset=".90" stop-color="#0ab4d2"/><stop offset=".95" stop-color="#fcd030"/><stop offset="1.00" stop-color="#f9fb15"/></linearGradient><rect x="36.70" y="362.84" width="274.10" height="3.15" fill="url(#g7)" shape-rendering="crispEdges"/><linearGradient id="g8" gradientUnits="userSpaceOnUse" x1="39.7" x2="307.8" y1="0" y2="0"><stop offset=".00" stop-color="#54cc7d"/><stop offset=".05" stop-color="#54cc7d"/><stop offset=".10" stop-color="#54cc7d"/><stop offset=".15" stop-color="#54cc7d"/><stop offset=".20" stop-color="#54cc7d"/><stop offset=".25" stop-color="#33c69d"/><stop offset=".30" stop-color="#0ab4d2"/><stop offset=".35" stop-color="#33c69d"/><stop offset=".40" stop-color="#33c69d"/><stop offset=".45" stop-color="#0ab4d2"/><stop offset=".50" stop-color="#484ef1"/><stop offset=".55" stop-color="#3f29b0"/><stop offset=".60" stop-color="#2e85f8"/><stop offset=".65" stop-color="#fcd030"/><stop offset=".70" stop-color="#f9fb15"/><stop offset=".75" stop-color="#f5e626"/><stop offset=".80" stop-color="#debd29"/><stop offset=".85" stop-color="#84cc56"/><stop offset=".90" stop-color="#b4c533"/><stop offset=".95" stop-color="#debd29"/><stop offset="1.00" stop-color="#fcd030"/></linearGradient><rect x="36.70" y="365.38" width="274.10" height="3.15" fill="url(#g8)" shape-rendering="crispEdges"/><linearGradient id="g9" gradientUnits="userSpaceOnUse" x1="39.7" x2="307.8" y1="0" y2="0"><stop offset=".00" stop-color="#33c69d"/><stop offset=".05" stop-color="#84cc56"/><stop offset=".10" stop-color="#debd29"/><stop offset=".15" stop-color="#b4c533"/><stop offset=".20" stop-color="#0ab4d2"/><stop offset=".25" stop-color="#2a92ee"/><stop offset=".30" stop-color="#0ab4d2"/><stop offset=".35" stop-color="#fcd030"/><stop offset=".40" stop-color="#f9fb15"/><stop offset=".45" stop-color="#fcd030"/><stop offset=".50" stop-color="#4369fe"/><stop offset=".55" stop-color="#3f29b0"/><stop offset=".60" stop-color="#484ef1"/><stop offset=".65" stop-color="#0ab4d2"/><stop offset=".70" stop-color="#0ab4d2"/><stop offset=".75" stop-color="#484ef1"/><stop offset=".80" stop-color="#3e28ac"/><stop offset=".85" stop-color="#3f29b0"/><stop offset=".90" stop-color="#2e85f8"/><stop offset=".95" stop-color="#249fe6"/><stop offset="1.00" stop-color="#249fe6"/></linearGradient><rect x="36.70" y="367.93" width="274.10" height="3.15" fill="url(#g9)" shape-rendering="crispEdges"/><linearGradient id="g10" gradientUnits="userSpaceOnUse" x1="39.7" x2="307.8" y1="0" y2="0"><stop offset=".00" stop-color="#33c69d"/><stop offset=".05" stop-color="#84cc56"/><stop offset=".10" stop-color="#debd29"/><stop offset=".15" stop-color="#debd29"/><stop offset=".20" stop-color="#33c69d"/><stop offset=".25" stop-color="#1caadf"/><stop offset=".30" stop-color="#33c69d"/><stop offset=".35" stop-color="#fcd030"/><stop offset=".40" stop-color="#f9fb15"/><stop offset=".45" stop-color="#debd29"/><stop offset=".50" stop-color="#2e85f8"/><stop offset=".55" stop-color="#3f29b0"/><stop offset=".60" stop-color="#4539d9"/><stop offset=".65" stop-color="#2e85f8"/><stop offset=".70" stop-color="#2e85f8"/><stop offset=".75" stop-color="#4369fe"/><stop offset=".80" stop-color="#2e85f8"/><stop offset=".85" stop-color="#249fe6"/><stop offset=".90" stop-color="#0ab4d2"/><stop offset=".95" stop-color="#12beb9"/><stop offset="1.00" stop-color="#0ab4d2"/></linearGradient><rect x="36.70" y="370.48" width="274.10" height="3.15" fill="url(#g10)" shape-rendering="crispEdges"/><linearGradient id="g11" gradientUnits="userSpaceOnUse" x1="39.7" x2="307.8" y1="0" y2="0"><stop offset=".00" stop-color="#84cc56"/><stop offset=".05" stop-color="#b4c533"/><stop offset=".10" stop-color="#debd29"/><stop offset=".15" stop-color="#debd29"/><stop offset=".20" stop-color="#debd29"/><stop offset=".25" stop-color="#b4c533"/><stop offset=".30" stop-color="#b4c533"/><stop offset=".35" stop-color="#b4c533"/><stop offset=".40" stop-color="#84cc56"/><stop offset=".45" stop-color="#33c69d"/><stop offset=".50" stop-color="#2e85f8"/><stop offset=".55" stop-color="#3f29b0"/><stop offset=".60" stop-color="#484ef1"/><stop offset=".65" stop-color="#33c69d"/><stop offset=".70" stop-color="#f9fb15"/><stop offset=".75" stop-color="#f5e626"/><stop offset=".80" stop-color="#debd29"/><stop offset=".85" stop-color="#84cc56"/><stop offset=".90" stop-color="#84cc56"/><stop offset=".95" stop-color="#84cc56"/><stop offset="1.00" stop-color="#84cc56"/></linearGradient><rect x="36.70" y="373.03" width="274.10" height="3.15" fill="url(#g11)" shape-rendering="crispEdges"/><linearGradient id="g12" gradientUnits="userSpaceOnUse" x1="39.7" x2="307.8" y1="0" y2="0"><stop offset=".00" stop-color="#fcd030"/><stop offset=".05" stop-color="#fcd030"/><stop offset=".10" stop-color="#fcd030"/><stop offset=".15" stop-color="#fcd030"/><stop offset=".20" stop-color="#fcbc3d"/><stop offset=".25" stop-color="#fcd030"/><stop offset=".30" stop-color="#debd29"/><stop offset=".35" stop-color="#b4c533"/><stop offset=".40" stop-color="#f5e626"/><stop offset=".45" stop-color="#f5e626"/><stop offset=".50" stop-color="#1caadf"/><stop offset=".55" stop-color="#3f29b0"/><stop offset=".60" stop-color="#4539d9"/><stop offset=".65" stop-color="#0ab4d2"/><stop offset=".70" stop-color="#0ab4d2"/><stop offset=".75" stop-color="#6acd6a"/><stop offset=".80" stop-color="#84cc56"/><stop offset=".85" stop-color="#33c69d"/><stop offset=".90" stop-color="#84cc56"/><stop offset=".95" stop-color="#0ab4d2"/><stop offset="1.00" stop-color="#249fe6"/></linearGradient><rect x="36.70" y="375.57" width="274.10" height="3.15" fill="url(#g12)" shape-rendering="crispEdges"/><linearGradient id="g13" gradientUnits="userSpaceOnUse" x1="39.7" x2="307.8" y1="0" y2="0"><stop offset=".00" stop-color="#33c69d"/><stop offset=".05" stop-color="#33c69d"/><stop offset=".10" stop-color="#33c69d"/><stop offset=".15" stop-color="#33c69d"/><stop offset=".20" stop-color="#33c69d"/><stop offset=".25" stop-color="#33c69d"/><stop offset=".30" stop-color="#33c69d"/><stop offset=".35" stop-color="#33c69d"/><stop offset=".40" stop-color="#0ab4d2"/><stop offset=".45" stop-color="#0ab4d2"/><stop offset=".50" stop-color="#249fe6"/><stop offset=".55" stop-color="#484ef1"/><stop offset=".60" stop-color="#484ef1"/><stop offset=".65" stop-color="#debd29"/><stop offset=".70" stop-color="#debd29"/><stop offset=".75" stop-color="#debd29"/><stop offset=".80" stop-color="#12beb9"/><stop offset=".85" stop-color="#33c69d"/><stop offset=".90" stop-color="#84cc56"/><stop offset=".95" stop-color="#fcd030"/><stop offset="1.00" stop-color="#f9fb15"/></linearGradient><rect x="36.70" y="378.12" width="274.10" height="3.15" fill="url(#g13)" shape-rendering="crispEdges"/><linearGradient id="g14" gradientUnits="userSpaceOnUse" x1="39.7" x2="307.8" y1="0" y2="0"><stop offset=".00" stop-color="#f5e626"/><stop offset=".05" stop-color="#f9fb15"/><stop offset=".10" stop-color="#f9fb15"/><stop offset=".15" stop-color="#f9fb15"/><stop offset=".20" stop-color="#f5e626"/><stop offset=".25" stop-color="#debd29"/><stop offset=".30" stop-color="#84cc56"/><stop offset=".35" stop-color="#0ab4d2"/><stop offset=".40" stop-color="#0ab4d2"/><stop offset=".45" stop-color="#0ab4d2"/><stop offset=".50" stop-color="#0ab4d2"/><stop offset=".55" stop-color="#484ef1"/><stop offset=".60" stop-color="#3f29b0"/><stop offset=".65" stop-color="#0ab4d2"/><stop offset=".70" stop-color="#33c69d"/><stop offset=".75" stop-color="#debd29"/><stop offset=".80" stop-color="#fcd030"/><stop offset=".85" stop-color="#debd29"/><stop offset=".90" stop-color="#84cc56"/><stop offset=".95" stop-color="#fcbc3d"/><stop offset="1.00" stop-color="#fcbc3d"/></linearGradient><rect x="36.70" y="380.67" width="274.10" height="3.15" fill="url(#g14)" shape-rendering="crispEdges"/><linearGradient id="g15" gradientUnits="userSpaceOnUse" x1="39.7" x2="307.8" y1="0" y2="0"><stop offset=".00" stop-color="#33c69d"/><stop offset=".05" stop-color="#84cc56"/><stop offset=".10" stop-color="#debd29"/><stop offset=".15" stop-color="#84cc56"/><stop offset=".20" stop-color="#84cc56"/><stop offset=".25" stop-color="#f5e626"/><stop offset=".30" stop-color="#fcd030"/><stop offset=".35" stop-color="#0ab4d2"/><stop offset=".40" stop-color="#484ef1"/><stop offset=".45" stop-color="#4369fe"/><stop offset=".50" stop-color="#0ab4d2"/><stop offset=".55" stop-color="#2e85f8"/><stop offset=".60" stop-color="#3f29b0"/><stop offset=".65" stop-color="#2e85f8"/><stop offset=".70" stop-color="#0ab4d2"/><stop offset=".75" stop-color="#12beb9"/><stop offset=".80" stop-color="#33c69d"/><stop offset=".85" stop-color="#33c69d"/><stop offset=".90" stop-color="#0ab4d2"/><stop offset=".95" stop-color="#2e85f8"/><stop offset="1.00" stop-color="#2e85f8"/></linearGradient><rect x="36.70" y="383.22" width="274.10" height="3.15" fill="url(#g15)" shape-rendering="crispEdges"/><linearGradient id="g16" gradientUnits="userSpaceOnUse" x1="39.7" x2="307.8" y1="0" y2="0"><stop offset=".00" stop-color="#2e85f8"/><stop offset=".05" stop-color="#2e85f8"/><stop offset=".10" stop-color="#2e85f8"/><stop offset=".15" stop-color="#4369fe"/><stop offset=".20" stop-color="#2e85f8"/><stop offset=".25" stop-color="#3777fe"/><stop offset=".30" stop-color="#2e85f8"/><stop offset=".35" stop-color="#2e85f8"/><stop offset=".40" stop-color="#2e85f8"/><stop offset=".45" stop-color="#2e85f8"/><stop offset=".50" stop-color="#249fe6"/><stop offset=".55" stop-color="#484ef1"/><stop offset=".60" stop-color="#3f29b0"/><stop offset=".65" stop-color="#484ef1"/><stop offset=".70" stop-color="#debd29"/><stop offset=".75" stop-color="#f5e626"/><stop offset=".80" stop-color="#debd29"/><stop offset=".85" stop-color="#249fe6"/><stop offset=".90" stop-color="#249fe6"/><stop offset=".95" stop-color="#2e85f8"/><stop offset="1.00" stop-color="#2e85f8"/></linearGradient><rect x="36.70" y="385.76" width="274.10" height="3.15" fill="url(#g16)" shape-rendering="crispEdges"/><linearGradient id="g17" gradientUnits="userSpaceOnUse" x1="39.7" x2="307.8" y1="0" y2="0"><stop offset=".00" stop-color="#0ab4d2"/><stop offset=".05" stop-color="#0ab4d2"/><stop offset=".10" stop-color="#249fe6"/><stop offset=".15" stop-color="#0ab4d2"/><stop offset=".20" stop-color="#0ab4d2"/><stop offset=".25" stop-color="#01b9c6"/><stop offset=".30" stop-color="#33c69d"/><stop offset=".35" stop-color="#33c69d"/><stop offset=".40" stop-color="#33c69d"/><stop offset=".45" stop-color="#33c69d"/><stop offset=".50" stop-color="#0ab4d2"/><stop offset=".55" stop-color="#484ef1"/><stop offset=".60" stop-color="#3f29b0"/><stop offset=".65" stop-color="#4539d9"/><stop offset=".70" stop-color="#33c69d"/><stop offset=".75" stop-color="#fcd030"/><stop offset=".80" stop-color="#f9fb15"/><stop offset=".85" stop-color="#33c69d"/><stop offset=".90" stop-color="#3f29b0"/><stop offset=".95" stop-color="#4539d9"/><stop offset="1.00" stop-color="#2e85f8"/></linearGradient><rect x="36.70" y="388.31" width="274.10" height="3.15" fill="url(#g17)" shape-rendering="crispEdges"/><linearGradient id="g18" gradientUnits="userSpaceOnUse" x1="39.7" x2="307.8" y1="0" y2="0"><stop offset=".00" stop-color="#2e85f8"/><stop offset=".05" stop-color="#2e85f8"/><stop offset=".10" stop-color="#0ab4d2"/><stop offset=".15" stop-color="#0ab4d2"/><stop offset=".20" stop-color="#0ab4d2"/><stop offset=".25" stop-color="#0ab4d2"/><stop offset=".30" stop-color="#2e85f8"/><stop offset=".35" stop-color="#4369fe"/><stop offset=".40" stop-color="#484ef1"/><stop offset=".45" stop-color="#2e85f8"/><stop offset=".50" stop-color="#249fe6"/><stop offset=".55" stop-color="#2e85f8"/><stop offset=".60" stop-color="#484ef1"/><stop offset=".65" stop-color="#4539d9"/><stop offset=".70" stop-color="#0ab4d2"/><stop offset=".75" stop-color="#fcd030"/><stop offset=".80" stop-color="#fcd030"/><stop offset=".85" stop-color="#fcd030"/><stop offset=".90" stop-color="#debd29"/><stop offset=".95" stop-color="#debd29"/><stop offset="1.00" stop-color="#debd29"/></linearGradient><rect x="36.70" y="390.86" width="274.10" height="3.15" fill="url(#g18)" shape-rendering="crispEdges"/><linearGradient id="g19" gradientUnits="userSpaceOnUse" x1="39.7" x2="307.8" y1="0" y2="0"><stop offset=".00" stop-color="#fcbc3d"/><stop offset=".05" stop-color="#84cc56"/><stop offset=".10" stop-color="#12beb9"/><stop offset=".15" stop-color="#0ab4d2"/><stop offset=".20" stop-color="#12beb9"/><stop offset=".25" stop-color="#84cc56"/><stop offset=".30" stop-color="#debd29"/><stop offset=".35" stop-color="#debd29"/><stop offset=".40" stop-color="#fcd030"/><stop offset=".45" stop-color="#f5e626"/><stop offset=".50" stop-color="#eeba34"/><stop offset=".55" stop-color="#2e85f8"/><stop offset=".60" stop-color="#484ef1"/><stop offset=".65" stop-color="#4539d9"/><stop offset=".70" stop-color="#0ab4d2"/><stop offset=".75" stop-color="#0ab4d2"/><stop offset=".80" stop-color="#0ab4d2"/><stop offset=".85" stop-color="#33c69d"/><stop offset=".90" stop-color="#debd29"/><stop offset=".95" stop-color="#f9fb15"/><stop offset="1.00" stop-color="#f9fb15"/></linearGradient><rect x="36.70" y="393.41" width="274.10" height="3.15" fill="url(#g19)" shape-rendering="crispEdges"/><linearGradient id="g20" gradientUnits="userSpaceOnUse" x1="39.7" x2="307.8" y1="0" y2="0"><stop offset=".00" stop-color="#84cc56"/><stop offset=".05" stop-color="#84cc56"/><stop offset=".10" stop-color="#54cc7d"/><stop offset=".15" stop-color="#84cc56"/><stop offset=".20" stop-color="#84cc56"/><stop offset=".25" stop-color="#b4c533"/><stop offset=".30" stop-color="#84cc56"/><stop offset=".35" stop-color="#debd29"/><stop offset=".40" stop-color="#fcd030"/><stop offset=".45" stop-color="#84cc56"/><stop offset=".50" stop-color="#b4c533"/><stop offset=".55" stop-color="#debd29"/><stop offset=".60" stop-color="#33c69d"/><stop offset=".65" stop-color="#2e85f8"/><stop offset=".70" stop-color="#3f29b0"/><stop offset=".75" stop-color="#4330c5"/><stop offset=".80" stop-color="#484ef1"/><stop offset=".85" stop-color="#484ef1"/><stop offset=".90" stop-color="#484ef1"/><stop offset=".95" stop-color="#484ef1"/><stop offset="1.00" stop-color="#4369fe"/></linearGradient><rect x="36.70" y="395.95" width="274.10" height="5.15" fill="url(#g20)" shape-rendering="crispEdges"/></g></g><rect x="105.93" y="350.10" width="1.6" height="48.40" fill="#dde6f3"/><rect x="213.17" y="350.10" width="1.6" height="48.40" fill="#dde6f3"/><line x1="152.8" y1="350.1" x2="152.8" y2="398.5" stroke="#000" stroke-width="1.90" stroke-dasharray="4.3 5.1"/><line x1="173.8" y1="350.1" x2="173.8" y2="398.5" stroke="#000" stroke-width="1.60" /><line x1="147.88" y1="349.67" x2="148.68" y2="353.07" stroke="#f2f2f2" stroke-width="1.10"/><line x1="167.45" y1="352.22" x2="168.25" y2="355.62" stroke="#f2f2f2" stroke-width="1.10"/><line x1="172.28" y1="354.77" x2="173.08" y2="358.17" stroke="#f2f2f2" stroke-width="1.10"/><line x1="174.15" y1="357.32" x2="174.95" y2="360.72" stroke="#f2f2f2" stroke-width="1.10"/><line x1="174.96" y1="359.86" x2="175.76" y2="363.26" stroke="#f2f2f2" stroke-width="1.10"/><line x1="176.03" y1="362.41" x2="176.83" y2="365.81" stroke="#f2f2f2" stroke-width="1.10"/><line x1="181.12" y1="364.96" x2="181.92" y2="368.36" stroke="#f2f2f2" stroke-width="1.10"/><line x1="183.81" y1="367.51" x2="184.61" y2="370.91" stroke="#f2f2f2" stroke-width="1.10"/><line x1="185.68" y1="370.05" x2="186.48" y2="373.45" stroke="#f2f2f2" stroke-width="1.10"/><line x1="187.29" y1="372.60" x2="188.09" y2="376.00" stroke="#f2f2f2" stroke-width="1.10"/><line x1="189.70" y1="375.15" x2="190.50" y2="378.55" stroke="#f2f2f2" stroke-width="1.10"/><line x1="190.78" y1="377.69" x2="191.58" y2="381.09" stroke="#f2f2f2" stroke-width="1.10"/><line x1="191.58" y1="380.24" x2="192.38" y2="383.64" stroke="#f2f2f2" stroke-width="1.10"/><line x1="196.67" y1="382.79" x2="197.47" y2="386.19" stroke="#f2f2f2" stroke-width="1.10"/><line x1="200.16" y1="385.34" x2="200.96" y2="388.74" stroke="#f2f2f2" stroke-width="1.10"/><line x1="204.45" y1="387.88" x2="205.25" y2="391.28" stroke="#f2f2f2" stroke-width="1.10"/><line x1="205.25" y1="390.43" x2="206.05" y2="393.83" stroke="#f2f2f2" stroke-width="1.10"/><line x1="210.88" y1="392.98" x2="211.68" y2="396.38" stroke="#f2f2f2" stroke-width="1.10"/><line x1="212.22" y1="395.53" x2="213.02" y2="398.93" stroke="#f2f2f2" stroke-width="1.10"/><line x1="66.5" y1="398.5" x2="66.5" y2="396.3" stroke="#333" stroke-width="0.80" /><line x1="93.3" y1="398.5" x2="93.3" y2="396.3" stroke="#333" stroke-width="0.80" /><line x1="120.1" y1="398.5" x2="120.1" y2="396.3" stroke="#333" stroke-width="0.80" /><line x1="146.9" y1="398.5" x2="146.9" y2="396.3" stroke="#333" stroke-width="0.80" /><line x1="173.8" y1="398.5" x2="173.8" y2="396.3" stroke="#333" stroke-width="0.80" /><line x1="200.6" y1="398.5" x2="200.6" y2="396.3" stroke="#333" stroke-width="0.80" /><line x1="227.4" y1="398.5" x2="227.4" y2="396.3" stroke="#333" stroke-width="0.80" /><line x1="254.2" y1="398.5" x2="254.2" y2="396.3" stroke="#333" stroke-width="0.80" /><line x1="281.0" y1="398.5" x2="281.0" y2="396.3" stroke="#333" stroke-width="0.80" /><line x1="39.4" y1="350.1" x2="39.4" y2="398.5" stroke="#ff0000" stroke-width="1.30" /><text x="36.7" y="364.7" font-size="8.70" text-anchor="end" fill="#ff0000" >5</text><text x="36.7" y="377.4" font-size="8.70" text-anchor="end" fill="#ff0000" >10</text><text x="36.7" y="390.1" font-size="8.70" text-anchor="end" fill="#ff0000" >15</text><text transform="translate(311.5 375.6) rotate(90)" font-size="8.70" text-anchor="middle" fill="#262626">negative</text><clipPath id="c21"><rect x="39.70" y="401.30" width="268.10" height="55.80"/></clipPath><g clip-path="url(#c21)"><g filter="url(#hb)"><linearGradient id="g22" gradientUnits="userSpaceOnUse" x1="39.7" x2="307.8" y1="0" y2="0"><stop offset=".00" stop-color="#0ab4d2"/><stop offset=".05" stop-color="#0ab4d2"/><stop offset=".10" stop-color="#0ab4d2"/><stop offset=".15" stop-color="#0ab4d2"/><stop offset=".20" stop-color="#0ab4d2"/><stop offset=".25" stop-color="#b4c533"/><stop offset=".30" stop-color="#f9fb15"/><stop offset=".35" stop-color="#33c69d"/><stop offset=".40" stop-color="#2e85f8"/><stop offset=".45" stop-color="#4539d9"/><stop offset=".50" stop-color="#475bf9"/><stop offset=".55" stop-color="#249fe6"/><stop offset=".60" stop-color="#249fe6"/><stop offset=".65" stop-color="#249fe6"/><stop offset=".70" stop-color="#2e85f8"/><stop offset=".75" stop-color="#54cc7d"/><stop offset=".80" stop-color="#2e85f8"/><stop offset=".85" stop-color="#484ef1"/><stop offset=".90" stop-color="#4539d9"/><stop offset=".95" stop-color="#2e85f8"/><stop offset="1.00" stop-color="#fcd030"/></linearGradient><rect x="36.70" y="399.30" width="274.10" height="5.14" fill="url(#g22)" shape-rendering="crispEdges"/><linearGradient id="g23" gradientUnits="userSpaceOnUse" x1="39.7" x2="307.8" y1="0" y2="0"><stop offset=".00" stop-color="#2e85f8"/><stop offset=".05" stop-color="#2e85f8"/><stop offset=".10" stop-color="#2e85f8"/><stop offset=".15" stop-color="#2e85f8"/><stop offset=".20" stop-color="#2e85f8"/><stop offset=".25" stop-color="#249fe6"/><stop offset=".30" stop-color="#0ab4d2"/><stop offset=".35" stop-color="#2e85f8"/><stop offset=".40" stop-color="#2e85f8"/><stop offset=".45" stop-color="#2e85f8"/><stop offset=".50" stop-color="#475bf9"/><stop offset=".55" stop-color="#3f29b0"/><stop offset=".60" stop-color="#3f29b0"/><stop offset=".65" stop-color="#3f29b0"/><stop offset=".70" stop-color="#484ef1"/><stop offset=".75" stop-color="#b4c533"/><stop offset=".80" stop-color="#84cc56"/><stop offset=".85" stop-color="#12beb9"/><stop offset=".90" stop-color="#0ab4d2"/><stop offset=".95" stop-color="#0ab4d2"/><stop offset="1.00" stop-color="#2e85f8"/></linearGradient><rect x="36.70" y="403.84" width="274.10" height="3.14" fill="url(#g23)" shape-rendering="crispEdges"/><linearGradient id="g24" gradientUnits="userSpaceOnUse" x1="39.7" x2="307.8" y1="0" y2="0"><stop offset=".00" stop-color="#2e85f8"/><stop offset=".05" stop-color="#2e85f8"/><stop offset=".10" stop-color="#2e85f8"/><stop offset=".15" stop-color="#4539d9"/><stop offset=".20" stop-color="#4539d9"/><stop offset=".25" stop-color="#4539d9"/><stop offset=".30" stop-color="#4539d9"/><stop offset=".35" stop-color="#484ef1"/><stop offset=".40" stop-color="#4369fe"/><stop offset=".45" stop-color="#fcd030"/><stop offset=".50" stop-color="#fcd030"/><stop offset=".55" stop-color="#debd29"/><stop offset=".60" stop-color="#0ab4d2"/><stop offset=".65" stop-color="#2e85f8"/><stop offset=".70" stop-color="#2e85f8"/><stop offset=".75" stop-color="#0ab4d2"/><stop offset=".80" stop-color="#12beb9"/><stop offset=".85" stop-color="#33c69d"/><stop offset=".90" stop-color="#33c69d"/><stop offset=".95" stop-color="#33c69d"/><stop offset="1.00" stop-color="#0ab4d2"/></linearGradient><rect x="36.70" y="406.37" width="274.10" height="3.14" fill="url(#g24)" shape-rendering="crispEdges"/><linearGradient id="g25" gradientUnits="userSpaceOnUse" x1="39.7" x2="307.8" y1="0" y2="0"><stop offset=".00" stop-color="#249fe6"/><stop offset=".05" stop-color="#249fe6"/><stop offset=".10" stop-color="#249fe6"/><stop offset=".15" stop-color="#249fe6"/><stop offset=".20" stop-color="#249fe6"/><stop offset=".25" stop-color="#2a92ee"/><stop offset=".30" stop-color="#4369fe"/><stop offset=".35" stop-color="#4539d9"/><stop offset=".40" stop-color="#3f29b0"/><stop offset=".45" stop-color="#3f29b0"/><stop offset=".50" stop-color="#84cc56"/><stop offset=".55" stop-color="#f9fb15"/><stop offset=".60" stop-color="#84cc56"/><stop offset=".65" stop-color="#2e85f8"/><stop offset=".70" stop-color="#4539d9"/><stop offset=".75" stop-color="#4743e7"/><stop offset=".80" stop-color="#4369fe"/><stop offset=".85" stop-color="#2e85f8"/><stop offset=".90" stop-color="#2e85f8"/><stop offset=".95" stop-color="#2e85f8"/><stop offset="1.00" stop-color="#2e85f8"/></linearGradient><rect x="36.70" y="408.91" width="274.10" height="3.14" fill="url(#g25)" shape-rendering="crispEdges"/><linearGradient id="g26" gradientUnits="userSpaceOnUse" x1="39.7" x2="307.8" y1="0" y2="0"><stop offset=".00" stop-color="#249fe6"/><stop offset=".05" stop-color="#0ab4d2"/><stop offset=".10" stop-color="#12beb9"/><stop offset=".15" stop-color="#0ab4d2"/><stop offset=".20" stop-color="#249fe6"/><stop offset=".25" stop-color="#1caadf"/><stop offset=".30" stop-color="#249fe6"/><stop offset=".35" stop-color="#4369fe"/><stop offset=".40" stop-color="#3f29b0"/><stop offset=".45" stop-color="#3f29b0"/><stop offset=".50" stop-color="#84cc56"/><stop offset=".55" stop-color="#fcd030"/><stop offset=".60" stop-color="#0ab4d2"/><stop offset=".65" stop-color="#484ef1"/><stop offset=".70" stop-color="#4539d9"/><stop offset=".75" stop-color="#4369fe"/><stop offset=".80" stop-color="#33c69d"/><stop offset=".85" stop-color="#debd29"/><stop offset=".90" stop-color="#fcd030"/><stop offset=".95" stop-color="#33c69d"/><stop offset="1.00" stop-color="#0ab4d2"/></linearGradient><rect x="36.70" y="411.45" width="274.10" height="3.14" fill="url(#g26)" shape-rendering="crispEdges"/><linearGradient id="g27" gradientUnits="userSpaceOnUse" x1="39.7" x2="307.8" y1="0" y2="0"><stop offset=".00" stop-color="#249fe6"/><stop offset=".05" stop-color="#249fe6"/><stop offset=".10" stop-color="#0ab4d2"/><stop offset=".15" stop-color="#12beb9"/><stop offset=".20" stop-color="#33c69d"/><stop offset=".25" stop-color="#12beb9"/><stop offset=".30" stop-color="#0ab4d2"/><stop offset=".35" stop-color="#484ef1"/><stop offset=".40" stop-color="#3e28ac"/><stop offset=".45" stop-color="#3f29b0"/><stop offset=".50" stop-color="#84cc56"/><stop offset=".55" stop-color="#f9fb15"/><stop offset=".60" stop-color="#33c69d"/><stop offset=".65" stop-color="#249fe6"/><stop offset=".70" stop-color="#2e85f8"/><stop offset=".75" stop-color="#33c69d"/><stop offset=".80" stop-color="#fcd030"/><stop offset=".85" stop-color="#debd29"/><stop offset=".90" stop-color="#33c69d"/><stop offset=".95" stop-color="#0ab4d2"/><stop offset="1.00" stop-color="#0ab4d2"/></linearGradient><rect x="36.70" y="413.98" width="274.10" height="3.14" fill="url(#g27)" shape-rendering="crispEdges"/><linearGradient id="g28" gradientUnits="userSpaceOnUse" x1="39.7" x2="307.8" y1="0" y2="0"><stop offset=".00" stop-color="#0ab4d2"/><stop offset=".05" stop-color="#12beb9"/><stop offset=".10" stop-color="#84cc56"/><stop offset=".15" stop-color="#84cc56"/><stop offset=".20" stop-color="#12beb9"/><stop offset=".25" stop-color="#0ab4d2"/><stop offset=".30" stop-color="#249fe6"/><stop offset=".35" stop-color="#2e85f8"/><stop offset=".40" stop-color="#4369fe"/><stop offset=".45" stop-color="#4539d9"/><stop offset=".50" stop-color="#12beb9"/><stop offset=".55" stop-color="#f9fb15"/><stop offset=".60" stop-color="#fcd030"/><stop offset=".65" stop-color="#0ab4d2"/><stop offset=".70" stop-color="#484ef1"/><stop offset=".75" stop-color="#4539d9"/><stop offset=".80" stop-color="#3f29b0"/><stop offset=".85" stop-color="#3f29b0"/><stop offset=".90" stop-color="#3f29b0"/><stop offset=".95" stop-color="#3f29b0"/><stop offset="1.00" stop-color="#3e28ac"/></linearGradient><rect x="36.70" y="416.52" width="274.10" height="3.14" fill="url(#g28)" shape-rendering="crispEdges"/><linearGradient id="g29" gradientUnits="userSpaceOnUse" x1="39.7" x2="307.8" y1="0" y2="0"><stop offset=".00" stop-color="#33c69d"/><stop offset=".05" stop-color="#12beb9"/><stop offset=".10" stop-color="#0ab4d2"/><stop offset=".15" stop-color="#33c69d"/><stop offset=".20" stop-color="#fcd030"/><stop offset=".25" stop-color="#54cc7d"/><stop offset=".30" stop-color="#33c69d"/><stop offset=".35" stop-color="#54cc7d"/><stop offset=".40" stop-color="#33c69d"/><stop offset=".45" stop-color="#484ef1"/><stop offset=".50" stop-color="#484ef1"/><stop offset=".55" stop-color="#fcd030"/><stop offset=".60" stop-color="#f9fb15"/><stop offset=".65" stop-color="#33c69d"/><stop offset=".70" stop-color="#2e85f8"/><stop offset=".75" stop-color="#0ab4d2"/><stop offset=".80" stop-color="#debd29"/><stop offset=".85" stop-color="#33c69d"/><stop offset=".90" stop-color="#0ab4d2"/><stop offset=".95" stop-color="#debd29"/><stop offset="1.00" stop-color="#fcd030"/></linearGradient><rect x="36.70" y="419.05" width="274.10" height="3.14" fill="url(#g29)" shape-rendering="crispEdges"/><linearGradient id="g30" gradientUnits="userSpaceOnUse" x1="39.7" x2="307.8" y1="0" y2="0"><stop offset=".00" stop-color="#2e85f8"/><stop offset=".05" stop-color="#2e85f8"/><stop offset=".10" stop-color="#2e85f8"/><stop offset=".15" stop-color="#2e85f8"/><stop offset=".20" stop-color="#484ef1"/><stop offset=".25" stop-color="#4743e7"/><stop offset=".30" stop-color="#4369fe"/><stop offset=".35" stop-color="#2e85f8"/><stop offset=".40" stop-color="#4369fe"/><stop offset=".45" stop-color="#3f29b0"/><stop offset=".50" stop-color="#475bf9"/><stop offset=".55" stop-color="#debd29"/><stop offset=".60" stop-color="#f9fb15"/><stop offset=".65" stop-color="#debd29"/><stop offset=".70" stop-color="#484ef1"/><stop offset=".75" stop-color="#484ef1"/><stop offset=".80" stop-color="#2e85f8"/><stop offset=".85" stop-color="#2e85f8"/><stop offset=".90" stop-color="#2e85f8"/><stop offset=".95" stop-color="#2e85f8"/><stop offset="1.00" stop-color="#249fe6"/></linearGradient><rect x="36.70" y="421.59" width="274.10" height="3.14" fill="url(#g30)" shape-rendering="crispEdges"/><linearGradient id="g31" gradientUnits="userSpaceOnUse" x1="39.7" x2="307.8" y1="0" y2="0"><stop offset=".00" stop-color="#0ab4d2"/><stop offset=".05" stop-color="#12beb9"/><stop offset=".10" stop-color="#debd29"/><stop offset=".15" stop-color="#84cc56"/><stop offset=".20" stop-color="#12beb9"/><stop offset=".25" stop-color="#27c2ac"/><stop offset=".30" stop-color="#33c69d"/><stop offset=".35" stop-color="#12beb9"/><stop offset=".40" stop-color="#249fe6"/><stop offset=".45" stop-color="#484ef1"/><stop offset=".50" stop-color="#4539d9"/><stop offset=".55" stop-color="#84cc56"/><stop offset=".60" stop-color="#f9fb15"/><stop offset=".65" stop-color="#fcd030"/><stop offset=".70" stop-color="#2e85f8"/><stop offset=".75" stop-color="#249fe6"/><stop offset=".80" stop-color="#0ab4d2"/><stop offset=".85" stop-color="#0ab4d2"/><stop offset=".90" stop-color="#12beb9"/><stop offset=".95" stop-color="#0ab4d2"/><stop offset="1.00" stop-color="#0ab4d2"/></linearGradient><rect x="36.70" y="424.13" width="274.10" height="3.14" fill="url(#g31)" shape-rendering="crispEdges"/><linearGradient id="g32" gradientUnits="userSpaceOnUse" x1="39.7" x2="307.8" y1="0" y2="0"><stop offset=".00" stop-color="#4369fe"/><stop offset=".05" stop-color="#2e85f8"/><stop offset=".10" stop-color="#2e85f8"/><stop offset=".15" stop-color="#2e85f8"/><stop offset=".20" stop-color="#2e85f8"/><stop offset=".25" stop-color="#2a92ee"/><stop offset=".30" stop-color="#249fe6"/><stop offset=".35" stop-color="#249fe6"/><stop offset=".40" stop-color="#2e85f8"/><stop offset=".45" stop-color="#4539d9"/><stop offset=".50" stop-color="#4369fe"/><stop offset=".55" stop-color="#fcd030"/><stop offset=".60" stop-color="#f9fb15"/><stop offset=".65" stop-color="#fcd030"/><stop offset=".70" stop-color="#12beb9"/><stop offset=".75" stop-color="#484ef1"/><stop offset=".80" stop-color="#4539d9"/><stop offset=".85" stop-color="#2e85f8"/><stop offset=".90" stop-color="#2e85f8"/><stop offset=".95" stop-color="#2e85f8"/><stop offset="1.00" stop-color="#4369fe"/></linearGradient><rect x="36.70" y="426.66" width="274.10" height="3.14" fill="url(#g32)" shape-rendering="crispEdges"/><linearGradient id="g33" gradientUnits="userSpaceOnUse" x1="39.7" x2="307.8" y1="0" y2="0"><stop offset=".00" stop-color="#2e85f8"/><stop offset=".05" stop-color="#484ef1"/><stop offset=".10" stop-color="#4369fe"/><stop offset=".15" stop-color="#2e85f8"/><stop offset=".20" stop-color="#2e85f8"/><stop offset=".25" stop-color="#2a92ee"/><stop offset=".30" stop-color="#249fe6"/><stop offset=".35" stop-color="#2e85f8"/><stop offset=".40" stop-color="#484ef1"/><stop offset=".45" stop-color="#3f29b0"/><stop offset=".50" stop-color="#4743e7"/><stop offset=".55" stop-color="#84cc56"/><stop offset=".60" stop-color="#f9fb15"/><stop offset=".65" stop-color="#fcd030"/><stop offset=".70" stop-color="#249fe6"/><stop offset=".75" stop-color="#1caadf"/><stop offset=".80" stop-color="#0ab4d2"/><stop offset=".85" stop-color="#33c69d"/><stop offset=".90" stop-color="#33c69d"/><stop offset=".95" stop-color="#12beb9"/><stop offset="1.00" stop-color="#0ab4d2"/></linearGradient><rect x="36.70" y="429.20" width="274.10" height="3.14" fill="url(#g33)" shape-rendering="crispEdges"/><linearGradient id="g34" gradientUnits="userSpaceOnUse" x1="39.7" x2="307.8" y1="0" y2="0"><stop offset=".00" stop-color="#249fe6"/><stop offset=".05" stop-color="#0ab4d2"/><stop offset=".10" stop-color="#249fe6"/><stop offset=".15" stop-color="#249fe6"/><stop offset=".20" stop-color="#249fe6"/><stop offset=".25" stop-color="#249fe6"/><stop offset=".30" stop-color="#249fe6"/><stop offset=".35" stop-color="#2e85f8"/><stop offset=".40" stop-color="#484ef1"/><stop offset=".45" stop-color="#3f29b0"/><stop offset=".50" stop-color="#4539d9"/><stop offset=".55" stop-color="#33c69d"/><stop offset=".60" stop-color="#f9fb15"/><stop offset=".65" stop-color="#fcd030"/><stop offset=".70" stop-color="#33c69d"/><stop offset=".75" stop-color="#01b9c6"/><stop offset=".80" stop-color="#249fe6"/><stop offset=".85" stop-color="#0ab4d2"/><stop offset=".90" stop-color="#33c69d"/><stop offset=".95" stop-color="#84cc56"/><stop offset="1.00" stop-color="#84cc56"/></linearGradient><rect x="36.70" y="431.74" width="274.10" height="3.14" fill="url(#g34)" shape-rendering="crispEdges"/><linearGradient id="g35" gradientUnits="userSpaceOnUse" x1="39.7" x2="307.8" y1="0" y2="0"><stop offset=".00" stop-color="#4369fe"/><stop offset=".05" stop-color="#4369fe"/><stop offset=".10" stop-color="#4539d9"/><stop offset=".15" stop-color="#484ef1"/><stop offset=".20" stop-color="#4369fe"/><stop offset=".25" stop-color="#3777fe"/><stop offset=".30" stop-color="#2e85f8"/><stop offset=".35" stop-color="#2e85f8"/><stop offset=".40" stop-color="#484ef1"/><stop offset=".45" stop-color="#3f29b0"/><stop offset=".50" stop-color="#4743e7"/><stop offset=".55" stop-color="#84cc56"/><stop offset=".60" stop-color="#f9fb15"/><stop offset=".65" stop-color="#f9fb15"/><stop offset=".70" stop-color="#debd29"/><stop offset=".75" stop-color="#0ab4d2"/><stop offset=".80" stop-color="#2e85f8"/><stop offset=".85" stop-color="#2e85f8"/><stop offset=".90" stop-color="#2e85f8"/><stop offset=".95" stop-color="#2e85f8"/><stop offset="1.00" stop-color="#2e85f8"/></linearGradient><rect x="36.70" y="434.27" width="274.10" height="3.14" fill="url(#g35)" shape-rendering="crispEdges"/><linearGradient id="g36" gradientUnits="userSpaceOnUse" x1="39.7" x2="307.8" y1="0" y2="0"><stop offset=".00" stop-color="#2e85f8"/><stop offset=".05" stop-color="#2e85f8"/><stop offset=".10" stop-color="#2e85f8"/><stop offset=".15" stop-color="#2e85f8"/><stop offset=".20" stop-color="#2e85f8"/><stop offset=".25" stop-color="#2e85f8"/><stop offset=".30" stop-color="#2e85f8"/><stop offset=".35" stop-color="#2e85f8"/><stop offset=".40" stop-color="#484ef1"/><stop offset=".45" stop-color="#3f29b0"/><stop offset=".50" stop-color="#4539d9"/><stop offset=".55" stop-color="#0ab4d2"/><stop offset=".60" stop-color="#f9fb15"/><stop offset=".65" stop-color="#f9fb15"/><stop offset=".70" stop-color="#fcd030"/><stop offset=".75" stop-color="#84cc56"/><stop offset=".80" stop-color="#0ab4d2"/><stop offset=".85" stop-color="#249fe6"/><stop offset=".90" stop-color="#2e85f8"/><stop offset=".95" stop-color="#2e85f8"/><stop offset="1.00" stop-color="#2e85f8"/></linearGradient><rect x="36.70" y="436.81" width="274.10" height="3.14" fill="url(#g36)" shape-rendering="crispEdges"/><linearGradient id="g37" gradientUnits="userSpaceOnUse" x1="39.7" x2="307.8" y1="0" y2="0"><stop offset=".00" stop-color="#0ab4d2"/><stop offset=".05" stop-color="#0ab4d2"/><stop offset=".10" stop-color="#0ab4d2"/><stop offset=".15" stop-color="#0ab4d2"/><stop offset=".20" stop-color="#0ab4d2"/><stop offset=".25" stop-color="#249fe6"/><stop offset=".30" stop-color="#2e85f8"/><stop offset=".35" stop-color="#2e85f8"/><stop offset=".40" stop-color="#484ef1"/><stop offset=".45" stop-color="#3f29b0"/><stop offset=".50" stop-color="#4743e7"/><stop offset=".55" stop-color="#33c69d"/><stop offset=".60" stop-color="#fcd030"/><stop offset=".65" stop-color="#f9fb15"/><stop offset=".70" stop-color="#debd29"/><stop offset=".75" stop-color="#33c69d"/><stop offset=".80" stop-color="#0ab4d2"/><stop offset=".85" stop-color="#249fe6"/><stop offset=".90" stop-color="#249fe6"/><stop offset=".95" stop-color="#249fe6"/><stop offset="1.00" stop-color="#249fe6"/></linearGradient><rect x="36.70" y="439.35" width="274.10" height="3.14" fill="url(#g37)" shape-rendering="crispEdges"/><linearGradient id="g38" gradientUnits="userSpaceOnUse" x1="39.7" x2="307.8" y1="0" y2="0"><stop offset=".00" stop-color="#33c69d"/><stop offset=".05" stop-color="#33c69d"/><stop offset=".10" stop-color="#12beb9"/><stop offset=".15" stop-color="#12beb9"/><stop offset=".20" stop-color="#12beb9"/><stop offset=".25" stop-color="#27c2ac"/><stop offset=".30" stop-color="#33c69d"/><stop offset=".35" stop-color="#12beb9"/><stop offset=".40" stop-color="#249fe6"/><stop offset=".45" stop-color="#4539d9"/><stop offset=".50" stop-color="#4330c5"/><stop offset=".55" stop-color="#2e85f8"/><stop offset=".60" stop-color="#debd29"/><stop offset=".65" stop-color="#f9fb15"/><stop offset=".70" stop-color="#fcd030"/><stop offset=".75" stop-color="#12beb9"/><stop offset=".80" stop-color="#0ab4d2"/><stop offset=".85" stop-color="#0ab4d2"/><stop offset=".90" stop-color="#0ab4d2"/><stop offset=".95" stop-color="#12beb9"/><stop offset="1.00" stop-color="#12beb9"/></linearGradient><rect x="36.70" y="441.88" width="274.10" height="3.14" fill="url(#g38)" shape-rendering="crispEdges"/><linearGradient id="g39" gradientUnits="userSpaceOnUse" x1="39.7" x2="307.8" y1="0" y2="0"><stop offset=".00" stop-color="#249fe6"/><stop offset=".05" stop-color="#249fe6"/><stop offset=".10" stop-color="#249fe6"/><stop offset=".15" stop-color="#0ab4d2"/><stop offset=".20" stop-color="#0ab4d2"/><stop offset=".25" stop-color="#0ab4d2"/><stop offset=".30" stop-color="#0ab4d2"/><stop offset=".35" stop-color="#0ab4d2"/><stop offset=".40" stop-color="#2e85f8"/><stop offset=".45" stop-color="#4539d9"/><stop offset=".50" stop-color="#3f29b0"/><stop offset=".55" stop-color="#484ef1"/><stop offset=".60" stop-color="#84cc56"/><stop offset=".65" stop-color="#f9fb15"/><stop offset=".70" stop-color="#fcd030"/><stop offset=".75" stop-color="#01b9c6"/><stop offset=".80" stop-color="#249fe6"/><stop offset=".85" stop-color="#249fe6"/><stop offset=".90" stop-color="#249fe6"/><stop offset=".95" stop-color="#249fe6"/><stop offset="1.00" stop-color="#249fe6"/></linearGradient><rect x="36.70" y="444.42" width="274.10" height="3.14" fill="url(#g39)" shape-rendering="crispEdges"/><linearGradient id="g40" gradientUnits="userSpaceOnUse" x1="39.7" x2="307.8" y1="0" y2="0"><stop offset=".00" stop-color="#33c69d"/><stop offset=".05" stop-color="#33c69d"/><stop offset=".10" stop-color="#33c69d"/><stop offset=".15" stop-color="#84cc56"/><stop offset=".20" stop-color="#debd29"/><stop offset=".25" stop-color="#fec537"/><stop offset=".30" stop-color="#fcd030"/><stop offset=".35" stop-color="#fcd030"/><stop offset=".40" stop-color="#84cc56"/><stop offset=".45" stop-color="#2e85f8"/><stop offset=".50" stop-color="#4539d9"/><stop offset=".55" stop-color="#4369fe"/><stop offset=".60" stop-color="#84cc56"/><stop offset=".65" stop-color="#f9fb15"/><stop offset=".70" stop-color="#fcd030"/><stop offset=".75" stop-color="#54cc7d"/><stop offset=".80" stop-color="#0ab4d2"/><stop offset=".85" stop-color="#0ab4d2"/><stop offset=".90" stop-color="#0ab4d2"/><stop offset=".95" stop-color="#33c69d"/><stop offset="1.00" stop-color="#33c69d"/></linearGradient><rect x="36.70" y="446.95" width="274.10" height="3.14" fill="url(#g40)" shape-rendering="crispEdges"/><linearGradient id="g41" gradientUnits="userSpaceOnUse" x1="39.7" x2="307.8" y1="0" y2="0"><stop offset=".00" stop-color="#249fe6"/><stop offset=".05" stop-color="#249fe6"/><stop offset=".10" stop-color="#249fe6"/><stop offset=".15" stop-color="#249fe6"/><stop offset=".20" stop-color="#249fe6"/><stop offset=".25" stop-color="#1caadf"/><stop offset=".30" stop-color="#12beb9"/><stop offset=".35" stop-color="#debd29"/><stop offset=".40" stop-color="#f9fb15"/><stop offset=".45" stop-color="#debd29"/><stop offset=".50" stop-color="#4369fe"/><stop offset=".55" stop-color="#4539d9"/><stop offset=".60" stop-color="#0ab4d2"/><stop offset=".65" stop-color="#f9fb15"/><stop offset=".70" stop-color="#debd29"/><stop offset=".75" stop-color="#33c69d"/><stop offset=".80" stop-color="#4369fe"/><stop offset=".85" stop-color="#4369fe"/><stop offset=".90" stop-color="#249fe6"/><stop offset=".95" stop-color="#0ab4d2"/><stop offset="1.00" stop-color="#0ab4d2"/></linearGradient><rect x="36.70" y="449.49" width="274.10" height="3.14" fill="url(#g41)" shape-rendering="crispEdges"/><linearGradient id="g42" gradientUnits="userSpaceOnUse" x1="39.7" x2="307.8" y1="0" y2="0"><stop offset=".00" stop-color="#249fe6"/><stop offset=".05" stop-color="#249fe6"/><stop offset=".10" stop-color="#249fe6"/><stop offset=".15" stop-color="#33c69d"/><stop offset=".20" stop-color="#33c69d"/><stop offset=".25" stop-color="#249fe6"/><stop offset=".30" stop-color="#2e85f8"/><stop offset=".35" stop-color="#2e85f8"/><stop offset=".40" stop-color="#4369fe"/><stop offset=".45" stop-color="#4539d9"/><stop offset=".50" stop-color="#484ef1"/><stop offset=".55" stop-color="#2e85f8"/><stop offset=".60" stop-color="#84cc56"/><stop offset=".65" stop-color="#f9fb15"/><stop offset=".70" stop-color="#fcd030"/><stop offset=".75" stop-color="#33c69d"/><stop offset=".80" stop-color="#54cc7d"/><stop offset=".85" stop-color="#84cc56"/><stop offset=".90" stop-color="#84cc56"/><stop offset=".95" stop-color="#84cc56"/><stop offset="1.00" stop-color="#debd29"/></linearGradient><rect x="36.70" y="452.03" width="274.10" height="3.14" fill="url(#g42)" shape-rendering="crispEdges"/><linearGradient id="g43" gradientUnits="userSpaceOnUse" x1="39.7" x2="307.8" y1="0" y2="0"><stop offset=".00" stop-color="#4369fe"/><stop offset=".05" stop-color="#4369fe"/><stop offset=".10" stop-color="#4369fe"/><stop offset=".15" stop-color="#4369fe"/><stop offset=".20" stop-color="#4369fe"/><stop offset=".25" stop-color="#4743e7"/><stop offset=".30" stop-color="#484ef1"/><stop offset=".35" stop-color="#484ef1"/><stop offset=".40" stop-color="#484ef1"/><stop offset=".45" stop-color="#4539d9"/><stop offset=".50" stop-color="#4369fe"/><stop offset=".55" stop-color="#0ab4d2"/><stop offset=".60" stop-color="#33c69d"/><stop offset=".65" stop-color="#84cc56"/><stop offset=".70" stop-color="#33c69d"/><stop offset=".75" stop-color="#0ab4d2"/><stop offset=".80" stop-color="#2e85f8"/><stop offset=".85" stop-color="#2e85f8"/><stop offset=".90" stop-color="#2e85f8"/><stop offset=".95" stop-color="#2e85f8"/><stop offset="1.00" stop-color="#2e85f8"/></linearGradient><rect x="36.70" y="454.56" width="274.10" height="5.14" fill="url(#g43)" shape-rendering="crispEdges"/></g></g><rect x="105.93" y="401.30" width="1.6" height="55.80" fill="#dde6f3"/><rect x="213.17" y="401.30" width="1.6" height="55.80" fill="#dde6f3"/><line x1="152.8" y1="401.3" x2="152.8" y2="457.1" stroke="#000" stroke-width="1.90" stroke-dasharray="4.3 5.1"/><line x1="173.8" y1="401.3" x2="173.8" y2="457.1" stroke="#000" stroke-width="1.60" /><line x1="117.32" y1="405.94" x2="118.12" y2="409.34" stroke="#f2f2f2" stroke-width="1.10"/><line x1="141.98" y1="408.48" x2="142.78" y2="411.88" stroke="#f2f2f2" stroke-width="1.10"/><line x1="144.93" y1="413.55" x2="145.73" y2="416.95" stroke="#f2f2f2" stroke-width="1.10"/><line x1="147.88" y1="416.09" x2="148.68" y2="419.49" stroke="#f2f2f2" stroke-width="1.10"/><line x1="168.52" y1="418.62" x2="169.32" y2="422.02" stroke="#f2f2f2" stroke-width="1.10"/><line x1="157.00" y1="421.16" x2="157.80" y2="424.56" stroke="#f2f2f2" stroke-width="1.10"/><line x1="167.99" y1="423.70" x2="168.79" y2="427.10" stroke="#f2f2f2" stroke-width="1.10"/><line x1="157.00" y1="426.23" x2="157.80" y2="429.63" stroke="#f2f2f2" stroke-width="1.10"/><line x1="165.58" y1="428.77" x2="166.38" y2="432.17" stroke="#f2f2f2" stroke-width="1.10"/><line x1="166.11" y1="431.30" x2="166.91" y2="434.70" stroke="#f2f2f2" stroke-width="1.10"/><line x1="165.04" y1="433.84" x2="165.84" y2="437.24" stroke="#f2f2f2" stroke-width="1.10"/><line x1="165.58" y1="436.38" x2="166.38" y2="439.78" stroke="#f2f2f2" stroke-width="1.10"/><line x1="168.52" y1="438.91" x2="169.32" y2="442.31" stroke="#f2f2f2" stroke-width="1.10"/><line x1="165.04" y1="441.45" x2="165.84" y2="444.85" stroke="#f2f2f2" stroke-width="1.10"/><line x1="171.21" y1="443.99" x2="172.01" y2="447.39" stroke="#f2f2f2" stroke-width="1.10"/><line x1="172.81" y1="446.52" x2="173.61" y2="449.92" stroke="#f2f2f2" stroke-width="1.10"/><line x1="155.39" y1="451.60" x2="156.19" y2="455.00" stroke="#f2f2f2" stroke-width="1.10"/><line x1="165.04" y1="454.13" x2="165.84" y2="457.53" stroke="#f2f2f2" stroke-width="1.10"/><line x1="204.18" y1="403.40" x2="204.98" y2="406.80" stroke="#f2f2f2" stroke-width="1.10"/><line x1="212.76" y1="408.48" x2="213.56" y2="411.88" stroke="#f2f2f2" stroke-width="1.10"/><line x1="180.05" y1="449.06" x2="180.85" y2="452.46" stroke="#f2f2f2" stroke-width="1.10"/><line x1="119.19" y1="400.87" x2="119.99" y2="404.27" stroke="#111" stroke-width="1.10"/><line x1="170.13" y1="405.94" x2="170.93" y2="409.34" stroke="#111" stroke-width="1.10"/><line x1="180.32" y1="408.48" x2="181.12" y2="411.88" stroke="#111" stroke-width="1.10"/><line x1="182.73" y1="411.01" x2="183.53" y2="414.41" stroke="#111" stroke-width="1.10"/><line x1="182.73" y1="413.55" x2="183.53" y2="416.95" stroke="#111" stroke-width="1.10"/><line x1="187.83" y1="416.09" x2="188.63" y2="419.49" stroke="#111" stroke-width="1.10"/><line x1="194.80" y1="418.62" x2="195.60" y2="422.02" stroke="#111" stroke-width="1.10"/><line x1="198.82" y1="421.16" x2="199.62" y2="424.56" stroke="#111" stroke-width="1.10"/><line x1="199.89" y1="423.70" x2="200.69" y2="427.10" stroke="#111" stroke-width="1.10"/><line x1="200.70" y1="426.23" x2="201.50" y2="429.63" stroke="#111" stroke-width="1.10"/><line x1="201.77" y1="428.77" x2="202.57" y2="432.17" stroke="#111" stroke-width="1.10"/><line x1="202.84" y1="431.30" x2="203.64" y2="434.70" stroke="#111" stroke-width="1.10"/><line x1="203.38" y1="433.84" x2="204.18" y2="437.24" stroke="#111" stroke-width="1.10"/><line x1="204.45" y1="436.38" x2="205.25" y2="439.78" stroke="#111" stroke-width="1.10"/><line x1="204.72" y1="438.91" x2="205.52" y2="442.31" stroke="#111" stroke-width="1.10"/><line x1="206.86" y1="441.45" x2="207.66" y2="444.85" stroke="#111" stroke-width="1.10"/><line x1="208.20" y1="443.99" x2="209.00" y2="447.39" stroke="#111" stroke-width="1.10"/><line x1="209.01" y1="446.52" x2="209.81" y2="449.92" stroke="#111" stroke-width="1.10"/><line x1="212.76" y1="449.06" x2="213.56" y2="452.46" stroke="#111" stroke-width="1.10"/><line x1="213.30" y1="451.60" x2="214.10" y2="455.00" stroke="#111" stroke-width="1.10"/><line x1="66.5" y1="457.1" x2="66.5" y2="454.9" stroke="#333" stroke-width="0.80" /><line x1="93.3" y1="457.1" x2="93.3" y2="454.9" stroke="#333" stroke-width="0.80" /><line x1="120.1" y1="457.1" x2="120.1" y2="454.9" stroke="#333" stroke-width="0.80" /><line x1="146.9" y1="457.1" x2="146.9" y2="454.9" stroke="#333" stroke-width="0.80" /><line x1="173.8" y1="457.1" x2="173.8" y2="454.9" stroke="#333" stroke-width="0.80" /><line x1="200.6" y1="457.1" x2="200.6" y2="454.9" stroke="#333" stroke-width="0.80" /><line x1="227.4" y1="457.1" x2="227.4" y2="454.9" stroke="#333" stroke-width="0.80" /><line x1="254.2" y1="457.1" x2="254.2" y2="454.9" stroke="#333" stroke-width="0.80" /><line x1="281.0" y1="457.1" x2="281.0" y2="454.9" stroke="#333" stroke-width="0.80" /><line x1="39.4" y1="401.3" x2="39.4" y2="457.1" stroke="#ff0000" stroke-width="1.30" /><text x="36.7" y="415.8" font-size="8.70" text-anchor="end" fill="#ff0000" >5</text><text x="36.7" y="428.5" font-size="8.70" text-anchor="end" fill="#ff0000" >10</text><text x="36.7" y="441.2" font-size="8.70" text-anchor="end" fill="#ff0000" >15</text><text x="36.7" y="453.9" font-size="8.70" text-anchor="end" fill="#ff0000" >20</text><text transform="translate(311.5 430.5) rotate(90)" font-size="8.70" text-anchor="middle" fill="#262626">mixed</text><clipPath id="c44"><rect x="39.70" y="459.60" width="268.10" height="82.40"/></clipPath><g clip-path="url(#c44)"><g filter="url(#hb)"><linearGradient id="g45" gradientUnits="userSpaceOnUse" x1="39.7" x2="307.8" y1="0" y2="0"><stop offset=".00" stop-color="#4369fe"/><stop offset=".05" stop-color="#4369fe"/><stop offset=".10" stop-color="#4369fe"/><stop offset=".15" stop-color="#484ef1"/><stop offset=".20" stop-color="#484ef1"/><stop offset=".25" stop-color="#1caadf"/><stop offset=".30" stop-color="#fcd030"/><stop offset=".35" stop-color="#debd29"/><stop offset=".40" stop-color="#2e85f8"/><stop offset=".45" stop-color="#484ef1"/><stop offset=".50" stop-color="#2e85f8"/><stop offset=".55" stop-color="#2e85f8"/><stop offset=".60" stop-color="#2e85f8"/><stop offset=".65" stop-color="#2e85f8"/><stop offset=".70" stop-color="#4369fe"/><stop offset=".75" stop-color="#3777fe"/><stop offset=".80" stop-color="#debd29"/><stop offset=".85" stop-color="#f9fb15"/><stop offset=".90" stop-color="#fcd030"/><stop offset=".95" stop-color="#2e85f8"/><stop offset="1.00" stop-color="#2e85f8"/></linearGradient><rect x="36.70" y="457.60" width="274.10" height="5.17" fill="url(#g45)" shape-rendering="crispEdges"/><linearGradient id="g46" gradientUnits="userSpaceOnUse" x1="39.7" x2="307.8" y1="0" y2="0"><stop offset=".00" stop-color="#484ef1"/><stop offset=".05" stop-color="#3f29b0"/><stop offset=".10" stop-color="#484ef1"/><stop offset=".15" stop-color="#249fe6"/><stop offset=".20" stop-color="#2e85f8"/><stop offset=".25" stop-color="#484ef1"/><stop offset=".30" stop-color="#2e85f8"/><stop offset=".35" stop-color="#fcd030"/><stop offset=".40" stop-color="#fcd030"/><stop offset=".45" stop-color="#fcd030"/><stop offset=".50" stop-color="#0ab4d2"/><stop offset=".55" stop-color="#0ab4d2"/><stop offset=".60" stop-color="#0ab4d2"/><stop offset=".65" stop-color="#249fe6"/><stop offset=".70" stop-color="#249fe6"/><stop offset=".75" stop-color="#2e85f8"/><stop offset=".80" stop-color="#2e85f8"/><stop offset=".85" stop-color="#4369fe"/><stop offset=".90" stop-color="#484ef1"/><stop offset=".95" stop-color="#484ef1"/><stop offset="1.00" stop-color="#4539d9"/></linearGradient><rect x="36.70" y="462.18" width="274.10" height="3.17" fill="url(#g46)" shape-rendering="crispEdges"/><linearGradient id="g47" gradientUnits="userSpaceOnUse" x1="39.7" x2="307.8" y1="0" y2="0"><stop offset=".00" stop-color="#484ef1"/><stop offset=".05" stop-color="#484ef1"/><stop offset=".10" stop-color="#484ef1"/><stop offset=".15" stop-color="#4539d9"/><stop offset=".20" stop-color="#4539d9"/><stop offset=".25" stop-color="#3777fe"/><stop offset=".30" stop-color="#0ab4d2"/><stop offset=".35" stop-color="#33c69d"/><stop offset=".40" stop-color="#fcd030"/><stop offset=".45" stop-color="#f9fb15"/><stop offset=".50" stop-color="#84cc56"/><stop offset=".55" stop-color="#2e85f8"/><stop offset=".60" stop-color="#2e85f8"/><stop offset=".65" stop-color="#2e85f8"/><stop offset=".70" stop-color="#0ab4d2"/><stop offset=".75" stop-color="#fcd030"/><stop offset=".80" stop-color="#0ab4d2"/><stop offset=".85" stop-color="#0ab4d2"/><stop offset=".90" stop-color="#0ab4d2"/><stop offset=".95" stop-color="#0ab4d2"/><stop offset="1.00" stop-color="#0ab4d2"/></linearGradient><rect x="36.70" y="464.75" width="274.10" height="3.17" fill="url(#g47)" shape-rendering="crispEdges"/><linearGradient id="g48" gradientUnits="userSpaceOnUse" x1="39.7" x2="307.8" y1="0" y2="0"><stop offset=".00" stop-color="#0ab4d2"/><stop offset=".05" stop-color="#0ab4d2"/><stop offset=".10" stop-color="#0ab4d2"/><stop offset=".15" stop-color="#0ab4d2"/><stop offset=".20" stop-color="#0ab4d2"/><stop offset=".25" stop-color="#2e85f8"/><stop offset=".30" stop-color="#484ef1"/><stop offset=".35" stop-color="#4369fe"/><stop offset=".40" stop-color="#0ab4d2"/><stop offset=".45" stop-color="#fcd030"/><stop offset=".50" stop-color="#fcd030"/><stop offset=".55" stop-color="#2e85f8"/><stop offset=".60" stop-color="#2e85f8"/><stop offset=".65" stop-color="#2e85f8"/><stop offset=".70" stop-color="#4369fe"/><stop offset=".75" stop-color="#3777fe"/><stop offset=".80" stop-color="#2e85f8"/><stop offset=".85" stop-color="#2e85f8"/><stop offset=".90" stop-color="#2e85f8"/><stop offset=".95" stop-color="#484ef1"/><stop offset="1.00" stop-color="#4539d9"/></linearGradient><rect x="36.70" y="467.33" width="274.10" height="3.17" fill="url(#g48)" shape-rendering="crispEdges"/><linearGradient id="g49" gradientUnits="userSpaceOnUse" x1="39.7" x2="307.8" y1="0" y2="0"><stop offset=".00" stop-color="#4369fe"/><stop offset=".05" stop-color="#4369fe"/><stop offset=".10" stop-color="#4369fe"/><stop offset=".15" stop-color="#4369fe"/><stop offset=".20" stop-color="#4369fe"/><stop offset=".25" stop-color="#484ef1"/><stop offset=".30" stop-color="#484ef1"/><stop offset=".35" stop-color="#4369fe"/><stop offset=".40" stop-color="#2e85f8"/><stop offset=".45" stop-color="#debd29"/><stop offset=".50" stop-color="#fcd030"/><stop offset=".55" stop-color="#0ab4d2"/><stop offset=".60" stop-color="#484ef1"/><stop offset=".65" stop-color="#3f29b0"/><stop offset=".70" stop-color="#484ef1"/><stop offset=".75" stop-color="#3777fe"/><stop offset=".80" stop-color="#12beb9"/><stop offset=".85" stop-color="#12beb9"/><stop offset=".90" stop-color="#0ab4d2"/><stop offset=".95" stop-color="#0ab4d2"/><stop offset="1.00" stop-color="#0ab4d2"/></linearGradient><rect x="36.70" y="469.90" width="274.10" height="3.17" fill="url(#g49)" shape-rendering="crispEdges"/><linearGradient id="g50" gradientUnits="userSpaceOnUse" x1="39.7" x2="307.8" y1="0" y2="0"><stop offset=".00" stop-color="#484ef1"/><stop offset=".05" stop-color="#4369fe"/><stop offset=".10" stop-color="#4369fe"/><stop offset=".15" stop-color="#4369fe"/><stop offset=".20" stop-color="#4369fe"/><stop offset=".25" stop-color="#3777fe"/><stop offset=".30" stop-color="#2e85f8"/><stop offset=".35" stop-color="#2e85f8"/><stop offset=".40" stop-color="#2e85f8"/><stop offset=".45" stop-color="#debd29"/><stop offset=".50" stop-color="#f9fb15"/><stop offset=".55" stop-color="#33c69d"/><stop offset=".60" stop-color="#4539d9"/><stop offset=".65" stop-color="#3f29b0"/><stop offset=".70" stop-color="#4369fe"/><stop offset=".75" stop-color="#475bf9"/><stop offset=".80" stop-color="#484ef1"/><stop offset=".85" stop-color="#4539d9"/><stop offset=".90" stop-color="#4539d9"/><stop offset=".95" stop-color="#4539d9"/><stop offset="1.00" stop-color="#3f29b0"/></linearGradient><rect x="36.70" y="472.48" width="274.10" height="3.17" fill="url(#g50)" shape-rendering="crispEdges"/><linearGradient id="g51" gradientUnits="userSpaceOnUse" x1="39.7" x2="307.8" y1="0" y2="0"><stop offset=".00" stop-color="#4369fe"/><stop offset=".05" stop-color="#4369fe"/><stop offset=".10" stop-color="#4369fe"/><stop offset=".15" stop-color="#4369fe"/><stop offset=".20" stop-color="#4369fe"/><stop offset=".25" stop-color="#4369fe"/><stop offset=".30" stop-color="#4369fe"/><stop offset=".35" stop-color="#484ef1"/><stop offset=".40" stop-color="#484ef1"/><stop offset=".45" stop-color="#84cc56"/><stop offset=".50" stop-color="#f9fb15"/><stop offset=".55" stop-color="#debd29"/><stop offset=".60" stop-color="#0ab4d2"/><stop offset=".65" stop-color="#2e85f8"/><stop offset=".70" stop-color="#484ef1"/><stop offset=".75" stop-color="#4369fe"/><stop offset=".80" stop-color="#4369fe"/><stop offset=".85" stop-color="#4369fe"/><stop offset=".90" stop-color="#484ef1"/><stop offset=".95" stop-color="#484ef1"/><stop offset="1.00" stop-color="#4539d9"/></linearGradient><rect x="36.70" y="475.05" width="274.10" height="3.17" fill="url(#g51)" shape-rendering="crispEdges"/><linearGradient id="g52" gradientUnits="userSpaceOnUse" x1="39.7" x2="307.8" y1="0" y2="0"><stop offset=".00" stop-color="#2e85f8"/><stop offset=".05" stop-color="#2e85f8"/><stop offset=".10" stop-color="#4539d9"/><stop offset=".15" stop-color="#484ef1"/><stop offset=".20" stop-color="#2e85f8"/><stop offset=".25" stop-color="#4369fe"/><stop offset=".30" stop-color="#484ef1"/><stop offset=".35" stop-color="#484ef1"/><stop offset=".40" stop-color="#484ef1"/><stop offset=".45" stop-color="#33c69d"/><stop offset=".50" stop-color="#f9fb15"/><stop offset=".55" stop-color="#fcd030"/><stop offset=".60" stop-color="#33c69d"/><stop offset=".65" stop-color="#0ab4d2"/><stop offset=".70" stop-color="#484ef1"/><stop offset=".75" stop-color="#4369fe"/><stop offset=".80" stop-color="#249fe6"/><stop offset=".85" stop-color="#249fe6"/><stop offset=".90" stop-color="#249fe6"/><stop offset=".95" stop-color="#249fe6"/><stop offset="1.00" stop-color="#249fe6"/></linearGradient><rect x="36.70" y="477.62" width="274.10" height="3.17" fill="url(#g52)" shape-rendering="crispEdges"/><linearGradient id="g53" gradientUnits="userSpaceOnUse" x1="39.7" x2="307.8" y1="0" y2="0"><stop offset=".00" stop-color="#2e85f8"/><stop offset=".05" stop-color="#2e85f8"/><stop offset=".10" stop-color="#2e85f8"/><stop offset=".15" stop-color="#4369fe"/><stop offset=".20" stop-color="#484ef1"/><stop offset=".25" stop-color="#484ef1"/><stop offset=".30" stop-color="#4369fe"/><stop offset=".35" stop-color="#4369fe"/><stop offset=".40" stop-color="#484ef1"/><stop offset=".45" stop-color="#2e85f8"/><stop offset=".50" stop-color="#f9fb15"/><stop offset=".55" stop-color="#f9fb15"/><stop offset=".60" stop-color="#84cc56"/><stop offset=".65" stop-color="#2e85f8"/><stop offset=".70" stop-color="#4369fe"/><stop offset=".75" stop-color="#2e85f8"/><stop offset=".80" stop-color="#2e85f8"/><stop offset=".85" stop-color="#2e85f8"/><stop offset=".90" stop-color="#2e85f8"/><stop offset=".95" stop-color="#2e85f8"/><stop offset="1.00" stop-color="#2e85f8"/></linearGradient><rect x="36.70" y="480.20" width="274.10" height="3.17" fill="url(#g53)" shape-rendering="crispEdges"/><linearGradient id="g54" gradientUnits="userSpaceOnUse" x1="39.7" x2="307.8" y1="0" y2="0"><stop offset=".00" stop-color="#0ab4d2"/><stop offset=".05" stop-color="#2e85f8"/><stop offset=".10" stop-color="#2e85f8"/><stop offset=".15" stop-color="#2e85f8"/><stop offset=".20" stop-color="#2e85f8"/><stop offset=".25" stop-color="#2a92ee"/><stop offset=".30" stop-color="#2e85f8"/><stop offset=".35" stop-color="#2e85f8"/><stop offset=".40" stop-color="#484ef1"/><stop offset=".45" stop-color="#484ef1"/><stop offset=".50" stop-color="#fcd030"/><stop offset=".55" stop-color="#f9fb15"/><stop offset=".60" stop-color="#debd29"/><stop offset=".65" stop-color="#0ab4d2"/><stop offset=".70" stop-color="#4369fe"/><stop offset=".75" stop-color="#249fe6"/><stop offset=".80" stop-color="#12beb9"/><stop offset=".85" stop-color="#12beb9"/><stop offset=".90" stop-color="#12beb9"/><stop offset=".95" stop-color="#249fe6"/><stop offset="1.00" stop-color="#4539d9"/></linearGradient><rect x="36.70" y="482.78" width="274.10" height="3.17" fill="url(#g54)" shape-rendering="crispEdges"/><linearGradient id="g55" gradientUnits="userSpaceOnUse" x1="39.7" x2="307.8" y1="0" y2="0"><stop offset=".00" stop-color="#4369fe"/><stop offset=".05" stop-color="#4369fe"/><stop offset=".10" stop-color="#4539d9"/><stop offset=".15" stop-color="#484ef1"/><stop offset=".20" stop-color="#2e85f8"/><stop offset=".25" stop-color="#12beb9"/><stop offset=".30" stop-color="#33c69d"/><stop offset=".35" stop-color="#4539d9"/><stop offset=".40" stop-color="#2e85f8"/><stop offset=".45" stop-color="#484ef1"/><stop offset=".50" stop-color="#fcd030"/><stop offset=".55" stop-color="#f9fb15"/><stop offset=".60" stop-color="#84cc56"/><stop offset=".65" stop-color="#249fe6"/><stop offset=".70" stop-color="#4539d9"/><stop offset=".75" stop-color="#4369fe"/><stop offset=".80" stop-color="#2e85f8"/><stop offset=".85" stop-color="#2e85f8"/><stop offset=".90" stop-color="#2e85f8"/><stop offset=".95" stop-color="#2e85f8"/><stop offset="1.00" stop-color="#2e85f8"/></linearGradient><rect x="36.70" y="485.35" width="274.10" height="3.17" fill="url(#g55)" shape-rendering="crispEdges"/><linearGradient id="g56" gradientUnits="userSpaceOnUse" x1="39.7" x2="307.8" y1="0" y2="0"><stop offset=".00" stop-color="#3f29b0"/><stop offset=".05" stop-color="#4369fe"/><stop offset=".10" stop-color="#2e85f8"/><stop offset=".15" stop-color="#2e85f8"/><stop offset=".20" stop-color="#84cc56"/><stop offset=".25" stop-color="#33c69d"/><stop offset=".30" stop-color="#249fe6"/><stop offset=".35" stop-color="#249fe6"/><stop offset=".40" stop-color="#249fe6"/><stop offset=".45" stop-color="#484ef1"/><stop offset=".50" stop-color="#fcd030"/><stop offset=".55" stop-color="#f9fb15"/><stop offset=".60" stop-color="#fcd030"/><stop offset=".65" stop-color="#33c69d"/><stop offset=".70" stop-color="#33c69d"/><stop offset=".75" stop-color="#01b9c6"/><stop offset=".80" stop-color="#4369fe"/><stop offset=".85" stop-color="#4539d9"/><stop offset=".90" stop-color="#2e85f8"/><stop offset=".95" stop-color="#2e85f8"/><stop offset="1.00" stop-color="#2e85f8"/></linearGradient><rect x="36.70" y="487.93" width="274.10" height="3.17" fill="url(#g56)" shape-rendering="crispEdges"/><linearGradient id="g57" gradientUnits="userSpaceOnUse" x1="39.7" x2="307.8" y1="0" y2="0"><stop offset=".00" stop-color="#249fe6"/><stop offset=".05" stop-color="#4369fe"/><stop offset=".10" stop-color="#484ef1"/><stop offset=".15" stop-color="#4539d9"/><stop offset=".20" stop-color="#2e85f8"/><stop offset=".25" stop-color="#249fe6"/><stop offset=".30" stop-color="#0ab4d2"/><stop offset=".35" stop-color="#84cc56"/><stop offset=".40" stop-color="#12beb9"/><stop offset=".45" stop-color="#484ef1"/><stop offset=".50" stop-color="#debd29"/><stop offset=".55" stop-color="#f9fb15"/><stop offset=".60" stop-color="#debd29"/><stop offset=".65" stop-color="#0ab4d2"/><stop offset=".70" stop-color="#0ab4d2"/><stop offset=".75" stop-color="#2e85f8"/><stop offset=".80" stop-color="#2e85f8"/><stop offset=".85" stop-color="#2e85f8"/><stop offset=".90" stop-color="#0ab4d2"/><stop offset=".95" stop-color="#33c69d"/><stop offset="1.00" stop-color="#4539d9"/></linearGradient><rect x="36.70" y="490.50" width="274.10" height="3.17" fill="url(#g57)" shape-rendering="crispEdges"/><linearGradient id="g58" gradientUnits="userSpaceOnUse" x1="39.7" x2="307.8" y1="0" y2="0"><stop offset=".00" stop-color="#4369fe"/><stop offset=".05" stop-color="#4369fe"/><stop offset=".10" stop-color="#4369fe"/><stop offset=".15" stop-color="#4369fe"/><stop offset=".20" stop-color="#4369fe"/><stop offset=".25" stop-color="#475bf9"/><stop offset=".30" stop-color="#484ef1"/><stop offset=".35" stop-color="#484ef1"/><stop offset=".40" stop-color="#484ef1"/><stop offset=".45" stop-color="#484ef1"/><stop offset=".50" stop-color="#84cc56"/><stop offset=".55" stop-color="#f9fb15"/><stop offset=".60" stop-color="#fcd030"/><stop offset=".65" stop-color="#33c69d"/><stop offset=".70" stop-color="#2e85f8"/><stop offset=".75" stop-color="#4539d9"/><stop offset=".80" stop-color="#3f29b0"/><stop offset=".85" stop-color="#3f29b0"/><stop offset=".90" stop-color="#3f29b0"/><stop offset=".95" stop-color="#3f29b0"/><stop offset="1.00" stop-color="#3f29b0"/></linearGradient><rect x="36.70" y="493.08" width="274.10" height="3.17" fill="url(#g58)" shape-rendering="crispEdges"/><linearGradient id="g59" gradientUnits="userSpaceOnUse" x1="39.7" x2="307.8" y1="0" y2="0"><stop offset=".00" stop-color="#4369fe"/><stop offset=".05" stop-color="#4369fe"/><stop offset=".10" stop-color="#4369fe"/><stop offset=".15" stop-color="#484ef1"/><stop offset=".20" stop-color="#4539d9"/><stop offset=".25" stop-color="#4743e7"/><stop offset=".30" stop-color="#4539d9"/><stop offset=".35" stop-color="#4539d9"/><stop offset=".40" stop-color="#3f29b0"/><stop offset=".45" stop-color="#4539d9"/><stop offset=".50" stop-color="#33c69d"/><stop offset=".55" stop-color="#f9fb15"/><stop offset=".60" stop-color="#fcd030"/><stop offset=".65" stop-color="#33c69d"/><stop offset=".70" stop-color="#0ab4d2"/><stop offset=".75" stop-color="#1caadf"/><stop offset=".80" stop-color="#249fe6"/><stop offset=".85" stop-color="#249fe6"/><stop offset=".90" stop-color="#249fe6"/><stop offset=".95" stop-color="#249fe6"/><stop offset="1.00" stop-color="#249fe6"/></linearGradient><rect x="36.70" y="495.65" width="274.10" height="3.17" fill="url(#g59)" shape-rendering="crispEdges"/><linearGradient id="g60" gradientUnits="userSpaceOnUse" x1="39.7" x2="307.8" y1="0" y2="0"><stop offset=".00" stop-color="#2e85f8"/><stop offset=".05" stop-color="#2e85f8"/><stop offset=".10" stop-color="#2e85f8"/><stop offset=".15" stop-color="#2e85f8"/><stop offset=".20" stop-color="#2e85f8"/><stop offset=".25" stop-color="#3777fe"/><stop offset=".30" stop-color="#484ef1"/><stop offset=".35" stop-color="#4539d9"/><stop offset=".40" stop-color="#4539d9"/><stop offset=".45" stop-color="#484ef1"/><stop offset=".50" stop-color="#33c69d"/><stop offset=".55" stop-color="#f9fb15"/><stop offset=".60" stop-color="#f9fb15"/><stop offset=".65" stop-color="#84cc56"/><stop offset=".70" stop-color="#484ef1"/><stop offset=".75" stop-color="#484ef1"/><stop offset=".80" stop-color="#4539d9"/><stop offset=".85" stop-color="#3f29b0"/><stop offset=".90" stop-color="#4539d9"/><stop offset=".95" stop-color="#2e85f8"/><stop offset="1.00" stop-color="#2e85f8"/></linearGradient><rect x="36.70" y="498.23" width="274.10" height="3.17" fill="url(#g60)" shape-rendering="crispEdges"/><linearGradient id="g61" gradientUnits="userSpaceOnUse" x1="39.7" x2="307.8" y1="0" y2="0"><stop offset=".00" stop-color="#4369fe"/><stop offset=".05" stop-color="#4369fe"/><stop offset=".10" stop-color="#3f29b0"/><stop offset=".15" stop-color="#484ef1"/><stop offset=".20" stop-color="#249fe6"/><stop offset=".25" stop-color="#249fe6"/><stop offset=".30" stop-color="#249fe6"/><stop offset=".35" stop-color="#249fe6"/><stop offset=".40" stop-color="#2e85f8"/><stop offset=".45" stop-color="#484ef1"/><stop offset=".50" stop-color="#33c69d"/><stop offset=".55" stop-color="#fcd030"/><stop offset=".60" stop-color="#f9fb15"/><stop offset=".65" stop-color="#84cc56"/><stop offset=".70" stop-color="#0ab4d2"/><stop offset=".75" stop-color="#2a92ee"/><stop offset=".80" stop-color="#2e85f8"/><stop offset=".85" stop-color="#2e85f8"/><stop offset=".90" stop-color="#2e85f8"/><stop offset=".95" stop-color="#2e85f8"/><stop offset="1.00" stop-color="#2e85f8"/></linearGradient><rect x="36.70" y="500.80" width="274.10" height="3.17" fill="url(#g61)" shape-rendering="crispEdges"/><linearGradient id="g62" gradientUnits="userSpaceOnUse" x1="39.7" x2="307.8" y1="0" y2="0"><stop offset=".00" stop-color="#4369fe"/><stop offset=".05" stop-color="#4539d9"/><stop offset=".10" stop-color="#484ef1"/><stop offset=".15" stop-color="#2e85f8"/><stop offset=".20" stop-color="#249fe6"/><stop offset=".25" stop-color="#2a92ee"/><stop offset=".30" stop-color="#484ef1"/><stop offset=".35" stop-color="#4539d9"/><stop offset=".40" stop-color="#4539d9"/><stop offset=".45" stop-color="#4539d9"/><stop offset=".50" stop-color="#0ab4d2"/><stop offset=".55" stop-color="#fcd030"/><stop offset=".60" stop-color="#f9fb15"/><stop offset=".65" stop-color="#debd29"/><stop offset=".70" stop-color="#2e85f8"/><stop offset=".75" stop-color="#2e85f8"/><stop offset=".80" stop-color="#2e85f8"/><stop offset=".85" stop-color="#0ab4d2"/><stop offset=".90" stop-color="#33c69d"/><stop offset=".95" stop-color="#0ab4d2"/><stop offset="1.00" stop-color="#0ab4d2"/></linearGradient><rect x="36.70" y="503.38" width="274.10" height="3.17" fill="url(#g62)" shape-rendering="crispEdges"/><linearGradient id="g63" gradientUnits="userSpaceOnUse" x1="39.7" x2="307.8" y1="0" y2="0"><stop offset=".00" stop-color="#249fe6"/><stop offset=".05" stop-color="#249fe6"/><stop offset=".10" stop-color="#249fe6"/><stop offset=".15" stop-color="#249fe6"/><stop offset=".20" stop-color="#0ab4d2"/><stop offset=".25" stop-color="#01b9c6"/><stop offset=".30" stop-color="#0ab4d2"/><stop offset=".35" stop-color="#0ab4d2"/><stop offset=".40" stop-color="#249fe6"/><stop offset=".45" stop-color="#484ef1"/><stop offset=".50" stop-color="#0ab4d2"/><stop offset=".55" stop-color="#debd29"/><stop offset=".60" stop-color="#f9fb15"/><stop offset=".65" stop-color="#debd29"/><stop offset=".70" stop-color="#484ef1"/><stop offset=".75" stop-color="#4743e7"/><stop offset=".80" stop-color="#4369fe"/><stop offset=".85" stop-color="#249fe6"/><stop offset=".90" stop-color="#249fe6"/><stop offset=".95" stop-color="#0ab4d2"/><stop offset="1.00" stop-color="#0ab4d2"/></linearGradient><rect x="36.70" y="505.95" width="274.10" height="3.17" fill="url(#g63)" shape-rendering="crispEdges"/><linearGradient id="g64" gradientUnits="userSpaceOnUse" x1="39.7" x2="307.8" y1="0" y2="0"><stop offset=".00" stop-color="#484ef1"/><stop offset=".05" stop-color="#484ef1"/><stop offset=".10" stop-color="#4539d9"/><stop offset=".15" stop-color="#4539d9"/><stop offset=".20" stop-color="#484ef1"/><stop offset=".25" stop-color="#4369fe"/><stop offset=".30" stop-color="#2e85f8"/><stop offset=".35" stop-color="#2e85f8"/><stop offset=".40" stop-color="#2e85f8"/><stop offset=".45" stop-color="#fcd030"/><stop offset=".50" stop-color="#fcd030"/><stop offset=".55" stop-color="#f9fb15"/><stop offset=".60" stop-color="#f9fb15"/><stop offset=".65" stop-color="#fcd030"/><stop offset=".70" stop-color="#84cc56"/><stop offset=".75" stop-color="#f9fb15"/><stop offset=".80" stop-color="#84cc56"/><stop offset=".85" stop-color="#249fe6"/><stop offset=".90" stop-color="#33c69d"/><stop offset=".95" stop-color="#fcd030"/><stop offset="1.00" stop-color="#12beb9"/></linearGradient><rect x="36.70" y="508.52" width="274.10" height="3.17" fill="url(#g64)" shape-rendering="crispEdges"/><linearGradient id="g65" gradientUnits="userSpaceOnUse" x1="39.7" x2="307.8" y1="0" y2="0"><stop offset=".00" stop-color="#484ef1"/><stop offset=".05" stop-color="#4539d9"/><stop offset=".10" stop-color="#3f29b0"/><stop offset=".15" stop-color="#3f29b0"/><stop offset=".20" stop-color="#4539d9"/><stop offset=".25" stop-color="#484ef1"/><stop offset=".30" stop-color="#484ef1"/><stop offset=".35" stop-color="#484ef1"/><stop offset=".40" stop-color="#484ef1"/><stop offset=".45" stop-color="#4369fe"/><stop offset=".50" stop-color="#84cc56"/><stop offset=".55" stop-color="#fcd030"/><stop offset=".60" stop-color="#f9fb15"/><stop offset=".65" stop-color="#debd29"/><stop offset=".70" stop-color="#33c69d"/><stop offset=".75" stop-color="#1caadf"/><stop offset=".80" stop-color="#4369fe"/><stop offset=".85" stop-color="#4369fe"/><stop offset=".90" stop-color="#4369fe"/><stop offset=".95" stop-color="#4369fe"/><stop offset="1.00" stop-color="#4369fe"/></linearGradient><rect x="36.70" y="511.10" width="274.10" height="3.17" fill="url(#g65)" shape-rendering="crispEdges"/><linearGradient id="g66" gradientUnits="userSpaceOnUse" x1="39.7" x2="307.8" y1="0" y2="0"><stop offset=".00" stop-color="#4369fe"/><stop offset=".05" stop-color="#4369fe"/><stop offset=".10" stop-color="#4369fe"/><stop offset=".15" stop-color="#4369fe"/><stop offset=".20" stop-color="#4369fe"/><stop offset=".25" stop-color="#475bf9"/><stop offset=".30" stop-color="#484ef1"/><stop offset=".35" stop-color="#484ef1"/><stop offset=".40" stop-color="#484ef1"/><stop offset=".45" stop-color="#484ef1"/><stop offset=".50" stop-color="#0ab4d2"/><stop offset=".55" stop-color="#84cc56"/><stop offset=".60" stop-color="#f9fb15"/><stop offset=".65" stop-color="#fcd030"/><stop offset=".70" stop-color="#0ab4d2"/><stop offset=".75" stop-color="#249fe6"/><stop offset=".80" stop-color="#2e85f8"/><stop offset=".85" stop-color="#4369fe"/><stop offset=".90" stop-color="#4369fe"/><stop offset=".95" stop-color="#2e85f8"/><stop offset="1.00" stop-color="#2e85f8"/></linearGradient><rect x="36.70" y="513.67" width="274.10" height="3.17" fill="url(#g66)" shape-rendering="crispEdges"/><linearGradient id="g67" gradientUnits="userSpaceOnUse" x1="39.7" x2="307.8" y1="0" y2="0"><stop offset=".00" stop-color="#0ab4d2"/><stop offset=".05" stop-color="#0ab4d2"/><stop offset=".10" stop-color="#0ab4d2"/><stop offset=".15" stop-color="#0ab4d2"/><stop offset=".20" stop-color="#0ab4d2"/><stop offset=".25" stop-color="#54cc7d"/><stop offset=".30" stop-color="#debd29"/><stop offset=".35" stop-color="#0ab4d2"/><stop offset=".40" stop-color="#249fe6"/><stop offset=".45" stop-color="#2e85f8"/><stop offset=".50" stop-color="#2e85f8"/><stop offset=".55" stop-color="#33c69d"/><stop offset=".60" stop-color="#f9fb15"/><stop offset=".65" stop-color="#fcd030"/><stop offset=".70" stop-color="#0ab4d2"/><stop offset=".75" stop-color="#0ab4d2"/><stop offset=".80" stop-color="#2e85f8"/><stop offset=".85" stop-color="#4539d9"/><stop offset=".90" stop-color="#484ef1"/><stop offset=".95" stop-color="#2e85f8"/><stop offset="1.00" stop-color="#2e85f8"/></linearGradient><rect x="36.70" y="516.25" width="274.10" height="3.17" fill="url(#g67)" shape-rendering="crispEdges"/><linearGradient id="g68" gradientUnits="userSpaceOnUse" x1="39.7" x2="307.8" y1="0" y2="0"><stop offset=".00" stop-color="#484ef1"/><stop offset=".05" stop-color="#484ef1"/><stop offset=".10" stop-color="#484ef1"/><stop offset=".15" stop-color="#484ef1"/><stop offset=".20" stop-color="#4369fe"/><stop offset=".25" stop-color="#3777fe"/><stop offset=".30" stop-color="#2e85f8"/><stop offset=".35" stop-color="#2e85f8"/><stop offset=".40" stop-color="#4369fe"/><stop offset=".45" stop-color="#484ef1"/><stop offset=".50" stop-color="#2e85f8"/><stop offset=".55" stop-color="#33c69d"/><stop offset=".60" stop-color="#fcd030"/><stop offset=".65" stop-color="#f9fb15"/><stop offset=".70" stop-color="#0ab4d2"/><stop offset=".75" stop-color="#249fe6"/><stop offset=".80" stop-color="#2e85f8"/><stop offset=".85" stop-color="#2e85f8"/><stop offset=".90" stop-color="#2e85f8"/><stop offset=".95" stop-color="#2e85f8"/><stop offset="1.00" stop-color="#2e85f8"/></linearGradient><rect x="36.70" y="518.83" width="274.10" height="3.17" fill="url(#g68)" shape-rendering="crispEdges"/><linearGradient id="g69" gradientUnits="userSpaceOnUse" x1="39.7" x2="307.8" y1="0" y2="0"><stop offset=".00" stop-color="#0ab4d2"/><stop offset=".05" stop-color="#0ab4d2"/><stop offset=".10" stop-color="#0ab4d2"/><stop offset=".15" stop-color="#249fe6"/><stop offset=".20" stop-color="#249fe6"/><stop offset=".25" stop-color="#2e85f8"/><stop offset=".30" stop-color="#4369fe"/><stop offset=".35" stop-color="#4539d9"/><stop offset=".40" stop-color="#4539d9"/><stop offset=".45" stop-color="#4369fe"/><stop offset=".50" stop-color="#2e85f8"/><stop offset=".55" stop-color="#0ab4d2"/><stop offset=".60" stop-color="#fcd030"/><stop offset=".65" stop-color="#f9fb15"/><stop offset=".70" stop-color="#0ab4d2"/><stop offset=".75" stop-color="#0ab4d2"/><stop offset=".80" stop-color="#0ab4d2"/><stop offset=".85" stop-color="#0ab4d2"/><stop offset=".90" stop-color="#33c69d"/><stop offset=".95" stop-color="#0ab4d2"/><stop offset="1.00" stop-color="#0ab4d2"/></linearGradient><rect x="36.70" y="521.40" width="274.10" height="3.17" fill="url(#g69)" shape-rendering="crispEdges"/><linearGradient id="g70" gradientUnits="userSpaceOnUse" x1="39.7" x2="307.8" y1="0" y2="0"><stop offset=".00" stop-color="#2e85f8"/><stop offset=".05" stop-color="#2e85f8"/><stop offset=".10" stop-color="#484ef1"/><stop offset=".15" stop-color="#4539d9"/><stop offset=".20" stop-color="#4369fe"/><stop offset=".25" stop-color="#2e85f8"/><stop offset=".30" stop-color="#2e85f8"/><stop offset=".35" stop-color="#2e85f8"/><stop offset=".40" stop-color="#2e85f8"/><stop offset=".45" stop-color="#484ef1"/><stop offset=".50" stop-color="#2e85f8"/><stop offset=".55" stop-color="#0ab4d2"/><stop offset=".60" stop-color="#debd29"/><stop offset=".65" stop-color="#f9fb15"/><stop offset=".70" stop-color="#0ab4d2"/><stop offset=".75" stop-color="#249fe6"/><stop offset=".80" stop-color="#2e85f8"/><stop offset=".85" stop-color="#2e85f8"/><stop offset=".90" stop-color="#484ef1"/><stop offset=".95" stop-color="#4539d9"/><stop offset="1.00" stop-color="#4539d9"/></linearGradient><rect x="36.70" y="523.98" width="274.10" height="3.17" fill="url(#g70)" shape-rendering="crispEdges"/><linearGradient id="g71" gradientUnits="userSpaceOnUse" x1="39.7" x2="307.8" y1="0" y2="0"><stop offset=".00" stop-color="#2e85f8"/><stop offset=".05" stop-color="#2e85f8"/><stop offset=".10" stop-color="#2e85f8"/><stop offset=".15" stop-color="#2e85f8"/><stop offset=".20" stop-color="#2e85f8"/><stop offset=".25" stop-color="#2a92ee"/><stop offset=".30" stop-color="#249fe6"/><stop offset=".35" stop-color="#2e85f8"/><stop offset=".40" stop-color="#2e85f8"/><stop offset=".45" stop-color="#2e85f8"/><stop offset=".50" stop-color="#484ef1"/><stop offset=".55" stop-color="#2e85f8"/><stop offset=".60" stop-color="#debd29"/><stop offset=".65" stop-color="#f9fb15"/><stop offset=".70" stop-color="#4369fe"/><stop offset=".75" stop-color="#4330c5"/><stop offset=".80" stop-color="#3f29b0"/><stop offset=".85" stop-color="#3f29b0"/><stop offset=".90" stop-color="#4539d9"/><stop offset=".95" stop-color="#2e85f8"/><stop offset="1.00" stop-color="#2e85f8"/></linearGradient><rect x="36.70" y="526.55" width="274.10" height="3.17" fill="url(#g71)" shape-rendering="crispEdges"/><linearGradient id="g72" gradientUnits="userSpaceOnUse" x1="39.7" x2="307.8" y1="0" y2="0"><stop offset=".00" stop-color="#2e85f8"/><stop offset=".05" stop-color="#4369fe"/><stop offset=".10" stop-color="#4539d9"/><stop offset=".15" stop-color="#4369fe"/><stop offset=".20" stop-color="#12beb9"/><stop offset=".25" stop-color="#2a92ee"/><stop offset=".30" stop-color="#0ab4d2"/><stop offset=".35" stop-color="#12beb9"/><stop offset=".40" stop-color="#0ab4d2"/><stop offset=".45" stop-color="#2e85f8"/><stop offset=".50" stop-color="#484ef1"/><stop offset=".55" stop-color="#2e85f8"/><stop offset=".60" stop-color="#84cc56"/><stop offset=".65" stop-color="#f9fb15"/><stop offset=".70" stop-color="#fcd030"/><stop offset=".75" stop-color="#0ab4d2"/><stop offset=".80" stop-color="#2e85f8"/><stop offset=".85" stop-color="#2e85f8"/><stop offset=".90" stop-color="#2e85f8"/><stop offset=".95" stop-color="#2e85f8"/><stop offset="1.00" stop-color="#2e85f8"/></linearGradient><rect x="36.70" y="529.12" width="274.10" height="3.17" fill="url(#g72)" shape-rendering="crispEdges"/><linearGradient id="g73" gradientUnits="userSpaceOnUse" x1="39.7" x2="307.8" y1="0" y2="0"><stop offset=".00" stop-color="#4369fe"/><stop offset=".05" stop-color="#4369fe"/><stop offset=".10" stop-color="#4369fe"/><stop offset=".15" stop-color="#4369fe"/><stop offset=".20" stop-color="#4369fe"/><stop offset=".25" stop-color="#475bf9"/><stop offset=".30" stop-color="#484ef1"/><stop offset=".35" stop-color="#4369fe"/><stop offset=".40" stop-color="#4369fe"/><stop offset=".45" stop-color="#484ef1"/><stop offset=".50" stop-color="#2e85f8"/><stop offset=".55" stop-color="#2e85f8"/><stop offset=".60" stop-color="#33c69d"/><stop offset=".65" stop-color="#f9fb15"/><stop offset=".70" stop-color="#33c69d"/><stop offset=".75" stop-color="#84cc56"/><stop offset=".80" stop-color="#0ab4d2"/><stop offset=".85" stop-color="#0ab4d2"/><stop offset=".90" stop-color="#249fe6"/><stop offset=".95" stop-color="#249fe6"/><stop offset="1.00" stop-color="#249fe6"/></linearGradient><rect x="36.70" y="531.70" width="274.10" height="3.17" fill="url(#g73)" shape-rendering="crispEdges"/><linearGradient id="g74" gradientUnits="userSpaceOnUse" x1="39.7" x2="307.8" y1="0" y2="0"><stop offset=".00" stop-color="#4369fe"/><stop offset=".05" stop-color="#4369fe"/><stop offset=".10" stop-color="#4369fe"/><stop offset=".15" stop-color="#4369fe"/><stop offset=".20" stop-color="#4369fe"/><stop offset=".25" stop-color="#3777fe"/><stop offset=".30" stop-color="#2e85f8"/><stop offset=".35" stop-color="#2e85f8"/><stop offset=".40" stop-color="#2e85f8"/><stop offset=".45" stop-color="#484ef1"/><stop offset=".50" stop-color="#2e85f8"/><stop offset=".55" stop-color="#0ab4d2"/><stop offset=".60" stop-color="#84cc56"/><stop offset=".65" stop-color="#f9fb15"/><stop offset=".70" stop-color="#fcd030"/><stop offset=".75" stop-color="#249fe6"/><stop offset=".80" stop-color="#3f29b0"/><stop offset=".85" stop-color="#3f29b0"/><stop offset=".90" stop-color="#4539d9"/><stop offset=".95" stop-color="#2e85f8"/><stop offset="1.00" stop-color="#2e85f8"/></linearGradient><rect x="36.70" y="534.27" width="274.10" height="3.17" fill="url(#g74)" shape-rendering="crispEdges"/><linearGradient id="g75" gradientUnits="userSpaceOnUse" x1="39.7" x2="307.8" y1="0" y2="0"><stop offset=".00" stop-color="#4369fe"/><stop offset=".05" stop-color="#4369fe"/><stop offset=".10" stop-color="#4369fe"/><stop offset=".15" stop-color="#4369fe"/><stop offset=".20" stop-color="#4369fe"/><stop offset=".25" stop-color="#4743e7"/><stop offset=".30" stop-color="#484ef1"/><stop offset=".35" stop-color="#484ef1"/><stop offset=".40" stop-color="#4539d9"/><stop offset=".45" stop-color="#4539d9"/><stop offset=".50" stop-color="#484ef1"/><stop offset=".55" stop-color="#2e85f8"/><stop offset=".60" stop-color="#33c69d"/><stop offset=".65" stop-color="#fcd030"/><stop offset=".70" stop-color="#84cc56"/><stop offset=".75" stop-color="#33c69d"/><stop offset=".80" stop-color="#0ab4d2"/><stop offset=".85" stop-color="#0ab4d2"/><stop offset=".90" stop-color="#0ab4d2"/><stop offset=".95" stop-color="#0ab4d2"/><stop offset="1.00" stop-color="#0ab4d2"/></linearGradient><rect x="36.70" y="536.85" width="274.10" height="3.17" fill="url(#g75)" shape-rendering="crispEdges"/><linearGradient id="g76" gradientUnits="userSpaceOnUse" x1="39.7" x2="307.8" y1="0" y2="0"><stop offset=".00" stop-color="#4369fe"/><stop offset=".05" stop-color="#4369fe"/><stop offset=".10" stop-color="#4369fe"/><stop offset=".15" stop-color="#4369fe"/><stop offset=".20" stop-color="#4369fe"/><stop offset=".25" stop-color="#475bf9"/><stop offset=".30" stop-color="#4369fe"/><stop offset=".35" stop-color="#4369fe"/><stop offset=".40" stop-color="#4369fe"/><stop offset=".45" stop-color="#484ef1"/><stop offset=".50" stop-color="#2e85f8"/><stop offset=".55" stop-color="#0ab4d2"/><stop offset=".60" stop-color="#debd29"/><stop offset=".65" stop-color="#f9fb15"/><stop offset=".70" stop-color="#debd29"/><stop offset=".75" stop-color="#12beb9"/><stop offset=".80" stop-color="#2e85f8"/><stop offset=".85" stop-color="#2e85f8"/><stop offset=".90" stop-color="#2e85f8"/><stop offset=".95" stop-color="#2e85f8"/><stop offset="1.00" stop-color="#2e85f8"/></linearGradient><rect x="36.70" y="539.42" width="274.10" height="5.17" fill="url(#g76)" shape-rendering="crispEdges"/></g></g><rect x="105.93" y="459.60" width="1.6" height="82.40" fill="#dde6f3"/><rect x="213.17" y="459.60" width="1.6" height="82.40" fill="#dde6f3"/><line x1="152.8" y1="459.6" x2="152.8" y2="542.0" stroke="#000" stroke-width="1.90" stroke-dasharray="4.3 5.1"/><line x1="173.8" y1="459.6" x2="173.8" y2="542.0" stroke="#000" stroke-width="1.60" /><line x1="122.14" y1="459.19" x2="122.94" y2="462.59" stroke="#111" stroke-width="1.10"/><line x1="130.99" y1="461.76" x2="131.79" y2="465.16" stroke="#111" stroke-width="1.10"/><line x1="151.63" y1="464.34" x2="152.43" y2="467.74" stroke="#111" stroke-width="1.10"/><line x1="163.16" y1="466.91" x2="163.96" y2="470.31" stroke="#111" stroke-width="1.10"/><line x1="165.31" y1="469.49" x2="166.11" y2="472.89" stroke="#111" stroke-width="1.10"/><line x1="167.99" y1="472.06" x2="168.79" y2="475.46" stroke="#111" stroke-width="1.10"/><line x1="176.03" y1="474.64" x2="176.83" y2="478.04" stroke="#111" stroke-width="1.10"/><line x1="180.05" y1="477.21" x2="180.85" y2="480.61" stroke="#111" stroke-width="1.10"/><line x1="181.39" y1="479.79" x2="182.19" y2="483.19" stroke="#111" stroke-width="1.10"/><line x1="182.73" y1="482.36" x2="183.53" y2="485.76" stroke="#111" stroke-width="1.10"/><line x1="185.95" y1="484.94" x2="186.75" y2="488.34" stroke="#111" stroke-width="1.10"/><line x1="187.56" y1="487.51" x2="188.36" y2="490.91" stroke="#111" stroke-width="1.10"/><line x1="188.63" y1="490.09" x2="189.43" y2="493.49" stroke="#111" stroke-width="1.10"/><line x1="189.70" y1="492.66" x2="190.50" y2="496.06" stroke="#111" stroke-width="1.10"/><line x1="190.78" y1="495.24" x2="191.58" y2="498.64" stroke="#111" stroke-width="1.10"/><line x1="191.58" y1="497.81" x2="192.38" y2="501.21" stroke="#111" stroke-width="1.10"/><line x1="192.65" y1="500.39" x2="193.45" y2="503.79" stroke="#111" stroke-width="1.10"/><line x1="193.73" y1="502.96" x2="194.53" y2="506.36" stroke="#111" stroke-width="1.10"/><line x1="194.80" y1="505.54" x2="195.60" y2="508.94" stroke="#111" stroke-width="1.10"/><line x1="195.87" y1="508.11" x2="196.67" y2="511.51" stroke="#111" stroke-width="1.10"/><line x1="196.67" y1="510.69" x2="197.47" y2="514.09" stroke="#111" stroke-width="1.10"/><line x1="197.48" y1="513.26" x2="198.28" y2="516.66" stroke="#111" stroke-width="1.10"/><line x1="198.28" y1="515.84" x2="199.08" y2="519.24" stroke="#111" stroke-width="1.10"/><line x1="199.36" y1="518.41" x2="200.16" y2="521.81" stroke="#111" stroke-width="1.10"/><line x1="200.16" y1="520.99" x2="200.96" y2="524.39" stroke="#111" stroke-width="1.10"/><line x1="201.23" y1="523.56" x2="202.03" y2="526.96" stroke="#111" stroke-width="1.10"/><line x1="202.04" y1="526.14" x2="202.84" y2="529.54" stroke="#111" stroke-width="1.10"/><line x1="206.33" y1="528.71" x2="207.13" y2="532.11" stroke="#111" stroke-width="1.10"/><line x1="210.88" y1="531.29" x2="211.68" y2="534.69" stroke="#111" stroke-width="1.10"/><line x1="212.49" y1="533.86" x2="213.29" y2="537.26" stroke="#111" stroke-width="1.10"/><line x1="213.03" y1="536.44" x2="213.83" y2="539.84" stroke="#111" stroke-width="1.10"/><line x1="213.57" y1="539.01" x2="214.37" y2="542.41" stroke="#111" stroke-width="1.10"/><line x1="66.5" y1="542.0" x2="66.5" y2="539.8" stroke="#333" stroke-width="0.80" /><line x1="93.3" y1="542.0" x2="93.3" y2="539.8" stroke="#333" stroke-width="0.80" /><line x1="120.1" y1="542.0" x2="120.1" y2="539.8" stroke="#333" stroke-width="0.80" /><line x1="146.9" y1="542.0" x2="146.9" y2="539.8" stroke="#333" stroke-width="0.80" /><line x1="173.8" y1="542.0" x2="173.8" y2="539.8" stroke="#333" stroke-width="0.80" /><line x1="200.6" y1="542.0" x2="200.6" y2="539.8" stroke="#333" stroke-width="0.80" /><line x1="227.4" y1="542.0" x2="227.4" y2="539.8" stroke="#333" stroke-width="0.80" /><line x1="254.2" y1="542.0" x2="254.2" y2="539.8" stroke="#333" stroke-width="0.80" /><line x1="281.0" y1="542.0" x2="281.0" y2="539.8" stroke="#333" stroke-width="0.80" /><line x1="39.4" y1="459.6" x2="39.4" y2="542.0" stroke="#ff0000" stroke-width="1.30" /><text x="36.7" y="474.3" font-size="8.70" text-anchor="end" fill="#ff0000" >5</text><text x="36.7" y="487.2" font-size="8.70" text-anchor="end" fill="#ff0000" >10</text><text x="36.7" y="500.0" font-size="8.70" text-anchor="end" fill="#ff0000" >15</text><text x="36.7" y="512.9" font-size="8.70" text-anchor="end" fill="#ff0000" >20</text><text x="36.7" y="525.8" font-size="8.70" text-anchor="end" fill="#ff0000" >25</text><text x="36.7" y="538.7" font-size="8.70" text-anchor="end" fill="#ff0000" >30</text><text transform="translate(311.5 502.1) rotate(90)" font-size="8.70" text-anchor="middle" fill="#262626">positive</text><text x="39.7" y="554.2" font-size="8.70" text-anchor="middle" fill="#262626" >-0.5</text><text x="66.5" y="554.2" font-size="8.70" text-anchor="middle" fill="#262626" >-0.4</text><text x="93.3" y="554.2" font-size="8.70" text-anchor="middle" fill="#262626" >-0.3</text><text x="120.1" y="554.2" font-size="8.70" text-anchor="middle" fill="#262626" >-0.2</text><text x="146.9" y="554.2" font-size="8.70" text-anchor="middle" fill="#262626" >-0.1</text><text x="173.8" y="554.2" font-size="8.70" text-anchor="middle" fill="#262626" >0</text><text x="200.6" y="554.2" font-size="8.70" text-anchor="middle" fill="#262626" >0.1</text><text x="227.4" y="554.2" font-size="8.70" text-anchor="middle" fill="#262626" >0.2</text><text x="254.2" y="554.2" font-size="8.70" text-anchor="middle" fill="#262626" >0.3</text><text x="281.0" y="554.2" font-size="8.70" text-anchor="middle" fill="#262626" >0.4</text><text x="307.8" y="554.2" font-size="8.70" text-anchor="middle" fill="#262626" >0.5</text><text x="175.4" y="566.5" font-size="8.70" text-anchor="middle" fill="#262626" >Time aligned on sacc. ends (s)</text><text transform="translate(22.0 446.0) rotate(-90)" font-size="8.70" text-anchor="middle" fill="#ff0000">PPC Cells #</text><clipPath id="c77"><rect x="384.70" y="419.90" width="267.90" height="55.90"/></clipPath><g clip-path="url(#c77)"><g filter="url(#hb)"><linearGradient id="g78" gradientUnits="userSpaceOnUse" x1="384.7" x2="652.6" y1="0" y2="0"><stop offset=".00" stop-color="#33c69d"/><stop offset=".05" stop-color="#33c69d"/><stop offset=".10" stop-color="#33c69d"/><stop offset=".15" stop-color="#12beb9"/><stop offset=".20" stop-color="#12beb9"/><stop offset=".25" stop-color="#0ab4d2"/><stop offset=".30" stop-color="#3f29b0"/><stop offset=".35" stop-color="#4539d9"/><stop offset=".40" stop-color="#debd29"/><stop offset=".45" stop-color="#fcd030"/><stop offset=".50" stop-color="#f5e626"/><stop offset=".55" stop-color="#f9fb15"/><stop offset=".60" stop-color="#fcd030"/><stop offset=".65" stop-color="#0ab4d2"/><stop offset=".70" stop-color="#12beb9"/><stop offset=".75" stop-color="#27c2ac"/><stop offset=".80" stop-color="#33c69d"/><stop offset=".85" stop-color="#33c69d"/><stop offset=".90" stop-color="#0ab4d2"/><stop offset=".95" stop-color="#0ab4d2"/><stop offset="1.00" stop-color="#33c69d"/></linearGradient><rect x="381.70" y="417.90" width="273.90" height="5.14" fill="url(#g78)" shape-rendering="crispEdges"/><linearGradient id="g79" gradientUnits="userSpaceOnUse" x1="384.7" x2="652.6" y1="0" y2="0"><stop offset=".00" stop-color="#fcd030"/><stop offset=".05" stop-color="#fcd030"/><stop offset=".10" stop-color="#debd29"/><stop offset=".15" stop-color="#84cc56"/><stop offset=".20" stop-color="#84cc56"/><stop offset=".25" stop-color="#fcbc3d"/><stop offset=".30" stop-color="#2e85f8"/><stop offset=".35" stop-color="#484ef1"/><stop offset=".40" stop-color="#4539d9"/><stop offset=".45" stop-color="#3f29b0"/><stop offset=".50" stop-color="#249fe6"/><stop offset=".55" stop-color="#33c69d"/><stop offset=".60" stop-color="#0ab4d2"/><stop offset=".65" stop-color="#2e85f8"/><stop offset=".70" stop-color="#3f29b0"/><stop offset=".75" stop-color="#1caadf"/><stop offset=".80" stop-color="#f9fb15"/><stop offset=".85" stop-color="#fcd030"/><stop offset=".90" stop-color="#fcd030"/><stop offset=".95" stop-color="#fcd030"/><stop offset="1.00" stop-color="#fcd030"/></linearGradient><rect x="381.70" y="422.44" width="273.90" height="3.14" fill="url(#g79)" shape-rendering="crispEdges"/><linearGradient id="g80" gradientUnits="userSpaceOnUse" x1="384.7" x2="652.6" y1="0" y2="0"><stop offset=".00" stop-color="#f9fb15"/><stop offset=".05" stop-color="#f5e626"/><stop offset=".10" stop-color="#f5e626"/><stop offset=".15" stop-color="#fcd030"/><stop offset=".20" stop-color="#debd29"/><stop offset=".25" stop-color="#33c69d"/><stop offset=".30" stop-color="#0ab4d2"/><stop offset=".35" stop-color="#2e85f8"/><stop offset=".40" stop-color="#4539d9"/><stop offset=".45" stop-color="#3e28ac"/><stop offset=".50" stop-color="#01b9c6"/><stop offset=".55" stop-color="#fcd030"/><stop offset=".60" stop-color="#debd29"/><stop offset=".65" stop-color="#33c69d"/><stop offset=".70" stop-color="#33c69d"/><stop offset=".75" stop-color="#12beb9"/><stop offset=".80" stop-color="#0ab4d2"/><stop offset=".85" stop-color="#33c69d"/><stop offset=".90" stop-color="#33c69d"/><stop offset=".95" stop-color="#0ab4d2"/><stop offset="1.00" stop-color="#0ab4d2"/></linearGradient><rect x="381.70" y="424.98" width="273.90" height="3.14" fill="url(#g80)" shape-rendering="crispEdges"/><linearGradient id="g81" gradientUnits="userSpaceOnUse" x1="384.7" x2="652.6" y1="0" y2="0"><stop offset=".00" stop-color="#54cc7d"/><stop offset=".05" stop-color="#33c69d"/><stop offset=".10" stop-color="#0ab4d2"/><stop offset=".15" stop-color="#0ab4d2"/><stop offset=".20" stop-color="#84cc56"/><stop offset=".25" stop-color="#f9fb15"/><stop offset=".30" stop-color="#debd29"/><stop offset=".35" stop-color="#0ab4d2"/><stop offset=".40" stop-color="#484ef1"/><stop offset=".45" stop-color="#3e28ac"/><stop offset=".50" stop-color="#4743e7"/><stop offset=".55" stop-color="#2e85f8"/><stop offset=".60" stop-color="#2e85f8"/><stop offset=".65" stop-color="#2e85f8"/><stop offset=".70" stop-color="#0ab4d2"/><stop offset=".75" stop-color="#12beb9"/><stop offset=".80" stop-color="#debd29"/><stop offset=".85" stop-color="#fcd030"/><stop offset=".90" stop-color="#fcd030"/><stop offset=".95" stop-color="#33c69d"/><stop offset="1.00" stop-color="#484ef1"/></linearGradient><rect x="381.70" y="427.52" width="273.90" height="3.14" fill="url(#g81)" shape-rendering="crispEdges"/><linearGradient id="g82" gradientUnits="userSpaceOnUse" x1="384.7" x2="652.6" y1="0" y2="0"><stop offset=".00" stop-color="#84cc56"/><stop offset=".05" stop-color="#fcd030"/><stop offset=".10" stop-color="#f9fb15"/><stop offset=".15" stop-color="#fcd030"/><stop offset=".20" stop-color="#fcd030"/><stop offset=".25" stop-color="#84cc56"/><stop offset=".30" stop-color="#33c69d"/><stop offset=".35" stop-color="#0ab4d2"/><stop offset=".40" stop-color="#484ef1"/><stop offset=".45" stop-color="#3f29b0"/><stop offset=".50" stop-color="#3777fe"/><stop offset=".55" stop-color="#84cc56"/><stop offset=".60" stop-color="#0ab4d2"/><stop offset=".65" stop-color="#0ab4d2"/><stop offset=".70" stop-color="#0ab4d2"/><stop offset=".75" stop-color="#2e85f8"/><stop offset=".80" stop-color="#3f29b0"/><stop offset=".85" stop-color="#2e85f8"/><stop offset=".90" stop-color="#0ab4d2"/><stop offset=".95" stop-color="#33c69d"/><stop offset="1.00" stop-color="#debd29"/></linearGradient><rect x="381.70" y="430.06" width="273.90" height="3.14" fill="url(#g82)" shape-rendering="crispEdges"/><linearGradient id="g83" gradientUnits="userSpaceOnUse" x1="384.7" x2="652.6" y1="0" y2="0"><stop offset=".00" stop-color="#fcd030"/><stop offset=".05" stop-color="#fcd030"/><stop offset=".10" stop-color="#84cc56"/><stop offset=".15" stop-color="#84cc56"/><stop offset=".20" stop-color="#84cc56"/><stop offset=".25" stop-color="#3fca8e"/><stop offset=".30" stop-color="#33c69d"/><stop offset=".35" stop-color="#0ab4d2"/><stop offset=".40" stop-color="#4369fe"/><stop offset=".45" stop-color="#3f29b0"/><stop offset=".50" stop-color="#3f28ae"/><stop offset=".55" stop-color="#4539d9"/><stop offset=".60" stop-color="#4369fe"/><stop offset=".65" stop-color="#2e85f8"/><stop offset=".70" stop-color="#2e85f8"/><stop offset=".75" stop-color="#249fe6"/><stop offset=".80" stop-color="#33c69d"/><stop offset=".85" stop-color="#fcd030"/><stop offset=".90" stop-color="#f9fb15"/><stop offset=".95" stop-color="#f9fb15"/><stop offset="1.00" stop-color="#f9fb15"/></linearGradient><rect x="381.70" y="432.60" width="273.90" height="3.14" fill="url(#g83)" shape-rendering="crispEdges"/><linearGradient id="g84" gradientUnits="userSpaceOnUse" x1="384.7" x2="652.6" y1="0" y2="0"><stop offset=".00" stop-color="#0ab4d2"/><stop offset=".05" stop-color="#0ab4d2"/><stop offset=".10" stop-color="#12beb9"/><stop offset=".15" stop-color="#0ab4d2"/><stop offset=".20" stop-color="#0ab4d2"/><stop offset=".25" stop-color="#33c69d"/><stop offset=".30" stop-color="#33c69d"/><stop offset=".35" stop-color="#33c69d"/><stop offset=".40" stop-color="#249fe6"/><stop offset=".45" stop-color="#4539d9"/><stop offset=".50" stop-color="#3f29b0"/><stop offset=".55" stop-color="#4539d9"/><stop offset=".60" stop-color="#0ab4d2"/><stop offset=".65" stop-color="#debd29"/><stop offset=".70" stop-color="#f9fb15"/><stop offset=".75" stop-color="#fcd030"/><stop offset=".80" stop-color="#fcd030"/><stop offset=".85" stop-color="#fcd030"/><stop offset=".90" stop-color="#fcd030"/><stop offset=".95" stop-color="#f9fb15"/><stop offset="1.00" stop-color="#f9fb15"/></linearGradient><rect x="381.70" y="435.15" width="273.90" height="3.14" fill="url(#g84)" shape-rendering="crispEdges"/><linearGradient id="g85" gradientUnits="userSpaceOnUse" x1="384.7" x2="652.6" y1="0" y2="0"><stop offset=".00" stop-color="#84cc56"/><stop offset=".05" stop-color="#84cc56"/><stop offset=".10" stop-color="#fcd030"/><stop offset=".15" stop-color="#fcd030"/><stop offset=".20" stop-color="#84cc56"/><stop offset=".25" stop-color="#33c69d"/><stop offset=".30" stop-color="#33c69d"/><stop offset=".35" stop-color="#84cc56"/><stop offset=".40" stop-color="#84cc56"/><stop offset=".45" stop-color="#2e85f8"/><stop offset=".50" stop-color="#3f29b0"/><stop offset=".55" stop-color="#3f29b0"/><stop offset=".60" stop-color="#4369fe"/><stop offset=".65" stop-color="#33c69d"/><stop offset=".70" stop-color="#84cc56"/><stop offset=".75" stop-color="#f5e626"/><stop offset=".80" stop-color="#fcd030"/><stop offset=".85" stop-color="#84cc56"/><stop offset=".90" stop-color="#84cc56"/><stop offset=".95" stop-color="#debd29"/><stop offset="1.00" stop-color="#debd29"/></linearGradient><rect x="381.70" y="437.69" width="273.90" height="3.14" fill="url(#g85)" shape-rendering="crispEdges"/><linearGradient id="g86" gradientUnits="userSpaceOnUse" x1="384.7" x2="652.6" y1="0" y2="0"><stop offset=".00" stop-color="#2e85f8"/><stop offset=".05" stop-color="#2e85f8"/><stop offset=".10" stop-color="#2e85f8"/><stop offset=".15" stop-color="#2e85f8"/><stop offset=".20" stop-color="#2e85f8"/><stop offset=".25" stop-color="#3777fe"/><stop offset=".30" stop-color="#2e85f8"/><stop offset=".35" stop-color="#2e85f8"/><stop offset=".40" stop-color="#2e85f8"/><stop offset=".45" stop-color="#4369fe"/><stop offset=".50" stop-color="#4330c5"/><stop offset=".55" stop-color="#3f29b0"/><stop offset=".60" stop-color="#2e85f8"/><stop offset=".65" stop-color="#33c69d"/><stop offset=".70" stop-color="#33c69d"/><stop offset=".75" stop-color="#33c69d"/><stop offset=".80" stop-color="#33c69d"/><stop offset=".85" stop-color="#0ab4d2"/><stop offset=".90" stop-color="#0ab4d2"/><stop offset=".95" stop-color="#fcd030"/><stop offset="1.00" stop-color="#fcd030"/></linearGradient><rect x="381.70" y="440.23" width="273.90" height="3.14" fill="url(#g86)" shape-rendering="crispEdges"/><linearGradient id="g87" gradientUnits="userSpaceOnUse" x1="384.7" x2="652.6" y1="0" y2="0"><stop offset=".00" stop-color="#0ab4d2"/><stop offset=".05" stop-color="#0ab4d2"/><stop offset=".10" stop-color="#249fe6"/><stop offset=".15" stop-color="#249fe6"/><stop offset=".20" stop-color="#249fe6"/><stop offset=".25" stop-color="#0ab4d2"/><stop offset=".30" stop-color="#84cc56"/><stop offset=".35" stop-color="#debd29"/><stop offset=".40" stop-color="#0ab4d2"/><stop offset=".45" stop-color="#2e85f8"/><stop offset=".50" stop-color="#4539d9"/><stop offset=".55" stop-color="#3f29b0"/><stop offset=".60" stop-color="#33c69d"/><stop offset=".65" stop-color="#fcd030"/><stop offset=".70" stop-color="#fcd030"/><stop offset=".75" stop-color="#fcd030"/><stop offset=".80" stop-color="#fcd030"/><stop offset=".85" stop-color="#fcd030"/><stop offset=".90" stop-color="#fcd030"/><stop offset=".95" stop-color="#fcd030"/><stop offset="1.00" stop-color="#fcd030"/></linearGradient><rect x="381.70" y="442.77" width="273.90" height="3.14" fill="url(#g87)" shape-rendering="crispEdges"/><linearGradient id="g88" gradientUnits="userSpaceOnUse" x1="384.7" x2="652.6" y1="0" y2="0"><stop offset=".00" stop-color="#84cc56"/><stop offset=".05" stop-color="#84cc56"/><stop offset=".10" stop-color="#f9fb15"/><stop offset=".15" stop-color="#f5e626"/><stop offset=".20" stop-color="#fcd030"/><stop offset=".25" stop-color="#54cc7d"/><stop offset=".30" stop-color="#84cc56"/><stop offset=".35" stop-color="#fcd030"/><stop offset=".40" stop-color="#debd29"/><stop offset=".45" stop-color="#2e85f8"/><stop offset=".50" stop-color="#4330c5"/><stop offset=".55" stop-color="#3f29b0"/><stop offset=".60" stop-color="#2e85f8"/><stop offset=".65" stop-color="#54cc7d"/><stop offset=".70" stop-color="#fcd030"/><stop offset=".75" stop-color="#84cc56"/><stop offset=".80" stop-color="#12beb9"/><stop offset=".85" stop-color="#debd29"/><stop offset=".90" stop-color="#249fe6"/><stop offset=".95" stop-color="#0ab4d2"/><stop offset="1.00" stop-color="#33c69d"/></linearGradient><rect x="381.70" y="445.31" width="273.90" height="3.14" fill="url(#g88)" shape-rendering="crispEdges"/><linearGradient id="g89" gradientUnits="userSpaceOnUse" x1="384.7" x2="652.6" y1="0" y2="0"><stop offset=".00" stop-color="#12beb9"/><stop offset=".05" stop-color="#0ab4d2"/><stop offset=".10" stop-color="#0ab4d2"/><stop offset=".15" stop-color="#0ab4d2"/><stop offset=".20" stop-color="#0ab4d2"/><stop offset=".25" stop-color="#0ab4d2"/><stop offset=".30" stop-color="#0ab4d2"/><stop offset=".35" stop-color="#0ab4d2"/><stop offset=".40" stop-color="#0ab4d2"/><stop offset=".45" stop-color="#2e85f8"/><stop offset=".50" stop-color="#4330c5"/><stop offset=".55" stop-color="#4539d9"/><stop offset=".60" stop-color="#debd29"/><stop offset=".65" stop-color="#fcd030"/><stop offset=".70" stop-color="#debd29"/><stop offset=".75" stop-color="#33c69d"/><stop offset=".80" stop-color="#33c69d"/><stop offset=".85" stop-color="#fcd030"/><stop offset=".90" stop-color="#debd29"/><stop offset=".95" stop-color="#84cc56"/><stop offset="1.00" stop-color="#33c69d"/></linearGradient><rect x="381.70" y="447.85" width="273.90" height="3.14" fill="url(#g89)" shape-rendering="crispEdges"/><linearGradient id="g90" gradientUnits="userSpaceOnUse" x1="384.7" x2="652.6" y1="0" y2="0"><stop offset=".00" stop-color="#f9fb15"/><stop offset=".05" stop-color="#f9fb15"/><stop offset=".10" stop-color="#f9fb15"/><stop offset=".15" stop-color="#f9fb15"/><stop offset=".20" stop-color="#fcd030"/><stop offset=".25" stop-color="#fcd030"/><stop offset=".30" stop-color="#debd29"/><stop offset=".35" stop-color="#33c69d"/><stop offset=".40" stop-color="#0ab4d2"/><stop offset=".45" stop-color="#249fe6"/><stop offset=".50" stop-color="#4743e7"/><stop offset=".55" stop-color="#3f29b0"/><stop offset=".60" stop-color="#484ef1"/><stop offset=".65" stop-color="#0ab4d2"/><stop offset=".70" stop-color="#2e85f8"/><stop offset=".75" stop-color="#2e85f8"/><stop offset=".80" stop-color="#2e85f8"/><stop offset=".85" stop-color="#2e85f8"/><stop offset=".90" stop-color="#2e85f8"/><stop offset=".95" stop-color="#4369fe"/><stop offset="1.00" stop-color="#2e85f8"/></linearGradient><rect x="381.70" y="450.39" width="273.90" height="3.14" fill="url(#g90)" shape-rendering="crispEdges"/><linearGradient id="g91" gradientUnits="userSpaceOnUse" x1="384.7" x2="652.6" y1="0" y2="0"><stop offset=".00" stop-color="#f5e626"/><stop offset=".05" stop-color="#fcd030"/><stop offset=".10" stop-color="#f9fb15"/><stop offset=".15" stop-color="#f9fb15"/><stop offset=".20" stop-color="#f9fb15"/><stop offset=".25" stop-color="#f6f11f"/><stop offset=".30" stop-color="#fcd030"/><stop offset=".35" stop-color="#33c69d"/><stop offset=".40" stop-color="#0ab4d2"/><stop offset=".45" stop-color="#0ab4d2"/><stop offset=".50" stop-color="#475bf9"/><stop offset=".55" stop-color="#3f29b0"/><stop offset=".60" stop-color="#3f29b0"/><stop offset=".65" stop-color="#484ef1"/><stop offset=".70" stop-color="#484ef1"/><stop offset=".75" stop-color="#4330c5"/><stop offset=".80" stop-color="#4539d9"/><stop offset=".85" stop-color="#2e85f8"/><stop offset=".90" stop-color="#2e85f8"/><stop offset=".95" stop-color="#249fe6"/><stop offset="1.00" stop-color="#0ab4d2"/></linearGradient><rect x="381.70" y="452.93" width="273.90" height="3.14" fill="url(#g91)" shape-rendering="crispEdges"/><linearGradient id="g92" gradientUnits="userSpaceOnUse" x1="384.7" x2="652.6" y1="0" y2="0"><stop offset=".00" stop-color="#33c69d"/><stop offset=".05" stop-color="#33c69d"/><stop offset=".10" stop-color="#fcd030"/><stop offset=".15" stop-color="#f9fb15"/><stop offset=".20" stop-color="#0ab4d2"/><stop offset=".25" stop-color="#0ab4d2"/><stop offset=".30" stop-color="#fcd030"/><stop offset=".35" stop-color="#2e85f8"/><stop offset=".40" stop-color="#484ef1"/><stop offset=".45" stop-color="#0ab4d2"/><stop offset=".50" stop-color="#2e85f8"/><stop offset=".55" stop-color="#3f29b0"/><stop offset=".60" stop-color="#3f29b0"/><stop offset=".65" stop-color="#484ef1"/><stop offset=".70" stop-color="#249fe6"/><stop offset=".75" stop-color="#249fe6"/><stop offset=".80" stop-color="#2e85f8"/><stop offset=".85" stop-color="#4369fe"/><stop offset=".90" stop-color="#484ef1"/><stop offset=".95" stop-color="#2e85f8"/><stop offset="1.00" stop-color="#2e85f8"/></linearGradient><rect x="381.70" y="455.47" width="273.90" height="3.14" fill="url(#g92)" shape-rendering="crispEdges"/><linearGradient id="g93" gradientUnits="userSpaceOnUse" x1="384.7" x2="652.6" y1="0" y2="0"><stop offset=".00" stop-color="#2e85f8"/><stop offset=".05" stop-color="#2e85f8"/><stop offset=".10" stop-color="#249fe6"/><stop offset=".15" stop-color="#249fe6"/><stop offset=".20" stop-color="#2e85f8"/><stop offset=".25" stop-color="#1caadf"/><stop offset=".30" stop-color="#0ab4d2"/><stop offset=".35" stop-color="#0ab4d2"/><stop offset=".40" stop-color="#0ab4d2"/><stop offset=".45" stop-color="#0ab4d2"/><stop offset=".50" stop-color="#2a92ee"/><stop offset=".55" stop-color="#4539d9"/><stop offset=".60" stop-color="#3f29b0"/><stop offset=".65" stop-color="#4539d9"/><stop offset=".70" stop-color="#0ab4d2"/><stop offset=".75" stop-color="#fcbc3d"/><stop offset=".80" stop-color="#fcd030"/><stop offset=".85" stop-color="#fcd030"/><stop offset=".90" stop-color="#84cc56"/><stop offset=".95" stop-color="#0ab4d2"/><stop offset="1.00" stop-color="#3f29b0"/></linearGradient><rect x="381.70" y="458.01" width="273.90" height="3.14" fill="url(#g93)" shape-rendering="crispEdges"/><linearGradient id="g94" gradientUnits="userSpaceOnUse" x1="384.7" x2="652.6" y1="0" y2="0"><stop offset=".00" stop-color="#fcbc3d"/><stop offset=".05" stop-color="#84cc56"/><stop offset=".10" stop-color="#0ab4d2"/><stop offset=".15" stop-color="#249fe6"/><stop offset=".20" stop-color="#0ab4d2"/><stop offset=".25" stop-color="#2a92ee"/><stop offset=".30" stop-color="#4369fe"/><stop offset=".35" stop-color="#2e85f8"/><stop offset=".40" stop-color="#0ab4d2"/><stop offset=".45" stop-color="#33c69d"/><stop offset=".50" stop-color="#0ab4d2"/><stop offset=".55" stop-color="#2e85f8"/><stop offset=".60" stop-color="#484ef1"/><stop offset=".65" stop-color="#4539d9"/><stop offset=".70" stop-color="#2e85f8"/><stop offset=".75" stop-color="#0ab4d2"/><stop offset=".80" stop-color="#debd29"/><stop offset=".85" stop-color="#f9fb15"/><stop offset=".90" stop-color="#f9fb15"/><stop offset=".95" stop-color="#84cc56"/><stop offset="1.00" stop-color="#0ab4d2"/></linearGradient><rect x="381.70" y="460.55" width="273.90" height="3.14" fill="url(#g94)" shape-rendering="crispEdges"/><linearGradient id="g95" gradientUnits="userSpaceOnUse" x1="384.7" x2="652.6" y1="0" y2="0"><stop offset=".00" stop-color="#0ab4d2"/><stop offset=".05" stop-color="#0ab4d2"/><stop offset=".10" stop-color="#0ab4d2"/><stop offset=".15" stop-color="#33c69d"/><stop offset=".20" stop-color="#33c69d"/><stop offset=".25" stop-color="#12beb9"/><stop offset=".30" stop-color="#0ab4d2"/><stop offset=".35" stop-color="#12beb9"/><stop offset=".40" stop-color="#33c69d"/><stop offset=".45" stop-color="#33c69d"/><stop offset=".50" stop-color="#33c69d"/><stop offset=".55" stop-color="#2e85f8"/><stop offset=".60" stop-color="#484ef1"/><stop offset=".65" stop-color="#4539d9"/><stop offset=".70" stop-color="#0ab4d2"/><stop offset=".75" stop-color="#fcbc3d"/><stop offset=".80" stop-color="#fcd030"/><stop offset=".85" stop-color="#fcd030"/><stop offset=".90" stop-color="#fcd030"/><stop offset=".95" stop-color="#debd29"/><stop offset="1.00" stop-color="#84cc56"/></linearGradient><rect x="381.70" y="463.10" width="273.90" height="3.14" fill="url(#g95)" shape-rendering="crispEdges"/><linearGradient id="g96" gradientUnits="userSpaceOnUse" x1="384.7" x2="652.6" y1="0" y2="0"><stop offset=".00" stop-color="#debd29"/><stop offset=".05" stop-color="#fcd030"/><stop offset=".10" stop-color="#fcd030"/><stop offset=".15" stop-color="#fcd030"/><stop offset=".20" stop-color="#debd29"/><stop offset=".25" stop-color="#54cc7d"/><stop offset=".30" stop-color="#f9fb15"/><stop offset=".35" stop-color="#fcd030"/><stop offset=".40" stop-color="#0ab4d2"/><stop offset=".45" stop-color="#2e85f8"/><stop offset=".50" stop-color="#2e85f8"/><stop offset=".55" stop-color="#249fe6"/><stop offset=".60" stop-color="#2e85f8"/><stop offset=".65" stop-color="#4539d9"/><stop offset=".70" stop-color="#2e85f8"/><stop offset=".75" stop-color="#249fe6"/><stop offset=".80" stop-color="#2e85f8"/><stop offset=".85" stop-color="#0ab4d2"/><stop offset=".90" stop-color="#0ab4d2"/><stop offset=".95" stop-color="#2e85f8"/><stop offset="1.00" stop-color="#2e85f8"/></linearGradient><rect x="381.70" y="465.64" width="273.90" height="3.14" fill="url(#g96)" shape-rendering="crispEdges"/><linearGradient id="g97" gradientUnits="userSpaceOnUse" x1="384.7" x2="652.6" y1="0" y2="0"><stop offset=".00" stop-color="#debd29"/><stop offset=".05" stop-color="#0ab4d2"/><stop offset=".10" stop-color="#0ab4d2"/><stop offset=".15" stop-color="#fcd030"/><stop offset=".20" stop-color="#fcd030"/><stop offset=".25" stop-color="#84cc56"/><stop offset=".30" stop-color="#0ab4d2"/><stop offset=".35" stop-color="#0ab4d2"/><stop offset=".40" stop-color="#0ab4d2"/><stop offset=".45" stop-color="#249fe6"/><stop offset=".50" stop-color="#2e85f8"/><stop offset=".55" stop-color="#2e85f8"/><stop offset=".60" stop-color="#2e85f8"/><stop offset=".65" stop-color="#4539d9"/><stop offset=".70" stop-color="#484ef1"/><stop offset=".75" stop-color="#12beb9"/><stop offset=".80" stop-color="#33c69d"/><stop offset=".85" stop-color="#debd29"/><stop offset=".90" stop-color="#f9fb15"/><stop offset=".95" stop-color="#fcd030"/><stop offset="1.00" stop-color="#0ab4d2"/></linearGradient><rect x="381.70" y="468.18" width="273.90" height="3.14" fill="url(#g97)" shape-rendering="crispEdges"/><linearGradient id="g98" gradientUnits="userSpaceOnUse" x1="384.7" x2="652.6" y1="0" y2="0"><stop offset=".00" stop-color="#debd29"/><stop offset=".05" stop-color="#debd29"/><stop offset=".10" stop-color="#84cc56"/><stop offset=".15" stop-color="#84cc56"/><stop offset=".20" stop-color="#84cc56"/><stop offset=".25" stop-color="#33c69d"/><stop offset=".30" stop-color="#debd29"/><stop offset=".35" stop-color="#debd29"/><stop offset=".40" stop-color="#0ab4d2"/><stop offset=".45" stop-color="#249fe6"/><stop offset=".50" stop-color="#249fe6"/><stop offset=".55" stop-color="#0ab4d2"/><stop offset=".60" stop-color="#2e85f8"/><stop offset=".65" stop-color="#4369fe"/><stop offset=".70" stop-color="#4539d9"/><stop offset=".75" stop-color="#3777fe"/><stop offset=".80" stop-color="#0ab4d2"/><stop offset=".85" stop-color="#0ab4d2"/><stop offset=".90" stop-color="#0ab4d2"/><stop offset=".95" stop-color="#0ab4d2"/><stop offset="1.00" stop-color="#fcd030"/></linearGradient><rect x="381.70" y="470.72" width="273.90" height="3.14" fill="url(#g98)" shape-rendering="crispEdges"/><linearGradient id="g99" gradientUnits="userSpaceOnUse" x1="384.7" x2="652.6" y1="0" y2="0"><stop offset=".00" stop-color="#b4c533"/><stop offset=".05" stop-color="#b4c533"/><stop offset=".10" stop-color="#b4c533"/><stop offset=".15" stop-color="#b4c533"/><stop offset=".20" stop-color="#33c69d"/><stop offset=".25" stop-color="#debd29"/><stop offset=".30" stop-color="#fcd030"/><stop offset=".35" stop-color="#fcd030"/><stop offset=".40" stop-color="#f5e626"/><stop offset=".45" stop-color="#f9fb15"/><stop offset=".50" stop-color="#debd29"/><stop offset=".55" stop-color="#2e85f8"/><stop offset=".60" stop-color="#4369fe"/><stop offset=".65" stop-color="#4369fe"/><stop offset=".70" stop-color="#484ef1"/><stop offset=".75" stop-color="#4539d9"/><stop offset=".80" stop-color="#484ef1"/><stop offset=".85" stop-color="#2e85f8"/><stop offset=".90" stop-color="#2e85f8"/><stop offset=".95" stop-color="#2e85f8"/><stop offset="1.00" stop-color="#2e85f8"/></linearGradient><rect x="381.70" y="473.26" width="273.90" height="5.14" fill="url(#g99)" shape-rendering="crispEdges"/></g></g><rect x="450.88" y="419.90" width="1.6" height="55.90" fill="#dde6f3"/><rect x="558.04" y="419.90" width="1.6" height="55.90" fill="#dde6f3"/><line x1="497.8" y1="419.9" x2="497.8" y2="475.8" stroke="#000" stroke-width="1.90" stroke-dasharray="4.3 5.1"/><line x1="518.6" y1="419.9" x2="518.6" y2="475.8" stroke="#000" stroke-width="1.60" /><line x1="467.35" y1="419.47" x2="468.15" y2="422.87" stroke="#f2f2f2" stroke-width="1.10"/><line x1="474.05" y1="422.01" x2="474.85" y2="425.41" stroke="#f2f2f2" stroke-width="1.10"/><line x1="496.82" y1="424.55" x2="497.62" y2="427.95" stroke="#f2f2f2" stroke-width="1.10"/><line x1="503.52" y1="427.09" x2="504.32" y2="430.49" stroke="#f2f2f2" stroke-width="1.10"/><line x1="503.52" y1="429.63" x2="504.32" y2="433.03" stroke="#f2f2f2" stroke-width="1.10"/><line x1="505.39" y1="432.18" x2="506.19" y2="435.57" stroke="#f2f2f2" stroke-width="1.10"/><line x1="514.23" y1="434.72" x2="515.03" y2="438.12" stroke="#f2f2f2" stroke-width="1.10"/><line x1="518.25" y1="437.26" x2="519.05" y2="440.66" stroke="#f2f2f2" stroke-width="1.10"/><line x1="521.73" y1="439.80" x2="522.53" y2="443.20" stroke="#f2f2f2" stroke-width="1.10"/><line x1="523.61" y1="442.34" x2="524.41" y2="445.74" stroke="#f2f2f2" stroke-width="1.10"/><line x1="524.14" y1="444.88" x2="524.94" y2="448.28" stroke="#f2f2f2" stroke-width="1.10"/><line x1="524.68" y1="447.42" x2="525.48" y2="450.82" stroke="#f2f2f2" stroke-width="1.10"/><line x1="526.29" y1="449.96" x2="527.09" y2="453.36" stroke="#f2f2f2" stroke-width="1.10"/><line x1="530.31" y1="452.50" x2="531.11" y2="455.90" stroke="#f2f2f2" stroke-width="1.10"/><line x1="538.34" y1="455.04" x2="539.14" y2="458.44" stroke="#f2f2f2" stroke-width="1.10"/><line x1="545.04" y1="457.58" x2="545.84" y2="460.98" stroke="#f2f2f2" stroke-width="1.10"/><line x1="548.25" y1="460.12" x2="549.05" y2="463.52" stroke="#f2f2f2" stroke-width="1.10"/><line x1="549.06" y1="462.67" x2="549.86" y2="466.07" stroke="#f2f2f2" stroke-width="1.10"/><line x1="549.86" y1="465.21" x2="550.66" y2="468.61" stroke="#f2f2f2" stroke-width="1.10"/><line x1="555.76" y1="467.75" x2="556.56" y2="471.15" stroke="#f2f2f2" stroke-width="1.10"/><line x1="557.10" y1="470.29" x2="557.90" y2="473.69" stroke="#f2f2f2" stroke-width="1.10"/><line x1="558.44" y1="472.83" x2="559.24" y2="476.23" stroke="#f2f2f2" stroke-width="1.10"/><line x1="411.5" y1="475.8" x2="411.5" y2="473.6" stroke="#333" stroke-width="0.80" /><line x1="438.3" y1="475.8" x2="438.3" y2="473.6" stroke="#333" stroke-width="0.80" /><line x1="465.1" y1="475.8" x2="465.1" y2="473.6" stroke="#333" stroke-width="0.80" /><line x1="491.9" y1="475.8" x2="491.9" y2="473.6" stroke="#333" stroke-width="0.80" /><line x1="518.6" y1="475.8" x2="518.6" y2="473.6" stroke="#333" stroke-width="0.80" /><line x1="545.4" y1="475.8" x2="545.4" y2="473.6" stroke="#333" stroke-width="0.80" /><line x1="572.2" y1="475.8" x2="572.2" y2="473.6" stroke="#333" stroke-width="0.80" /><line x1="599.0" y1="475.8" x2="599.0" y2="473.6" stroke="#333" stroke-width="0.80" /><line x1="625.8" y1="475.8" x2="625.8" y2="473.6" stroke="#333" stroke-width="0.80" /><line x1="384.4" y1="419.9" x2="384.4" y2="475.8" stroke="#1a8c1a" stroke-width="1.30" /><text x="381.7" y="434.4" font-size="8.70" text-anchor="end" fill="#1a8c1a" >5</text><text x="381.7" y="447.1" font-size="8.70" text-anchor="end" fill="#1a8c1a" >10</text><text x="381.7" y="459.8" font-size="8.70" text-anchor="end" fill="#1a8c1a" >15</text><text x="381.7" y="472.5" font-size="8.70" text-anchor="end" fill="#1a8c1a" >20</text><text transform="translate(656.0 449.2) rotate(90)" font-size="8.70" text-anchor="middle" fill="#262626">negative</text><clipPath id="c100"><rect x="384.70" y="478.30" width="267.90" height="8.10"/></clipPath><g clip-path="url(#c100)"><g filter="url(#hb)"><linearGradient id="g101" gradientUnits="userSpaceOnUse" x1="384.7" x2="652.6" y1="0" y2="0"><stop offset=".00" stop-color="#0ab4d2"/><stop offset=".05" stop-color="#0ab4d2"/><stop offset=".10" stop-color="#0ab4d2"/><stop offset=".15" stop-color="#0ab4d2"/><stop offset=".20" stop-color="#12beb9"/><stop offset=".25" stop-color="#debd29"/><stop offset=".30" stop-color="#f9fb15"/><stop offset=".35" stop-color="#f9fb15"/><stop offset=".40" stop-color="#f9fb15"/><stop offset=".45" stop-color="#fcd030"/><stop offset=".50" stop-color="#33c69d"/><stop offset=".55" stop-color="#0ab4d2"/><stop offset=".60" stop-color="#2e85f8"/><stop offset=".65" stop-color="#484ef1"/><stop offset=".70" stop-color="#4539d9"/><stop offset=".75" stop-color="#4743e7"/><stop offset=".80" stop-color="#484ef1"/><stop offset=".85" stop-color="#484ef1"/><stop offset=".90" stop-color="#484ef1"/><stop offset=".95" stop-color="#484ef1"/><stop offset="1.00" stop-color="#4539d9"/></linearGradient><rect x="381.70" y="476.30" width="273.90" height="5.30" fill="url(#g101)" shape-rendering="crispEdges"/><linearGradient id="g102" gradientUnits="userSpaceOnUse" x1="384.7" x2="652.6" y1="0" y2="0"><stop offset=".00" stop-color="#4369fe"/><stop offset=".05" stop-color="#4369fe"/><stop offset=".10" stop-color="#4369fe"/><stop offset=".15" stop-color="#4369fe"/><stop offset=".20" stop-color="#4369fe"/><stop offset=".25" stop-color="#475bf9"/><stop offset=".30" stop-color="#4539d9"/><stop offset=".35" stop-color="#3f29b0"/><stop offset=".40" stop-color="#4539d9"/><stop offset=".45" stop-color="#4539d9"/><stop offset=".50" stop-color="#2e85f8"/><stop offset=".55" stop-color="#0ab4d2"/><stop offset=".60" stop-color="#33c69d"/><stop offset=".65" stop-color="#f9fb15"/><stop offset=".70" stop-color="#f9fb15"/><stop offset=".75" stop-color="#debd29"/><stop offset=".80" stop-color="#12beb9"/><stop offset=".85" stop-color="#249fe6"/><stop offset=".90" stop-color="#249fe6"/><stop offset=".95" stop-color="#249fe6"/><stop offset="1.00" stop-color="#0ab4d2"/></linearGradient><rect x="381.70" y="481.00" width="273.90" height="3.30" fill="url(#g102)" shape-rendering="crispEdges"/><linearGradient id="g103" gradientUnits="userSpaceOnUse" x1="384.7" x2="652.6" y1="0" y2="0"><stop offset=".00" stop-color="#249fe6"/><stop offset=".05" stop-color="#249fe6"/><stop offset=".10" stop-color="#249fe6"/><stop offset=".15" stop-color="#249fe6"/><stop offset=".20" stop-color="#249fe6"/><stop offset=".25" stop-color="#4369fe"/><stop offset=".30" stop-color="#484ef1"/><stop offset=".35" stop-color="#484ef1"/><stop offset=".40" stop-color="#484ef1"/><stop offset=".45" stop-color="#4539d9"/><stop offset=".50" stop-color="#4369fe"/><stop offset=".55" stop-color="#2e85f8"/><stop offset=".60" stop-color="#0ab4d2"/><stop offset=".65" stop-color="#84cc56"/><stop offset=".70" stop-color="#fcd030"/><stop offset=".75" stop-color="#fcbc3d"/><stop offset=".80" stop-color="#fcd030"/><stop offset=".85" stop-color="#fcd030"/><stop offset=".90" stop-color="#fcd030"/><stop offset=".95" stop-color="#fcd030"/><stop offset="1.00" stop-color="#debd29"/></linearGradient><rect x="381.70" y="483.70" width="273.90" height="5.30" fill="url(#g103)" shape-rendering="crispEdges"/></g></g><rect x="450.88" y="478.30" width="1.6" height="8.10" fill="#dde6f3"/><rect x="558.04" y="478.30" width="1.6" height="8.10" fill="#dde6f3"/><line x1="497.8" y1="478.3" x2="497.8" y2="486.4" stroke="#000" stroke-width="1.90" stroke-dasharray="4.3 5.1"/><line x1="518.6" y1="478.3" x2="518.6" y2="486.4" stroke="#000" stroke-width="1.60" /><line x1="461.99" y1="480.65" x2="462.79" y2="484.05" stroke="#f2f2f2" stroke-width="1.10"/><line x1="496.82" y1="483.35" x2="497.62" y2="486.75" stroke="#f2f2f2" stroke-width="1.10"/><line x1="468.69" y1="477.95" x2="469.49" y2="481.35" stroke="#111" stroke-width="1.10"/><line x1="491.46" y1="483.35" x2="492.26" y2="486.75" stroke="#111" stroke-width="1.10"/><line x1="557.90" y1="483.35" x2="558.70" y2="486.75" stroke="#111" stroke-width="1.10"/><line x1="411.5" y1="486.4" x2="411.5" y2="484.2" stroke="#333" stroke-width="0.80" /><line x1="438.3" y1="486.4" x2="438.3" y2="484.2" stroke="#333" stroke-width="0.80" /><line x1="465.1" y1="486.4" x2="465.1" y2="484.2" stroke="#333" stroke-width="0.80" /><line x1="491.9" y1="486.4" x2="491.9" y2="484.2" stroke="#333" stroke-width="0.80" /><line x1="518.6" y1="486.4" x2="518.6" y2="484.2" stroke="#333" stroke-width="0.80" /><line x1="545.4" y1="486.4" x2="545.4" y2="484.2" stroke="#333" stroke-width="0.80" /><line x1="572.2" y1="486.4" x2="572.2" y2="484.2" stroke="#333" stroke-width="0.80" /><line x1="599.0" y1="486.4" x2="599.0" y2="484.2" stroke="#333" stroke-width="0.80" /><line x1="625.8" y1="486.4" x2="625.8" y2="484.2" stroke="#333" stroke-width="0.80" /><line x1="384.4" y1="478.3" x2="384.4" y2="486.4" stroke="#1a8c1a" stroke-width="1.30" /><text x="381.7" y="488.1" font-size="8.70" text-anchor="end" fill="#1a8c1a" >3</text><text transform="translate(656.0 483.7) rotate(90)" font-size="8.70" text-anchor="middle" fill="#262626">mixed</text><clipPath id="c104"><rect x="384.70" y="488.40" width="267.90" height="51.40"/></clipPath><g clip-path="url(#c104)"><g filter="url(#hb)"><linearGradient id="g105" gradientUnits="userSpaceOnUse" x1="384.7" x2="652.6" y1="0" y2="0"><stop offset=".00" stop-color="#4369fe"/><stop offset=".05" stop-color="#4369fe"/><stop offset=".10" stop-color="#4539d9"/><stop offset=".15" stop-color="#4539d9"/><stop offset=".20" stop-color="#2e85f8"/><stop offset=".25" stop-color="#fcd030"/><stop offset=".30" stop-color="#fcd030"/><stop offset=".35" stop-color="#debd29"/><stop offset=".40" stop-color="#33c69d"/><stop offset=".45" stop-color="#0ab4d2"/><stop offset=".50" stop-color="#4369fe"/><stop offset=".55" stop-color="#4539d9"/><stop offset=".60" stop-color="#4539d9"/><stop offset=".65" stop-color="#4539d9"/><stop offset=".70" stop-color="#4369fe"/><stop offset=".75" stop-color="#2e85f8"/><stop offset=".80" stop-color="#debd29"/><stop offset=".85" stop-color="#f9fb15"/><stop offset=".90" stop-color="#debd29"/><stop offset=".95" stop-color="#484ef1"/><stop offset="1.00" stop-color="#2e85f8"/></linearGradient><rect x="381.70" y="486.40" width="273.90" height="5.17" fill="url(#g105)" shape-rendering="crispEdges"/><linearGradient id="g106" gradientUnits="userSpaceOnUse" x1="384.7" x2="652.6" y1="0" y2="0"><stop offset=".00" stop-color="#4539d9"/><stop offset=".05" stop-color="#484ef1"/><stop offset=".10" stop-color="#2e85f8"/><stop offset=".15" stop-color="#2e85f8"/><stop offset=".20" stop-color="#249fe6"/><stop offset=".25" stop-color="#84cc56"/><stop offset=".30" stop-color="#f9fb15"/><stop offset=".35" stop-color="#fcd030"/><stop offset=".40" stop-color="#33c69d"/><stop offset=".45" stop-color="#0ab4d2"/><stop offset=".50" stop-color="#0ab4d2"/><stop offset=".55" stop-color="#debd29"/><stop offset=".60" stop-color="#fcd030"/><stop offset=".65" stop-color="#84cc56"/><stop offset=".70" stop-color="#fcd030"/><stop offset=".75" stop-color="#debd29"/><stop offset=".80" stop-color="#0ab4d2"/><stop offset=".85" stop-color="#0ab4d2"/><stop offset=".90" stop-color="#0ab4d2"/><stop offset=".95" stop-color="#2e85f8"/><stop offset="1.00" stop-color="#0ab4d2"/></linearGradient><rect x="381.70" y="490.97" width="273.90" height="3.17" fill="url(#g106)" shape-rendering="crispEdges"/><linearGradient id="g107" gradientUnits="userSpaceOnUse" x1="384.7" x2="652.6" y1="0" y2="0"><stop offset=".00" stop-color="#2e85f8"/><stop offset=".05" stop-color="#2e85f8"/><stop offset=".10" stop-color="#2e85f8"/><stop offset=".15" stop-color="#2e85f8"/><stop offset=".20" stop-color="#4369fe"/><stop offset=".25" stop-color="#4539d9"/><stop offset=".30" stop-color="#2e85f8"/><stop offset=".35" stop-color="#debd29"/><stop offset=".40" stop-color="#fcd030"/><stop offset=".45" stop-color="#33c69d"/><stop offset=".50" stop-color="#249fe6"/><stop offset=".55" stop-color="#2e85f8"/><stop offset=".60" stop-color="#4369fe"/><stop offset=".65" stop-color="#4369fe"/><stop offset=".70" stop-color="#2e85f8"/><stop offset=".75" stop-color="#b4c533"/><stop offset=".80" stop-color="#fcd030"/><stop offset=".85" stop-color="#debd29"/><stop offset=".90" stop-color="#84cc56"/><stop offset=".95" stop-color="#0ab4d2"/><stop offset="1.00" stop-color="#0ab4d2"/></linearGradient><rect x="381.70" y="493.54" width="273.90" height="3.17" fill="url(#g107)" shape-rendering="crispEdges"/><linearGradient id="g108" gradientUnits="userSpaceOnUse" x1="384.7" x2="652.6" y1="0" y2="0"><stop offset=".00" stop-color="#0ab4d2"/><stop offset=".05" stop-color="#2e85f8"/><stop offset=".10" stop-color="#2e85f8"/><stop offset=".15" stop-color="#4539d9"/><stop offset=".20" stop-color="#484ef1"/><stop offset=".25" stop-color="#0ab4d2"/><stop offset=".30" stop-color="#debd29"/><stop offset=".35" stop-color="#fcbc3d"/><stop offset=".40" stop-color="#fcd030"/><stop offset=".45" stop-color="#84cc56"/><stop offset=".50" stop-color="#12beb9"/><stop offset=".55" stop-color="#33c69d"/><stop offset=".60" stop-color="#debd29"/><stop offset=".65" stop-color="#0ab4d2"/><stop offset=".70" stop-color="#2e85f8"/><stop offset=".75" stop-color="#0ab4d2"/><stop offset=".80" stop-color="#33c69d"/><stop offset=".85" stop-color="#0ab4d2"/><stop offset=".90" stop-color="#484ef1"/><stop offset=".95" stop-color="#484ef1"/><stop offset="1.00" stop-color="#2e85f8"/></linearGradient><rect x="381.70" y="496.11" width="273.90" height="3.17" fill="url(#g108)" shape-rendering="crispEdges"/><linearGradient id="g109" gradientUnits="userSpaceOnUse" x1="384.7" x2="652.6" y1="0" y2="0"><stop offset=".00" stop-color="#2e85f8"/><stop offset=".05" stop-color="#484ef1"/><stop offset=".10" stop-color="#484ef1"/><stop offset=".15" stop-color="#2e85f8"/><stop offset=".20" stop-color="#249fe6"/><stop offset=".25" stop-color="#2a92ee"/><stop offset=".30" stop-color="#2e85f8"/><stop offset=".35" stop-color="#84cc56"/><stop offset=".40" stop-color="#fcd030"/><stop offset=".45" stop-color="#fcd030"/><stop offset=".50" stop-color="#01b9c6"/><stop offset=".55" stop-color="#3f29b0"/><stop offset=".60" stop-color="#484ef1"/><stop offset=".65" stop-color="#2e85f8"/><stop offset=".70" stop-color="#0ab4d2"/><stop offset=".75" stop-color="#12beb9"/><stop offset=".80" stop-color="#33c69d"/><stop offset=".85" stop-color="#33c69d"/><stop offset=".90" stop-color="#33c69d"/><stop offset=".95" stop-color="#33c69d"/><stop offset="1.00" stop-color="#0ab4d2"/></linearGradient><rect x="381.70" y="498.68" width="273.90" height="3.17" fill="url(#g109)" shape-rendering="crispEdges"/><linearGradient id="g110" gradientUnits="userSpaceOnUse" x1="384.7" x2="652.6" y1="0" y2="0"><stop offset=".00" stop-color="#4369fe"/><stop offset=".05" stop-color="#4539d9"/><stop offset=".10" stop-color="#4539d9"/><stop offset=".15" stop-color="#2e85f8"/><stop offset=".20" stop-color="#2e85f8"/><stop offset=".25" stop-color="#249fe6"/><stop offset=".30" stop-color="#0ab4d2"/><stop offset=".35" stop-color="#0ab4d2"/><stop offset=".40" stop-color="#fcd030"/><stop offset=".45" stop-color="#f9fb15"/><stop offset=".50" stop-color="#84cc56"/><stop offset=".55" stop-color="#249fe6"/><stop offset=".60" stop-color="#2e85f8"/><stop offset=".65" stop-color="#4369fe"/><stop offset=".70" stop-color="#debd29"/><stop offset=".75" stop-color="#debd29"/><stop offset=".80" stop-color="#0ab4d2"/><stop offset=".85" stop-color="#33c69d"/><stop offset=".90" stop-color="#f9fb15"/><stop offset=".95" stop-color="#fcd030"/><stop offset="1.00" stop-color="#2e85f8"/></linearGradient><rect x="381.70" y="501.25" width="273.90" height="3.17" fill="url(#g110)" shape-rendering="crispEdges"/><linearGradient id="g111" gradientUnits="userSpaceOnUse" x1="384.7" x2="652.6" y1="0" y2="0"><stop offset=".00" stop-color="#0ab4d2"/><stop offset=".05" stop-color="#12beb9"/><stop offset=".10" stop-color="#33c69d"/><stop offset=".15" stop-color="#0ab4d2"/><stop offset=".20" stop-color="#2e85f8"/><stop offset=".25" stop-color="#3777fe"/><stop offset=".30" stop-color="#4369fe"/><stop offset=".35" stop-color="#2e85f8"/><stop offset=".40" stop-color="#33c69d"/><stop offset=".45" stop-color="#f9fb15"/><stop offset=".50" stop-color="#fcd030"/><stop offset=".55" stop-color="#33c69d"/><stop offset=".60" stop-color="#2e85f8"/><stop offset=".65" stop-color="#4369fe"/><stop offset=".70" stop-color="#2e85f8"/><stop offset=".75" stop-color="#2e85f8"/><stop offset=".80" stop-color="#2e85f8"/><stop offset=".85" stop-color="#2e85f8"/><stop offset=".90" stop-color="#2e85f8"/><stop offset=".95" stop-color="#4369fe"/><stop offset="1.00" stop-color="#4539d9"/></linearGradient><rect x="381.70" y="503.82" width="273.90" height="3.17" fill="url(#g111)" shape-rendering="crispEdges"/><linearGradient id="g112" gradientUnits="userSpaceOnUse" x1="384.7" x2="652.6" y1="0" y2="0"><stop offset=".00" stop-color="#484ef1"/><stop offset=".05" stop-color="#484ef1"/><stop offset=".10" stop-color="#4369fe"/><stop offset=".15" stop-color="#2e85f8"/><stop offset=".20" stop-color="#4539d9"/><stop offset=".25" stop-color="#4369fe"/><stop offset=".30" stop-color="#484ef1"/><stop offset=".35" stop-color="#4369fe"/><stop offset=".40" stop-color="#249fe6"/><stop offset=".45" stop-color="#2e85f8"/><stop offset=".50" stop-color="#fcbc3d"/><stop offset=".55" stop-color="#fcd030"/><stop offset=".60" stop-color="#fcd030"/><stop offset=".65" stop-color="#84cc56"/><stop offset=".70" stop-color="#0ab4d2"/><stop offset=".75" stop-color="#2a92ee"/><stop offset=".80" stop-color="#4369fe"/><stop offset=".85" stop-color="#3f29b0"/><stop offset=".90" stop-color="#4539d9"/><stop offset=".95" stop-color="#4369fe"/><stop offset="1.00" stop-color="#4369fe"/></linearGradient><rect x="381.70" y="506.39" width="273.90" height="3.17" fill="url(#g112)" shape-rendering="crispEdges"/><linearGradient id="g113" gradientUnits="userSpaceOnUse" x1="384.7" x2="652.6" y1="0" y2="0"><stop offset=".00" stop-color="#484ef1"/><stop offset=".05" stop-color="#4539d9"/><stop offset=".10" stop-color="#484ef1"/><stop offset=".15" stop-color="#4539d9"/><stop offset=".20" stop-color="#4369fe"/><stop offset=".25" stop-color="#475bf9"/><stop offset=".30" stop-color="#2e85f8"/><stop offset=".35" stop-color="#2e85f8"/><stop offset=".40" stop-color="#484ef1"/><stop offset=".45" stop-color="#0ab4d2"/><stop offset=".50" stop-color="#fcd030"/><stop offset=".55" stop-color="#fcd030"/><stop offset=".60" stop-color="#33c69d"/><stop offset=".65" stop-color="#249fe6"/><stop offset=".70" stop-color="#84cc56"/><stop offset=".75" stop-color="#84cc56"/><stop offset=".80" stop-color="#0ab4d2"/><stop offset=".85" stop-color="#0ab4d2"/><stop offset=".90" stop-color="#0ab4d2"/><stop offset=".95" stop-color="#0ab4d2"/><stop offset="1.00" stop-color="#0ab4d2"/></linearGradient><rect x="381.70" y="508.96" width="273.90" height="3.17" fill="url(#g113)" shape-rendering="crispEdges"/><linearGradient id="g114" gradientUnits="userSpaceOnUse" x1="384.7" x2="652.6" y1="0" y2="0"><stop offset=".00" stop-color="#249fe6"/><stop offset=".05" stop-color="#249fe6"/><stop offset=".10" stop-color="#249fe6"/><stop offset=".15" stop-color="#249fe6"/><stop offset=".20" stop-color="#249fe6"/><stop offset=".25" stop-color="#2e85f8"/><stop offset=".30" stop-color="#2e85f8"/><stop offset=".35" stop-color="#484ef1"/><stop offset=".40" stop-color="#3f29b0"/><stop offset=".45" stop-color="#2e85f8"/><stop offset=".50" stop-color="#b4c533"/><stop offset=".55" stop-color="#f9fb15"/><stop offset=".60" stop-color="#fcd030"/><stop offset=".65" stop-color="#fcd030"/><stop offset=".70" stop-color="#debd29"/><stop offset=".75" stop-color="#12beb9"/><stop offset=".80" stop-color="#84cc56"/><stop offset=".85" stop-color="#84cc56"/><stop offset=".90" stop-color="#0ab4d2"/><stop offset=".95" stop-color="#249fe6"/><stop offset="1.00" stop-color="#0ab4d2"/></linearGradient><rect x="381.70" y="511.53" width="273.90" height="3.17" fill="url(#g114)" shape-rendering="crispEdges"/><linearGradient id="g115" gradientUnits="userSpaceOnUse" x1="384.7" x2="652.6" y1="0" y2="0"><stop offset=".00" stop-color="#0ab4d2"/><stop offset=".05" stop-color="#0ab4d2"/><stop offset=".10" stop-color="#249fe6"/><stop offset=".15" stop-color="#2e85f8"/><stop offset=".20" stop-color="#4369fe"/><stop offset=".25" stop-color="#3777fe"/><stop offset=".30" stop-color="#0ab4d2"/><stop offset=".35" stop-color="#12beb9"/><stop offset=".40" stop-color="#2e85f8"/><stop offset=".45" stop-color="#2e85f8"/><stop offset=".50" stop-color="#84cc56"/><stop offset=".55" stop-color="#f9fb15"/><stop offset=".60" stop-color="#fcd030"/><stop offset=".65" stop-color="#84cc56"/><stop offset=".70" stop-color="#2e85f8"/><stop offset=".75" stop-color="#4743e7"/><stop offset=".80" stop-color="#4369fe"/><stop offset=".85" stop-color="#2e85f8"/><stop offset=".90" stop-color="#2e85f8"/><stop offset=".95" stop-color="#484ef1"/><stop offset="1.00" stop-color="#484ef1"/></linearGradient><rect x="381.70" y="514.10" width="273.90" height="3.17" fill="url(#g115)" shape-rendering="crispEdges"/><linearGradient id="g116" gradientUnits="userSpaceOnUse" x1="384.7" x2="652.6" y1="0" y2="0"><stop offset=".00" stop-color="#2e85f8"/><stop offset=".05" stop-color="#484ef1"/><stop offset=".10" stop-color="#4539d9"/><stop offset=".15" stop-color="#4539d9"/><stop offset=".20" stop-color="#4539d9"/><stop offset=".25" stop-color="#484ef1"/><stop offset=".30" stop-color="#4369fe"/><stop offset=".35" stop-color="#484ef1"/><stop offset=".40" stop-color="#484ef1"/><stop offset=".45" stop-color="#484ef1"/><stop offset=".50" stop-color="#0ab4d2"/><stop offset=".55" stop-color="#f9fb15"/><stop offset=".60" stop-color="#debd29"/><stop offset=".65" stop-color="#fcd030"/><stop offset=".70" stop-color="#fcd030"/><stop offset=".75" stop-color="#fcd030"/><stop offset=".80" stop-color="#0ab4d2"/><stop offset=".85" stop-color="#4539d9"/><stop offset=".90" stop-color="#484ef1"/><stop offset=".95" stop-color="#2e85f8"/><stop offset="1.00" stop-color="#2e85f8"/></linearGradient><rect x="381.70" y="516.67" width="273.90" height="3.17" fill="url(#g116)" shape-rendering="crispEdges"/><linearGradient id="g117" gradientUnits="userSpaceOnUse" x1="384.7" x2="652.6" y1="0" y2="0"><stop offset=".00" stop-color="#4539d9"/><stop offset=".05" stop-color="#4369fe"/><stop offset=".10" stop-color="#2e85f8"/><stop offset=".15" stop-color="#2e85f8"/><stop offset=".20" stop-color="#484ef1"/><stop offset=".25" stop-color="#2e85f8"/><stop offset=".30" stop-color="#12beb9"/><stop offset=".35" stop-color="#249fe6"/><stop offset=".40" stop-color="#33c69d"/><stop offset=".45" stop-color="#249fe6"/><stop offset=".50" stop-color="#2e85f8"/><stop offset=".55" stop-color="#0ab4d2"/><stop offset=".60" stop-color="#f9fb15"/><stop offset=".65" stop-color="#33c69d"/><stop offset=".70" stop-color="#0ab4d2"/><stop offset=".75" stop-color="#249fe6"/><stop offset=".80" stop-color="#0ab4d2"/><stop offset=".85" stop-color="#0ab4d2"/><stop offset=".90" stop-color="#33c69d"/><stop offset=".95" stop-color="#debd29"/><stop offset="1.00" stop-color="#fcd030"/></linearGradient><rect x="381.70" y="519.24" width="273.90" height="3.17" fill="url(#g117)" shape-rendering="crispEdges"/><linearGradient id="g118" gradientUnits="userSpaceOnUse" x1="384.7" x2="652.6" y1="0" y2="0"><stop offset=".00" stop-color="#249fe6"/><stop offset=".05" stop-color="#0ab4d2"/><stop offset=".10" stop-color="#0ab4d2"/><stop offset=".15" stop-color="#249fe6"/><stop offset=".20" stop-color="#249fe6"/><stop offset=".25" stop-color="#2a92ee"/><stop offset=".30" stop-color="#2e85f8"/><stop offset=".35" stop-color="#2e85f8"/><stop offset=".40" stop-color="#2e85f8"/><stop offset=".45" stop-color="#2e85f8"/><stop offset=".50" stop-color="#0ab4d2"/><stop offset=".55" stop-color="#fcd030"/><stop offset=".60" stop-color="#f9fb15"/><stop offset=".65" stop-color="#debd29"/><stop offset=".70" stop-color="#484ef1"/><stop offset=".75" stop-color="#484ef1"/><stop offset=".80" stop-color="#f9fb15"/><stop offset=".85" stop-color="#fcd030"/><stop offset=".90" stop-color="#0ab4d2"/><stop offset=".95" stop-color="#0ab4d2"/><stop offset="1.00" stop-color="#0ab4d2"/></linearGradient><rect x="381.70" y="521.81" width="273.90" height="3.17" fill="url(#g118)" shape-rendering="crispEdges"/><linearGradient id="g119" gradientUnits="userSpaceOnUse" x1="384.7" x2="652.6" y1="0" y2="0"><stop offset=".00" stop-color="#249fe6"/><stop offset=".05" stop-color="#249fe6"/><stop offset=".10" stop-color="#0ab4d2"/><stop offset=".15" stop-color="#2e85f8"/><stop offset=".20" stop-color="#484ef1"/><stop offset=".25" stop-color="#4743e7"/><stop offset=".30" stop-color="#484ef1"/><stop offset=".35" stop-color="#484ef1"/><stop offset=".40" stop-color="#484ef1"/><stop offset=".45" stop-color="#484ef1"/><stop offset=".50" stop-color="#2e85f8"/><stop offset=".55" stop-color="#84cc56"/><stop offset=".60" stop-color="#f9fb15"/><stop offset=".65" stop-color="#fcd030"/><stop offset=".70" stop-color="#0ab4d2"/><stop offset=".75" stop-color="#249fe6"/><stop offset=".80" stop-color="#2e85f8"/><stop offset=".85" stop-color="#2e85f8"/><stop offset=".90" stop-color="#2e85f8"/><stop offset=".95" stop-color="#2e85f8"/><stop offset="1.00" stop-color="#2e85f8"/></linearGradient><rect x="381.70" y="524.38" width="273.90" height="3.17" fill="url(#g119)" shape-rendering="crispEdges"/><linearGradient id="g120" gradientUnits="userSpaceOnUse" x1="384.7" x2="652.6" y1="0" y2="0"><stop offset=".00" stop-color="#249fe6"/><stop offset=".05" stop-color="#33c69d"/><stop offset=".10" stop-color="#33c69d"/><stop offset=".15" stop-color="#12beb9"/><stop offset=".20" stop-color="#249fe6"/><stop offset=".25" stop-color="#debd29"/><stop offset=".30" stop-color="#fcd030"/><stop offset=".35" stop-color="#33c69d"/><stop offset=".40" stop-color="#2e85f8"/><stop offset=".45" stop-color="#484ef1"/><stop offset=".50" stop-color="#2e85f8"/><stop offset=".55" stop-color="#33c69d"/><stop offset=".60" stop-color="#fcd030"/><stop offset=".65" stop-color="#f9fb15"/><stop offset=".70" stop-color="#fcd030"/><stop offset=".75" stop-color="#fcd030"/><stop offset=".80" stop-color="#debd29"/><stop offset=".85" stop-color="#0ab4d2"/><stop offset=".90" stop-color="#2e85f8"/><stop offset=".95" stop-color="#2e85f8"/><stop offset="1.00" stop-color="#0ab4d2"/></linearGradient><rect x="381.70" y="526.95" width="273.90" height="3.17" fill="url(#g120)" shape-rendering="crispEdges"/><linearGradient id="g121" gradientUnits="userSpaceOnUse" x1="384.7" x2="652.6" y1="0" y2="0"><stop offset=".00" stop-color="#484ef1"/><stop offset=".05" stop-color="#484ef1"/><stop offset=".10" stop-color="#484ef1"/><stop offset=".15" stop-color="#484ef1"/><stop offset=".20" stop-color="#484ef1"/><stop offset=".25" stop-color="#475bf9"/><stop offset=".30" stop-color="#484ef1"/><stop offset=".35" stop-color="#4369fe"/><stop offset=".40" stop-color="#484ef1"/><stop offset=".45" stop-color="#484ef1"/><stop offset=".50" stop-color="#2e85f8"/><stop offset=".55" stop-color="#84cc56"/><stop offset=".60" stop-color="#f9fb15"/><stop offset=".65" stop-color="#f9fb15"/><stop offset=".70" stop-color="#33c69d"/><stop offset=".75" stop-color="#0ab4d2"/><stop offset=".80" stop-color="#2e85f8"/><stop offset=".85" stop-color="#2e85f8"/><stop offset=".90" stop-color="#2e85f8"/><stop offset=".95" stop-color="#2e85f8"/><stop offset="1.00" stop-color="#2e85f8"/></linearGradient><rect x="381.70" y="529.52" width="273.90" height="3.17" fill="url(#g121)" shape-rendering="crispEdges"/><linearGradient id="g122" gradientUnits="userSpaceOnUse" x1="384.7" x2="652.6" y1="0" y2="0"><stop offset=".00" stop-color="#4369fe"/><stop offset=".05" stop-color="#4369fe"/><stop offset=".10" stop-color="#4369fe"/><stop offset=".15" stop-color="#484ef1"/><stop offset=".20" stop-color="#484ef1"/><stop offset=".25" stop-color="#4369fe"/><stop offset=".30" stop-color="#4369fe"/><stop offset=".35" stop-color="#4369fe"/><stop offset=".40" stop-color="#4369fe"/><stop offset=".45" stop-color="#4369fe"/><stop offset=".50" stop-color="#2e85f8"/><stop offset=".55" stop-color="#2e85f8"/><stop offset=".60" stop-color="#debd29"/><stop offset=".65" stop-color="#f9fb15"/><stop offset=".70" stop-color="#84cc56"/><stop offset=".75" stop-color="#4369fe"/><stop offset=".80" stop-color="#3f29b0"/><stop offset=".85" stop-color="#3f29b0"/><stop offset=".90" stop-color="#484ef1"/><stop offset=".95" stop-color="#4369fe"/><stop offset="1.00" stop-color="#4369fe"/></linearGradient><rect x="381.70" y="532.09" width="273.90" height="3.17" fill="url(#g122)" shape-rendering="crispEdges"/><linearGradient id="g123" gradientUnits="userSpaceOnUse" x1="384.7" x2="652.6" y1="0" y2="0"><stop offset=".00" stop-color="#0ab4d2"/><stop offset=".05" stop-color="#33c69d"/><stop offset=".10" stop-color="#33c69d"/><stop offset=".15" stop-color="#12beb9"/><stop offset=".20" stop-color="#2e85f8"/><stop offset=".25" stop-color="#2e85f8"/><stop offset=".30" stop-color="#249fe6"/><stop offset=".35" stop-color="#0ab4d2"/><stop offset=".40" stop-color="#33c69d"/><stop offset=".45" stop-color="#2e85f8"/><stop offset=".50" stop-color="#4539d9"/><stop offset=".55" stop-color="#2e85f8"/><stop offset=".60" stop-color="#fcd030"/><stop offset=".65" stop-color="#f9fb15"/><stop offset=".70" stop-color="#0ab4d2"/><stop offset=".75" stop-color="#249fe6"/><stop offset=".80" stop-color="#2e85f8"/><stop offset=".85" stop-color="#2e85f8"/><stop offset=".90" stop-color="#2e85f8"/><stop offset=".95" stop-color="#2e85f8"/><stop offset="1.00" stop-color="#2e85f8"/></linearGradient><rect x="381.70" y="534.66" width="273.90" height="3.17" fill="url(#g123)" shape-rendering="crispEdges"/><linearGradient id="g124" gradientUnits="userSpaceOnUse" x1="384.7" x2="652.6" y1="0" y2="0"><stop offset=".00" stop-color="#4369fe"/><stop offset=".05" stop-color="#484ef1"/><stop offset=".10" stop-color="#484ef1"/><stop offset=".15" stop-color="#484ef1"/><stop offset=".20" stop-color="#4369fe"/><stop offset=".25" stop-color="#484ef1"/><stop offset=".30" stop-color="#4539d9"/><stop offset=".35" stop-color="#2e85f8"/><stop offset=".40" stop-color="#84cc56"/><stop offset=".45" stop-color="#33c69d"/><stop offset=".50" stop-color="#3777fe"/><stop offset=".55" stop-color="#84cc56"/><stop offset=".60" stop-color="#debd29"/><stop offset=".65" stop-color="#f9fb15"/><stop offset=".70" stop-color="#fcd030"/><stop offset=".75" stop-color="#b4c533"/><stop offset=".80" stop-color="#fcd030"/><stop offset=".85" stop-color="#fcd030"/><stop offset=".90" stop-color="#debd29"/><stop offset=".95" stop-color="#debd29"/><stop offset="1.00" stop-color="#84cc56"/></linearGradient><rect x="381.70" y="537.23" width="273.90" height="5.17" fill="url(#g124)" shape-rendering="crispEdges"/></g></g><rect x="450.88" y="488.40" width="1.6" height="51.40" fill="#dde6f3"/><rect x="558.04" y="488.40" width="1.6" height="51.40" fill="#dde6f3"/><line x1="497.8" y1="488.4" x2="497.8" y2="539.8" stroke="#000" stroke-width="1.90" stroke-dasharray="4.3 5.1"/><line x1="518.6" y1="488.4" x2="518.6" y2="539.8" stroke="#000" stroke-width="1.60" /><line x1="453.95" y1="487.99" x2="454.75" y2="491.38" stroke="#111" stroke-width="1.10"/><line x1="465.21" y1="490.56" x2="466.01" y2="493.95" stroke="#111" stroke-width="1.10"/><line x1="479.94" y1="493.12" x2="480.74" y2="496.52" stroke="#111" stroke-width="1.10"/><line x1="483.42" y1="495.69" x2="484.22" y2="499.09" stroke="#111" stroke-width="1.10"/><line x1="488.78" y1="498.26" x2="489.58" y2="501.66" stroke="#111" stroke-width="1.10"/><line x1="498.16" y1="500.83" x2="498.96" y2="504.23" stroke="#111" stroke-width="1.10"/><line x1="512.09" y1="503.40" x2="512.89" y2="506.80" stroke="#111" stroke-width="1.10"/><line x1="520.13" y1="505.97" x2="520.93" y2="509.37" stroke="#111" stroke-width="1.10"/><line x1="522.27" y1="508.54" x2="523.07" y2="511.94" stroke="#111" stroke-width="1.10"/><line x1="531.65" y1="511.11" x2="532.45" y2="514.51" stroke="#111" stroke-width="1.10"/><line x1="534.32" y1="513.68" x2="535.12" y2="517.09" stroke="#111" stroke-width="1.10"/><line x1="535.66" y1="516.25" x2="536.46" y2="519.65" stroke="#111" stroke-width="1.10"/><line x1="539.68" y1="518.82" x2="540.48" y2="522.23" stroke="#111" stroke-width="1.10"/><line x1="541.02" y1="521.39" x2="541.82" y2="524.79" stroke="#111" stroke-width="1.10"/><line x1="544.24" y1="523.96" x2="545.04" y2="527.37" stroke="#111" stroke-width="1.10"/><line x1="547.72" y1="526.53" x2="548.52" y2="529.94" stroke="#111" stroke-width="1.10"/><line x1="549.06" y1="529.10" x2="549.86" y2="532.50" stroke="#111" stroke-width="1.10"/><line x1="551.20" y1="531.67" x2="552.00" y2="535.08" stroke="#111" stroke-width="1.10"/><line x1="554.42" y1="534.24" x2="555.22" y2="537.64" stroke="#111" stroke-width="1.10"/><line x1="557.90" y1="536.81" x2="558.70" y2="540.22" stroke="#111" stroke-width="1.10"/><line x1="411.5" y1="539.8" x2="411.5" y2="537.6" stroke="#333" stroke-width="0.80" /><line x1="438.3" y1="539.8" x2="438.3" y2="537.6" stroke="#333" stroke-width="0.80" /><line x1="465.1" y1="539.8" x2="465.1" y2="537.6" stroke="#333" stroke-width="0.80" /><line x1="491.9" y1="539.8" x2="491.9" y2="537.6" stroke="#333" stroke-width="0.80" /><line x1="518.6" y1="539.8" x2="518.6" y2="537.6" stroke="#333" stroke-width="0.80" /><line x1="545.4" y1="539.8" x2="545.4" y2="537.6" stroke="#333" stroke-width="0.80" /><line x1="572.2" y1="539.8" x2="572.2" y2="537.6" stroke="#333" stroke-width="0.80" /><line x1="599.0" y1="539.8" x2="599.0" y2="537.6" stroke="#333" stroke-width="0.80" /><line x1="625.8" y1="539.8" x2="625.8" y2="537.6" stroke="#333" stroke-width="0.80" /><line x1="384.4" y1="488.4" x2="384.4" y2="539.8" stroke="#1a8c1a" stroke-width="1.30" /><text x="381.7" y="503.1" font-size="8.70" text-anchor="end" fill="#1a8c1a" >5</text><text x="381.7" y="515.9" font-size="8.70" text-anchor="end" fill="#1a8c1a" >10</text><text x="381.7" y="528.8" font-size="8.70" text-anchor="end" fill="#1a8c1a" >15</text><text x="381.7" y="541.6" font-size="8.70" text-anchor="end" fill="#1a8c1a" >20</text><text transform="translate(656.0 515.4) rotate(90)" font-size="8.70" text-anchor="middle" fill="#262626">positive</text><text x="384.7" y="552.5" font-size="8.70" text-anchor="middle" fill="#262626" >-0.5</text><text x="411.5" y="552.5" font-size="8.70" text-anchor="middle" fill="#262626" >-0.4</text><text x="438.3" y="552.5" font-size="8.70" text-anchor="middle" fill="#262626" >-0.3</text><text x="465.1" y="552.5" font-size="8.70" text-anchor="middle" fill="#262626" >-0.2</text><text x="491.9" y="552.5" font-size="8.70" text-anchor="middle" fill="#262626" >-0.1</text><text x="518.6" y="552.5" font-size="8.70" text-anchor="middle" fill="#262626" >0</text><text x="545.4" y="552.5" font-size="8.70" text-anchor="middle" fill="#262626" >0.1</text><text x="572.2" y="552.5" font-size="8.70" text-anchor="middle" fill="#262626" >0.2</text><text x="599.0" y="552.5" font-size="8.70" text-anchor="middle" fill="#262626" >0.3</text><text x="625.8" y="552.5" font-size="8.70" text-anchor="middle" fill="#262626" >0.4</text><text x="652.6" y="552.5" font-size="8.70" text-anchor="middle" fill="#262626" >0.5</text><text x="520.0" y="564.9" font-size="8.70" text-anchor="middle" fill="#262626" >Time aligned on sacc. ends (s)</text><text transform="translate(366.6 480.0) rotate(-90)" font-size="8.70" text-anchor="middle" fill="#1a8c1a">HPC Cells #</text><text x="-0.3" y="357.8" font-size="16.50" text-anchor="start" fill="#000" font-weight="bold">e</text><text x="347.8" y="427.7" font-size="16.50" text-anchor="start" fill="#000" font-weight="bold">f</text><rect x="452.2" y="350.8" width="200.4" height="52" fill="#fff" stroke="#9a9a9a" stroke-width="0.8"/><line x1="462.5" y1="361.7" x2="493.0" y2="361.7" stroke="#222" stroke-width="1.10" stroke-dasharray="2.8 2.6"/><line x1="462.5" y1="372.3" x2="493.0" y2="372.3" stroke="#000" stroke-width="1.60" /><rect x="462.8" y="381.5" width="30.5" height="14" fill="#e8eefc" stroke="#c3d2ee" stroke-width="0.8"/><text x="501.7" y="364.9" font-size="8.70" text-anchor="start" fill="#262626" >saccade starts (–78 ms avg.)</text><text x="501.7" y="375.4" font-size="8.70" text-anchor="start" fill="#262626" >saccade ends</text><text x="501.7" y="390.8" font-size="8.70" text-anchor="start" fill="#262626" >response window (–250 to +150 ms)</text></svg></body></html>
